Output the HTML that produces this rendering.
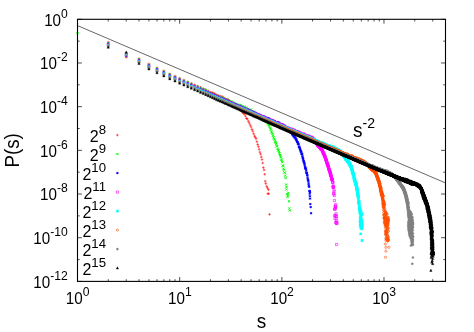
<!DOCTYPE html>
<html><head><meta charset="utf-8"><title>P(s)</title><style>html,body{margin:0;padding:0;background:#fff}svg{display:block}</style></head><body>
<svg width="474" height="332" viewBox="0 0 474 332" font-family="'Liberation Sans', sans-serif" fill="#000">
<rect width="474" height="332" fill="#fff"/>
<g stroke-linecap="butt">
<path fill="none" stroke="#ff0000" stroke-width="0.6" d="M106.95 42.26h2.6M108.25 40.96v2.6M124.94 57.34h2.6M126.24 56.04v2.6M137.71 58.56h2.6M139.01 57.26v2.6M147.61 63.96h2.6M148.91 62.66v2.6M155.70 67.76h2.6M157.0 66.46v2.6M162.54 70.86h2.6M163.84 69.56v2.6M168.46 73.86h2.6M169.76 72.56v2.6M173.69 76.06h2.6M174.99 74.76v2.6M178.36 78.16h2.6M179.66 76.86v2.6M182.59 80.03h2.6M183.89 78.73v2.6M186.45 81.74h2.6M187.75 80.44v2.6M190.00 83.32h2.6M191.3 82.02v2.6M193.29 84.83h2.6M194.59 83.53v2.6M196.35 86.07h2.6M197.65 84.77v2.6M199.22 87.2h2.6M200.52 85.90v2.6M201.91 88.48h2.6M203.21 87.18v2.6M204.44 89.44h2.6M205.74 88.14v2.6M206.84 90.8h2.6M208.14 89.50v2.6M209.12 92.24h2.6M210.42 90.94v2.6M211.28 92.56h2.6M212.58 91.26v2.6M213.35 93.41h2.6M214.65 92.11v2.6M215.32 94.74h2.6M216.62 93.44v2.6M217.21 95.54h2.6M218.51 94.24v2.6M219.02 96.22h2.6M220.32 94.92v2.6M220.76 96.44h2.6M222.06 95.14v2.6M222.43 97.67h2.6M223.73 96.37v2.6M224.05 98.83h2.6M225.35 97.53v2.6M225.60 99.09h2.6M226.9 97.79v2.6M227.11 99.68h2.6M228.41 98.38v2.6M228.56 100.97h2.6M229.86 99.67v2.6M229.97 102.21h2.6M231.27 100.91v2.6M231.34 103.04h2.6M232.64 101.74v2.6M232.66 104.13h2.6M233.96 102.83v2.6M233.95 105.55h2.6M235.25 104.25v2.6M235.20 106.47h2.6M236.5 105.17v2.6M236.41 107.41h2.6M237.71 106.11v2.6M237.60 108.47h2.6M238.9 107.17v2.6M238.75 110.05h2.6M240.05 108.75v2.6M239.87 110.77h2.6M241.17 109.47v2.6M240.97 112.1h2.6M242.27 110.80v2.6M242.04 113.32h2.6M243.34 112.02v2.6M243.08 114.08h2.6M244.38 112.78v2.6M244.10 116.08h2.6M245.4 114.78v2.6M245.10 118.46h2.6M246.4 117.16v2.6M246.07 118.93h2.6M247.37 117.63v2.6M247.03 121.23h2.6M248.33 119.93v2.6M247.96 122.99h2.6M249.26 121.69v2.6M248.88 125.04h2.6M250.18 123.74v2.6M249.77 126.91h2.6M251.07 125.61v2.6M250.65 129.38h2.6M251.95 128.08v2.6M251.51 131.13h2.6M252.81 129.83v2.6M252.36 133.72h2.6M253.66 132.42v2.6M253.19 136.05h2.6M254.49 134.75v2.6M254.00 137.26h2.6M255.3 135.96v2.6M254.80 138.74h2.6M256.1 137.44v2.6M255.59 141.67h2.6M256.89 140.37v2.6M256.36 144.44h2.6M257.66 143.14v2.6M257.12 146.73h2.6M258.42 145.43v2.6M257.86 149.34h2.6M259.16 148.04v2.6M258.60 152.13h2.6M259.9 150.83v2.6M259.32 154.12h2.6M260.62 152.82v2.6M260.03 156.98h2.6M261.33 155.68v2.6M260.73 159.61h2.6M262.03 158.31v2.6M261.41 163.0h2.6M262.71 161.70v2.6M262.09 167.58h2.6M263.39 166.28v2.6M262.76 169.96h2.6M264.06 168.66v2.6M263.42 174.27h2.6M264.72 172.97v2.6M263.90 181.2h2.6M265.2 179.90v2.6M264.50 183.6h2.6M265.8 182.30v2.6M265.40 186.3h2.6M266.7 185.00v2.6M266.20 188h2.6M267.5 186.70v2.6M267.20 189.7h2.6M268.5 188.40v2.6M266.50 193.7h2.6M267.8 192.40v2.6M267.40 193.7h2.6M268.7 192.40v2.6M268.20 214.4h2.6M269.5 213.10v2.6M116.10 135.1h2.6M117.4 133.80v2.6"/>
<path fill="none" stroke="#00ff00" stroke-width="1.0" d="M76.45 32.15l2.1 2.1M76.45 34.25l2.1-2.1M107.20 41.93l2.1 2.1M107.20 44.03l2.1-2.1M125.19 55.57l2.1 2.1M125.19 57.67l2.1-2.1M137.96 58.23l2.1 2.1M137.96 60.33l2.1-2.1M147.86 63.63l2.1 2.1M147.86 65.73l2.1-2.1M155.95 67.43l2.1 2.1M155.95 69.53l2.1-2.1M162.79 70.53l2.1 2.1M162.79 72.63l2.1-2.1M168.71 73.53l2.1 2.1M168.71 75.63l2.1-2.1M173.94 75.73l2.1 2.1M173.94 77.83l2.1-2.1M178.61 77.83l2.1 2.1M178.61 79.93l2.1-2.1M182.84 79.70l2.1 2.1M182.84 81.80l2.1-2.1M186.70 81.41l2.1 2.1M186.70 83.51l2.1-2.1M190.25 82.87l2.1 2.1M190.25 84.97l2.1-2.1M193.54 84.48l2.1 2.1M193.54 86.58l2.1-2.1M196.60 85.64l2.1 2.1M196.60 87.74l2.1-2.1M199.47 86.86l2.1 2.1M199.47 88.96l2.1-2.1M202.16 88.23l2.1 2.1M202.16 90.33l2.1-2.1M204.69 89.28l2.1 2.1M204.69 91.38l2.1-2.1M207.09 90.47l2.1 2.1M207.09 92.57l2.1-2.1M209.37 91.75l2.1 2.1M209.37 93.85l2.1-2.1M211.53 92.30l2.1 2.1M211.53 94.40l2.1-2.1M213.60 93.24l2.1 2.1M213.60 95.34l2.1-2.1M215.57 94.23l2.1 2.1M215.57 96.33l2.1-2.1M217.46 95.12l2.1 2.1M217.46 97.22l2.1-2.1M219.27 95.81l2.1 2.1M219.27 97.91l2.1-2.1M221.01 96.57l2.1 2.1M221.01 98.67l2.1-2.1M222.68 97.50l2.1 2.1M222.68 99.60l2.1-2.1M224.30 98.18l2.1 2.1M224.30 100.28l2.1-2.1M225.85 98.51l2.1 2.1M225.85 100.61l2.1-2.1M227.36 99.40l2.1 2.1M227.36 101.50l2.1-2.1M228.81 100.08l2.1 2.1M228.81 102.18l2.1-2.1M230.22 100.39l2.1 2.1M230.22 102.49l2.1-2.1M231.59 101.37l2.1 2.1M231.59 103.47l2.1-2.1M232.91 101.60l2.1 2.1M232.91 103.70l2.1-2.1M234.20 102.76l2.1 2.1M234.20 104.86l2.1-2.1M235.45 103.06l2.1 2.1M235.45 105.16l2.1-2.1M236.66 103.56l2.1 2.1M236.66 105.66l2.1-2.1M237.85 103.81l2.1 2.1M237.85 105.91l2.1-2.1M239.00 104.50l2.1 2.1M239.00 106.60l2.1-2.1M240.12 104.19l2.1 2.1M240.12 106.29l2.1-2.1M241.22 105.02l2.1 2.1M241.22 107.12l2.1-2.1M242.29 106.17l2.1 2.1M242.29 108.27l2.1-2.1M243.33 105.42l2.1 2.1M243.33 107.52l2.1-2.1M244.35 107.33l2.1 2.1M244.35 109.43l2.1-2.1M245.35 106.43l2.1 2.1M245.35 108.53l2.1-2.1M246.32 108.19l2.1 2.1M246.32 110.29l2.1-2.1M247.28 107.71l2.1 2.1M247.28 109.81l2.1-2.1M248.21 109.06l2.1 2.1M248.21 111.16l2.1-2.1M249.13 109.09l2.1 2.1M249.13 111.19l2.1-2.1M250.02 108.43l2.1 2.1M250.02 110.53l2.1-2.1M250.90 110.39l2.1 2.1M250.90 112.49l2.1-2.1M251.76 110.30l2.1 2.1M251.76 112.40l2.1-2.1M252.61 110.62l2.1 2.1M252.61 112.72l2.1-2.1M253.44 111.25l2.1 2.1M253.44 113.35l2.1-2.1M254.25 111.75l2.1 2.1M254.25 113.85l2.1-2.1M255.05 112.14l2.1 2.1M255.05 114.24l2.1-2.1M255.84 113.00l2.1 2.1M255.84 115.10l2.1-2.1M256.61 113.73l2.1 2.1M256.61 115.83l2.1-2.1M257.37 114.17l2.1 2.1M257.37 116.27l2.1-2.1M258.11 114.87l2.1 2.1M258.11 116.97l2.1-2.1M258.85 115.29l2.1 2.1M258.85 117.39l2.1-2.1M259.57 115.69l2.1 2.1M259.57 117.79l2.1-2.1M260.28 116.34l2.1 2.1M260.28 118.44l2.1-2.1M260.98 117.42l2.1 2.1M260.98 119.52l2.1-2.1M261.66 117.28l2.1 2.1M261.66 119.38l2.1-2.1M262.34 118.13l2.1 2.1M262.34 120.23l2.1-2.1M263.01 119.18l2.1 2.1M263.01 121.28l2.1-2.1M263.67 119.40l2.1 2.1M263.67 121.50l2.1-2.1M264.31 119.97l2.1 2.1M264.31 122.07l2.1-2.1M264.95 120.38l2.1 2.1M264.95 122.48l2.1-2.1M265.58 120.73l2.1 2.1M265.58 122.83l2.1-2.1M266.20 121.45l2.1 2.1M266.20 123.55l2.1-2.1M266.81 122.60l2.1 2.1M266.81 124.70l2.1-2.1M267.42 123.25l2.1 2.1M267.42 125.35l2.1-2.1M268.01 124.18l2.1 2.1M268.01 126.28l2.1-2.1M268.60 125.51l2.1 2.1M268.60 127.61l2.1-2.1M269.18 127.24l2.1 2.1M269.18 129.34l2.1-2.1M269.75 128.44l2.1 2.1M269.75 130.54l2.1-2.1M270.32 130.42l2.1 2.1M270.32 132.52l2.1-2.1M270.88 131.50l2.1 2.1M270.88 133.60l2.1-2.1M271.43 132.96l2.1 2.1M271.43 135.06l2.1-2.1M271.97 134.67l2.1 2.1M271.97 136.77l2.1-2.1M272.51 136.50l2.1 2.1M272.51 138.60l2.1-2.1M273.04 137.39l2.1 2.1M273.04 139.49l2.1-2.1M273.57 138.78l2.1 2.1M273.57 140.88l2.1-2.1M274.09 141.32l2.1 2.1M274.09 143.42l2.1-2.1M274.60 140.84l2.1 2.1M274.60 142.94l2.1-2.1M275.11 142.78l2.1 2.1M275.11 144.88l2.1-2.1M275.61 145.19l2.1 2.1M275.61 147.29l2.1-2.1M276.10 145.29l2.1 2.1M276.10 147.39l2.1-2.1M276.59 147.92l2.1 2.1M276.59 150.02l2.1-2.1M277.08 149.24l2.1 2.1M277.08 151.34l2.1-2.1M277.56 149.46l2.1 2.1M277.56 151.56l2.1-2.1M278.03 151.22l2.1 2.1M278.03 153.32l2.1-2.1M278.50 152.42l2.1 2.1M278.50 154.52l2.1-2.1M278.97 154.04l2.1 2.1M278.97 156.14l2.1-2.1M279.43 155.17l2.1 2.1M279.43 157.27l2.1-2.1M279.88 156.54l2.1 2.1M279.88 158.64l2.1-2.1M280.33 158.61l2.1 2.1M280.33 160.71l2.1-2.1M280.78 159.52l2.1 2.1M280.78 161.62l2.1-2.1M281.22 161.12l2.1 2.1M281.22 163.22l2.1-2.1M281.66 164.50l2.1 2.1M281.66 166.60l2.1-2.1M282.09 164.64l2.1 2.1M282.09 166.74l2.1-2.1M282.52 167.60l2.1 2.1M282.52 169.70l2.1-2.1M282.94 168.64l2.1 2.1M282.94 170.74l2.1-2.1M283.36 171.39l2.1 2.1M283.36 173.49l2.1-2.1M283.78 171.65l2.1 2.1M283.78 173.75l2.1-2.1M284.19 174.59l2.1 2.1M284.19 176.69l2.1-2.1M284.60 177.14l2.1 2.1M284.60 179.24l2.1-2.1M285.01 183.51l2.1 2.1M285.01 185.61l2.1-2.1M285.41 186.00l2.1 2.1M285.41 188.10l2.1-2.1M285.25 188.45l2.1 2.1M285.25 190.55l2.1-2.1M287.25 191.85l2.1 2.1M287.25 193.95l2.1-2.1M285.85 193.15l2.1 2.1M285.85 195.25l2.1-2.1M286.55 195.85l2.1 2.1M286.55 197.95l2.1-2.1M286.85 194.15l2.1 2.1M286.85 196.25l2.1-2.1M287.95 200.25l2.1 2.1M287.95 202.35l2.1-2.1M288.35 207.45l2.1 2.1M288.35 209.55l2.1-2.1M288.85 209.45l2.1 2.1M288.85 211.55l2.1-2.1M116.35 153.05l2.1 2.1M116.35 155.15l2.1-2.1"/>
<path fill="none" stroke="#0000ff" stroke-width="0.75" d="M107.05 43.7h2.4M108.25 42.50v2.4M107.35 42.80l1.8 1.8M107.35 44.60l1.8-1.8M125.04 55.9h2.4M126.24 54.70v2.4M125.34 55.00l1.8 1.8M125.34 56.80l1.8-1.8M137.81 60.0h2.4M139.01 58.80v2.4M138.11 59.10l1.8 1.8M138.11 60.90l1.8-1.8M147.71 65.4h2.4M148.91 64.20v2.4M148.01 64.50l1.8 1.8M148.01 66.30l1.8-1.8M155.80 69.2h2.4M157.0 68.00v2.4M156.10 68.30l1.8 1.8M156.10 70.10l1.8-1.8M162.64 72.3h2.4M163.84 71.10v2.4M162.94 71.40l1.8 1.8M162.94 73.20l1.8-1.8M168.56 75.3h2.4M169.76 74.10v2.4M168.86 74.40l1.8 1.8M168.86 76.20l1.8-1.8M173.79 77.5h2.4M174.99 76.30v2.4M174.09 76.60l1.8 1.8M174.09 78.40l1.8-1.8M178.46 79.6h2.4M179.66 78.40v2.4M178.76 78.70l1.8 1.8M178.76 80.50l1.8-1.8M182.69 81.47h2.4M183.89 80.27v2.4M182.99 80.57l1.8 1.8M182.99 82.37l1.8-1.8M186.55 83.18h2.4M187.75 81.98v2.4M186.85 82.28l1.8 1.8M186.85 84.08l1.8-1.8M190.10 84.68h2.4M191.3 83.48v2.4M190.40 83.78l1.8 1.8M190.40 85.58l1.8-1.8M193.39 86.3h2.4M194.59 85.10v2.4M193.69 85.40l1.8 1.8M193.69 87.20l1.8-1.8M196.45 87.58h2.4M197.65 86.38v2.4M196.75 86.68l1.8 1.8M196.75 88.48l1.8-1.8M199.32 88.84h2.4M200.52 87.64v2.4M199.62 87.94l1.8 1.8M199.62 89.74l1.8-1.8M202.01 90.03h2.4M203.21 88.83v2.4M202.31 89.13l1.8 1.8M202.31 90.93l1.8-1.8M204.54 91.16h2.4M205.74 89.96v2.4M204.84 90.26l1.8 1.8M204.84 92.06l1.8-1.8M206.94 92.28h2.4M208.14 91.08v2.4M207.24 91.38l1.8 1.8M207.24 93.18l1.8-1.8M209.22 93.27h2.4M210.42 92.07v2.4M209.52 92.37l1.8 1.8M209.52 94.17l1.8-1.8M211.38 94.2h2.4M212.58 93.00v2.4M211.68 93.30l1.8 1.8M211.68 95.10l1.8-1.8M213.45 95.01h2.4M214.65 93.81v2.4M213.75 94.11l1.8 1.8M213.75 95.91l1.8-1.8M215.42 96.01h2.4M216.62 94.81v2.4M215.72 95.11l1.8 1.8M215.72 96.91l1.8-1.8M217.31 96.75h2.4M218.51 95.55v2.4M217.61 95.85l1.8 1.8M217.61 97.65l1.8-1.8M219.12 97.71h2.4M220.32 96.51v2.4M219.42 96.81l1.8 1.8M219.42 98.61l1.8-1.8M220.86 98.27h2.4M222.06 97.07v2.4M221.16 97.37l1.8 1.8M221.16 99.17l1.8-1.8M222.53 99.11h2.4M223.73 97.91v2.4M222.83 98.21l1.8 1.8M222.83 100.01l1.8-1.8M224.15 99.84h2.4M225.35 98.64v2.4M224.45 98.94l1.8 1.8M224.45 100.74l1.8-1.8M225.70 100.4h2.4M226.9 99.20v2.4M226.00 99.50l1.8 1.8M226.00 101.30l1.8-1.8M227.21 101.36h2.4M228.41 100.16v2.4M227.51 100.46l1.8 1.8M227.51 102.26l1.8-1.8M228.66 101.98h2.4M229.86 100.78v2.4M228.96 101.08l1.8 1.8M228.96 102.88l1.8-1.8M230.07 102.41h2.4M231.27 101.21v2.4M230.37 101.51l1.8 1.8M230.37 103.31l1.8-1.8M231.44 103.14h2.4M232.64 101.94v2.4M231.74 102.24l1.8 1.8M231.74 104.04l1.8-1.8M232.76 103.68h2.4M233.96 102.48v2.4M233.06 102.78l1.8 1.8M233.06 104.58l1.8-1.8M234.05 103.92h2.4M235.25 102.72v2.4M234.35 103.02l1.8 1.8M234.35 104.82l1.8-1.8M235.30 104.79h2.4M236.5 103.59v2.4M235.60 103.89l1.8 1.8M235.60 105.69l1.8-1.8M236.51 105.29h2.4M237.71 104.09v2.4M236.81 104.39l1.8 1.8M236.81 106.19l1.8-1.8M237.70 105.82h2.4M238.9 104.62v2.4M238.00 104.92l1.8 1.8M238.00 106.72l1.8-1.8M238.85 106.18h2.4M240.05 104.98v2.4M239.15 105.28l1.8 1.8M239.15 107.08l1.8-1.8M239.97 106.78h2.4M241.17 105.58v2.4M240.27 105.88l1.8 1.8M240.27 107.68l1.8-1.8M241.07 107.27h2.4M242.27 106.07v2.4M241.37 106.37l1.8 1.8M241.37 108.17l1.8-1.8M242.14 107.94h2.4M243.34 106.74v2.4M242.44 107.04l1.8 1.8M242.44 108.84l1.8-1.8M243.18 108.28h2.4M244.38 107.08v2.4M243.48 107.38l1.8 1.8M243.48 109.18l1.8-1.8M244.20 108.68h2.4M245.4 107.48v2.4M244.50 107.78l1.8 1.8M244.50 109.58l1.8-1.8M245.20 109.36h2.4M246.4 108.16v2.4M245.50 108.46l1.8 1.8M245.50 110.26l1.8-1.8M246.17 109.45h2.4M247.37 108.25v2.4M246.47 108.55l1.8 1.8M246.47 110.35l1.8-1.8M247.13 109.9h2.4M248.33 108.70v2.4M247.43 109.00l1.8 1.8M247.43 110.80l1.8-1.8M248.06 110.05h2.4M249.26 108.85v2.4M248.36 109.15l1.8 1.8M248.36 110.95l1.8-1.8M248.98 111.06h2.4M250.18 109.86v2.4M249.28 110.16l1.8 1.8M249.28 111.96l1.8-1.8M249.87 111.35h2.4M251.07 110.15v2.4M250.17 110.45l1.8 1.8M250.17 112.25l1.8-1.8M250.75 111.74h2.4M251.95 110.54v2.4M251.05 110.84l1.8 1.8M251.05 112.64l1.8-1.8M251.61 112.07h2.4M252.81 110.87v2.4M251.91 111.17l1.8 1.8M251.91 112.97l1.8-1.8M252.46 112.33h2.4M253.66 111.13v2.4M252.76 111.43l1.8 1.8M252.76 113.23l1.8-1.8M253.29 112.72h2.4M254.49 111.52v2.4M253.59 111.82l1.8 1.8M253.59 113.62l1.8-1.8M254.10 112.98h2.4M255.3 111.78v2.4M254.40 112.08l1.8 1.8M254.40 113.88l1.8-1.8M254.90 113.34h2.4M256.1 112.14v2.4M255.20 112.44l1.8 1.8M255.20 114.24l1.8-1.8M255.69 113.74h2.4M256.89 112.54v2.4M255.99 112.84l1.8 1.8M255.99 114.64l1.8-1.8M256.46 114.44h2.4M257.66 113.24v2.4M256.76 113.54l1.8 1.8M256.76 115.34l1.8-1.8M257.22 114.54h2.4M258.42 113.34v2.4M257.52 113.64l1.8 1.8M257.52 115.44l1.8-1.8M257.96 114.72h2.4M259.16 113.52v2.4M258.26 113.82l1.8 1.8M258.26 115.62l1.8-1.8M258.70 114.9h2.4M259.9 113.70v2.4M259.00 114.00l1.8 1.8M259.00 115.80l1.8-1.8M259.42 115.2h2.4M260.62 114.00v2.4M259.72 114.30l1.8 1.8M259.72 116.10l1.8-1.8M260.13 116.14h2.4M261.33 114.94v2.4M260.43 115.24l1.8 1.8M260.43 117.04l1.8-1.8M260.83 116.14h2.4M262.03 114.94v2.4M261.13 115.24l1.8 1.8M261.13 117.04l1.8-1.8M261.51 116.31h2.4M262.71 115.11v2.4M261.81 115.41l1.8 1.8M261.81 117.21l1.8-1.8M262.19 116.48h2.4M263.39 115.28v2.4M262.49 115.58l1.8 1.8M262.49 117.38l1.8-1.8M262.86 116.53h2.4M264.06 115.33v2.4M263.16 115.63l1.8 1.8M263.16 117.43l1.8-1.8M263.52 117.15h2.4M264.72 115.95v2.4M263.82 116.25l1.8 1.8M263.82 118.05l1.8-1.8M264.16 117.75h2.4M265.36 116.55v2.4M264.46 116.85l1.8 1.8M264.46 118.65l1.8-1.8M264.80 117.61h2.4M266.0 116.41v2.4M265.10 116.71l1.8 1.8M265.10 118.51l1.8-1.8M265.43 117.94h2.4M266.63 116.74v2.4M265.73 117.04l1.8 1.8M265.73 118.84l1.8-1.8M266.05 118.21h2.4M267.25 117.01v2.4M266.35 117.31l1.8 1.8M266.35 119.11l1.8-1.8M266.66 118.6h2.4M267.86 117.40v2.4M266.96 117.70l1.8 1.8M266.96 119.50l1.8-1.8M267.27 118.22h2.4M268.47 117.02v2.4M267.57 117.32l1.8 1.8M267.57 119.12l1.8-1.8M267.86 119.0h2.4M269.06 117.80v2.4M268.16 118.10l1.8 1.8M268.16 119.90l1.8-1.8M268.45 119.0h2.4M269.65 117.80v2.4M268.75 118.10l1.8 1.8M268.75 119.90l1.8-1.8M269.03 119.96h2.4M270.23 118.76v2.4M269.33 119.06l1.8 1.8M269.33 120.86l1.8-1.8M269.60 119.53h2.4M270.8 118.33v2.4M269.90 118.63l1.8 1.8M269.90 120.43l1.8-1.8M270.17 120.35h2.4M271.37 119.15v2.4M270.47 119.45l1.8 1.8M270.47 121.25l1.8-1.8M270.73 121.02h2.4M271.93 119.82v2.4M271.03 120.12l1.8 1.8M271.03 121.92l1.8-1.8M271.28 120.45h2.4M272.48 119.25v2.4M271.58 119.55l1.8 1.8M271.58 121.35l1.8-1.8M271.82 120.55h2.4M273.02 119.35v2.4M272.12 119.65l1.8 1.8M272.12 121.45l1.8-1.8M272.36 121.16h2.4M273.56 119.96v2.4M272.66 120.26l1.8 1.8M272.66 122.06l1.8-1.8M272.89 121.3h2.4M274.09 120.10v2.4M273.19 120.40l1.8 1.8M273.19 122.20l1.8-1.8M273.42 121.04h2.4M274.62 119.84v2.4M273.72 120.14l1.8 1.8M273.72 121.94l1.8-1.8M273.94 121.99h2.4M275.14 120.79v2.4M274.24 121.09l1.8 1.8M274.24 122.89l1.8-1.8M274.45 123.01h2.4M275.65 121.81v2.4M274.75 122.11l1.8 1.8M274.75 123.91l1.8-1.8M274.96 122.07h2.4M276.16 120.87v2.4M275.26 121.17l1.8 1.8M275.26 122.97l1.8-1.8M275.46 122.32h2.4M276.66 121.12v2.4M275.76 121.42l1.8 1.8M275.76 123.22l1.8-1.8M275.95 122.08h2.4M277.15 120.88v2.4M276.25 121.18l1.8 1.8M276.25 122.98l1.8-1.8M276.44 123.04h2.4M277.64 121.84v2.4M276.74 122.14l1.8 1.8M276.74 123.94l1.8-1.8M276.93 122.37h2.4M278.13 121.17v2.4M277.23 121.47l1.8 1.8M277.23 123.27l1.8-1.8M277.41 122.65h2.4M278.61 121.45v2.4M277.71 121.75l1.8 1.8M277.71 123.55l1.8-1.8M277.88 124.24h2.4M279.08 123.04v2.4M278.18 123.34l1.8 1.8M278.18 125.14l1.8-1.8M278.35 123.16h2.4M279.55 121.96v2.4M278.65 122.26l1.8 1.8M278.65 124.06l1.8-1.8M278.82 124.56h2.4M280.02 123.36v2.4M279.12 123.66l1.8 1.8M279.12 125.46l1.8-1.8M279.28 125.05h2.4M280.48 123.85v2.4M279.58 124.15l1.8 1.8M279.58 125.95l1.8-1.8M279.73 124.46h2.4M280.93 123.26v2.4M280.03 123.56l1.8 1.8M280.03 125.36l1.8-1.8M280.18 125.21h2.4M281.38 124.01v2.4M280.48 124.31l1.8 1.8M280.48 126.11l1.8-1.8M280.63 124.44h2.4M281.83 123.24v2.4M280.93 123.54l1.8 1.8M280.93 125.34l1.8-1.8M281.07 124.58h2.4M282.27 123.38v2.4M281.37 123.68l1.8 1.8M281.37 125.48l1.8-1.8M281.51 125.6h2.4M282.71 124.40v2.4M281.81 124.70l1.8 1.8M281.81 126.50l1.8-1.8M281.94 124.93h2.4M283.14 123.73v2.4M282.24 124.03l1.8 1.8M282.24 125.83l1.8-1.8M282.37 125.39h2.4M283.57 124.19v2.4M282.67 124.49l1.8 1.8M282.67 126.29l1.8-1.8M282.79 125.79h2.4M283.99 124.59v2.4M283.09 124.89l1.8 1.8M283.09 126.69l1.8-1.8M283.21 126.21h2.4M284.41 125.01v2.4M283.51 125.31l1.8 1.8M283.51 127.11l1.8-1.8M283.63 126.37h2.4M284.83 125.17v2.4M283.93 125.47l1.8 1.8M283.93 127.27l1.8-1.8M284.04 126.64h2.4M285.24 125.44v2.4M284.34 125.74l1.8 1.8M284.34 127.54l1.8-1.8M284.45 127.69h2.4M285.65 126.49v2.4M284.75 126.79l1.8 1.8M284.75 128.59l1.8-1.8M284.86 127.2h2.4M286.06 126.00v2.4M285.16 126.30l1.8 1.8M285.16 128.10l1.8-1.8M285.26 127.6h2.4M286.46 126.40v2.4M285.56 126.70l1.8 1.8M285.56 128.50l1.8-1.8M285.66 127.51h2.4M286.86 126.31v2.4M285.96 126.61l1.8 1.8M285.96 128.41l1.8-1.8M286.05 128.61h2.4M287.25 127.41v2.4M286.35 127.71l1.8 1.8M286.35 129.51l1.8-1.8M286.44 127.98h2.4M287.64 126.78v2.4M286.74 127.08l1.8 1.8M286.74 128.88l1.8-1.8M286.83 128.85h2.4M288.03 127.65v2.4M287.13 127.95l1.8 1.8M287.13 129.75l1.8-1.8M287.21 130.06h2.4M288.41 128.86v2.4M287.51 129.16l1.8 1.8M287.51 130.96l1.8-1.8M287.59 129.3h2.4M288.79 128.10v2.4M287.89 128.40l1.8 1.8M287.89 130.20l1.8-1.8M287.97 130.11h2.4M289.17 128.91v2.4M288.27 129.21l1.8 1.8M288.27 131.01l1.8-1.8M288.35 130.27h2.4M289.55 129.07v2.4M288.65 129.37l1.8 1.8M288.65 131.17l1.8-1.8M288.72 130.7h2.4M289.92 129.50v2.4M289.02 129.80l1.8 1.8M289.02 131.60l1.8-1.8M289.09 131.95h2.4M290.29 130.75v2.4M289.39 131.05l1.8 1.8M289.39 132.85l1.8-1.8M289.45 131.81h2.4M290.65 130.61v2.4M289.75 130.91l1.8 1.8M289.75 132.71l1.8-1.8M289.81 132.12h2.4M291.01 130.92v2.4M290.11 131.22l1.8 1.8M290.11 133.02l1.8-1.8M290.17 132.49h2.4M291.37 131.29v2.4M290.47 131.59l1.8 1.8M290.47 133.39l1.8-1.8M290.53 132.74h2.4M291.73 131.54v2.4M290.83 131.84l1.8 1.8M290.83 133.64l1.8-1.8M290.88 133.79h2.4M292.08 132.59v2.4M291.18 132.89l1.8 1.8M291.18 134.69l1.8-1.8M291.23 134.45h2.4M292.43 133.25v2.4M291.53 133.55l1.8 1.8M291.53 135.35l1.8-1.8M291.58 134.5h2.4M292.78 133.30v2.4M291.88 133.60l1.8 1.8M291.88 135.40l1.8-1.8M291.93 135.29h2.4M293.13 134.09v2.4M292.23 134.39l1.8 1.8M292.23 136.19l1.8-1.8M292.27 135.97h2.4M293.47 134.77v2.4M292.57 135.07l1.8 1.8M292.57 136.87l1.8-1.8M292.61 135.58h2.4M293.81 134.38v2.4M292.91 134.68l1.8 1.8M292.91 136.48l1.8-1.8M292.95 136.65h2.4M294.15 135.45v2.4M293.25 135.75l1.8 1.8M293.25 137.55l1.8-1.8M293.28 136.34h2.4M294.48 135.14v2.4M293.58 135.44l1.8 1.8M293.58 137.24l1.8-1.8M293.61 137.51h2.4M294.81 136.31v2.4M293.91 136.61l1.8 1.8M293.91 138.41l1.8-1.8M293.94 137.6h2.4M295.14 136.40v2.4M294.24 136.70l1.8 1.8M294.24 138.50l1.8-1.8M294.27 138.23h2.4M295.47 137.03v2.4M294.57 137.33l1.8 1.8M294.57 139.13l1.8-1.8M294.60 139.1h2.4M295.8 137.90v2.4M294.90 138.20l1.8 1.8M294.90 140.00l1.8-1.8M294.92 139.68h2.4M296.12 138.48v2.4M295.22 138.78l1.8 1.8M295.22 140.58l1.8-1.8M295.24 139.52h2.4M296.44 138.32v2.4M295.54 138.62l1.8 1.8M295.54 140.42l1.8-1.8M295.56 141.17h2.4M296.76 139.97v2.4M295.86 140.27l1.8 1.8M295.86 142.07l1.8-1.8M295.87 141.48h2.4M297.07 140.28v2.4M296.17 140.58l1.8 1.8M296.17 142.38l1.8-1.8M296.19 141.87h2.4M297.39 140.67v2.4M296.49 140.97l1.8 1.8M296.49 142.77l1.8-1.8M296.50 142.3h2.4M297.7 141.10v2.4M296.80 141.40l1.8 1.8M296.80 143.20l1.8-1.8M296.81 143.62h2.4M298.01 142.42v2.4M297.11 142.72l1.8 1.8M297.11 144.52l1.8-1.8M297.11 143.88h2.4M298.31 142.68v2.4M297.41 142.98l1.8 1.8M297.41 144.78l1.8-1.8M297.42 144.47h2.4M298.62 143.27v2.4M297.72 143.57l1.8 1.8M297.72 145.37l1.8-1.8M297.72 146.76h2.4M298.92 145.56v2.4M298.02 145.86l1.8 1.8M298.02 147.66l1.8-1.8M298.02 146.77h2.4M299.22 145.57v2.4M298.32 145.87l1.8 1.8M298.32 147.67l1.8-1.8M298.32 147.52h2.4M299.52 146.32v2.4M298.62 146.62l1.8 1.8M298.62 148.42l1.8-1.8M298.62 148.61h2.4M299.82 147.41v2.4M298.92 147.71l1.8 1.8M298.92 149.51l1.8-1.8M298.91 149.1h2.4M300.11 147.90v2.4M299.21 148.20l1.8 1.8M299.21 150.00l1.8-1.8M299.21 150.18h2.4M300.41 148.98v2.4M299.51 149.28l1.8 1.8M299.51 151.08l1.8-1.8M299.50 150.95h2.4M300.7 149.75v2.4M299.80 150.05l1.8 1.8M299.80 151.85l1.8-1.8M299.79 151.78h2.4M300.99 150.58v2.4M300.09 150.88l1.8 1.8M300.09 152.68l1.8-1.8M300.07 152.02h2.4M301.27 150.82v2.4M300.37 151.12l1.8 1.8M300.37 152.92l1.8-1.8M300.36 153.83h2.4M301.56 152.63v2.4M300.66 152.93l1.8 1.8M300.66 154.73l1.8-1.8M300.64 153.78h2.4M301.84 152.58v2.4M300.94 152.88l1.8 1.8M300.94 154.68l1.8-1.8M300.92 154.48h2.4M302.12 153.28v2.4M301.22 153.58l1.8 1.8M301.22 155.38l1.8-1.8M301.20 156.35h2.4M302.4 155.15v2.4M301.50 155.45l1.8 1.8M301.50 157.25l1.8-1.8M301.48 157.63h2.4M302.68 156.43v2.4M301.78 156.73l1.8 1.8M301.78 158.53l1.8-1.8M301.76 158.51h2.4M302.96 157.31v2.4M302.06 157.61l1.8 1.8M302.06 159.41l1.8-1.8M302.03 159.31h2.4M303.23 158.11v2.4M302.33 158.41l1.8 1.8M302.33 160.21l1.8-1.8M302.31 161.11h2.4M303.51 159.91v2.4M302.61 160.21l1.8 1.8M302.61 162.01l1.8-1.8M302.58 161.32h2.4M303.78 160.12v2.4M302.88 160.42l1.8 1.8M302.88 162.22l1.8-1.8M302.85 162.15h2.4M304.05 160.95v2.4M303.15 161.25l1.8 1.8M303.15 163.05l1.8-1.8M303.11 163.47h2.4M304.31 162.27v2.4M303.41 162.57l1.8 1.8M303.41 164.37l1.8-1.8M303.38 164.26h2.4M304.58 163.06v2.4M303.68 163.36l1.8 1.8M303.68 165.16l1.8-1.8M303.65 166.1h2.4M304.85 164.90v2.4M303.95 165.20l1.8 1.8M303.95 167.00l1.8-1.8M303.91 167.87h2.4M305.11 166.67v2.4M304.21 166.97l1.8 1.8M304.21 168.77l1.8-1.8M304.17 167.56h2.4M305.37 166.36v2.4M304.47 166.66l1.8 1.8M304.47 168.46l1.8-1.8M304.43 168.69h2.4M305.63 167.49v2.4M304.73 167.79l1.8 1.8M304.73 169.59l1.8-1.8M304.69 168.73h2.4M305.89 167.53v2.4M304.99 167.83l1.8 1.8M304.99 169.63l1.8-1.8M304.95 170.65h2.4M306.15 169.45v2.4M305.25 169.75l1.8 1.8M305.25 171.55l1.8-1.8M305.20 172.62h2.4M306.4 171.42v2.4M305.50 171.72l1.8 1.8M305.50 173.52l1.8-1.8M305.46 173.01h2.4M306.66 171.81v2.4M305.76 172.11l1.8 1.8M305.76 173.91l1.8-1.8M305.71 173.18h2.4M306.91 171.98v2.4M306.01 172.28l1.8 1.8M306.01 174.08l1.8-1.8M305.96 175.13h2.4M307.16 173.93v2.4M306.26 174.23l1.8 1.8M306.26 176.03l1.8-1.8M306.21 175.58h2.4M307.41 174.38v2.4M306.51 174.68l1.8 1.8M306.51 176.48l1.8-1.8M306.46 177.95h2.4M307.66 176.75v2.4M306.76 177.05l1.8 1.8M306.76 178.85l1.8-1.8M306.71 180.12h2.4M307.91 178.92v2.4M307.01 179.22l1.8 1.8M307.01 181.02l1.8-1.8M306.95 179.83h2.4M308.15 178.63v2.4M307.25 178.93l1.8 1.8M307.25 180.73l1.8-1.8M307.20 181.69h2.4M308.4 180.49v2.4M307.50 180.79l1.8 1.8M307.50 182.59l1.8-1.8M307.44 183.84h2.4M308.64 182.64v2.4M307.74 182.94l1.8 1.8M307.74 184.74l1.8-1.8M307.68 185.67h2.4M308.88 184.47v2.4M307.98 184.77l1.8 1.8M307.98 186.57l1.8-1.8M307.92 186.85h2.4M309.12 185.65v2.4M308.22 185.95l1.8 1.8M308.22 187.75l1.8-1.8M308.16 190.98h2.4M309.36 189.78v2.4M308.46 190.08l1.8 1.8M308.46 191.88l1.8-1.8M308.40 193.7h2.4M309.6 192.50v2.4M308.70 192.80l1.8 1.8M308.70 194.60l1.8-1.8M308.64 190.99h2.4M309.84 189.79v2.4M308.94 190.09l1.8 1.8M308.94 191.89l1.8-1.8M308.87 192.25h2.4M310.07 191.05v2.4M309.17 191.35l1.8 1.8M309.17 193.15l1.8-1.8M308.80 198.6h2.4M310 197.40v2.4M309.10 197.70l1.8 1.8M309.10 199.50l1.8-1.8M309.10 204.1h2.4M310.3 202.90v2.4M309.40 203.20l1.8 1.8M309.40 205.00l1.8-1.8M309.50 207.1h2.4M310.7 205.90v2.4M309.80 206.20l1.8 1.8M309.80 208.00l1.8-1.8M309.90 213.2h2.4M311.1 212.00v2.4M310.20 212.30l1.8 1.8M310.20 214.10l1.8-1.8M308.70 196.2h2.4M309.9 195.00v2.4M309.00 195.30l1.8 1.8M309.00 197.10l1.8-1.8M116.20 173.1h2.4M117.4 171.90v2.4M116.50 172.20l1.8 1.8M116.50 174.00l1.8-1.8"/>
<path fill="none" stroke="#ff00ff" stroke-width="0.6" d="M107.15 43.32h2.2v2.2h-2.2zM125.14 54.08h2.2v2.2h-2.2zM137.91 59.62h2.2v2.2h-2.2zM147.81 65.02h2.2v2.2h-2.2zM155.90 68.82h2.2v2.2h-2.2zM162.74 71.92h2.2v2.2h-2.2zM168.66 74.92h2.2v2.2h-2.2zM173.89 77.12h2.2v2.2h-2.2zM178.56 79.22h2.2v2.2h-2.2zM182.79 81.09h2.2v2.2h-2.2zM186.65 82.80h2.2v2.2h-2.2zM190.20 84.37h2.2v2.2h-2.2zM193.49 85.75h2.2v2.2h-2.2zM196.55 87.24h2.2v2.2h-2.2zM199.42 88.45h2.2v2.2h-2.2zM202.11 89.67h2.2v2.2h-2.2zM204.64 90.76h2.2v2.2h-2.2zM207.04 91.78h2.2v2.2h-2.2zM209.32 92.77h2.2v2.2h-2.2zM211.48 93.78h2.2v2.2h-2.2zM213.55 94.67h2.2v2.2h-2.2zM215.52 95.61h2.2v2.2h-2.2zM217.41 96.43h2.2v2.2h-2.2zM219.22 97.12h2.2v2.2h-2.2zM220.96 98.01h2.2v2.2h-2.2zM222.63 98.64h2.2v2.2h-2.2zM224.25 99.41h2.2v2.2h-2.2zM225.80 100.12h2.2v2.2h-2.2zM227.31 100.65h2.2v2.2h-2.2zM228.76 101.47h2.2v2.2h-2.2zM230.17 102.09h2.2v2.2h-2.2zM231.54 102.67h2.2v2.2h-2.2zM232.86 103.23h2.2v2.2h-2.2zM234.15 103.80h2.2v2.2h-2.2zM235.40 104.30h2.2v2.2h-2.2zM236.61 104.89h2.2v2.2h-2.2zM237.80 105.39h2.2v2.2h-2.2zM238.95 105.95h2.2v2.2h-2.2zM240.07 106.34h2.2v2.2h-2.2zM241.17 106.94h2.2v2.2h-2.2zM242.24 107.40h2.2v2.2h-2.2zM243.28 107.84h2.2v2.2h-2.2zM244.30 108.26h2.2v2.2h-2.2zM245.30 108.78h2.2v2.2h-2.2zM246.27 109.02h2.2v2.2h-2.2zM247.23 109.62h2.2v2.2h-2.2zM248.16 110.02h2.2v2.2h-2.2zM249.08 110.42h2.2v2.2h-2.2zM249.97 110.83h2.2v2.2h-2.2zM250.85 111.12h2.2v2.2h-2.2zM251.71 111.53h2.2v2.2h-2.2zM252.56 111.99h2.2v2.2h-2.2zM253.39 112.33h2.2v2.2h-2.2zM254.20 112.67h2.2v2.2h-2.2zM255.00 112.86h2.2v2.2h-2.2zM255.79 113.40h2.2v2.2h-2.2zM256.56 113.81h2.2v2.2h-2.2zM257.32 114.12h2.2v2.2h-2.2zM258.06 114.38h2.2v2.2h-2.2zM258.80 114.51h2.2v2.2h-2.2zM259.52 115.09h2.2v2.2h-2.2zM260.23 115.29h2.2v2.2h-2.2zM260.93 115.34h2.2v2.2h-2.2zM261.61 115.96h2.2v2.2h-2.2zM262.29 116.04h2.2v2.2h-2.2zM262.96 116.36h2.2v2.2h-2.2zM263.62 116.72h2.2v2.2h-2.2zM264.26 117.23h2.2v2.2h-2.2zM264.90 117.32h2.2v2.2h-2.2zM265.53 117.67h2.2v2.2h-2.2zM266.15 118.13h2.2v2.2h-2.2zM266.76 118.38h2.2v2.2h-2.2zM267.37 118.43h2.2v2.2h-2.2zM267.96 118.68h2.2v2.2h-2.2zM268.55 118.80h2.2v2.2h-2.2zM269.13 119.13h2.2v2.2h-2.2zM269.70 119.53h2.2v2.2h-2.2zM270.27 119.78h2.2v2.2h-2.2zM270.83 119.98h2.2v2.2h-2.2zM271.38 120.36h2.2v2.2h-2.2zM271.92 120.33h2.2v2.2h-2.2zM272.46 120.68h2.2v2.2h-2.2zM272.99 121.04h2.2v2.2h-2.2zM273.52 121.24h2.2v2.2h-2.2zM274.04 121.55h2.2v2.2h-2.2zM274.55 121.67h2.2v2.2h-2.2zM275.06 121.78h2.2v2.2h-2.2zM275.56 122.11h2.2v2.2h-2.2zM276.05 122.09h2.2v2.2h-2.2zM276.54 122.19h2.2v2.2h-2.2zM277.03 122.80h2.2v2.2h-2.2zM277.51 122.90h2.2v2.2h-2.2zM277.98 123.17h2.2v2.2h-2.2zM278.45 123.00h2.2v2.2h-2.2zM278.92 123.46h2.2v2.2h-2.2zM279.38 123.60h2.2v2.2h-2.2zM279.83 123.74h2.2v2.2h-2.2zM280.28 123.65h2.2v2.2h-2.2zM280.73 124.24h2.2v2.2h-2.2zM281.17 124.69h2.2v2.2h-2.2zM281.61 124.77h2.2v2.2h-2.2zM282.04 124.74h2.2v2.2h-2.2zM282.47 125.05h2.2v2.2h-2.2zM282.89 125.41h2.2v2.2h-2.2zM283.31 124.77h2.2v2.2h-2.2zM283.73 125.57h2.2v2.2h-2.2zM284.14 125.91h2.2v2.2h-2.2zM284.55 126.12h2.2v2.2h-2.2zM284.96 126.55h2.2v2.2h-2.2zM285.36 126.58h2.2v2.2h-2.2zM285.76 126.55h2.2v2.2h-2.2zM286.15 126.72h2.2v2.2h-2.2zM286.54 127.02h2.2v2.2h-2.2zM286.93 126.83h2.2v2.2h-2.2zM287.31 127.13h2.2v2.2h-2.2zM287.69 127.55h2.2v2.2h-2.2zM288.07 128.02h2.2v2.2h-2.2zM288.45 127.58h2.2v2.2h-2.2zM288.82 127.77h2.2v2.2h-2.2zM289.19 128.00h2.2v2.2h-2.2zM289.55 128.50h2.2v2.2h-2.2zM289.91 128.25h2.2v2.2h-2.2zM290.27 128.87h2.2v2.2h-2.2zM290.63 128.26h2.2v2.2h-2.2zM290.98 128.66h2.2v2.2h-2.2zM291.33 128.80h2.2v2.2h-2.2zM291.68 129.27h2.2v2.2h-2.2zM292.03 129.51h2.2v2.2h-2.2zM292.37 128.80h2.2v2.2h-2.2zM292.71 129.14h2.2v2.2h-2.2zM293.05 129.72h2.2v2.2h-2.2zM293.38 129.51h2.2v2.2h-2.2zM293.71 129.35h2.2v2.2h-2.2zM294.04 130.41h2.2v2.2h-2.2zM294.37 130.35h2.2v2.2h-2.2zM294.70 130.50h2.2v2.2h-2.2zM295.02 130.27h2.2v2.2h-2.2zM295.34 130.98h2.2v2.2h-2.2zM295.66 130.63h2.2v2.2h-2.2zM295.97 131.29h2.2v2.2h-2.2zM296.29 130.63h2.2v2.2h-2.2zM296.60 130.79h2.2v2.2h-2.2zM296.91 131.35h2.2v2.2h-2.2zM297.21 131.11h2.2v2.2h-2.2zM297.52 131.81h2.2v2.2h-2.2zM297.82 131.77h2.2v2.2h-2.2zM298.12 131.39h2.2v2.2h-2.2zM298.42 131.95h2.2v2.2h-2.2zM298.72 131.89h2.2v2.2h-2.2zM299.01 132.57h2.2v2.2h-2.2zM299.31 132.01h2.2v2.2h-2.2zM299.60 132.22h2.2v2.2h-2.2zM299.89 133.10h2.2v2.2h-2.2zM300.17 133.71h2.2v2.2h-2.2zM300.46 133.73h2.2v2.2h-2.2zM300.74 132.94h2.2v2.2h-2.2zM301.02 133.14h2.2v2.2h-2.2zM301.30 133.90h2.2v2.2h-2.2zM301.58 133.21h2.2v2.2h-2.2zM301.86 132.91h2.2v2.2h-2.2zM302.13 133.57h2.2v2.2h-2.2zM302.41 133.86h2.2v2.2h-2.2zM302.68 133.32h2.2v2.2h-2.2zM302.95 133.01h2.2v2.2h-2.2zM303.21 133.22h2.2v2.2h-2.2zM303.48 134.44h2.2v2.2h-2.2zM303.75 133.80h2.2v2.2h-2.2zM304.01 134.24h2.2v2.2h-2.2zM304.27 134.55h2.2v2.2h-2.2zM304.53 134.88h2.2v2.2h-2.2zM304.79 134.47h2.2v2.2h-2.2zM305.05 135.04h2.2v2.2h-2.2zM305.30 134.37h2.2v2.2h-2.2zM305.56 134.77h2.2v2.2h-2.2zM305.81 134.50h2.2v2.2h-2.2zM306.06 135.86h2.2v2.2h-2.2zM306.31 135.29h2.2v2.2h-2.2zM306.56 134.97h2.2v2.2h-2.2zM306.81 135.31h2.2v2.2h-2.2zM307.05 135.49h2.2v2.2h-2.2zM307.30 136.16h2.2v2.2h-2.2zM307.54 134.84h2.2v2.2h-2.2zM307.78 135.29h2.2v2.2h-2.2zM308.02 135.80h2.2v2.2h-2.2zM308.26 136.37h2.2v2.2h-2.2zM308.50 136.29h2.2v2.2h-2.2zM308.74 136.07h2.2v2.2h-2.2zM308.97 136.59h2.2v2.2h-2.2zM309.21 136.52h2.2v2.2h-2.2zM309.44 137.06h2.2v2.2h-2.2zM309.67 136.73h2.2v2.2h-2.2zM309.90 135.80h2.2v2.2h-2.2zM310.13 136.72h2.2v2.2h-2.2zM310.36 136.97h2.2v2.2h-2.2zM310.59 136.31h2.2v2.2h-2.2zM310.81 136.98h2.2v2.2h-2.2zM311.04 136.98h2.2v2.2h-2.2zM311.26 136.64h2.2v2.2h-2.2zM311.48 137.67h2.2v2.2h-2.2zM311.70 138.41h2.2v2.2h-2.2zM311.92 137.38h2.2v2.2h-2.2zM312.14 137.79h2.2v2.2h-2.2zM312.36 138.41h2.2v2.2h-2.2zM312.58 138.71h2.2v2.2h-2.2zM312.79 138.73h2.2v2.2h-2.2zM313.01 138.72h2.2v2.2h-2.2zM313.22 138.69h2.2v2.2h-2.2zM313.43 138.44h2.2v2.2h-2.2zM313.65 139.89h2.2v2.2h-2.2zM313.86 140.02h2.2v2.2h-2.2zM314.07 139.53h2.2v2.2h-2.2zM314.28 140.04h2.2v2.2h-2.2zM314.48 140.20h2.2v2.2h-2.2zM314.69 140.76h2.2v2.2h-2.2zM314.90 140.94h2.2v2.2h-2.2zM315.10 142.08h2.2v2.2h-2.2zM315.31 141.49h2.2v2.2h-2.2zM315.51 142.27h2.2v2.2h-2.2zM315.71 142.61h2.2v2.2h-2.2zM315.91 142.95h2.2v2.2h-2.2zM316.11 143.35h2.2v2.2h-2.2zM316.31 143.50h2.2v2.2h-2.2zM316.51 144.41h2.2v2.2h-2.2zM316.71 143.47h2.2v2.2h-2.2zM316.90 144.66h2.2v2.2h-2.2zM317.10 145.15h2.2v2.2h-2.2zM317.30 144.74h2.2v2.2h-2.2zM317.49 144.67h2.2v2.2h-2.2zM317.68 144.93h2.2v2.2h-2.2zM317.88 145.46h2.2v2.2h-2.2zM318.07 145.48h2.2v2.2h-2.2zM318.26 146.01h2.2v2.2h-2.2zM318.45 146.12h2.2v2.2h-2.2zM318.64 145.89h2.2v2.2h-2.2zM318.83 146.15h2.2v2.2h-2.2zM319.01 146.56h2.2v2.2h-2.2zM319.20 146.71h2.2v2.2h-2.2zM319.39 147.22h2.2v2.2h-2.2zM319.57 147.28h2.2v2.2h-2.2zM319.76 147.46h2.2v2.2h-2.2zM319.94 148.22h2.2v2.2h-2.2zM320.12 148.12h2.2v2.2h-2.2zM320.30 147.46h2.2v2.2h-2.2zM320.49 148.16h2.2v2.2h-2.2zM320.67 148.35h2.2v2.2h-2.2zM320.85 148.84h2.2v2.2h-2.2zM321.03 148.39h2.2v2.2h-2.2zM321.20 149.67h2.2v2.2h-2.2zM321.38 149.73h2.2v2.2h-2.2zM321.56 149.99h2.2v2.2h-2.2zM321.74 150.65h2.2v2.2h-2.2zM321.91 151.72h2.2v2.2h-2.2zM322.09 151.30h2.2v2.2h-2.2zM322.26 152.27h2.2v2.2h-2.2zM322.43 152.54h2.2v2.2h-2.2zM322.61 151.97h2.2v2.2h-2.2zM322.78 153.44h2.2v2.2h-2.2zM322.95 153.08h2.2v2.2h-2.2zM323.12 154.49h2.2v2.2h-2.2zM323.29 153.73h2.2v2.2h-2.2zM323.46 155.29h2.2v2.2h-2.2zM323.63 154.95h2.2v2.2h-2.2zM323.80 155.25h2.2v2.2h-2.2zM323.97 155.11h2.2v2.2h-2.2zM324.14 156.83h2.2v2.2h-2.2zM324.30 156.75h2.2v2.2h-2.2zM324.47 157.75h2.2v2.2h-2.2zM324.63 158.27h2.2v2.2h-2.2zM324.80 158.36h2.2v2.2h-2.2zM324.96 159.59h2.2v2.2h-2.2zM325.12 159.25h2.2v2.2h-2.2zM325.29 158.60h2.2v2.2h-2.2zM325.45 159.69h2.2v2.2h-2.2zM325.61 161.62h2.2v2.2h-2.2zM325.77 161.15h2.2v2.2h-2.2zM325.93 161.94h2.2v2.2h-2.2zM326.09 161.97h2.2v2.2h-2.2zM326.25 163.22h2.2v2.2h-2.2zM326.41 163.23h2.2v2.2h-2.2zM326.57 163.58h2.2v2.2h-2.2zM326.73 164.95h2.2v2.2h-2.2zM326.88 164.95h2.2v2.2h-2.2zM327.04 164.37h2.2v2.2h-2.2zM327.20 164.97h2.2v2.2h-2.2zM327.35 166.25h2.2v2.2h-2.2zM327.51 167.47h2.2v2.2h-2.2zM327.66 166.66h2.2v2.2h-2.2zM327.81 168.70h2.2v2.2h-2.2zM327.97 168.36h2.2v2.2h-2.2zM328.12 168.67h2.2v2.2h-2.2zM328.27 169.10h2.2v2.2h-2.2zM328.42 168.96h2.2v2.2h-2.2zM328.58 170.39h2.2v2.2h-2.2zM328.73 171.27h2.2v2.2h-2.2zM328.88 170.69h2.2v2.2h-2.2zM329.03 172.39h2.2v2.2h-2.2zM329.18 170.90h2.2v2.2h-2.2zM329.32 173.84h2.2v2.2h-2.2zM329.47 172.02h2.2v2.2h-2.2zM329.62 173.85h2.2v2.2h-2.2zM329.77 174.79h2.2v2.2h-2.2zM329.91 173.75h2.2v2.2h-2.2zM330.06 175.26h2.2v2.2h-2.2zM330.21 176.34h2.2v2.2h-2.2zM330.35 175.98h2.2v2.2h-2.2zM330.50 177.56h2.2v2.2h-2.2zM330.64 177.76h2.2v2.2h-2.2zM330.78 178.27h2.2v2.2h-2.2zM330.93 178.83h2.2v2.2h-2.2zM331.07 178.77h2.2v2.2h-2.2zM331.21 178.40h2.2v2.2h-2.2zM331.35 178.73h2.2v2.2h-2.2zM331.50 180.93h2.2v2.2h-2.2zM331.64 181.17h2.2v2.2h-2.2zM331.78 181.62h2.2v2.2h-2.2zM331.92 186.37h2.2v2.2h-2.2zM332.06 185.35h2.2v2.2h-2.2zM332.20 184.83h2.2v2.2h-2.2zM332.34 186.11h2.2v2.2h-2.2zM332.47 186.08h2.2v2.2h-2.2zM332.61 192.32h2.2v2.2h-2.2zM332.75 193.00h2.2v2.2h-2.2zM332.89 190.69h2.2v2.2h-2.2zM333.02 188.99h2.2v2.2h-2.2zM333.16 194.49h2.2v2.2h-2.2zM333.30 199.38h2.2v2.2h-2.2zM333.43 207.86h2.2v2.2h-2.2zM333.57 208.14h2.2v2.2h-2.2zM333.70 214.45h2.2v2.2h-2.2zM333.84 217.44h2.2v2.2h-2.2zM333.97 214.22h2.2v2.2h-2.2zM334.10 205.18h2.2v2.2h-2.2zM334.24 207.70h2.2v2.2h-2.2zM334.37 204.96h2.2v2.2h-2.2zM334.50 221.21h2.2v2.2h-2.2zM334.63 203.54h2.2v2.2h-2.2zM334.76 206.22h2.2v2.2h-2.2zM334.89 215.17h2.2v2.2h-2.2zM335.03 212.65h2.2v2.2h-2.2zM335.16 217.58h2.2v2.2h-2.2zM335.29 215.09h2.2v2.2h-2.2zM335.42 222.40h2.2v2.2h-2.2zM335.54 220.12h2.2v2.2h-2.2zM335.67 222.41h2.2v2.2h-2.2zM335.80 221.55h2.2v2.2h-2.2zM335.50 243.40h2.2v2.2h-2.2zM116.30 191.00h2.2v2.2h-2.2z"/>
<path fill="#00ffff" stroke="#00ffff" stroke-width="0.3" d="M107.10 43.99h2.3v2.3h-2.3zM125.09 53.31h2.3v2.3h-2.3zM137.86 60.29h2.3v2.3h-2.3zM147.76 65.69h2.3v2.3h-2.3zM155.85 69.49h2.3v2.3h-2.3zM162.69 72.59h2.3v2.3h-2.3zM168.61 75.59h2.3v2.3h-2.3zM173.84 77.79h2.3v2.3h-2.3zM178.51 79.89h2.3v2.3h-2.3zM182.74 81.76h2.3v2.3h-2.3zM186.60 83.47h2.3v2.3h-2.3zM190.15 85.02h2.3v2.3h-2.3zM193.44 86.36h2.3v2.3h-2.3zM196.50 87.84h2.3v2.3h-2.3zM199.37 88.95h2.3v2.3h-2.3zM202.06 90.35h2.3v2.3h-2.3zM204.59 91.39h2.3v2.3h-2.3zM206.99 92.45h2.3v2.3h-2.3zM209.27 93.50h2.3v2.3h-2.3zM211.43 94.50h2.3v2.3h-2.3zM213.50 95.27h2.3v2.3h-2.3zM215.47 96.12h2.3v2.3h-2.3zM217.36 97.01h2.3v2.3h-2.3zM219.17 97.74h2.3v2.3h-2.3zM220.91 98.59h2.3v2.3h-2.3zM222.58 99.54h2.3v2.3h-2.3zM224.20 100.04h2.3v2.3h-2.3zM225.75 100.87h2.3v2.3h-2.3zM227.26 101.38h2.3v2.3h-2.3zM228.71 102.15h2.3v2.3h-2.3zM230.12 102.72h2.3v2.3h-2.3zM231.49 103.35h2.3v2.3h-2.3zM232.81 103.98h2.3v2.3h-2.3zM234.10 104.64h2.3v2.3h-2.3zM235.35 105.06h2.3v2.3h-2.3zM236.56 105.59h2.3v2.3h-2.3zM237.75 106.03h2.3v2.3h-2.3zM238.90 106.66h2.3v2.3h-2.3zM240.02 107.09h2.3v2.3h-2.3zM241.12 107.65h2.3v2.3h-2.3zM242.19 108.05h2.3v2.3h-2.3zM243.23 108.66h2.3v2.3h-2.3zM244.25 108.81h2.3v2.3h-2.3zM245.25 109.38h2.3v2.3h-2.3zM246.22 109.90h2.3v2.3h-2.3zM247.18 110.23h2.3v2.3h-2.3zM248.11 110.60h2.3v2.3h-2.3zM249.03 111.05h2.3v2.3h-2.3zM249.92 111.35h2.3v2.3h-2.3zM250.80 111.86h2.3v2.3h-2.3zM251.66 112.42h2.3v2.3h-2.3zM252.51 112.69h2.3v2.3h-2.3zM253.34 112.88h2.3v2.3h-2.3zM254.15 113.25h2.3v2.3h-2.3zM254.95 113.64h2.3v2.3h-2.3zM255.74 114.10h2.3v2.3h-2.3zM256.51 114.29h2.3v2.3h-2.3zM257.27 114.64h2.3v2.3h-2.3zM258.01 115.09h2.3v2.3h-2.3zM258.75 115.41h2.3v2.3h-2.3zM259.47 115.63h2.3v2.3h-2.3zM260.18 115.88h2.3v2.3h-2.3zM260.88 116.16h2.3v2.3h-2.3zM261.56 116.53h2.3v2.3h-2.3zM262.24 116.70h2.3v2.3h-2.3zM262.91 117.24h2.3v2.3h-2.3zM263.57 117.41h2.3v2.3h-2.3zM264.21 117.79h2.3v2.3h-2.3zM264.85 118.18h2.3v2.3h-2.3zM265.48 118.40h2.3v2.3h-2.3zM266.10 118.49h2.3v2.3h-2.3zM266.71 118.92h2.3v2.3h-2.3zM267.32 119.21h2.3v2.3h-2.3zM267.91 119.32h2.3v2.3h-2.3zM268.50 119.56h2.3v2.3h-2.3zM269.08 119.88h2.3v2.3h-2.3zM269.65 120.01h2.3v2.3h-2.3zM270.22 120.52h2.3v2.3h-2.3zM270.78 120.44h2.3v2.3h-2.3zM271.33 120.79h2.3v2.3h-2.3zM271.87 121.10h2.3v2.3h-2.3zM272.41 121.34h2.3v2.3h-2.3zM272.94 121.60h2.3v2.3h-2.3zM273.47 121.84h2.3v2.3h-2.3zM273.99 122.03h2.3v2.3h-2.3zM274.50 122.37h2.3v2.3h-2.3zM275.01 122.31h2.3v2.3h-2.3zM275.51 122.72h2.3v2.3h-2.3zM276.00 122.87h2.3v2.3h-2.3zM276.49 123.16h2.3v2.3h-2.3zM276.98 123.39h2.3v2.3h-2.3zM277.46 123.50h2.3v2.3h-2.3zM277.93 123.73h2.3v2.3h-2.3zM278.40 124.06h2.3v2.3h-2.3zM278.87 124.23h2.3v2.3h-2.3zM279.33 124.33h2.3v2.3h-2.3zM279.78 124.78h2.3v2.3h-2.3zM280.23 125.00h2.3v2.3h-2.3zM280.68 124.84h2.3v2.3h-2.3zM281.12 125.19h2.3v2.3h-2.3zM281.56 125.59h2.3v2.3h-2.3zM281.99 125.61h2.3v2.3h-2.3zM282.42 125.75h2.3v2.3h-2.3zM282.84 125.89h2.3v2.3h-2.3zM283.26 126.03h2.3v2.3h-2.3zM283.68 126.25h2.3v2.3h-2.3zM284.09 126.39h2.3v2.3h-2.3zM284.50 126.70h2.3v2.3h-2.3zM284.91 126.75h2.3v2.3h-2.3zM285.31 126.92h2.3v2.3h-2.3zM285.71 127.01h2.3v2.3h-2.3zM286.10 127.30h2.3v2.3h-2.3zM286.49 127.38h2.3v2.3h-2.3zM286.88 127.62h2.3v2.3h-2.3zM287.26 127.92h2.3v2.3h-2.3zM287.64 128.01h2.3v2.3h-2.3zM288.02 128.19h2.3v2.3h-2.3zM288.40 128.33h2.3v2.3h-2.3zM288.77 128.46h2.3v2.3h-2.3zM289.14 128.60h2.3v2.3h-2.3zM289.50 128.73h2.3v2.3h-2.3zM289.86 129.01h2.3v2.3h-2.3zM290.22 128.95h2.3v2.3h-2.3zM290.58 129.39h2.3v2.3h-2.3zM290.93 129.39h2.3v2.3h-2.3zM291.28 129.45h2.3v2.3h-2.3zM291.63 129.63h2.3v2.3h-2.3zM291.98 129.75h2.3v2.3h-2.3zM292.32 130.00h2.3v2.3h-2.3zM292.66 130.04h2.3v2.3h-2.3zM293.00 130.42h2.3v2.3h-2.3zM293.33 130.32h2.3v2.3h-2.3zM293.66 130.27h2.3v2.3h-2.3zM293.99 130.61h2.3v2.3h-2.3zM294.32 130.58h2.3v2.3h-2.3zM294.65 130.98h2.3v2.3h-2.3zM294.97 131.26h2.3v2.3h-2.3zM295.29 131.35h2.3v2.3h-2.3zM295.61 131.21h2.3v2.3h-2.3zM295.92 131.43h2.3v2.3h-2.3zM296.24 131.91h2.3v2.3h-2.3zM296.55 131.84h2.3v2.3h-2.3zM296.86 131.93h2.3v2.3h-2.3zM297.16 132.22h2.3v2.3h-2.3zM297.47 132.55h2.3v2.3h-2.3zM297.77 132.52h2.3v2.3h-2.3zM298.07 132.48h2.3v2.3h-2.3zM298.37 132.64h2.3v2.3h-2.3zM298.67 132.80h2.3v2.3h-2.3zM298.96 132.75h2.3v2.3h-2.3zM299.26 132.80h2.3v2.3h-2.3zM299.55 133.10h2.3v2.3h-2.3zM299.84 133.07h2.3v2.3h-2.3zM300.12 133.33h2.3v2.3h-2.3zM300.41 133.48h2.3v2.3h-2.3zM300.69 133.96h2.3v2.3h-2.3zM300.97 133.56h2.3v2.3h-2.3zM301.25 133.80h2.3v2.3h-2.3zM301.53 133.92h2.3v2.3h-2.3zM301.81 134.14h2.3v2.3h-2.3zM302.08 134.36h2.3v2.3h-2.3zM302.36 134.21h2.3v2.3h-2.3zM302.63 134.27h2.3v2.3h-2.3zM302.90 134.24h2.3v2.3h-2.3zM303.16 134.48h2.3v2.3h-2.3zM303.43 134.86h2.3v2.3h-2.3zM303.70 134.88h2.3v2.3h-2.3zM303.96 134.80h2.3v2.3h-2.3zM304.22 135.03h2.3v2.3h-2.3zM304.48 135.22h2.3v2.3h-2.3zM304.74 135.42h2.3v2.3h-2.3zM305.00 135.32h2.3v2.3h-2.3zM305.25 135.50h2.3v2.3h-2.3zM305.51 135.30h2.3v2.3h-2.3zM305.76 135.54h2.3v2.3h-2.3zM306.01 136.19h2.3v2.3h-2.3zM306.26 135.54h2.3v2.3h-2.3zM306.51 136.02h2.3v2.3h-2.3zM306.76 136.23h2.3v2.3h-2.3zM307.00 136.22h2.3v2.3h-2.3zM307.25 136.23h2.3v2.3h-2.3zM307.49 136.49h2.3v2.3h-2.3zM307.73 136.61h2.3v2.3h-2.3zM307.97 136.70h2.3v2.3h-2.3zM308.21 136.41h2.3v2.3h-2.3zM308.45 136.89h2.3v2.3h-2.3zM308.69 136.83h2.3v2.3h-2.3zM308.92 137.00h2.3v2.3h-2.3zM309.16 137.27h2.3v2.3h-2.3zM309.39 137.47h2.3v2.3h-2.3zM309.62 137.63h2.3v2.3h-2.3zM309.85 137.41h2.3v2.3h-2.3zM310.08 137.83h2.3v2.3h-2.3zM310.31 137.99h2.3v2.3h-2.3zM310.54 138.08h2.3v2.3h-2.3zM310.76 138.24h2.3v2.3h-2.3zM310.99 137.97h2.3v2.3h-2.3zM311.21 138.06h2.3v2.3h-2.3zM311.43 138.40h2.3v2.3h-2.3zM311.65 137.96h2.3v2.3h-2.3zM311.87 138.44h2.3v2.3h-2.3zM312.09 138.35h2.3v2.3h-2.3zM312.31 138.48h2.3v2.3h-2.3zM312.53 138.23h2.3v2.3h-2.3zM312.74 138.53h2.3v2.3h-2.3zM312.96 138.85h2.3v2.3h-2.3zM313.17 139.18h2.3v2.3h-2.3zM313.38 139.30h2.3v2.3h-2.3zM313.60 139.11h2.3v2.3h-2.3zM313.81 139.17h2.3v2.3h-2.3zM314.02 139.09h2.3v2.3h-2.3zM314.23 139.51h2.3v2.3h-2.3zM314.43 139.42h2.3v2.3h-2.3zM314.64 139.75h2.3v2.3h-2.3zM314.85 140.16h2.3v2.3h-2.3zM315.05 139.75h2.3v2.3h-2.3zM315.26 139.42h2.3v2.3h-2.3zM315.46 139.68h2.3v2.3h-2.3zM315.66 139.59h2.3v2.3h-2.3zM315.86 139.75h2.3v2.3h-2.3zM316.06 140.58h2.3v2.3h-2.3zM316.26 140.34h2.3v2.3h-2.3zM316.46 139.91h2.3v2.3h-2.3zM316.66 140.65h2.3v2.3h-2.3zM316.85 140.92h2.3v2.3h-2.3zM317.05 140.51h2.3v2.3h-2.3zM317.25 140.49h2.3v2.3h-2.3zM317.44 140.68h2.3v2.3h-2.3zM317.63 140.96h2.3v2.3h-2.3zM317.83 141.15h2.3v2.3h-2.3zM318.02 141.41h2.3v2.3h-2.3zM318.21 141.51h2.3v2.3h-2.3zM318.40 141.58h2.3v2.3h-2.3zM318.59 141.72h2.3v2.3h-2.3zM318.78 141.58h2.3v2.3h-2.3zM318.96 140.93h2.3v2.3h-2.3zM319.15 141.48h2.3v2.3h-2.3zM319.34 141.71h2.3v2.3h-2.3zM319.52 141.55h2.3v2.3h-2.3zM319.71 142.07h2.3v2.3h-2.3zM319.89 141.71h2.3v2.3h-2.3zM320.07 141.59h2.3v2.3h-2.3zM320.25 142.50h2.3v2.3h-2.3zM320.44 142.31h2.3v2.3h-2.3zM320.62 142.23h2.3v2.3h-2.3zM320.80 142.56h2.3v2.3h-2.3zM320.98 142.69h2.3v2.3h-2.3zM321.15 142.51h2.3v2.3h-2.3zM321.33 141.56h2.3v2.3h-2.3zM321.51 142.28h2.3v2.3h-2.3zM321.69 142.44h2.3v2.3h-2.3zM321.86 142.32h2.3v2.3h-2.3zM322.04 142.84h2.3v2.3h-2.3zM322.21 143.29h2.3v2.3h-2.3zM322.38 142.72h2.3v2.3h-2.3zM322.56 142.55h2.3v2.3h-2.3zM322.73 143.85h2.3v2.3h-2.3zM322.90 142.96h2.3v2.3h-2.3zM323.07 142.72h2.3v2.3h-2.3zM323.24 143.37h2.3v2.3h-2.3zM323.41 143.52h2.3v2.3h-2.3zM323.58 143.14h2.3v2.3h-2.3zM323.75 143.82h2.3v2.3h-2.3zM323.92 143.37h2.3v2.3h-2.3zM324.09 143.26h2.3v2.3h-2.3zM324.25 143.79h2.3v2.3h-2.3zM324.42 144.10h2.3v2.3h-2.3zM324.58 143.59h2.3v2.3h-2.3zM324.75 144.07h2.3v2.3h-2.3zM324.91 143.96h2.3v2.3h-2.3zM325.07 145.27h2.3v2.3h-2.3zM325.24 143.83h2.3v2.3h-2.3zM325.40 144.81h2.3v2.3h-2.3zM325.56 144.25h2.3v2.3h-2.3zM325.72 144.29h2.3v2.3h-2.3zM325.88 144.73h2.3v2.3h-2.3zM326.04 144.88h2.3v2.3h-2.3zM326.20 145.12h2.3v2.3h-2.3zM326.36 144.77h2.3v2.3h-2.3zM326.52 144.42h2.3v2.3h-2.3zM326.68 144.51h2.3v2.3h-2.3zM326.83 145.06h2.3v2.3h-2.3zM326.99 145.16h2.3v2.3h-2.3zM327.15 145.61h2.3v2.3h-2.3zM327.30 145.22h2.3v2.3h-2.3zM327.46 145.59h2.3v2.3h-2.3zM327.61 145.87h2.3v2.3h-2.3zM327.76 145.30h2.3v2.3h-2.3zM327.92 144.58h2.3v2.3h-2.3zM328.07 144.79h2.3v2.3h-2.3zM328.22 144.72h2.3v2.3h-2.3zM328.37 146.26h2.3v2.3h-2.3zM328.53 145.13h2.3v2.3h-2.3zM328.68 146.22h2.3v2.3h-2.3zM328.83 145.97h2.3v2.3h-2.3zM328.98 146.60h2.3v2.3h-2.3zM329.13 146.31h2.3v2.3h-2.3zM329.27 145.82h2.3v2.3h-2.3zM329.42 145.83h2.3v2.3h-2.3zM329.57 146.04h2.3v2.3h-2.3zM329.72 146.15h2.3v2.3h-2.3zM329.86 145.85h2.3v2.3h-2.3zM330.01 146.17h2.3v2.3h-2.3zM330.16 147.09h2.3v2.3h-2.3zM330.30 145.42h2.3v2.3h-2.3zM330.45 146.51h2.3v2.3h-2.3zM330.59 145.95h2.3v2.3h-2.3zM330.73 146.60h2.3v2.3h-2.3zM330.88 147.01h2.3v2.3h-2.3zM331.02 146.59h2.3v2.3h-2.3zM331.16 147.11h2.3v2.3h-2.3zM331.30 145.87h2.3v2.3h-2.3zM331.45 147.42h2.3v2.3h-2.3zM331.59 146.53h2.3v2.3h-2.3zM331.73 147.27h2.3v2.3h-2.3zM331.87 147.09h2.3v2.3h-2.3zM332.01 145.59h2.3v2.3h-2.3zM332.15 146.68h2.3v2.3h-2.3zM332.29 147.29h2.3v2.3h-2.3zM332.42 148.12h2.3v2.3h-2.3zM332.56 147.45h2.3v2.3h-2.3zM332.70 147.49h2.3v2.3h-2.3zM332.84 146.58h2.3v2.3h-2.3zM332.97 148.30h2.3v2.3h-2.3zM333.11 148.59h2.3v2.3h-2.3zM333.25 147.60h2.3v2.3h-2.3zM333.38 147.51h2.3v2.3h-2.3zM333.52 146.73h2.3v2.3h-2.3zM333.65 148.29h2.3v2.3h-2.3zM333.79 149.45h2.3v2.3h-2.3zM333.92 148.31h2.3v2.3h-2.3zM334.05 148.70h2.3v2.3h-2.3zM334.19 148.32h2.3v2.3h-2.3zM334.32 147.43h2.3v2.3h-2.3zM334.45 148.93h2.3v2.3h-2.3zM334.58 147.39h2.3v2.3h-2.3zM334.71 148.08h2.3v2.3h-2.3zM334.84 148.44h2.3v2.3h-2.3zM334.98 148.88h2.3v2.3h-2.3zM335.11 148.46h2.3v2.3h-2.3zM335.24 147.96h2.3v2.3h-2.3zM335.37 148.11h2.3v2.3h-2.3zM335.49 148.05h2.3v2.3h-2.3zM335.62 147.86h2.3v2.3h-2.3zM335.75 148.05h2.3v2.3h-2.3zM335.88 148.76h2.3v2.3h-2.3zM336.01 148.10h2.3v2.3h-2.3zM336.13 149.10h2.3v2.3h-2.3zM336.26 148.63h2.3v2.3h-2.3zM336.39 148.75h2.3v2.3h-2.3zM336.51 148.49h2.3v2.3h-2.3zM336.64 149.10h2.3v2.3h-2.3zM336.77 148.67h2.3v2.3h-2.3zM336.89 149.27h2.3v2.3h-2.3zM337.02 149.31h2.3v2.3h-2.3zM337.14 148.61h2.3v2.3h-2.3zM337.26 149.53h2.3v2.3h-2.3zM337.39 148.75h2.3v2.3h-2.3zM337.51 149.77h2.3v2.3h-2.3zM337.63 148.87h2.3v2.3h-2.3zM337.76 149.30h2.3v2.3h-2.3zM337.88 150.24h2.3v2.3h-2.3zM338.00 149.90h2.3v2.3h-2.3zM338.12 150.06h2.3v2.3h-2.3zM338.24 148.99h2.3v2.3h-2.3zM338.37 150.27h2.3v2.3h-2.3zM338.49 149.93h2.3v2.3h-2.3zM338.61 150.85h2.3v2.3h-2.3zM338.73 150.24h2.3v2.3h-2.3zM338.85 150.23h2.3v2.3h-2.3zM338.97 150.06h2.3v2.3h-2.3zM339.09 150.34h2.3v2.3h-2.3zM339.20 150.66h2.3v2.3h-2.3zM339.32 151.23h2.3v2.3h-2.3zM339.44 151.31h2.3v2.3h-2.3zM339.56 150.80h2.3v2.3h-2.3zM339.68 150.80h2.3v2.3h-2.3zM339.79 150.62h2.3v2.3h-2.3zM339.91 151.72h2.3v2.3h-2.3zM340.03 151.58h2.3v2.3h-2.3zM340.14 151.05h2.3v2.3h-2.3zM340.26 151.95h2.3v2.3h-2.3zM340.38 151.82h2.3v2.3h-2.3zM340.49 152.25h2.3v2.3h-2.3zM340.61 152.08h2.3v2.3h-2.3zM340.72 152.02h2.3v2.3h-2.3zM340.83 152.21h2.3v2.3h-2.3zM340.95 151.59h2.3v2.3h-2.3zM341.06 152.06h2.3v2.3h-2.3zM341.18 152.04h2.3v2.3h-2.3zM341.29 152.80h2.3v2.3h-2.3zM341.40 152.62h2.3v2.3h-2.3zM341.52 153.30h2.3v2.3h-2.3zM341.63 153.77h2.3v2.3h-2.3zM341.74 153.64h2.3v2.3h-2.3zM341.85 153.89h2.3v2.3h-2.3zM341.96 152.53h2.3v2.3h-2.3zM342.08 154.64h2.3v2.3h-2.3zM342.19 154.24h2.3v2.3h-2.3zM342.30 154.07h2.3v2.3h-2.3zM342.41 154.03h2.3v2.3h-2.3zM342.52 154.49h2.3v2.3h-2.3zM342.63 154.40h2.3v2.3h-2.3zM342.74 154.52h2.3v2.3h-2.3zM342.85 154.35h2.3v2.3h-2.3zM342.96 155.33h2.3v2.3h-2.3zM343.06 155.33h2.3v2.3h-2.3zM343.17 155.20h2.3v2.3h-2.3zM343.28 155.50h2.3v2.3h-2.3zM343.39 155.88h2.3v2.3h-2.3zM343.50 155.93h2.3v2.3h-2.3zM343.61 156.06h2.3v2.3h-2.3zM343.71 156.63h2.3v2.3h-2.3zM343.82 156.55h2.3v2.3h-2.3zM343.93 156.16h2.3v2.3h-2.3zM344.03 156.53h2.3v2.3h-2.3zM344.14 156.58h2.3v2.3h-2.3zM344.25 157.29h2.3v2.3h-2.3zM344.35 156.96h2.3v2.3h-2.3zM344.46 157.90h2.3v2.3h-2.3zM344.56 157.82h2.3v2.3h-2.3zM344.67 158.00h2.3v2.3h-2.3zM344.77 157.90h2.3v2.3h-2.3zM344.88 157.20h2.3v2.3h-2.3zM344.98 158.33h2.3v2.3h-2.3zM345.08 158.25h2.3v2.3h-2.3zM345.19 157.85h2.3v2.3h-2.3zM345.29 157.73h2.3v2.3h-2.3zM345.40 158.35h2.3v2.3h-2.3zM345.50 158.56h2.3v2.3h-2.3zM345.60 158.18h2.3v2.3h-2.3zM345.70 159.38h2.3v2.3h-2.3zM345.81 158.70h2.3v2.3h-2.3zM345.91 159.43h2.3v2.3h-2.3zM346.01 158.64h2.3v2.3h-2.3zM346.11 160.49h2.3v2.3h-2.3zM346.21 159.77h2.3v2.3h-2.3zM346.31 159.48h2.3v2.3h-2.3zM346.42 159.23h2.3v2.3h-2.3zM346.52 160.47h2.3v2.3h-2.3zM346.62 159.58h2.3v2.3h-2.3zM346.72 159.83h2.3v2.3h-2.3zM346.82 160.11h2.3v2.3h-2.3zM346.92 160.13h2.3v2.3h-2.3zM347.02 160.51h2.3v2.3h-2.3zM347.12 160.51h2.3v2.3h-2.3zM347.21 160.76h2.3v2.3h-2.3zM347.31 160.20h2.3v2.3h-2.3zM347.41 161.41h2.3v2.3h-2.3zM347.51 161.39h2.3v2.3h-2.3zM347.61 161.22h2.3v2.3h-2.3zM347.71 161.96h2.3v2.3h-2.3zM347.80 161.40h2.3v2.3h-2.3zM347.90 161.87h2.3v2.3h-2.3zM348.00 162.35h2.3v2.3h-2.3zM348.10 162.62h2.3v2.3h-2.3zM348.19 161.71h2.3v2.3h-2.3zM348.29 162.56h2.3v2.3h-2.3zM348.39 162.20h2.3v2.3h-2.3zM348.48 162.00h2.3v2.3h-2.3zM348.58 163.16h2.3v2.3h-2.3zM348.68 163.42h2.3v2.3h-2.3zM348.77 163.42h2.3v2.3h-2.3zM348.87 164.39h2.3v2.3h-2.3zM348.96 163.74h2.3v2.3h-2.3zM349.06 164.14h2.3v2.3h-2.3zM349.15 164.21h2.3v2.3h-2.3zM349.25 163.25h2.3v2.3h-2.3zM349.34 164.20h2.3v2.3h-2.3zM349.44 164.22h2.3v2.3h-2.3zM349.53 165.17h2.3v2.3h-2.3zM349.62 164.87h2.3v2.3h-2.3zM349.72 164.34h2.3v2.3h-2.3zM349.81 165.78h2.3v2.3h-2.3zM349.90 165.25h2.3v2.3h-2.3zM350.00 165.79h2.3v2.3h-2.3zM350.09 166.54h2.3v2.3h-2.3zM350.18 165.54h2.3v2.3h-2.3zM350.28 166.96h2.3v2.3h-2.3zM350.37 166.31h2.3v2.3h-2.3zM350.46 167.79h2.3v2.3h-2.3zM350.55 167.80h2.3v2.3h-2.3zM350.64 167.92h2.3v2.3h-2.3zM350.74 168.67h2.3v2.3h-2.3zM350.83 169.00h2.3v2.3h-2.3zM350.92 167.99h2.3v2.3h-2.3zM351.01 168.98h2.3v2.3h-2.3zM351.10 170.22h2.3v2.3h-2.3zM351.19 170.47h2.3v2.3h-2.3zM351.28 169.61h2.3v2.3h-2.3zM351.37 171.11h2.3v2.3h-2.3zM351.46 171.57h2.3v2.3h-2.3zM351.55 170.49h2.3v2.3h-2.3zM351.64 172.04h2.3v2.3h-2.3zM351.73 172.30h2.3v2.3h-2.3zM351.82 171.81h2.3v2.3h-2.3zM351.91 173.08h2.3v2.3h-2.3zM352.00 172.32h2.3v2.3h-2.3zM352.09 172.26h2.3v2.3h-2.3zM352.18 172.42h2.3v2.3h-2.3zM352.26 173.26h2.3v2.3h-2.3zM352.35 174.08h2.3v2.3h-2.3zM352.44 174.08h2.3v2.3h-2.3zM352.53 174.07h2.3v2.3h-2.3zM352.62 174.74h2.3v2.3h-2.3zM352.70 174.95h2.3v2.3h-2.3zM352.79 177.00h2.3v2.3h-2.3zM352.88 175.27h2.3v2.3h-2.3zM352.97 177.26h2.3v2.3h-2.3zM353.05 178.27h2.3v2.3h-2.3zM353.14 177.08h2.3v2.3h-2.3zM353.23 177.80h2.3v2.3h-2.3zM353.31 177.45h2.3v2.3h-2.3zM353.40 177.47h2.3v2.3h-2.3zM353.48 179.16h2.3v2.3h-2.3zM353.57 178.61h2.3v2.3h-2.3zM353.66 178.81h2.3v2.3h-2.3zM353.74 179.71h2.3v2.3h-2.3zM353.83 180.75h2.3v2.3h-2.3zM353.91 180.84h2.3v2.3h-2.3zM354.00 180.84h2.3v2.3h-2.3zM354.08 181.02h2.3v2.3h-2.3zM354.17 180.30h2.3v2.3h-2.3zM354.25 182.11h2.3v2.3h-2.3zM354.34 181.76h2.3v2.3h-2.3zM354.42 182.26h2.3v2.3h-2.3zM354.50 181.52h2.3v2.3h-2.3zM354.59 181.85h2.3v2.3h-2.3zM354.67 183.05h2.3v2.3h-2.3zM354.76 183.97h2.3v2.3h-2.3zM354.84 182.96h2.3v2.3h-2.3zM354.92 183.54h2.3v2.3h-2.3zM355.01 184.84h2.3v2.3h-2.3zM355.09 183.50h2.3v2.3h-2.3zM355.17 182.44h2.3v2.3h-2.3zM355.25 183.49h2.3v2.3h-2.3zM355.34 185.15h2.3v2.3h-2.3zM355.42 186.60h2.3v2.3h-2.3zM355.50 185.15h2.3v2.3h-2.3zM355.58 188.67h2.3v2.3h-2.3zM355.67 186.09h2.3v2.3h-2.3zM355.75 188.53h2.3v2.3h-2.3zM355.83 186.77h2.3v2.3h-2.3zM355.91 188.17h2.3v2.3h-2.3zM355.99 189.23h2.3v2.3h-2.3zM356.07 191.08h2.3v2.3h-2.3zM356.15 188.16h2.3v2.3h-2.3zM356.24 188.75h2.3v2.3h-2.3zM356.32 188.93h2.3v2.3h-2.3zM356.40 192.86h2.3v2.3h-2.3zM356.48 190.66h2.3v2.3h-2.3zM356.56 190.10h2.3v2.3h-2.3zM356.64 193.94h2.3v2.3h-2.3zM356.72 193.03h2.3v2.3h-2.3zM356.80 194.62h2.3v2.3h-2.3zM356.88 192.77h2.3v2.3h-2.3zM356.96 192.89h2.3v2.3h-2.3zM357.04 197.29h2.3v2.3h-2.3zM357.12 194.85h2.3v2.3h-2.3zM357.19 196.18h2.3v2.3h-2.3zM357.27 195.84h2.3v2.3h-2.3zM357.35 196.01h2.3v2.3h-2.3zM357.43 201.82h2.3v2.3h-2.3zM357.51 200.43h2.3v2.3h-2.3zM357.59 201.04h2.3v2.3h-2.3zM357.67 202.39h2.3v2.3h-2.3zM357.74 202.05h2.3v2.3h-2.3zM357.82 199.58h2.3v2.3h-2.3zM357.90 200.05h2.3v2.3h-2.3zM357.98 202.02h2.3v2.3h-2.3zM358.06 205.70h2.3v2.3h-2.3zM358.13 207.87h2.3v2.3h-2.3zM358.21 204.17h2.3v2.3h-2.3zM358.29 207.85h2.3v2.3h-2.3zM358.37 206.07h2.3v2.3h-2.3zM358.44 207.96h2.3v2.3h-2.3zM358.52 207.63h2.3v2.3h-2.3zM358.60 208.78h2.3v2.3h-2.3zM358.67 210.04h2.3v2.3h-2.3zM358.75 211.13h2.3v2.3h-2.3zM358.82 212.27h2.3v2.3h-2.3zM358.90 220.11h2.3v2.3h-2.3zM358.98 207.61h2.3v2.3h-2.3zM359.05 216.60h2.3v2.3h-2.3zM359.13 223.98h2.3v2.3h-2.3zM359.20 222.22h2.3v2.3h-2.3zM359.28 218.66h2.3v2.3h-2.3zM359.36 224.24h2.3v2.3h-2.3zM359.43 226.43h2.3v2.3h-2.3zM359.51 223.44h2.3v2.3h-2.3zM359.58 215.21h2.3v2.3h-2.3zM359.66 214.70h2.3v2.3h-2.3zM359.73 212.97h2.3v2.3h-2.3zM359.81 210.03h2.3v2.3h-2.3zM359.88 217.03h2.3v2.3h-2.3zM359.95 214.20h2.3v2.3h-2.3zM360.03 223.77h2.3v2.3h-2.3zM360.10 220.45h2.3v2.3h-2.3zM360.18 219.57h2.3v2.3h-2.3zM360.25 213.74h2.3v2.3h-2.3zM360.32 221.92h2.3v2.3h-2.3zM360.40 227.56h2.3v2.3h-2.3zM360.47 224.67h2.3v2.3h-2.3zM360.54 227.41h2.3v2.3h-2.3zM360.62 218.65h2.3v2.3h-2.3zM360.69 226.62h2.3v2.3h-2.3zM360.76 220.72h2.3v2.3h-2.3zM360.84 219.75h2.3v2.3h-2.3zM360.91 226.77h2.3v2.3h-2.3zM360.98 223.11h2.3v2.3h-2.3zM361.06 212.50h2.3v2.3h-2.3zM361.13 224.77h2.3v2.3h-2.3zM359.55 232.75h2.3v2.3h-2.3zM360.85 239.35h2.3v2.3h-2.3zM116.25 209.95h2.3v2.3h-2.3z"/>
<path fill="none" stroke="#ff4d00" stroke-width="0.6" d="M107.15 45.86a1.1 1.1 0 1 0 2.2 0a1.1 1.1 0 1 0-2.2 0zM125.14 53.74a1.1 1.1 0 1 0 2.2 0a1.1 1.1 0 1 0-2.2 0zM137.91 62.16a1.1 1.1 0 1 0 2.2 0a1.1 1.1 0 1 0-2.2 0zM147.81 67.56a1.1 1.1 0 1 0 2.2 0a1.1 1.1 0 1 0-2.2 0zM155.90 71.36a1.1 1.1 0 1 0 2.2 0a1.1 1.1 0 1 0-2.2 0zM162.74 74.46a1.1 1.1 0 1 0 2.2 0a1.1 1.1 0 1 0-2.2 0zM168.66 77.46a1.1 1.1 0 1 0 2.2 0a1.1 1.1 0 1 0-2.2 0zM173.89 79.66a1.1 1.1 0 1 0 2.2 0a1.1 1.1 0 1 0-2.2 0zM178.56 81.76a1.1 1.1 0 1 0 2.2 0a1.1 1.1 0 1 0-2.2 0zM182.79 83.63a1.1 1.1 0 1 0 2.2 0a1.1 1.1 0 1 0-2.2 0zM186.65 85.34a1.1 1.1 0 1 0 2.2 0a1.1 1.1 0 1 0-2.2 0zM190.20 86.9a1.1 1.1 0 1 0 2.2 0a1.1 1.1 0 1 0-2.2 0zM193.49 88.19a1.1 1.1 0 1 0 2.2 0a1.1 1.1 0 1 0-2.2 0zM196.55 89.78a1.1 1.1 0 1 0 2.2 0a1.1 1.1 0 1 0-2.2 0zM199.42 91.04a1.1 1.1 0 1 0 2.2 0a1.1 1.1 0 1 0-2.2 0zM202.11 92.16a1.1 1.1 0 1 0 2.2 0a1.1 1.1 0 1 0-2.2 0zM204.64 93.21a1.1 1.1 0 1 0 2.2 0a1.1 1.1 0 1 0-2.2 0zM207.04 94.49a1.1 1.1 0 1 0 2.2 0a1.1 1.1 0 1 0-2.2 0zM209.32 95.41a1.1 1.1 0 1 0 2.2 0a1.1 1.1 0 1 0-2.2 0zM211.48 96.43a1.1 1.1 0 1 0 2.2 0a1.1 1.1 0 1 0-2.2 0zM213.55 97.37a1.1 1.1 0 1 0 2.2 0a1.1 1.1 0 1 0-2.2 0zM215.52 98.09a1.1 1.1 0 1 0 2.2 0a1.1 1.1 0 1 0-2.2 0zM217.41 99.03a1.1 1.1 0 1 0 2.2 0a1.1 1.1 0 1 0-2.2 0zM219.22 99.75a1.1 1.1 0 1 0 2.2 0a1.1 1.1 0 1 0-2.2 0zM220.96 100.54a1.1 1.1 0 1 0 2.2 0a1.1 1.1 0 1 0-2.2 0zM222.63 101.28a1.1 1.1 0 1 0 2.2 0a1.1 1.1 0 1 0-2.2 0zM224.25 102.0a1.1 1.1 0 1 0 2.2 0a1.1 1.1 0 1 0-2.2 0zM225.80 102.78a1.1 1.1 0 1 0 2.2 0a1.1 1.1 0 1 0-2.2 0zM227.31 103.36a1.1 1.1 0 1 0 2.2 0a1.1 1.1 0 1 0-2.2 0zM228.76 103.99a1.1 1.1 0 1 0 2.2 0a1.1 1.1 0 1 0-2.2 0zM230.17 104.6a1.1 1.1 0 1 0 2.2 0a1.1 1.1 0 1 0-2.2 0zM231.54 105.25a1.1 1.1 0 1 0 2.2 0a1.1 1.1 0 1 0-2.2 0zM232.86 105.73a1.1 1.1 0 1 0 2.2 0a1.1 1.1 0 1 0-2.2 0zM234.15 106.33a1.1 1.1 0 1 0 2.2 0a1.1 1.1 0 1 0-2.2 0zM235.40 106.91a1.1 1.1 0 1 0 2.2 0a1.1 1.1 0 1 0-2.2 0zM236.61 107.41a1.1 1.1 0 1 0 2.2 0a1.1 1.1 0 1 0-2.2 0zM237.80 107.97a1.1 1.1 0 1 0 2.2 0a1.1 1.1 0 1 0-2.2 0zM238.95 108.43a1.1 1.1 0 1 0 2.2 0a1.1 1.1 0 1 0-2.2 0zM240.07 109.14a1.1 1.1 0 1 0 2.2 0a1.1 1.1 0 1 0-2.2 0zM241.17 109.56a1.1 1.1 0 1 0 2.2 0a1.1 1.1 0 1 0-2.2 0zM242.24 109.96a1.1 1.1 0 1 0 2.2 0a1.1 1.1 0 1 0-2.2 0zM243.28 110.38a1.1 1.1 0 1 0 2.2 0a1.1 1.1 0 1 0-2.2 0zM244.30 111.01a1.1 1.1 0 1 0 2.2 0a1.1 1.1 0 1 0-2.2 0zM245.30 111.3a1.1 1.1 0 1 0 2.2 0a1.1 1.1 0 1 0-2.2 0zM246.27 111.7a1.1 1.1 0 1 0 2.2 0a1.1 1.1 0 1 0-2.2 0zM247.23 112.15a1.1 1.1 0 1 0 2.2 0a1.1 1.1 0 1 0-2.2 0zM248.16 112.56a1.1 1.1 0 1 0 2.2 0a1.1 1.1 0 1 0-2.2 0zM249.08 113.05a1.1 1.1 0 1 0 2.2 0a1.1 1.1 0 1 0-2.2 0zM249.97 113.33a1.1 1.1 0 1 0 2.2 0a1.1 1.1 0 1 0-2.2 0zM250.85 113.89a1.1 1.1 0 1 0 2.2 0a1.1 1.1 0 1 0-2.2 0zM251.71 114.03a1.1 1.1 0 1 0 2.2 0a1.1 1.1 0 1 0-2.2 0zM252.56 114.53a1.1 1.1 0 1 0 2.2 0a1.1 1.1 0 1 0-2.2 0zM253.39 114.75a1.1 1.1 0 1 0 2.2 0a1.1 1.1 0 1 0-2.2 0zM254.20 115.34a1.1 1.1 0 1 0 2.2 0a1.1 1.1 0 1 0-2.2 0zM255.00 115.52a1.1 1.1 0 1 0 2.2 0a1.1 1.1 0 1 0-2.2 0zM255.79 115.89a1.1 1.1 0 1 0 2.2 0a1.1 1.1 0 1 0-2.2 0zM256.56 116.3a1.1 1.1 0 1 0 2.2 0a1.1 1.1 0 1 0-2.2 0zM257.32 116.66a1.1 1.1 0 1 0 2.2 0a1.1 1.1 0 1 0-2.2 0zM258.06 116.8a1.1 1.1 0 1 0 2.2 0a1.1 1.1 0 1 0-2.2 0zM258.80 117.19a1.1 1.1 0 1 0 2.2 0a1.1 1.1 0 1 0-2.2 0zM259.52 117.42a1.1 1.1 0 1 0 2.2 0a1.1 1.1 0 1 0-2.2 0zM260.23 117.86a1.1 1.1 0 1 0 2.2 0a1.1 1.1 0 1 0-2.2 0zM260.93 118.14a1.1 1.1 0 1 0 2.2 0a1.1 1.1 0 1 0-2.2 0zM261.61 118.43a1.1 1.1 0 1 0 2.2 0a1.1 1.1 0 1 0-2.2 0zM262.29 118.7a1.1 1.1 0 1 0 2.2 0a1.1 1.1 0 1 0-2.2 0zM262.96 119.01a1.1 1.1 0 1 0 2.2 0a1.1 1.1 0 1 0-2.2 0zM263.62 119.28a1.1 1.1 0 1 0 2.2 0a1.1 1.1 0 1 0-2.2 0zM264.26 119.66a1.1 1.1 0 1 0 2.2 0a1.1 1.1 0 1 0-2.2 0zM264.90 120.02a1.1 1.1 0 1 0 2.2 0a1.1 1.1 0 1 0-2.2 0zM265.53 120.02a1.1 1.1 0 1 0 2.2 0a1.1 1.1 0 1 0-2.2 0zM266.15 120.44a1.1 1.1 0 1 0 2.2 0a1.1 1.1 0 1 0-2.2 0zM266.76 120.69a1.1 1.1 0 1 0 2.2 0a1.1 1.1 0 1 0-2.2 0zM267.37 121.03a1.1 1.1 0 1 0 2.2 0a1.1 1.1 0 1 0-2.2 0zM267.96 121.17a1.1 1.1 0 1 0 2.2 0a1.1 1.1 0 1 0-2.2 0zM268.55 121.49a1.1 1.1 0 1 0 2.2 0a1.1 1.1 0 1 0-2.2 0zM269.13 121.68a1.1 1.1 0 1 0 2.2 0a1.1 1.1 0 1 0-2.2 0zM269.70 122.07a1.1 1.1 0 1 0 2.2 0a1.1 1.1 0 1 0-2.2 0zM270.27 122.27a1.1 1.1 0 1 0 2.2 0a1.1 1.1 0 1 0-2.2 0zM270.83 122.49a1.1 1.1 0 1 0 2.2 0a1.1 1.1 0 1 0-2.2 0zM271.38 122.78a1.1 1.1 0 1 0 2.2 0a1.1 1.1 0 1 0-2.2 0zM271.92 122.97a1.1 1.1 0 1 0 2.2 0a1.1 1.1 0 1 0-2.2 0zM272.46 123.1a1.1 1.1 0 1 0 2.2 0a1.1 1.1 0 1 0-2.2 0zM272.99 123.51a1.1 1.1 0 1 0 2.2 0a1.1 1.1 0 1 0-2.2 0zM273.52 123.71a1.1 1.1 0 1 0 2.2 0a1.1 1.1 0 1 0-2.2 0zM274.04 123.91a1.1 1.1 0 1 0 2.2 0a1.1 1.1 0 1 0-2.2 0zM274.55 124.22a1.1 1.1 0 1 0 2.2 0a1.1 1.1 0 1 0-2.2 0zM275.06 124.47a1.1 1.1 0 1 0 2.2 0a1.1 1.1 0 1 0-2.2 0zM275.56 124.5a1.1 1.1 0 1 0 2.2 0a1.1 1.1 0 1 0-2.2 0zM276.05 124.74a1.1 1.1 0 1 0 2.2 0a1.1 1.1 0 1 0-2.2 0zM276.54 125.15a1.1 1.1 0 1 0 2.2 0a1.1 1.1 0 1 0-2.2 0zM277.03 125.35a1.1 1.1 0 1 0 2.2 0a1.1 1.1 0 1 0-2.2 0zM277.51 125.39a1.1 1.1 0 1 0 2.2 0a1.1 1.1 0 1 0-2.2 0zM277.98 125.56a1.1 1.1 0 1 0 2.2 0a1.1 1.1 0 1 0-2.2 0zM278.45 125.81a1.1 1.1 0 1 0 2.2 0a1.1 1.1 0 1 0-2.2 0zM278.92 126.03a1.1 1.1 0 1 0 2.2 0a1.1 1.1 0 1 0-2.2 0zM279.38 126.14a1.1 1.1 0 1 0 2.2 0a1.1 1.1 0 1 0-2.2 0zM279.83 126.46a1.1 1.1 0 1 0 2.2 0a1.1 1.1 0 1 0-2.2 0zM280.28 126.55a1.1 1.1 0 1 0 2.2 0a1.1 1.1 0 1 0-2.2 0zM280.73 126.75a1.1 1.1 0 1 0 2.2 0a1.1 1.1 0 1 0-2.2 0zM281.17 127.11a1.1 1.1 0 1 0 2.2 0a1.1 1.1 0 1 0-2.2 0zM281.61 127.17a1.1 1.1 0 1 0 2.2 0a1.1 1.1 0 1 0-2.2 0zM282.04 127.4a1.1 1.1 0 1 0 2.2 0a1.1 1.1 0 1 0-2.2 0zM282.47 127.64a1.1 1.1 0 1 0 2.2 0a1.1 1.1 0 1 0-2.2 0zM282.89 127.84a1.1 1.1 0 1 0 2.2 0a1.1 1.1 0 1 0-2.2 0zM283.31 127.93a1.1 1.1 0 1 0 2.2 0a1.1 1.1 0 1 0-2.2 0zM283.73 128.14a1.1 1.1 0 1 0 2.2 0a1.1 1.1 0 1 0-2.2 0zM284.14 128.25a1.1 1.1 0 1 0 2.2 0a1.1 1.1 0 1 0-2.2 0zM284.55 128.63a1.1 1.1 0 1 0 2.2 0a1.1 1.1 0 1 0-2.2 0zM284.96 128.72a1.1 1.1 0 1 0 2.2 0a1.1 1.1 0 1 0-2.2 0zM285.36 128.75a1.1 1.1 0 1 0 2.2 0a1.1 1.1 0 1 0-2.2 0zM285.76 129.01a1.1 1.1 0 1 0 2.2 0a1.1 1.1 0 1 0-2.2 0zM286.15 129.24a1.1 1.1 0 1 0 2.2 0a1.1 1.1 0 1 0-2.2 0zM286.54 129.38a1.1 1.1 0 1 0 2.2 0a1.1 1.1 0 1 0-2.2 0zM286.93 129.66a1.1 1.1 0 1 0 2.2 0a1.1 1.1 0 1 0-2.2 0zM287.31 129.79a1.1 1.1 0 1 0 2.2 0a1.1 1.1 0 1 0-2.2 0zM287.69 129.8a1.1 1.1 0 1 0 2.2 0a1.1 1.1 0 1 0-2.2 0zM288.07 130.0a1.1 1.1 0 1 0 2.2 0a1.1 1.1 0 1 0-2.2 0zM288.45 130.06a1.1 1.1 0 1 0 2.2 0a1.1 1.1 0 1 0-2.2 0zM288.82 130.34a1.1 1.1 0 1 0 2.2 0a1.1 1.1 0 1 0-2.2 0zM289.19 130.49a1.1 1.1 0 1 0 2.2 0a1.1 1.1 0 1 0-2.2 0zM289.55 130.86a1.1 1.1 0 1 0 2.2 0a1.1 1.1 0 1 0-2.2 0zM289.91 130.8a1.1 1.1 0 1 0 2.2 0a1.1 1.1 0 1 0-2.2 0zM290.27 130.78a1.1 1.1 0 1 0 2.2 0a1.1 1.1 0 1 0-2.2 0zM290.63 131.05a1.1 1.1 0 1 0 2.2 0a1.1 1.1 0 1 0-2.2 0zM290.98 131.26a1.1 1.1 0 1 0 2.2 0a1.1 1.1 0 1 0-2.2 0zM291.33 131.3a1.1 1.1 0 1 0 2.2 0a1.1 1.1 0 1 0-2.2 0zM291.68 131.48a1.1 1.1 0 1 0 2.2 0a1.1 1.1 0 1 0-2.2 0zM292.03 131.67a1.1 1.1 0 1 0 2.2 0a1.1 1.1 0 1 0-2.2 0zM292.37 131.88a1.1 1.1 0 1 0 2.2 0a1.1 1.1 0 1 0-2.2 0zM292.71 131.98a1.1 1.1 0 1 0 2.2 0a1.1 1.1 0 1 0-2.2 0zM293.05 132.07a1.1 1.1 0 1 0 2.2 0a1.1 1.1 0 1 0-2.2 0zM293.38 132.35a1.1 1.1 0 1 0 2.2 0a1.1 1.1 0 1 0-2.2 0zM293.71 132.39a1.1 1.1 0 1 0 2.2 0a1.1 1.1 0 1 0-2.2 0zM294.04 132.53a1.1 1.1 0 1 0 2.2 0a1.1 1.1 0 1 0-2.2 0zM294.37 132.6a1.1 1.1 0 1 0 2.2 0a1.1 1.1 0 1 0-2.2 0zM294.70 132.79a1.1 1.1 0 1 0 2.2 0a1.1 1.1 0 1 0-2.2 0zM295.02 133.04a1.1 1.1 0 1 0 2.2 0a1.1 1.1 0 1 0-2.2 0zM295.34 132.99a1.1 1.1 0 1 0 2.2 0a1.1 1.1 0 1 0-2.2 0zM295.66 133.26a1.1 1.1 0 1 0 2.2 0a1.1 1.1 0 1 0-2.2 0zM295.97 133.46a1.1 1.1 0 1 0 2.2 0a1.1 1.1 0 1 0-2.2 0zM296.29 133.5a1.1 1.1 0 1 0 2.2 0a1.1 1.1 0 1 0-2.2 0zM296.60 133.69a1.1 1.1 0 1 0 2.2 0a1.1 1.1 0 1 0-2.2 0zM296.91 133.71a1.1 1.1 0 1 0 2.2 0a1.1 1.1 0 1 0-2.2 0zM297.21 134.04a1.1 1.1 0 1 0 2.2 0a1.1 1.1 0 1 0-2.2 0zM297.52 134.16a1.1 1.1 0 1 0 2.2 0a1.1 1.1 0 1 0-2.2 0zM297.82 134.22a1.1 1.1 0 1 0 2.2 0a1.1 1.1 0 1 0-2.2 0zM298.12 134.18a1.1 1.1 0 1 0 2.2 0a1.1 1.1 0 1 0-2.2 0zM298.42 134.37a1.1 1.1 0 1 0 2.2 0a1.1 1.1 0 1 0-2.2 0zM298.72 134.66a1.1 1.1 0 1 0 2.2 0a1.1 1.1 0 1 0-2.2 0zM299.01 134.85a1.1 1.1 0 1 0 2.2 0a1.1 1.1 0 1 0-2.2 0zM299.31 134.86a1.1 1.1 0 1 0 2.2 0a1.1 1.1 0 1 0-2.2 0zM299.60 135.07a1.1 1.1 0 1 0 2.2 0a1.1 1.1 0 1 0-2.2 0zM299.89 135.03a1.1 1.1 0 1 0 2.2 0a1.1 1.1 0 1 0-2.2 0zM300.17 135.19a1.1 1.1 0 1 0 2.2 0a1.1 1.1 0 1 0-2.2 0zM300.46 135.33a1.1 1.1 0 1 0 2.2 0a1.1 1.1 0 1 0-2.2 0zM300.74 135.49a1.1 1.1 0 1 0 2.2 0a1.1 1.1 0 1 0-2.2 0zM301.02 135.44a1.1 1.1 0 1 0 2.2 0a1.1 1.1 0 1 0-2.2 0zM301.30 135.78a1.1 1.1 0 1 0 2.2 0a1.1 1.1 0 1 0-2.2 0zM301.58 135.93a1.1 1.1 0 1 0 2.2 0a1.1 1.1 0 1 0-2.2 0zM301.86 135.83a1.1 1.1 0 1 0 2.2 0a1.1 1.1 0 1 0-2.2 0zM302.13 135.93a1.1 1.1 0 1 0 2.2 0a1.1 1.1 0 1 0-2.2 0zM302.41 136.2a1.1 1.1 0 1 0 2.2 0a1.1 1.1 0 1 0-2.2 0zM302.68 136.23a1.1 1.1 0 1 0 2.2 0a1.1 1.1 0 1 0-2.2 0zM302.95 136.19a1.1 1.1 0 1 0 2.2 0a1.1 1.1 0 1 0-2.2 0zM303.21 136.59a1.1 1.1 0 1 0 2.2 0a1.1 1.1 0 1 0-2.2 0zM303.48 136.64a1.1 1.1 0 1 0 2.2 0a1.1 1.1 0 1 0-2.2 0zM303.75 136.7a1.1 1.1 0 1 0 2.2 0a1.1 1.1 0 1 0-2.2 0zM304.01 137.05a1.1 1.1 0 1 0 2.2 0a1.1 1.1 0 1 0-2.2 0zM304.27 136.98a1.1 1.1 0 1 0 2.2 0a1.1 1.1 0 1 0-2.2 0zM304.53 137.01a1.1 1.1 0 1 0 2.2 0a1.1 1.1 0 1 0-2.2 0zM304.79 137.2a1.1 1.1 0 1 0 2.2 0a1.1 1.1 0 1 0-2.2 0zM305.05 137.21a1.1 1.1 0 1 0 2.2 0a1.1 1.1 0 1 0-2.2 0zM305.30 137.34a1.1 1.1 0 1 0 2.2 0a1.1 1.1 0 1 0-2.2 0zM305.56 137.56a1.1 1.1 0 1 0 2.2 0a1.1 1.1 0 1 0-2.2 0zM305.81 137.58a1.1 1.1 0 1 0 2.2 0a1.1 1.1 0 1 0-2.2 0zM306.06 137.7a1.1 1.1 0 1 0 2.2 0a1.1 1.1 0 1 0-2.2 0zM306.31 138.0a1.1 1.1 0 1 0 2.2 0a1.1 1.1 0 1 0-2.2 0zM306.56 138.03a1.1 1.1 0 1 0 2.2 0a1.1 1.1 0 1 0-2.2 0zM306.81 138.14a1.1 1.1 0 1 0 2.2 0a1.1 1.1 0 1 0-2.2 0zM307.05 138.22a1.1 1.1 0 1 0 2.2 0a1.1 1.1 0 1 0-2.2 0zM307.30 138.32a1.1 1.1 0 1 0 2.2 0a1.1 1.1 0 1 0-2.2 0zM307.54 138.51a1.1 1.1 0 1 0 2.2 0a1.1 1.1 0 1 0-2.2 0zM307.78 138.48a1.1 1.1 0 1 0 2.2 0a1.1 1.1 0 1 0-2.2 0zM308.02 138.76a1.1 1.1 0 1 0 2.2 0a1.1 1.1 0 1 0-2.2 0zM308.26 138.59a1.1 1.1 0 1 0 2.2 0a1.1 1.1 0 1 0-2.2 0zM308.50 138.76a1.1 1.1 0 1 0 2.2 0a1.1 1.1 0 1 0-2.2 0zM308.74 138.76a1.1 1.1 0 1 0 2.2 0a1.1 1.1 0 1 0-2.2 0zM308.97 138.96a1.1 1.1 0 1 0 2.2 0a1.1 1.1 0 1 0-2.2 0zM309.21 139.14a1.1 1.1 0 1 0 2.2 0a1.1 1.1 0 1 0-2.2 0zM309.44 139.33a1.1 1.1 0 1 0 2.2 0a1.1 1.1 0 1 0-2.2 0zM309.67 139.23a1.1 1.1 0 1 0 2.2 0a1.1 1.1 0 1 0-2.2 0zM309.90 139.39a1.1 1.1 0 1 0 2.2 0a1.1 1.1 0 1 0-2.2 0zM310.13 139.45a1.1 1.1 0 1 0 2.2 0a1.1 1.1 0 1 0-2.2 0zM310.36 139.51a1.1 1.1 0 1 0 2.2 0a1.1 1.1 0 1 0-2.2 0zM310.59 139.56a1.1 1.1 0 1 0 2.2 0a1.1 1.1 0 1 0-2.2 0zM310.81 139.79a1.1 1.1 0 1 0 2.2 0a1.1 1.1 0 1 0-2.2 0zM311.04 139.7a1.1 1.1 0 1 0 2.2 0a1.1 1.1 0 1 0-2.2 0zM311.26 139.99a1.1 1.1 0 1 0 2.2 0a1.1 1.1 0 1 0-2.2 0zM311.48 140.07a1.1 1.1 0 1 0 2.2 0a1.1 1.1 0 1 0-2.2 0zM311.70 140.1a1.1 1.1 0 1 0 2.2 0a1.1 1.1 0 1 0-2.2 0zM311.92 140.16a1.1 1.1 0 1 0 2.2 0a1.1 1.1 0 1 0-2.2 0zM312.14 140.21a1.1 1.1 0 1 0 2.2 0a1.1 1.1 0 1 0-2.2 0zM312.36 140.64a1.1 1.1 0 1 0 2.2 0a1.1 1.1 0 1 0-2.2 0zM312.58 140.4a1.1 1.1 0 1 0 2.2 0a1.1 1.1 0 1 0-2.2 0zM312.79 140.8a1.1 1.1 0 1 0 2.2 0a1.1 1.1 0 1 0-2.2 0zM313.01 140.79a1.1 1.1 0 1 0 2.2 0a1.1 1.1 0 1 0-2.2 0zM313.22 140.78a1.1 1.1 0 1 0 2.2 0a1.1 1.1 0 1 0-2.2 0zM313.43 140.79a1.1 1.1 0 1 0 2.2 0a1.1 1.1 0 1 0-2.2 0zM313.65 141.11a1.1 1.1 0 1 0 2.2 0a1.1 1.1 0 1 0-2.2 0zM313.86 141.28a1.1 1.1 0 1 0 2.2 0a1.1 1.1 0 1 0-2.2 0zM314.07 141.08a1.1 1.1 0 1 0 2.2 0a1.1 1.1 0 1 0-2.2 0zM314.28 141.24a1.1 1.1 0 1 0 2.2 0a1.1 1.1 0 1 0-2.2 0zM314.48 141.48a1.1 1.1 0 1 0 2.2 0a1.1 1.1 0 1 0-2.2 0zM314.69 141.49a1.1 1.1 0 1 0 2.2 0a1.1 1.1 0 1 0-2.2 0zM314.90 141.76a1.1 1.1 0 1 0 2.2 0a1.1 1.1 0 1 0-2.2 0zM315.10 141.56a1.1 1.1 0 1 0 2.2 0a1.1 1.1 0 1 0-2.2 0zM315.31 141.78a1.1 1.1 0 1 0 2.2 0a1.1 1.1 0 1 0-2.2 0zM315.51 141.66a1.1 1.1 0 1 0 2.2 0a1.1 1.1 0 1 0-2.2 0zM315.71 142.13a1.1 1.1 0 1 0 2.2 0a1.1 1.1 0 1 0-2.2 0zM315.91 141.89a1.1 1.1 0 1 0 2.2 0a1.1 1.1 0 1 0-2.2 0zM316.11 141.81a1.1 1.1 0 1 0 2.2 0a1.1 1.1 0 1 0-2.2 0zM316.31 142.13a1.1 1.1 0 1 0 2.2 0a1.1 1.1 0 1 0-2.2 0zM316.51 142.22a1.1 1.1 0 1 0 2.2 0a1.1 1.1 0 1 0-2.2 0zM316.71 142.54a1.1 1.1 0 1 0 2.2 0a1.1 1.1 0 1 0-2.2 0zM316.90 142.36a1.1 1.1 0 1 0 2.2 0a1.1 1.1 0 1 0-2.2 0zM317.10 142.48a1.1 1.1 0 1 0 2.2 0a1.1 1.1 0 1 0-2.2 0zM317.30 142.64a1.1 1.1 0 1 0 2.2 0a1.1 1.1 0 1 0-2.2 0zM317.49 142.84a1.1 1.1 0 1 0 2.2 0a1.1 1.1 0 1 0-2.2 0zM317.68 142.73a1.1 1.1 0 1 0 2.2 0a1.1 1.1 0 1 0-2.2 0zM317.88 142.95a1.1 1.1 0 1 0 2.2 0a1.1 1.1 0 1 0-2.2 0zM318.07 142.96a1.1 1.1 0 1 0 2.2 0a1.1 1.1 0 1 0-2.2 0zM318.26 142.95a1.1 1.1 0 1 0 2.2 0a1.1 1.1 0 1 0-2.2 0zM318.45 143.08a1.1 1.1 0 1 0 2.2 0a1.1 1.1 0 1 0-2.2 0zM318.64 143.15a1.1 1.1 0 1 0 2.2 0a1.1 1.1 0 1 0-2.2 0zM318.83 143.11a1.1 1.1 0 1 0 2.2 0a1.1 1.1 0 1 0-2.2 0zM319.01 143.46a1.1 1.1 0 1 0 2.2 0a1.1 1.1 0 1 0-2.2 0zM319.20 143.21a1.1 1.1 0 1 0 2.2 0a1.1 1.1 0 1 0-2.2 0zM319.39 143.62a1.1 1.1 0 1 0 2.2 0a1.1 1.1 0 1 0-2.2 0zM319.57 143.67a1.1 1.1 0 1 0 2.2 0a1.1 1.1 0 1 0-2.2 0zM319.76 143.62a1.1 1.1 0 1 0 2.2 0a1.1 1.1 0 1 0-2.2 0zM319.94 143.61a1.1 1.1 0 1 0 2.2 0a1.1 1.1 0 1 0-2.2 0zM320.12 143.76a1.1 1.1 0 1 0 2.2 0a1.1 1.1 0 1 0-2.2 0zM320.30 143.93a1.1 1.1 0 1 0 2.2 0a1.1 1.1 0 1 0-2.2 0zM320.49 144.04a1.1 1.1 0 1 0 2.2 0a1.1 1.1 0 1 0-2.2 0zM320.67 144.06a1.1 1.1 0 1 0 2.2 0a1.1 1.1 0 1 0-2.2 0zM320.85 144.23a1.1 1.1 0 1 0 2.2 0a1.1 1.1 0 1 0-2.2 0zM321.03 144.1a1.1 1.1 0 1 0 2.2 0a1.1 1.1 0 1 0-2.2 0zM321.20 144.28a1.1 1.1 0 1 0 2.2 0a1.1 1.1 0 1 0-2.2 0zM321.38 144.12a1.1 1.1 0 1 0 2.2 0a1.1 1.1 0 1 0-2.2 0zM321.56 144.51a1.1 1.1 0 1 0 2.2 0a1.1 1.1 0 1 0-2.2 0zM321.74 144.5a1.1 1.1 0 1 0 2.2 0a1.1 1.1 0 1 0-2.2 0zM321.91 144.5a1.1 1.1 0 1 0 2.2 0a1.1 1.1 0 1 0-2.2 0zM322.09 144.79a1.1 1.1 0 1 0 2.2 0a1.1 1.1 0 1 0-2.2 0zM322.26 144.8a1.1 1.1 0 1 0 2.2 0a1.1 1.1 0 1 0-2.2 0zM322.43 144.39a1.1 1.1 0 1 0 2.2 0a1.1 1.1 0 1 0-2.2 0zM322.61 144.86a1.1 1.1 0 1 0 2.2 0a1.1 1.1 0 1 0-2.2 0zM322.78 144.72a1.1 1.1 0 1 0 2.2 0a1.1 1.1 0 1 0-2.2 0zM322.95 145.15a1.1 1.1 0 1 0 2.2 0a1.1 1.1 0 1 0-2.2 0zM323.12 145.43a1.1 1.1 0 1 0 2.2 0a1.1 1.1 0 1 0-2.2 0zM323.29 145.07a1.1 1.1 0 1 0 2.2 0a1.1 1.1 0 1 0-2.2 0zM323.46 145.23a1.1 1.1 0 1 0 2.2 0a1.1 1.1 0 1 0-2.2 0zM323.63 145.26a1.1 1.1 0 1 0 2.2 0a1.1 1.1 0 1 0-2.2 0zM323.80 145.42a1.1 1.1 0 1 0 2.2 0a1.1 1.1 0 1 0-2.2 0zM323.97 145.53a1.1 1.1 0 1 0 2.2 0a1.1 1.1 0 1 0-2.2 0zM324.14 145.7a1.1 1.1 0 1 0 2.2 0a1.1 1.1 0 1 0-2.2 0zM324.30 145.44a1.1 1.1 0 1 0 2.2 0a1.1 1.1 0 1 0-2.2 0zM324.47 145.89a1.1 1.1 0 1 0 2.2 0a1.1 1.1 0 1 0-2.2 0zM324.63 145.59a1.1 1.1 0 1 0 2.2 0a1.1 1.1 0 1 0-2.2 0zM324.80 145.84a1.1 1.1 0 1 0 2.2 0a1.1 1.1 0 1 0-2.2 0zM324.96 146.04a1.1 1.1 0 1 0 2.2 0a1.1 1.1 0 1 0-2.2 0zM325.12 146.05a1.1 1.1 0 1 0 2.2 0a1.1 1.1 0 1 0-2.2 0zM325.29 145.86a1.1 1.1 0 1 0 2.2 0a1.1 1.1 0 1 0-2.2 0zM325.45 145.97a1.1 1.1 0 1 0 2.2 0a1.1 1.1 0 1 0-2.2 0zM325.61 146.07a1.1 1.1 0 1 0 2.2 0a1.1 1.1 0 1 0-2.2 0zM325.77 146.21a1.1 1.1 0 1 0 2.2 0a1.1 1.1 0 1 0-2.2 0zM325.93 146.46a1.1 1.1 0 1 0 2.2 0a1.1 1.1 0 1 0-2.2 0zM326.09 146.15a1.1 1.1 0 1 0 2.2 0a1.1 1.1 0 1 0-2.2 0zM326.25 146.5a1.1 1.1 0 1 0 2.2 0a1.1 1.1 0 1 0-2.2 0zM326.41 146.59a1.1 1.1 0 1 0 2.2 0a1.1 1.1 0 1 0-2.2 0zM326.57 146.65a1.1 1.1 0 1 0 2.2 0a1.1 1.1 0 1 0-2.2 0zM326.73 146.7a1.1 1.1 0 1 0 2.2 0a1.1 1.1 0 1 0-2.2 0zM326.88 146.94a1.1 1.1 0 1 0 2.2 0a1.1 1.1 0 1 0-2.2 0zM327.04 146.84a1.1 1.1 0 1 0 2.2 0a1.1 1.1 0 1 0-2.2 0zM327.20 146.97a1.1 1.1 0 1 0 2.2 0a1.1 1.1 0 1 0-2.2 0zM327.35 146.99a1.1 1.1 0 1 0 2.2 0a1.1 1.1 0 1 0-2.2 0zM327.51 147.26a1.1 1.1 0 1 0 2.2 0a1.1 1.1 0 1 0-2.2 0zM327.66 146.71a1.1 1.1 0 1 0 2.2 0a1.1 1.1 0 1 0-2.2 0zM327.81 147.31a1.1 1.1 0 1 0 2.2 0a1.1 1.1 0 1 0-2.2 0zM327.97 147.12a1.1 1.1 0 1 0 2.2 0a1.1 1.1 0 1 0-2.2 0zM328.12 147.18a1.1 1.1 0 1 0 2.2 0a1.1 1.1 0 1 0-2.2 0zM328.27 147.12a1.1 1.1 0 1 0 2.2 0a1.1 1.1 0 1 0-2.2 0zM328.42 147.03a1.1 1.1 0 1 0 2.2 0a1.1 1.1 0 1 0-2.2 0zM328.58 147.35a1.1 1.1 0 1 0 2.2 0a1.1 1.1 0 1 0-2.2 0zM328.73 147.37a1.1 1.1 0 1 0 2.2 0a1.1 1.1 0 1 0-2.2 0zM328.88 147.64a1.1 1.1 0 1 0 2.2 0a1.1 1.1 0 1 0-2.2 0zM329.03 147.36a1.1 1.1 0 1 0 2.2 0a1.1 1.1 0 1 0-2.2 0zM329.18 147.93a1.1 1.1 0 1 0 2.2 0a1.1 1.1 0 1 0-2.2 0zM329.32 147.79a1.1 1.1 0 1 0 2.2 0a1.1 1.1 0 1 0-2.2 0zM329.47 147.76a1.1 1.1 0 1 0 2.2 0a1.1 1.1 0 1 0-2.2 0zM329.62 147.74a1.1 1.1 0 1 0 2.2 0a1.1 1.1 0 1 0-2.2 0zM329.77 147.79a1.1 1.1 0 1 0 2.2 0a1.1 1.1 0 1 0-2.2 0zM329.91 147.79a1.1 1.1 0 1 0 2.2 0a1.1 1.1 0 1 0-2.2 0zM330.06 147.96a1.1 1.1 0 1 0 2.2 0a1.1 1.1 0 1 0-2.2 0zM330.21 148.12a1.1 1.1 0 1 0 2.2 0a1.1 1.1 0 1 0-2.2 0zM330.35 148.15a1.1 1.1 0 1 0 2.2 0a1.1 1.1 0 1 0-2.2 0zM330.50 147.98a1.1 1.1 0 1 0 2.2 0a1.1 1.1 0 1 0-2.2 0zM330.64 148.26a1.1 1.1 0 1 0 2.2 0a1.1 1.1 0 1 0-2.2 0zM330.78 148.2a1.1 1.1 0 1 0 2.2 0a1.1 1.1 0 1 0-2.2 0zM330.93 148.46a1.1 1.1 0 1 0 2.2 0a1.1 1.1 0 1 0-2.2 0zM331.07 148.85a1.1 1.1 0 1 0 2.2 0a1.1 1.1 0 1 0-2.2 0zM331.21 148.67a1.1 1.1 0 1 0 2.2 0a1.1 1.1 0 1 0-2.2 0zM331.35 148.56a1.1 1.1 0 1 0 2.2 0a1.1 1.1 0 1 0-2.2 0zM331.50 148.36a1.1 1.1 0 1 0 2.2 0a1.1 1.1 0 1 0-2.2 0zM331.64 148.46a1.1 1.1 0 1 0 2.2 0a1.1 1.1 0 1 0-2.2 0zM331.78 148.47a1.1 1.1 0 1 0 2.2 0a1.1 1.1 0 1 0-2.2 0zM331.92 149.0a1.1 1.1 0 1 0 2.2 0a1.1 1.1 0 1 0-2.2 0zM332.06 148.77a1.1 1.1 0 1 0 2.2 0a1.1 1.1 0 1 0-2.2 0zM332.20 148.99a1.1 1.1 0 1 0 2.2 0a1.1 1.1 0 1 0-2.2 0zM332.34 148.91a1.1 1.1 0 1 0 2.2 0a1.1 1.1 0 1 0-2.2 0zM332.47 149.12a1.1 1.1 0 1 0 2.2 0a1.1 1.1 0 1 0-2.2 0zM332.61 149.44a1.1 1.1 0 1 0 2.2 0a1.1 1.1 0 1 0-2.2 0zM332.75 149.08a1.1 1.1 0 1 0 2.2 0a1.1 1.1 0 1 0-2.2 0zM332.89 149.2a1.1 1.1 0 1 0 2.2 0a1.1 1.1 0 1 0-2.2 0zM333.02 149.17a1.1 1.1 0 1 0 2.2 0a1.1 1.1 0 1 0-2.2 0zM333.16 149.57a1.1 1.1 0 1 0 2.2 0a1.1 1.1 0 1 0-2.2 0zM333.30 149.24a1.1 1.1 0 1 0 2.2 0a1.1 1.1 0 1 0-2.2 0zM333.43 149.27a1.1 1.1 0 1 0 2.2 0a1.1 1.1 0 1 0-2.2 0zM333.57 149.28a1.1 1.1 0 1 0 2.2 0a1.1 1.1 0 1 0-2.2 0zM333.70 149.33a1.1 1.1 0 1 0 2.2 0a1.1 1.1 0 1 0-2.2 0zM333.84 149.78a1.1 1.1 0 1 0 2.2 0a1.1 1.1 0 1 0-2.2 0zM333.97 150.29a1.1 1.1 0 1 0 2.2 0a1.1 1.1 0 1 0-2.2 0zM334.10 149.58a1.1 1.1 0 1 0 2.2 0a1.1 1.1 0 1 0-2.2 0zM334.24 150.06a1.1 1.1 0 1 0 2.2 0a1.1 1.1 0 1 0-2.2 0zM334.37 149.97a1.1 1.1 0 1 0 2.2 0a1.1 1.1 0 1 0-2.2 0zM334.50 149.73a1.1 1.1 0 1 0 2.2 0a1.1 1.1 0 1 0-2.2 0zM334.63 149.96a1.1 1.1 0 1 0 2.2 0a1.1 1.1 0 1 0-2.2 0zM334.76 150.03a1.1 1.1 0 1 0 2.2 0a1.1 1.1 0 1 0-2.2 0zM334.89 149.99a1.1 1.1 0 1 0 2.2 0a1.1 1.1 0 1 0-2.2 0zM335.03 150.62a1.1 1.1 0 1 0 2.2 0a1.1 1.1 0 1 0-2.2 0zM335.16 149.83a1.1 1.1 0 1 0 2.2 0a1.1 1.1 0 1 0-2.2 0zM335.29 150.39a1.1 1.1 0 1 0 2.2 0a1.1 1.1 0 1 0-2.2 0zM335.42 150.44a1.1 1.1 0 1 0 2.2 0a1.1 1.1 0 1 0-2.2 0zM335.54 150.29a1.1 1.1 0 1 0 2.2 0a1.1 1.1 0 1 0-2.2 0zM335.67 150.51a1.1 1.1 0 1 0 2.2 0a1.1 1.1 0 1 0-2.2 0zM335.80 150.73a1.1 1.1 0 1 0 2.2 0a1.1 1.1 0 1 0-2.2 0zM335.93 150.62a1.1 1.1 0 1 0 2.2 0a1.1 1.1 0 1 0-2.2 0zM336.06 150.73a1.1 1.1 0 1 0 2.2 0a1.1 1.1 0 1 0-2.2 0zM336.18 150.85a1.1 1.1 0 1 0 2.2 0a1.1 1.1 0 1 0-2.2 0zM336.31 150.27a1.1 1.1 0 1 0 2.2 0a1.1 1.1 0 1 0-2.2 0zM336.44 151.15a1.1 1.1 0 1 0 2.2 0a1.1 1.1 0 1 0-2.2 0zM336.56 151.39a1.1 1.1 0 1 0 2.2 0a1.1 1.1 0 1 0-2.2 0zM336.69 151.14a1.1 1.1 0 1 0 2.2 0a1.1 1.1 0 1 0-2.2 0zM336.82 151.21a1.1 1.1 0 1 0 2.2 0a1.1 1.1 0 1 0-2.2 0zM336.94 150.68a1.1 1.1 0 1 0 2.2 0a1.1 1.1 0 1 0-2.2 0zM337.07 151.04a1.1 1.1 0 1 0 2.2 0a1.1 1.1 0 1 0-2.2 0zM337.19 150.93a1.1 1.1 0 1 0 2.2 0a1.1 1.1 0 1 0-2.2 0zM337.31 151.04a1.1 1.1 0 1 0 2.2 0a1.1 1.1 0 1 0-2.2 0zM337.44 151.47a1.1 1.1 0 1 0 2.2 0a1.1 1.1 0 1 0-2.2 0zM337.56 151.09a1.1 1.1 0 1 0 2.2 0a1.1 1.1 0 1 0-2.2 0zM337.68 151.31a1.1 1.1 0 1 0 2.2 0a1.1 1.1 0 1 0-2.2 0zM337.81 150.92a1.1 1.1 0 1 0 2.2 0a1.1 1.1 0 1 0-2.2 0zM337.93 151.4a1.1 1.1 0 1 0 2.2 0a1.1 1.1 0 1 0-2.2 0zM338.05 151.52a1.1 1.1 0 1 0 2.2 0a1.1 1.1 0 1 0-2.2 0zM338.17 151.37a1.1 1.1 0 1 0 2.2 0a1.1 1.1 0 1 0-2.2 0zM338.29 151.42a1.1 1.1 0 1 0 2.2 0a1.1 1.1 0 1 0-2.2 0zM338.42 152.13a1.1 1.1 0 1 0 2.2 0a1.1 1.1 0 1 0-2.2 0zM338.54 151.39a1.1 1.1 0 1 0 2.2 0a1.1 1.1 0 1 0-2.2 0zM338.66 151.49a1.1 1.1 0 1 0 2.2 0a1.1 1.1 0 1 0-2.2 0zM338.78 151.6a1.1 1.1 0 1 0 2.2 0a1.1 1.1 0 1 0-2.2 0zM338.90 152.17a1.1 1.1 0 1 0 2.2 0a1.1 1.1 0 1 0-2.2 0zM339.02 152.46a1.1 1.1 0 1 0 2.2 0a1.1 1.1 0 1 0-2.2 0zM339.14 152.05a1.1 1.1 0 1 0 2.2 0a1.1 1.1 0 1 0-2.2 0zM339.25 151.82a1.1 1.1 0 1 0 2.2 0a1.1 1.1 0 1 0-2.2 0zM339.37 151.95a1.1 1.1 0 1 0 2.2 0a1.1 1.1 0 1 0-2.2 0zM339.49 152.4a1.1 1.1 0 1 0 2.2 0a1.1 1.1 0 1 0-2.2 0zM339.61 151.92a1.1 1.1 0 1 0 2.2 0a1.1 1.1 0 1 0-2.2 0zM339.73 152.6a1.1 1.1 0 1 0 2.2 0a1.1 1.1 0 1 0-2.2 0zM339.84 152.65a1.1 1.1 0 1 0 2.2 0a1.1 1.1 0 1 0-2.2 0zM339.96 152.33a1.1 1.1 0 1 0 2.2 0a1.1 1.1 0 1 0-2.2 0zM340.08 152.54a1.1 1.1 0 1 0 2.2 0a1.1 1.1 0 1 0-2.2 0zM340.19 152.62a1.1 1.1 0 1 0 2.2 0a1.1 1.1 0 1 0-2.2 0zM340.31 152.89a1.1 1.1 0 1 0 2.2 0a1.1 1.1 0 1 0-2.2 0zM340.43 152.22a1.1 1.1 0 1 0 2.2 0a1.1 1.1 0 1 0-2.2 0zM340.54 152.89a1.1 1.1 0 1 0 2.2 0a1.1 1.1 0 1 0-2.2 0zM340.66 152.51a1.1 1.1 0 1 0 2.2 0a1.1 1.1 0 1 0-2.2 0zM340.77 152.45a1.1 1.1 0 1 0 2.2 0a1.1 1.1 0 1 0-2.2 0zM340.88 152.74a1.1 1.1 0 1 0 2.2 0a1.1 1.1 0 1 0-2.2 0zM341.00 152.7a1.1 1.1 0 1 0 2.2 0a1.1 1.1 0 1 0-2.2 0zM341.11 152.53a1.1 1.1 0 1 0 2.2 0a1.1 1.1 0 1 0-2.2 0zM341.23 152.4a1.1 1.1 0 1 0 2.2 0a1.1 1.1 0 1 0-2.2 0zM341.34 152.64a1.1 1.1 0 1 0 2.2 0a1.1 1.1 0 1 0-2.2 0zM341.45 153.37a1.1 1.1 0 1 0 2.2 0a1.1 1.1 0 1 0-2.2 0zM341.57 153.57a1.1 1.1 0 1 0 2.2 0a1.1 1.1 0 1 0-2.2 0zM341.68 153.24a1.1 1.1 0 1 0 2.2 0a1.1 1.1 0 1 0-2.2 0zM341.79 153.44a1.1 1.1 0 1 0 2.2 0a1.1 1.1 0 1 0-2.2 0zM341.90 153.0a1.1 1.1 0 1 0 2.2 0a1.1 1.1 0 1 0-2.2 0zM342.01 153.17a1.1 1.1 0 1 0 2.2 0a1.1 1.1 0 1 0-2.2 0zM342.13 153.33a1.1 1.1 0 1 0 2.2 0a1.1 1.1 0 1 0-2.2 0zM342.24 152.97a1.1 1.1 0 1 0 2.2 0a1.1 1.1 0 1 0-2.2 0zM342.35 153.04a1.1 1.1 0 1 0 2.2 0a1.1 1.1 0 1 0-2.2 0zM342.46 153.41a1.1 1.1 0 1 0 2.2 0a1.1 1.1 0 1 0-2.2 0zM342.57 153.34a1.1 1.1 0 1 0 2.2 0a1.1 1.1 0 1 0-2.2 0zM342.68 153.16a1.1 1.1 0 1 0 2.2 0a1.1 1.1 0 1 0-2.2 0zM342.79 153.64a1.1 1.1 0 1 0 2.2 0a1.1 1.1 0 1 0-2.2 0zM342.90 153.49a1.1 1.1 0 1 0 2.2 0a1.1 1.1 0 1 0-2.2 0zM343.01 153.93a1.1 1.1 0 1 0 2.2 0a1.1 1.1 0 1 0-2.2 0zM343.11 153.66a1.1 1.1 0 1 0 2.2 0a1.1 1.1 0 1 0-2.2 0zM343.22 153.62a1.1 1.1 0 1 0 2.2 0a1.1 1.1 0 1 0-2.2 0zM343.33 153.8a1.1 1.1 0 1 0 2.2 0a1.1 1.1 0 1 0-2.2 0zM343.44 153.75a1.1 1.1 0 1 0 2.2 0a1.1 1.1 0 1 0-2.2 0zM343.55 153.64a1.1 1.1 0 1 0 2.2 0a1.1 1.1 0 1 0-2.2 0zM343.66 153.77a1.1 1.1 0 1 0 2.2 0a1.1 1.1 0 1 0-2.2 0zM343.76 154.18a1.1 1.1 0 1 0 2.2 0a1.1 1.1 0 1 0-2.2 0zM343.87 154.2a1.1 1.1 0 1 0 2.2 0a1.1 1.1 0 1 0-2.2 0zM343.98 154.45a1.1 1.1 0 1 0 2.2 0a1.1 1.1 0 1 0-2.2 0zM344.08 153.54a1.1 1.1 0 1 0 2.2 0a1.1 1.1 0 1 0-2.2 0zM344.19 154.0a1.1 1.1 0 1 0 2.2 0a1.1 1.1 0 1 0-2.2 0zM344.30 154.04a1.1 1.1 0 1 0 2.2 0a1.1 1.1 0 1 0-2.2 0zM344.40 154.27a1.1 1.1 0 1 0 2.2 0a1.1 1.1 0 1 0-2.2 0zM344.51 154.12a1.1 1.1 0 1 0 2.2 0a1.1 1.1 0 1 0-2.2 0zM344.61 154.14a1.1 1.1 0 1 0 2.2 0a1.1 1.1 0 1 0-2.2 0zM344.72 154.61a1.1 1.1 0 1 0 2.2 0a1.1 1.1 0 1 0-2.2 0zM344.82 154.46a1.1 1.1 0 1 0 2.2 0a1.1 1.1 0 1 0-2.2 0zM344.93 154.06a1.1 1.1 0 1 0 2.2 0a1.1 1.1 0 1 0-2.2 0zM345.03 154.93a1.1 1.1 0 1 0 2.2 0a1.1 1.1 0 1 0-2.2 0zM345.13 154.87a1.1 1.1 0 1 0 2.2 0a1.1 1.1 0 1 0-2.2 0zM345.24 154.38a1.1 1.1 0 1 0 2.2 0a1.1 1.1 0 1 0-2.2 0zM345.34 154.9a1.1 1.1 0 1 0 2.2 0a1.1 1.1 0 1 0-2.2 0zM345.45 154.42a1.1 1.1 0 1 0 2.2 0a1.1 1.1 0 1 0-2.2 0zM345.55 155.09a1.1 1.1 0 1 0 2.2 0a1.1 1.1 0 1 0-2.2 0zM345.65 154.68a1.1 1.1 0 1 0 2.2 0a1.1 1.1 0 1 0-2.2 0zM345.75 154.52a1.1 1.1 0 1 0 2.2 0a1.1 1.1 0 1 0-2.2 0zM345.86 154.71a1.1 1.1 0 1 0 2.2 0a1.1 1.1 0 1 0-2.2 0zM345.96 154.62a1.1 1.1 0 1 0 2.2 0a1.1 1.1 0 1 0-2.2 0zM346.06 155.0a1.1 1.1 0 1 0 2.2 0a1.1 1.1 0 1 0-2.2 0zM346.16 155.03a1.1 1.1 0 1 0 2.2 0a1.1 1.1 0 1 0-2.2 0zM346.26 155.03a1.1 1.1 0 1 0 2.2 0a1.1 1.1 0 1 0-2.2 0zM346.36 154.86a1.1 1.1 0 1 0 2.2 0a1.1 1.1 0 1 0-2.2 0zM346.47 153.81a1.1 1.1 0 1 0 2.2 0a1.1 1.1 0 1 0-2.2 0zM346.57 155.18a1.1 1.1 0 1 0 2.2 0a1.1 1.1 0 1 0-2.2 0zM346.67 154.51a1.1 1.1 0 1 0 2.2 0a1.1 1.1 0 1 0-2.2 0zM346.77 155.32a1.1 1.1 0 1 0 2.2 0a1.1 1.1 0 1 0-2.2 0zM346.87 155.68a1.1 1.1 0 1 0 2.2 0a1.1 1.1 0 1 0-2.2 0zM346.97 155.42a1.1 1.1 0 1 0 2.2 0a1.1 1.1 0 1 0-2.2 0zM347.07 155.22a1.1 1.1 0 1 0 2.2 0a1.1 1.1 0 1 0-2.2 0zM347.17 155.34a1.1 1.1 0 1 0 2.2 0a1.1 1.1 0 1 0-2.2 0zM347.26 155.4a1.1 1.1 0 1 0 2.2 0a1.1 1.1 0 1 0-2.2 0zM347.36 155.29a1.1 1.1 0 1 0 2.2 0a1.1 1.1 0 1 0-2.2 0zM347.46 155.31a1.1 1.1 0 1 0 2.2 0a1.1 1.1 0 1 0-2.2 0zM347.56 155.23a1.1 1.1 0 1 0 2.2 0a1.1 1.1 0 1 0-2.2 0zM347.66 156.05a1.1 1.1 0 1 0 2.2 0a1.1 1.1 0 1 0-2.2 0zM347.76 155.65a1.1 1.1 0 1 0 2.2 0a1.1 1.1 0 1 0-2.2 0zM347.85 156.06a1.1 1.1 0 1 0 2.2 0a1.1 1.1 0 1 0-2.2 0zM347.95 155.65a1.1 1.1 0 1 0 2.2 0a1.1 1.1 0 1 0-2.2 0zM348.05 155.81a1.1 1.1 0 1 0 2.2 0a1.1 1.1 0 1 0-2.2 0zM348.15 155.76a1.1 1.1 0 1 0 2.2 0a1.1 1.1 0 1 0-2.2 0zM348.24 156.04a1.1 1.1 0 1 0 2.2 0a1.1 1.1 0 1 0-2.2 0zM348.34 156.22a1.1 1.1 0 1 0 2.2 0a1.1 1.1 0 1 0-2.2 0zM348.44 156.04a1.1 1.1 0 1 0 2.2 0a1.1 1.1 0 1 0-2.2 0zM348.53 155.73a1.1 1.1 0 1 0 2.2 0a1.1 1.1 0 1 0-2.2 0zM348.63 155.73a1.1 1.1 0 1 0 2.2 0a1.1 1.1 0 1 0-2.2 0zM348.73 156.71a1.1 1.1 0 1 0 2.2 0a1.1 1.1 0 1 0-2.2 0zM348.82 156.0a1.1 1.1 0 1 0 2.2 0a1.1 1.1 0 1 0-2.2 0zM348.92 156.04a1.1 1.1 0 1 0 2.2 0a1.1 1.1 0 1 0-2.2 0zM349.01 156.77a1.1 1.1 0 1 0 2.2 0a1.1 1.1 0 1 0-2.2 0zM349.11 156.66a1.1 1.1 0 1 0 2.2 0a1.1 1.1 0 1 0-2.2 0zM349.20 156.49a1.1 1.1 0 1 0 2.2 0a1.1 1.1 0 1 0-2.2 0zM349.30 156.16a1.1 1.1 0 1 0 2.2 0a1.1 1.1 0 1 0-2.2 0zM349.39 157.29a1.1 1.1 0 1 0 2.2 0a1.1 1.1 0 1 0-2.2 0zM349.49 156.55a1.1 1.1 0 1 0 2.2 0a1.1 1.1 0 1 0-2.2 0zM349.58 156.66a1.1 1.1 0 1 0 2.2 0a1.1 1.1 0 1 0-2.2 0zM349.67 156.41a1.1 1.1 0 1 0 2.2 0a1.1 1.1 0 1 0-2.2 0zM349.77 155.95a1.1 1.1 0 1 0 2.2 0a1.1 1.1 0 1 0-2.2 0zM349.86 156.02a1.1 1.1 0 1 0 2.2 0a1.1 1.1 0 1 0-2.2 0zM349.95 156.76a1.1 1.1 0 1 0 2.2 0a1.1 1.1 0 1 0-2.2 0zM350.05 156.8a1.1 1.1 0 1 0 2.2 0a1.1 1.1 0 1 0-2.2 0zM350.14 156.58a1.1 1.1 0 1 0 2.2 0a1.1 1.1 0 1 0-2.2 0zM350.23 156.23a1.1 1.1 0 1 0 2.2 0a1.1 1.1 0 1 0-2.2 0zM350.33 156.16a1.1 1.1 0 1 0 2.2 0a1.1 1.1 0 1 0-2.2 0zM350.42 156.66a1.1 1.1 0 1 0 2.2 0a1.1 1.1 0 1 0-2.2 0zM350.51 156.23a1.1 1.1 0 1 0 2.2 0a1.1 1.1 0 1 0-2.2 0zM350.60 157.25a1.1 1.1 0 1 0 2.2 0a1.1 1.1 0 1 0-2.2 0zM350.69 157.4a1.1 1.1 0 1 0 2.2 0a1.1 1.1 0 1 0-2.2 0zM350.79 158.15a1.1 1.1 0 1 0 2.2 0a1.1 1.1 0 1 0-2.2 0zM350.88 157.36a1.1 1.1 0 1 0 2.2 0a1.1 1.1 0 1 0-2.2 0zM350.97 156.78a1.1 1.1 0 1 0 2.2 0a1.1 1.1 0 1 0-2.2 0zM351.06 156.7a1.1 1.1 0 1 0 2.2 0a1.1 1.1 0 1 0-2.2 0zM351.15 155.63a1.1 1.1 0 1 0 2.2 0a1.1 1.1 0 1 0-2.2 0zM351.24 156.89a1.1 1.1 0 1 0 2.2 0a1.1 1.1 0 1 0-2.2 0zM351.33 157.11a1.1 1.1 0 1 0 2.2 0a1.1 1.1 0 1 0-2.2 0zM351.42 157.64a1.1 1.1 0 1 0 2.2 0a1.1 1.1 0 1 0-2.2 0zM351.51 157.53a1.1 1.1 0 1 0 2.2 0a1.1 1.1 0 1 0-2.2 0zM351.60 157.56a1.1 1.1 0 1 0 2.2 0a1.1 1.1 0 1 0-2.2 0zM351.69 157.44a1.1 1.1 0 1 0 2.2 0a1.1 1.1 0 1 0-2.2 0zM351.78 157.67a1.1 1.1 0 1 0 2.2 0a1.1 1.1 0 1 0-2.2 0zM351.87 158.06a1.1 1.1 0 1 0 2.2 0a1.1 1.1 0 1 0-2.2 0zM351.96 156.99a1.1 1.1 0 1 0 2.2 0a1.1 1.1 0 1 0-2.2 0zM352.05 157.29a1.1 1.1 0 1 0 2.2 0a1.1 1.1 0 1 0-2.2 0zM352.14 156.91a1.1 1.1 0 1 0 2.2 0a1.1 1.1 0 1 0-2.2 0zM352.23 158.29a1.1 1.1 0 1 0 2.2 0a1.1 1.1 0 1 0-2.2 0zM352.31 158.19a1.1 1.1 0 1 0 2.2 0a1.1 1.1 0 1 0-2.2 0zM352.40 157.99a1.1 1.1 0 1 0 2.2 0a1.1 1.1 0 1 0-2.2 0zM352.49 157.14a1.1 1.1 0 1 0 2.2 0a1.1 1.1 0 1 0-2.2 0zM352.58 157.8a1.1 1.1 0 1 0 2.2 0a1.1 1.1 0 1 0-2.2 0zM352.67 157.65a1.1 1.1 0 1 0 2.2 0a1.1 1.1 0 1 0-2.2 0zM352.75 157.83a1.1 1.1 0 1 0 2.2 0a1.1 1.1 0 1 0-2.2 0zM352.84 157.75a1.1 1.1 0 1 0 2.2 0a1.1 1.1 0 1 0-2.2 0zM352.93 158.11a1.1 1.1 0 1 0 2.2 0a1.1 1.1 0 1 0-2.2 0zM353.02 157.73a1.1 1.1 0 1 0 2.2 0a1.1 1.1 0 1 0-2.2 0zM353.10 158.34a1.1 1.1 0 1 0 2.2 0a1.1 1.1 0 1 0-2.2 0zM353.19 158.1a1.1 1.1 0 1 0 2.2 0a1.1 1.1 0 1 0-2.2 0zM353.28 157.88a1.1 1.1 0 1 0 2.2 0a1.1 1.1 0 1 0-2.2 0zM353.36 158.01a1.1 1.1 0 1 0 2.2 0a1.1 1.1 0 1 0-2.2 0zM353.45 157.89a1.1 1.1 0 1 0 2.2 0a1.1 1.1 0 1 0-2.2 0zM353.53 158.52a1.1 1.1 0 1 0 2.2 0a1.1 1.1 0 1 0-2.2 0zM353.62 158.04a1.1 1.1 0 1 0 2.2 0a1.1 1.1 0 1 0-2.2 0zM353.71 158.35a1.1 1.1 0 1 0 2.2 0a1.1 1.1 0 1 0-2.2 0zM353.79 158.06a1.1 1.1 0 1 0 2.2 0a1.1 1.1 0 1 0-2.2 0zM353.88 157.57a1.1 1.1 0 1 0 2.2 0a1.1 1.1 0 1 0-2.2 0zM353.96 158.75a1.1 1.1 0 1 0 2.2 0a1.1 1.1 0 1 0-2.2 0zM354.05 157.84a1.1 1.1 0 1 0 2.2 0a1.1 1.1 0 1 0-2.2 0zM354.13 158.72a1.1 1.1 0 1 0 2.2 0a1.1 1.1 0 1 0-2.2 0zM354.22 158.63a1.1 1.1 0 1 0 2.2 0a1.1 1.1 0 1 0-2.2 0zM354.30 157.66a1.1 1.1 0 1 0 2.2 0a1.1 1.1 0 1 0-2.2 0zM354.39 158.04a1.1 1.1 0 1 0 2.2 0a1.1 1.1 0 1 0-2.2 0zM354.47 158.28a1.1 1.1 0 1 0 2.2 0a1.1 1.1 0 1 0-2.2 0zM354.55 158.17a1.1 1.1 0 1 0 2.2 0a1.1 1.1 0 1 0-2.2 0zM354.64 158.02a1.1 1.1 0 1 0 2.2 0a1.1 1.1 0 1 0-2.2 0zM354.72 159.01a1.1 1.1 0 1 0 2.2 0a1.1 1.1 0 1 0-2.2 0zM354.81 158.56a1.1 1.1 0 1 0 2.2 0a1.1 1.1 0 1 0-2.2 0zM354.89 158.9a1.1 1.1 0 1 0 2.2 0a1.1 1.1 0 1 0-2.2 0zM354.97 158.53a1.1 1.1 0 1 0 2.2 0a1.1 1.1 0 1 0-2.2 0zM355.06 158.94a1.1 1.1 0 1 0 2.2 0a1.1 1.1 0 1 0-2.2 0zM355.14 158.44a1.1 1.1 0 1 0 2.2 0a1.1 1.1 0 1 0-2.2 0zM355.22 158.84a1.1 1.1 0 1 0 2.2 0a1.1 1.1 0 1 0-2.2 0zM355.30 159.18a1.1 1.1 0 1 0 2.2 0a1.1 1.1 0 1 0-2.2 0zM355.39 158.95a1.1 1.1 0 1 0 2.2 0a1.1 1.1 0 1 0-2.2 0zM355.47 158.73a1.1 1.1 0 1 0 2.2 0a1.1 1.1 0 1 0-2.2 0zM355.55 158.44a1.1 1.1 0 1 0 2.2 0a1.1 1.1 0 1 0-2.2 0zM355.63 159.12a1.1 1.1 0 1 0 2.2 0a1.1 1.1 0 1 0-2.2 0zM355.72 159.24a1.1 1.1 0 1 0 2.2 0a1.1 1.1 0 1 0-2.2 0zM355.80 158.97a1.1 1.1 0 1 0 2.2 0a1.1 1.1 0 1 0-2.2 0zM355.88 158.74a1.1 1.1 0 1 0 2.2 0a1.1 1.1 0 1 0-2.2 0zM355.96 159.45a1.1 1.1 0 1 0 2.2 0a1.1 1.1 0 1 0-2.2 0zM356.04 160.5a1.1 1.1 0 1 0 2.2 0a1.1 1.1 0 1 0-2.2 0zM356.12 159.08a1.1 1.1 0 1 0 2.2 0a1.1 1.1 0 1 0-2.2 0zM356.20 159.45a1.1 1.1 0 1 0 2.2 0a1.1 1.1 0 1 0-2.2 0zM356.29 159.51a1.1 1.1 0 1 0 2.2 0a1.1 1.1 0 1 0-2.2 0zM356.37 157.99a1.1 1.1 0 1 0 2.2 0a1.1 1.1 0 1 0-2.2 0zM356.45 159.45a1.1 1.1 0 1 0 2.2 0a1.1 1.1 0 1 0-2.2 0zM356.53 159.04a1.1 1.1 0 1 0 2.2 0a1.1 1.1 0 1 0-2.2 0zM356.61 160.19a1.1 1.1 0 1 0 2.2 0a1.1 1.1 0 1 0-2.2 0zM356.69 159.35a1.1 1.1 0 1 0 2.2 0a1.1 1.1 0 1 0-2.2 0zM356.77 159.1a1.1 1.1 0 1 0 2.2 0a1.1 1.1 0 1 0-2.2 0zM356.85 159.43a1.1 1.1 0 1 0 2.2 0a1.1 1.1 0 1 0-2.2 0zM356.93 159.68a1.1 1.1 0 1 0 2.2 0a1.1 1.1 0 1 0-2.2 0zM357.01 159.32a1.1 1.1 0 1 0 2.2 0a1.1 1.1 0 1 0-2.2 0zM357.09 159.63a1.1 1.1 0 1 0 2.2 0a1.1 1.1 0 1 0-2.2 0zM357.17 158.95a1.1 1.1 0 1 0 2.2 0a1.1 1.1 0 1 0-2.2 0zM357.24 159.6a1.1 1.1 0 1 0 2.2 0a1.1 1.1 0 1 0-2.2 0zM357.32 160.18a1.1 1.1 0 1 0 2.2 0a1.1 1.1 0 1 0-2.2 0zM357.40 160.87a1.1 1.1 0 1 0 2.2 0a1.1 1.1 0 1 0-2.2 0zM357.48 160.21a1.1 1.1 0 1 0 2.2 0a1.1 1.1 0 1 0-2.2 0zM357.56 160.01a1.1 1.1 0 1 0 2.2 0a1.1 1.1 0 1 0-2.2 0zM357.64 160.55a1.1 1.1 0 1 0 2.2 0a1.1 1.1 0 1 0-2.2 0zM357.72 160.49a1.1 1.1 0 1 0 2.2 0a1.1 1.1 0 1 0-2.2 0zM357.79 160.89a1.1 1.1 0 1 0 2.2 0a1.1 1.1 0 1 0-2.2 0zM357.87 160.6a1.1 1.1 0 1 0 2.2 0a1.1 1.1 0 1 0-2.2 0zM357.95 159.96a1.1 1.1 0 1 0 2.2 0a1.1 1.1 0 1 0-2.2 0zM358.03 160.2a1.1 1.1 0 1 0 2.2 0a1.1 1.1 0 1 0-2.2 0zM358.11 160.19a1.1 1.1 0 1 0 2.2 0a1.1 1.1 0 1 0-2.2 0zM358.18 160.3a1.1 1.1 0 1 0 2.2 0a1.1 1.1 0 1 0-2.2 0zM358.26 160.27a1.1 1.1 0 1 0 2.2 0a1.1 1.1 0 1 0-2.2 0zM358.34 159.74a1.1 1.1 0 1 0 2.2 0a1.1 1.1 0 1 0-2.2 0zM358.42 159.02a1.1 1.1 0 1 0 2.2 0a1.1 1.1 0 1 0-2.2 0zM358.49 159.87a1.1 1.1 0 1 0 2.2 0a1.1 1.1 0 1 0-2.2 0zM358.57 159.12a1.1 1.1 0 1 0 2.2 0a1.1 1.1 0 1 0-2.2 0zM358.65 160.36a1.1 1.1 0 1 0 2.2 0a1.1 1.1 0 1 0-2.2 0zM358.72 160.36a1.1 1.1 0 1 0 2.2 0a1.1 1.1 0 1 0-2.2 0zM358.80 159.42a1.1 1.1 0 1 0 2.2 0a1.1 1.1 0 1 0-2.2 0zM358.87 160.82a1.1 1.1 0 1 0 2.2 0a1.1 1.1 0 1 0-2.2 0zM358.95 160.96a1.1 1.1 0 1 0 2.2 0a1.1 1.1 0 1 0-2.2 0zM359.03 160.54a1.1 1.1 0 1 0 2.2 0a1.1 1.1 0 1 0-2.2 0zM359.10 161.5a1.1 1.1 0 1 0 2.2 0a1.1 1.1 0 1 0-2.2 0zM359.18 161.65a1.1 1.1 0 1 0 2.2 0a1.1 1.1 0 1 0-2.2 0zM359.25 159.87a1.1 1.1 0 1 0 2.2 0a1.1 1.1 0 1 0-2.2 0zM359.33 161.23a1.1 1.1 0 1 0 2.2 0a1.1 1.1 0 1 0-2.2 0zM359.41 160.91a1.1 1.1 0 1 0 2.2 0a1.1 1.1 0 1 0-2.2 0zM359.48 160.93a1.1 1.1 0 1 0 2.2 0a1.1 1.1 0 1 0-2.2 0zM359.56 161.27a1.1 1.1 0 1 0 2.2 0a1.1 1.1 0 1 0-2.2 0zM359.63 160.31a1.1 1.1 0 1 0 2.2 0a1.1 1.1 0 1 0-2.2 0zM359.71 160.42a1.1 1.1 0 1 0 2.2 0a1.1 1.1 0 1 0-2.2 0zM359.78 160.31a1.1 1.1 0 1 0 2.2 0a1.1 1.1 0 1 0-2.2 0zM359.86 160.38a1.1 1.1 0 1 0 2.2 0a1.1 1.1 0 1 0-2.2 0zM359.93 160.81a1.1 1.1 0 1 0 2.2 0a1.1 1.1 0 1 0-2.2 0zM360.00 160.02a1.1 1.1 0 1 0 2.2 0a1.1 1.1 0 1 0-2.2 0zM360.08 160.3a1.1 1.1 0 1 0 2.2 0a1.1 1.1 0 1 0-2.2 0zM360.15 161.32a1.1 1.1 0 1 0 2.2 0a1.1 1.1 0 1 0-2.2 0zM360.23 160.96a1.1 1.1 0 1 0 2.2 0a1.1 1.1 0 1 0-2.2 0zM360.30 161.27a1.1 1.1 0 1 0 2.2 0a1.1 1.1 0 1 0-2.2 0zM360.37 159.9a1.1 1.1 0 1 0 2.2 0a1.1 1.1 0 1 0-2.2 0zM360.45 160.61a1.1 1.1 0 1 0 2.2 0a1.1 1.1 0 1 0-2.2 0zM360.52 160.78a1.1 1.1 0 1 0 2.2 0a1.1 1.1 0 1 0-2.2 0zM360.59 161.18a1.1 1.1 0 1 0 2.2 0a1.1 1.1 0 1 0-2.2 0zM360.67 160.82a1.1 1.1 0 1 0 2.2 0a1.1 1.1 0 1 0-2.2 0zM360.74 161.8a1.1 1.1 0 1 0 2.2 0a1.1 1.1 0 1 0-2.2 0zM360.81 161.22a1.1 1.1 0 1 0 2.2 0a1.1 1.1 0 1 0-2.2 0zM360.89 161.29a1.1 1.1 0 1 0 2.2 0a1.1 1.1 0 1 0-2.2 0zM360.96 161.32a1.1 1.1 0 1 0 2.2 0a1.1 1.1 0 1 0-2.2 0zM361.03 161.79a1.1 1.1 0 1 0 2.2 0a1.1 1.1 0 1 0-2.2 0zM361.11 161.73a1.1 1.1 0 1 0 2.2 0a1.1 1.1 0 1 0-2.2 0zM361.18 161.39a1.1 1.1 0 1 0 2.2 0a1.1 1.1 0 1 0-2.2 0zM361.25 161.49a1.1 1.1 0 1 0 2.2 0a1.1 1.1 0 1 0-2.2 0zM361.32 161.72a1.1 1.1 0 1 0 2.2 0a1.1 1.1 0 1 0-2.2 0zM361.39 161.65a1.1 1.1 0 1 0 2.2 0a1.1 1.1 0 1 0-2.2 0zM361.47 161.84a1.1 1.1 0 1 0 2.2 0a1.1 1.1 0 1 0-2.2 0zM361.54 160.73a1.1 1.1 0 1 0 2.2 0a1.1 1.1 0 1 0-2.2 0zM361.61 161.52a1.1 1.1 0 1 0 2.2 0a1.1 1.1 0 1 0-2.2 0zM361.68 161.38a1.1 1.1 0 1 0 2.2 0a1.1 1.1 0 1 0-2.2 0zM361.75 162.27a1.1 1.1 0 1 0 2.2 0a1.1 1.1 0 1 0-2.2 0zM361.82 161.56a1.1 1.1 0 1 0 2.2 0a1.1 1.1 0 1 0-2.2 0zM361.90 161.75a1.1 1.1 0 1 0 2.2 0a1.1 1.1 0 1 0-2.2 0zM361.97 162.2a1.1 1.1 0 1 0 2.2 0a1.1 1.1 0 1 0-2.2 0zM362.04 160.84a1.1 1.1 0 1 0 2.2 0a1.1 1.1 0 1 0-2.2 0zM362.11 161.49a1.1 1.1 0 1 0 2.2 0a1.1 1.1 0 1 0-2.2 0zM362.18 160.82a1.1 1.1 0 1 0 2.2 0a1.1 1.1 0 1 0-2.2 0zM362.25 162.28a1.1 1.1 0 1 0 2.2 0a1.1 1.1 0 1 0-2.2 0zM362.32 162.17a1.1 1.1 0 1 0 2.2 0a1.1 1.1 0 1 0-2.2 0zM362.39 162.48a1.1 1.1 0 1 0 2.2 0a1.1 1.1 0 1 0-2.2 0zM362.46 161.64a1.1 1.1 0 1 0 2.2 0a1.1 1.1 0 1 0-2.2 0zM362.53 161.95a1.1 1.1 0 1 0 2.2 0a1.1 1.1 0 1 0-2.2 0zM362.60 162.13a1.1 1.1 0 1 0 2.2 0a1.1 1.1 0 1 0-2.2 0zM362.67 161.2a1.1 1.1 0 1 0 2.2 0a1.1 1.1 0 1 0-2.2 0zM362.74 161.82a1.1 1.1 0 1 0 2.2 0a1.1 1.1 0 1 0-2.2 0zM362.81 162.04a1.1 1.1 0 1 0 2.2 0a1.1 1.1 0 1 0-2.2 0zM362.88 161.47a1.1 1.1 0 1 0 2.2 0a1.1 1.1 0 1 0-2.2 0zM362.95 161.75a1.1 1.1 0 1 0 2.2 0a1.1 1.1 0 1 0-2.2 0zM363.02 162.38a1.1 1.1 0 1 0 2.2 0a1.1 1.1 0 1 0-2.2 0zM363.09 162.2a1.1 1.1 0 1 0 2.2 0a1.1 1.1 0 1 0-2.2 0zM363.16 161.62a1.1 1.1 0 1 0 2.2 0a1.1 1.1 0 1 0-2.2 0zM363.23 161.84a1.1 1.1 0 1 0 2.2 0a1.1 1.1 0 1 0-2.2 0zM363.30 162.32a1.1 1.1 0 1 0 2.2 0a1.1 1.1 0 1 0-2.2 0zM363.37 161.77a1.1 1.1 0 1 0 2.2 0a1.1 1.1 0 1 0-2.2 0zM363.44 162.04a1.1 1.1 0 1 0 2.2 0a1.1 1.1 0 1 0-2.2 0zM363.50 162.14a1.1 1.1 0 1 0 2.2 0a1.1 1.1 0 1 0-2.2 0zM363.57 162.77a1.1 1.1 0 1 0 2.2 0a1.1 1.1 0 1 0-2.2 0zM363.64 162.28a1.1 1.1 0 1 0 2.2 0a1.1 1.1 0 1 0-2.2 0zM363.71 162.2a1.1 1.1 0 1 0 2.2 0a1.1 1.1 0 1 0-2.2 0zM363.78 162.48a1.1 1.1 0 1 0 2.2 0a1.1 1.1 0 1 0-2.2 0zM363.85 162.47a1.1 1.1 0 1 0 2.2 0a1.1 1.1 0 1 0-2.2 0zM363.91 162.58a1.1 1.1 0 1 0 2.2 0a1.1 1.1 0 1 0-2.2 0zM363.98 163.05a1.1 1.1 0 1 0 2.2 0a1.1 1.1 0 1 0-2.2 0zM364.05 163.21a1.1 1.1 0 1 0 2.2 0a1.1 1.1 0 1 0-2.2 0zM364.12 162.93a1.1 1.1 0 1 0 2.2 0a1.1 1.1 0 1 0-2.2 0zM364.19 162.71a1.1 1.1 0 1 0 2.2 0a1.1 1.1 0 1 0-2.2 0zM364.25 162.9a1.1 1.1 0 1 0 2.2 0a1.1 1.1 0 1 0-2.2 0zM364.32 163.28a1.1 1.1 0 1 0 2.2 0a1.1 1.1 0 1 0-2.2 0zM364.39 162.81a1.1 1.1 0 1 0 2.2 0a1.1 1.1 0 1 0-2.2 0zM364.46 163.2a1.1 1.1 0 1 0 2.2 0a1.1 1.1 0 1 0-2.2 0zM364.52 163.2a1.1 1.1 0 1 0 2.2 0a1.1 1.1 0 1 0-2.2 0zM364.59 163.61a1.1 1.1 0 1 0 2.2 0a1.1 1.1 0 1 0-2.2 0zM364.66 163.25a1.1 1.1 0 1 0 2.2 0a1.1 1.1 0 1 0-2.2 0zM364.72 162.94a1.1 1.1 0 1 0 2.2 0a1.1 1.1 0 1 0-2.2 0zM364.79 163.29a1.1 1.1 0 1 0 2.2 0a1.1 1.1 0 1 0-2.2 0zM364.86 163.34a1.1 1.1 0 1 0 2.2 0a1.1 1.1 0 1 0-2.2 0zM364.92 162.91a1.1 1.1 0 1 0 2.2 0a1.1 1.1 0 1 0-2.2 0zM364.99 163.03a1.1 1.1 0 1 0 2.2 0a1.1 1.1 0 1 0-2.2 0zM365.06 162.97a1.1 1.1 0 1 0 2.2 0a1.1 1.1 0 1 0-2.2 0zM365.12 162.84a1.1 1.1 0 1 0 2.2 0a1.1 1.1 0 1 0-2.2 0zM365.19 163.69a1.1 1.1 0 1 0 2.2 0a1.1 1.1 0 1 0-2.2 0zM365.25 163.04a1.1 1.1 0 1 0 2.2 0a1.1 1.1 0 1 0-2.2 0zM365.32 163.48a1.1 1.1 0 1 0 2.2 0a1.1 1.1 0 1 0-2.2 0zM365.39 163.34a1.1 1.1 0 1 0 2.2 0a1.1 1.1 0 1 0-2.2 0zM365.45 164.06a1.1 1.1 0 1 0 2.2 0a1.1 1.1 0 1 0-2.2 0zM365.52 163.89a1.1 1.1 0 1 0 2.2 0a1.1 1.1 0 1 0-2.2 0zM365.58 163.89a1.1 1.1 0 1 0 2.2 0a1.1 1.1 0 1 0-2.2 0zM365.65 163.97a1.1 1.1 0 1 0 2.2 0a1.1 1.1 0 1 0-2.2 0zM365.71 163.91a1.1 1.1 0 1 0 2.2 0a1.1 1.1 0 1 0-2.2 0zM365.78 163.68a1.1 1.1 0 1 0 2.2 0a1.1 1.1 0 1 0-2.2 0zM365.84 164.11a1.1 1.1 0 1 0 2.2 0a1.1 1.1 0 1 0-2.2 0zM365.91 164.08a1.1 1.1 0 1 0 2.2 0a1.1 1.1 0 1 0-2.2 0zM365.98 164.11a1.1 1.1 0 1 0 2.2 0a1.1 1.1 0 1 0-2.2 0zM366.04 164.4a1.1 1.1 0 1 0 2.2 0a1.1 1.1 0 1 0-2.2 0zM366.10 163.73a1.1 1.1 0 1 0 2.2 0a1.1 1.1 0 1 0-2.2 0zM366.17 164.22a1.1 1.1 0 1 0 2.2 0a1.1 1.1 0 1 0-2.2 0zM366.23 164.91a1.1 1.1 0 1 0 2.2 0a1.1 1.1 0 1 0-2.2 0zM366.30 163.93a1.1 1.1 0 1 0 2.2 0a1.1 1.1 0 1 0-2.2 0zM366.36 164.06a1.1 1.1 0 1 0 2.2 0a1.1 1.1 0 1 0-2.2 0zM366.43 165.24a1.1 1.1 0 1 0 2.2 0a1.1 1.1 0 1 0-2.2 0zM366.49 164.84a1.1 1.1 0 1 0 2.2 0a1.1 1.1 0 1 0-2.2 0zM366.56 165.31a1.1 1.1 0 1 0 2.2 0a1.1 1.1 0 1 0-2.2 0zM366.62 165.15a1.1 1.1 0 1 0 2.2 0a1.1 1.1 0 1 0-2.2 0zM366.68 164.33a1.1 1.1 0 1 0 2.2 0a1.1 1.1 0 1 0-2.2 0zM366.75 165.18a1.1 1.1 0 1 0 2.2 0a1.1 1.1 0 1 0-2.2 0zM366.81 164.8a1.1 1.1 0 1 0 2.2 0a1.1 1.1 0 1 0-2.2 0zM366.88 164.58a1.1 1.1 0 1 0 2.2 0a1.1 1.1 0 1 0-2.2 0zM366.94 165.39a1.1 1.1 0 1 0 2.2 0a1.1 1.1 0 1 0-2.2 0zM367.00 165.18a1.1 1.1 0 1 0 2.2 0a1.1 1.1 0 1 0-2.2 0zM367.07 165.48a1.1 1.1 0 1 0 2.2 0a1.1 1.1 0 1 0-2.2 0zM367.13 164.79a1.1 1.1 0 1 0 2.2 0a1.1 1.1 0 1 0-2.2 0zM367.19 166.18a1.1 1.1 0 1 0 2.2 0a1.1 1.1 0 1 0-2.2 0zM367.26 165.43a1.1 1.1 0 1 0 2.2 0a1.1 1.1 0 1 0-2.2 0zM367.32 165.84a1.1 1.1 0 1 0 2.2 0a1.1 1.1 0 1 0-2.2 0zM367.38 165.18a1.1 1.1 0 1 0 2.2 0a1.1 1.1 0 1 0-2.2 0zM367.44 165.22a1.1 1.1 0 1 0 2.2 0a1.1 1.1 0 1 0-2.2 0zM367.51 165.68a1.1 1.1 0 1 0 2.2 0a1.1 1.1 0 1 0-2.2 0zM367.57 166.23a1.1 1.1 0 1 0 2.2 0a1.1 1.1 0 1 0-2.2 0zM367.63 165.61a1.1 1.1 0 1 0 2.2 0a1.1 1.1 0 1 0-2.2 0zM367.70 166.49a1.1 1.1 0 1 0 2.2 0a1.1 1.1 0 1 0-2.2 0zM367.76 166.05a1.1 1.1 0 1 0 2.2 0a1.1 1.1 0 1 0-2.2 0zM367.82 165.9a1.1 1.1 0 1 0 2.2 0a1.1 1.1 0 1 0-2.2 0zM367.88 165.87a1.1 1.1 0 1 0 2.2 0a1.1 1.1 0 1 0-2.2 0zM367.94 165.81a1.1 1.1 0 1 0 2.2 0a1.1 1.1 0 1 0-2.2 0zM368.01 166.25a1.1 1.1 0 1 0 2.2 0a1.1 1.1 0 1 0-2.2 0zM368.07 166.3a1.1 1.1 0 1 0 2.2 0a1.1 1.1 0 1 0-2.2 0zM368.13 167.25a1.1 1.1 0 1 0 2.2 0a1.1 1.1 0 1 0-2.2 0zM368.19 167.06a1.1 1.1 0 1 0 2.2 0a1.1 1.1 0 1 0-2.2 0zM368.25 167.43a1.1 1.1 0 1 0 2.2 0a1.1 1.1 0 1 0-2.2 0zM368.32 166.93a1.1 1.1 0 1 0 2.2 0a1.1 1.1 0 1 0-2.2 0zM368.38 167.33a1.1 1.1 0 1 0 2.2 0a1.1 1.1 0 1 0-2.2 0zM368.44 166.65a1.1 1.1 0 1 0 2.2 0a1.1 1.1 0 1 0-2.2 0zM368.50 167.27a1.1 1.1 0 1 0 2.2 0a1.1 1.1 0 1 0-2.2 0zM368.56 167.48a1.1 1.1 0 1 0 2.2 0a1.1 1.1 0 1 0-2.2 0zM368.62 167.41a1.1 1.1 0 1 0 2.2 0a1.1 1.1 0 1 0-2.2 0zM368.68 167.14a1.1 1.1 0 1 0 2.2 0a1.1 1.1 0 1 0-2.2 0zM368.75 167.23a1.1 1.1 0 1 0 2.2 0a1.1 1.1 0 1 0-2.2 0zM368.81 167.37a1.1 1.1 0 1 0 2.2 0a1.1 1.1 0 1 0-2.2 0zM368.87 167.27a1.1 1.1 0 1 0 2.2 0a1.1 1.1 0 1 0-2.2 0zM368.93 167.15a1.1 1.1 0 1 0 2.2 0a1.1 1.1 0 1 0-2.2 0zM368.99 168.06a1.1 1.1 0 1 0 2.2 0a1.1 1.1 0 1 0-2.2 0zM369.05 167.61a1.1 1.1 0 1 0 2.2 0a1.1 1.1 0 1 0-2.2 0zM369.11 167.72a1.1 1.1 0 1 0 2.2 0a1.1 1.1 0 1 0-2.2 0zM369.17 168.29a1.1 1.1 0 1 0 2.2 0a1.1 1.1 0 1 0-2.2 0zM369.23 167.38a1.1 1.1 0 1 0 2.2 0a1.1 1.1 0 1 0-2.2 0zM369.29 168.36a1.1 1.1 0 1 0 2.2 0a1.1 1.1 0 1 0-2.2 0zM369.35 167.69a1.1 1.1 0 1 0 2.2 0a1.1 1.1 0 1 0-2.2 0zM369.41 167.88a1.1 1.1 0 1 0 2.2 0a1.1 1.1 0 1 0-2.2 0zM369.47 168.08a1.1 1.1 0 1 0 2.2 0a1.1 1.1 0 1 0-2.2 0zM369.53 168.29a1.1 1.1 0 1 0 2.2 0a1.1 1.1 0 1 0-2.2 0zM369.59 168.35a1.1 1.1 0 1 0 2.2 0a1.1 1.1 0 1 0-2.2 0zM369.65 169.19a1.1 1.1 0 1 0 2.2 0a1.1 1.1 0 1 0-2.2 0zM369.71 168.73a1.1 1.1 0 1 0 2.2 0a1.1 1.1 0 1 0-2.2 0zM369.77 167.98a1.1 1.1 0 1 0 2.2 0a1.1 1.1 0 1 0-2.2 0zM369.83 168.72a1.1 1.1 0 1 0 2.2 0a1.1 1.1 0 1 0-2.2 0zM369.89 168.9a1.1 1.1 0 1 0 2.2 0a1.1 1.1 0 1 0-2.2 0zM369.95 168.86a1.1 1.1 0 1 0 2.2 0a1.1 1.1 0 1 0-2.2 0zM370.01 168.44a1.1 1.1 0 1 0 2.2 0a1.1 1.1 0 1 0-2.2 0zM370.07 168.6a1.1 1.1 0 1 0 2.2 0a1.1 1.1 0 1 0-2.2 0zM370.13 168.72a1.1 1.1 0 1 0 2.2 0a1.1 1.1 0 1 0-2.2 0zM370.19 168.63a1.1 1.1 0 1 0 2.2 0a1.1 1.1 0 1 0-2.2 0zM370.25 168.98a1.1 1.1 0 1 0 2.2 0a1.1 1.1 0 1 0-2.2 0zM370.30 168.85a1.1 1.1 0 1 0 2.2 0a1.1 1.1 0 1 0-2.2 0zM370.36 169.19a1.1 1.1 0 1 0 2.2 0a1.1 1.1 0 1 0-2.2 0zM370.42 169.2a1.1 1.1 0 1 0 2.2 0a1.1 1.1 0 1 0-2.2 0zM370.48 168.89a1.1 1.1 0 1 0 2.2 0a1.1 1.1 0 1 0-2.2 0zM370.54 169.65a1.1 1.1 0 1 0 2.2 0a1.1 1.1 0 1 0-2.2 0zM370.60 169.09a1.1 1.1 0 1 0 2.2 0a1.1 1.1 0 1 0-2.2 0zM370.66 169.58a1.1 1.1 0 1 0 2.2 0a1.1 1.1 0 1 0-2.2 0zM370.71 169.23a1.1 1.1 0 1 0 2.2 0a1.1 1.1 0 1 0-2.2 0zM370.77 169.47a1.1 1.1 0 1 0 2.2 0a1.1 1.1 0 1 0-2.2 0zM370.83 170.04a1.1 1.1 0 1 0 2.2 0a1.1 1.1 0 1 0-2.2 0zM370.89 169.2a1.1 1.1 0 1 0 2.2 0a1.1 1.1 0 1 0-2.2 0zM370.95 169.86a1.1 1.1 0 1 0 2.2 0a1.1 1.1 0 1 0-2.2 0zM371.01 169.39a1.1 1.1 0 1 0 2.2 0a1.1 1.1 0 1 0-2.2 0zM371.06 169.99a1.1 1.1 0 1 0 2.2 0a1.1 1.1 0 1 0-2.2 0zM371.12 169.16a1.1 1.1 0 1 0 2.2 0a1.1 1.1 0 1 0-2.2 0zM371.18 169.74a1.1 1.1 0 1 0 2.2 0a1.1 1.1 0 1 0-2.2 0zM371.24 169.57a1.1 1.1 0 1 0 2.2 0a1.1 1.1 0 1 0-2.2 0zM371.29 169.58a1.1 1.1 0 1 0 2.2 0a1.1 1.1 0 1 0-2.2 0zM371.35 170.04a1.1 1.1 0 1 0 2.2 0a1.1 1.1 0 1 0-2.2 0zM371.41 170.17a1.1 1.1 0 1 0 2.2 0a1.1 1.1 0 1 0-2.2 0zM371.47 169.87a1.1 1.1 0 1 0 2.2 0a1.1 1.1 0 1 0-2.2 0zM371.52 169.85a1.1 1.1 0 1 0 2.2 0a1.1 1.1 0 1 0-2.2 0zM371.58 170.18a1.1 1.1 0 1 0 2.2 0a1.1 1.1 0 1 0-2.2 0zM371.64 169.7a1.1 1.1 0 1 0 2.2 0a1.1 1.1 0 1 0-2.2 0zM371.70 169.52a1.1 1.1 0 1 0 2.2 0a1.1 1.1 0 1 0-2.2 0zM371.75 170.09a1.1 1.1 0 1 0 2.2 0a1.1 1.1 0 1 0-2.2 0zM371.81 170.15a1.1 1.1 0 1 0 2.2 0a1.1 1.1 0 1 0-2.2 0zM371.87 170.13a1.1 1.1 0 1 0 2.2 0a1.1 1.1 0 1 0-2.2 0zM371.92 170.19a1.1 1.1 0 1 0 2.2 0a1.1 1.1 0 1 0-2.2 0zM371.98 171.1a1.1 1.1 0 1 0 2.2 0a1.1 1.1 0 1 0-2.2 0zM372.04 169.95a1.1 1.1 0 1 0 2.2 0a1.1 1.1 0 1 0-2.2 0zM372.09 170.33a1.1 1.1 0 1 0 2.2 0a1.1 1.1 0 1 0-2.2 0zM372.15 170.29a1.1 1.1 0 1 0 2.2 0a1.1 1.1 0 1 0-2.2 0zM372.21 170.68a1.1 1.1 0 1 0 2.2 0a1.1 1.1 0 1 0-2.2 0zM372.26 170.16a1.1 1.1 0 1 0 2.2 0a1.1 1.1 0 1 0-2.2 0zM372.32 169.99a1.1 1.1 0 1 0 2.2 0a1.1 1.1 0 1 0-2.2 0zM372.38 170.52a1.1 1.1 0 1 0 2.2 0a1.1 1.1 0 1 0-2.2 0zM372.43 170.53a1.1 1.1 0 1 0 2.2 0a1.1 1.1 0 1 0-2.2 0zM372.49 170.61a1.1 1.1 0 1 0 2.2 0a1.1 1.1 0 1 0-2.2 0zM372.54 169.97a1.1 1.1 0 1 0 2.2 0a1.1 1.1 0 1 0-2.2 0zM372.60 171.09a1.1 1.1 0 1 0 2.2 0a1.1 1.1 0 1 0-2.2 0zM372.66 170.83a1.1 1.1 0 1 0 2.2 0a1.1 1.1 0 1 0-2.2 0zM372.71 170.56a1.1 1.1 0 1 0 2.2 0a1.1 1.1 0 1 0-2.2 0zM372.77 170.74a1.1 1.1 0 1 0 2.2 0a1.1 1.1 0 1 0-2.2 0zM372.82 171.15a1.1 1.1 0 1 0 2.2 0a1.1 1.1 0 1 0-2.2 0zM372.88 170.74a1.1 1.1 0 1 0 2.2 0a1.1 1.1 0 1 0-2.2 0zM372.94 170.97a1.1 1.1 0 1 0 2.2 0a1.1 1.1 0 1 0-2.2 0zM372.99 171.67a1.1 1.1 0 1 0 2.2 0a1.1 1.1 0 1 0-2.2 0zM373.05 171.02a1.1 1.1 0 1 0 2.2 0a1.1 1.1 0 1 0-2.2 0zM373.10 171.76a1.1 1.1 0 1 0 2.2 0a1.1 1.1 0 1 0-2.2 0zM373.16 171.61a1.1 1.1 0 1 0 2.2 0a1.1 1.1 0 1 0-2.2 0zM373.21 171.11a1.1 1.1 0 1 0 2.2 0a1.1 1.1 0 1 0-2.2 0zM373.27 171.82a1.1 1.1 0 1 0 2.2 0a1.1 1.1 0 1 0-2.2 0zM373.32 171.58a1.1 1.1 0 1 0 2.2 0a1.1 1.1 0 1 0-2.2 0zM373.38 170.91a1.1 1.1 0 1 0 2.2 0a1.1 1.1 0 1 0-2.2 0zM373.43 171.74a1.1 1.1 0 1 0 2.2 0a1.1 1.1 0 1 0-2.2 0zM373.49 172.02a1.1 1.1 0 1 0 2.2 0a1.1 1.1 0 1 0-2.2 0zM373.54 171.7a1.1 1.1 0 1 0 2.2 0a1.1 1.1 0 1 0-2.2 0zM373.60 172.02a1.1 1.1 0 1 0 2.2 0a1.1 1.1 0 1 0-2.2 0zM373.65 171.54a1.1 1.1 0 1 0 2.2 0a1.1 1.1 0 1 0-2.2 0zM373.71 171.52a1.1 1.1 0 1 0 2.2 0a1.1 1.1 0 1 0-2.2 0zM373.76 172.02a1.1 1.1 0 1 0 2.2 0a1.1 1.1 0 1 0-2.2 0zM373.81 171.62a1.1 1.1 0 1 0 2.2 0a1.1 1.1 0 1 0-2.2 0zM373.87 171.14a1.1 1.1 0 1 0 2.2 0a1.1 1.1 0 1 0-2.2 0zM373.92 172.72a1.1 1.1 0 1 0 2.2 0a1.1 1.1 0 1 0-2.2 0zM373.98 172.04a1.1 1.1 0 1 0 2.2 0a1.1 1.1 0 1 0-2.2 0zM374.03 171.74a1.1 1.1 0 1 0 2.2 0a1.1 1.1 0 1 0-2.2 0zM374.09 171.69a1.1 1.1 0 1 0 2.2 0a1.1 1.1 0 1 0-2.2 0zM374.14 173.23a1.1 1.1 0 1 0 2.2 0a1.1 1.1 0 1 0-2.2 0zM374.19 172.14a1.1 1.1 0 1 0 2.2 0a1.1 1.1 0 1 0-2.2 0zM374.25 172.21a1.1 1.1 0 1 0 2.2 0a1.1 1.1 0 1 0-2.2 0zM374.30 172.36a1.1 1.1 0 1 0 2.2 0a1.1 1.1 0 1 0-2.2 0zM374.36 173.28a1.1 1.1 0 1 0 2.2 0a1.1 1.1 0 1 0-2.2 0zM374.41 172.94a1.1 1.1 0 1 0 2.2 0a1.1 1.1 0 1 0-2.2 0zM374.46 171.95a1.1 1.1 0 1 0 2.2 0a1.1 1.1 0 1 0-2.2 0zM374.52 172.72a1.1 1.1 0 1 0 2.2 0a1.1 1.1 0 1 0-2.2 0zM374.57 172.63a1.1 1.1 0 1 0 2.2 0a1.1 1.1 0 1 0-2.2 0zM374.62 172.6a1.1 1.1 0 1 0 2.2 0a1.1 1.1 0 1 0-2.2 0zM374.68 173.15a1.1 1.1 0 1 0 2.2 0a1.1 1.1 0 1 0-2.2 0zM374.73 172.8a1.1 1.1 0 1 0 2.2 0a1.1 1.1 0 1 0-2.2 0zM374.78 172.94a1.1 1.1 0 1 0 2.2 0a1.1 1.1 0 1 0-2.2 0zM374.84 173.19a1.1 1.1 0 1 0 2.2 0a1.1 1.1 0 1 0-2.2 0zM374.89 173.13a1.1 1.1 0 1 0 2.2 0a1.1 1.1 0 1 0-2.2 0zM374.94 174.22a1.1 1.1 0 1 0 2.2 0a1.1 1.1 0 1 0-2.2 0zM375.00 174.63a1.1 1.1 0 1 0 2.2 0a1.1 1.1 0 1 0-2.2 0zM375.05 173.73a1.1 1.1 0 1 0 2.2 0a1.1 1.1 0 1 0-2.2 0zM375.10 174.21a1.1 1.1 0 1 0 2.2 0a1.1 1.1 0 1 0-2.2 0zM375.16 174.55a1.1 1.1 0 1 0 2.2 0a1.1 1.1 0 1 0-2.2 0zM375.21 173.78a1.1 1.1 0 1 0 2.2 0a1.1 1.1 0 1 0-2.2 0zM375.26 174.98a1.1 1.1 0 1 0 2.2 0a1.1 1.1 0 1 0-2.2 0zM375.31 175.72a1.1 1.1 0 1 0 2.2 0a1.1 1.1 0 1 0-2.2 0zM375.37 175.35a1.1 1.1 0 1 0 2.2 0a1.1 1.1 0 1 0-2.2 0zM375.42 174.55a1.1 1.1 0 1 0 2.2 0a1.1 1.1 0 1 0-2.2 0zM375.47 174.83a1.1 1.1 0 1 0 2.2 0a1.1 1.1 0 1 0-2.2 0zM375.52 174.33a1.1 1.1 0 1 0 2.2 0a1.1 1.1 0 1 0-2.2 0zM375.58 174.96a1.1 1.1 0 1 0 2.2 0a1.1 1.1 0 1 0-2.2 0zM375.63 174.75a1.1 1.1 0 1 0 2.2 0a1.1 1.1 0 1 0-2.2 0zM375.68 175.39a1.1 1.1 0 1 0 2.2 0a1.1 1.1 0 1 0-2.2 0zM375.73 175.42a1.1 1.1 0 1 0 2.2 0a1.1 1.1 0 1 0-2.2 0zM375.78 177.32a1.1 1.1 0 1 0 2.2 0a1.1 1.1 0 1 0-2.2 0zM375.84 177.09a1.1 1.1 0 1 0 2.2 0a1.1 1.1 0 1 0-2.2 0zM375.89 176.01a1.1 1.1 0 1 0 2.2 0a1.1 1.1 0 1 0-2.2 0zM375.94 176.7a1.1 1.1 0 1 0 2.2 0a1.1 1.1 0 1 0-2.2 0zM375.99 176.8a1.1 1.1 0 1 0 2.2 0a1.1 1.1 0 1 0-2.2 0zM376.04 176.66a1.1 1.1 0 1 0 2.2 0a1.1 1.1 0 1 0-2.2 0zM376.10 176.32a1.1 1.1 0 1 0 2.2 0a1.1 1.1 0 1 0-2.2 0zM376.15 177.56a1.1 1.1 0 1 0 2.2 0a1.1 1.1 0 1 0-2.2 0zM376.20 177.19a1.1 1.1 0 1 0 2.2 0a1.1 1.1 0 1 0-2.2 0zM376.25 177.01a1.1 1.1 0 1 0 2.2 0a1.1 1.1 0 1 0-2.2 0zM376.30 176.37a1.1 1.1 0 1 0 2.2 0a1.1 1.1 0 1 0-2.2 0zM376.35 178.12a1.1 1.1 0 1 0 2.2 0a1.1 1.1 0 1 0-2.2 0zM376.41 177.47a1.1 1.1 0 1 0 2.2 0a1.1 1.1 0 1 0-2.2 0zM376.46 178.19a1.1 1.1 0 1 0 2.2 0a1.1 1.1 0 1 0-2.2 0zM376.51 178.89a1.1 1.1 0 1 0 2.2 0a1.1 1.1 0 1 0-2.2 0zM376.56 177.88a1.1 1.1 0 1 0 2.2 0a1.1 1.1 0 1 0-2.2 0zM376.61 178.2a1.1 1.1 0 1 0 2.2 0a1.1 1.1 0 1 0-2.2 0zM376.66 177.58a1.1 1.1 0 1 0 2.2 0a1.1 1.1 0 1 0-2.2 0zM376.71 180.24a1.1 1.1 0 1 0 2.2 0a1.1 1.1 0 1 0-2.2 0zM376.76 177.82a1.1 1.1 0 1 0 2.2 0a1.1 1.1 0 1 0-2.2 0zM376.81 178.99a1.1 1.1 0 1 0 2.2 0a1.1 1.1 0 1 0-2.2 0zM376.87 178.84a1.1 1.1 0 1 0 2.2 0a1.1 1.1 0 1 0-2.2 0zM376.92 178.25a1.1 1.1 0 1 0 2.2 0a1.1 1.1 0 1 0-2.2 0zM376.97 179.6a1.1 1.1 0 1 0 2.2 0a1.1 1.1 0 1 0-2.2 0zM377.02 179.11a1.1 1.1 0 1 0 2.2 0a1.1 1.1 0 1 0-2.2 0zM377.07 180.32a1.1 1.1 0 1 0 2.2 0a1.1 1.1 0 1 0-2.2 0zM377.12 179.87a1.1 1.1 0 1 0 2.2 0a1.1 1.1 0 1 0-2.2 0zM377.17 179.17a1.1 1.1 0 1 0 2.2 0a1.1 1.1 0 1 0-2.2 0zM377.22 181.16a1.1 1.1 0 1 0 2.2 0a1.1 1.1 0 1 0-2.2 0zM377.27 180.22a1.1 1.1 0 1 0 2.2 0a1.1 1.1 0 1 0-2.2 0zM377.32 181.17a1.1 1.1 0 1 0 2.2 0a1.1 1.1 0 1 0-2.2 0zM377.37 180.98a1.1 1.1 0 1 0 2.2 0a1.1 1.1 0 1 0-2.2 0zM377.42 180.8a1.1 1.1 0 1 0 2.2 0a1.1 1.1 0 1 0-2.2 0zM377.47 180.39a1.1 1.1 0 1 0 2.2 0a1.1 1.1 0 1 0-2.2 0zM377.52 181.93a1.1 1.1 0 1 0 2.2 0a1.1 1.1 0 1 0-2.2 0zM377.57 180.83a1.1 1.1 0 1 0 2.2 0a1.1 1.1 0 1 0-2.2 0zM377.62 181.67a1.1 1.1 0 1 0 2.2 0a1.1 1.1 0 1 0-2.2 0zM377.67 181.22a1.1 1.1 0 1 0 2.2 0a1.1 1.1 0 1 0-2.2 0zM377.72 180.88a1.1 1.1 0 1 0 2.2 0a1.1 1.1 0 1 0-2.2 0zM377.77 180.52a1.1 1.1 0 1 0 2.2 0a1.1 1.1 0 1 0-2.2 0zM377.82 181.08a1.1 1.1 0 1 0 2.2 0a1.1 1.1 0 1 0-2.2 0zM377.87 181.56a1.1 1.1 0 1 0 2.2 0a1.1 1.1 0 1 0-2.2 0zM377.92 182.87a1.1 1.1 0 1 0 2.2 0a1.1 1.1 0 1 0-2.2 0zM377.97 183.54a1.1 1.1 0 1 0 2.2 0a1.1 1.1 0 1 0-2.2 0zM378.02 183.03a1.1 1.1 0 1 0 2.2 0a1.1 1.1 0 1 0-2.2 0zM378.07 181.73a1.1 1.1 0 1 0 2.2 0a1.1 1.1 0 1 0-2.2 0zM378.12 182.28a1.1 1.1 0 1 0 2.2 0a1.1 1.1 0 1 0-2.2 0zM378.17 184.97a1.1 1.1 0 1 0 2.2 0a1.1 1.1 0 1 0-2.2 0zM378.22 182.4a1.1 1.1 0 1 0 2.2 0a1.1 1.1 0 1 0-2.2 0zM378.27 183.35a1.1 1.1 0 1 0 2.2 0a1.1 1.1 0 1 0-2.2 0zM378.32 184.13a1.1 1.1 0 1 0 2.2 0a1.1 1.1 0 1 0-2.2 0zM378.36 184.09a1.1 1.1 0 1 0 2.2 0a1.1 1.1 0 1 0-2.2 0zM378.41 185.07a1.1 1.1 0 1 0 2.2 0a1.1 1.1 0 1 0-2.2 0zM378.46 185.82a1.1 1.1 0 1 0 2.2 0a1.1 1.1 0 1 0-2.2 0zM378.51 183.88a1.1 1.1 0 1 0 2.2 0a1.1 1.1 0 1 0-2.2 0zM378.56 184.86a1.1 1.1 0 1 0 2.2 0a1.1 1.1 0 1 0-2.2 0zM378.61 185.49a1.1 1.1 0 1 0 2.2 0a1.1 1.1 0 1 0-2.2 0zM378.66 185.31a1.1 1.1 0 1 0 2.2 0a1.1 1.1 0 1 0-2.2 0zM378.71 183.61a1.1 1.1 0 1 0 2.2 0a1.1 1.1 0 1 0-2.2 0zM378.76 183.59a1.1 1.1 0 1 0 2.2 0a1.1 1.1 0 1 0-2.2 0zM378.80 186.54a1.1 1.1 0 1 0 2.2 0a1.1 1.1 0 1 0-2.2 0zM378.85 184.54a1.1 1.1 0 1 0 2.2 0a1.1 1.1 0 1 0-2.2 0zM378.90 185.8a1.1 1.1 0 1 0 2.2 0a1.1 1.1 0 1 0-2.2 0zM378.95 187.36a1.1 1.1 0 1 0 2.2 0a1.1 1.1 0 1 0-2.2 0zM379.00 186.31a1.1 1.1 0 1 0 2.2 0a1.1 1.1 0 1 0-2.2 0zM379.05 185.89a1.1 1.1 0 1 0 2.2 0a1.1 1.1 0 1 0-2.2 0zM379.10 189.05a1.1 1.1 0 1 0 2.2 0a1.1 1.1 0 1 0-2.2 0zM379.14 187.64a1.1 1.1 0 1 0 2.2 0a1.1 1.1 0 1 0-2.2 0zM379.19 187.58a1.1 1.1 0 1 0 2.2 0a1.1 1.1 0 1 0-2.2 0zM379.24 190.05a1.1 1.1 0 1 0 2.2 0a1.1 1.1 0 1 0-2.2 0zM379.29 186.94a1.1 1.1 0 1 0 2.2 0a1.1 1.1 0 1 0-2.2 0zM379.34 187.49a1.1 1.1 0 1 0 2.2 0a1.1 1.1 0 1 0-2.2 0zM379.38 189.98a1.1 1.1 0 1 0 2.2 0a1.1 1.1 0 1 0-2.2 0zM379.43 191.4a1.1 1.1 0 1 0 2.2 0a1.1 1.1 0 1 0-2.2 0zM379.48 190.99a1.1 1.1 0 1 0 2.2 0a1.1 1.1 0 1 0-2.2 0zM379.53 187.74a1.1 1.1 0 1 0 2.2 0a1.1 1.1 0 1 0-2.2 0zM379.58 190.47a1.1 1.1 0 1 0 2.2 0a1.1 1.1 0 1 0-2.2 0zM379.62 188.34a1.1 1.1 0 1 0 2.2 0a1.1 1.1 0 1 0-2.2 0zM379.67 187.81a1.1 1.1 0 1 0 2.2 0a1.1 1.1 0 1 0-2.2 0zM379.72 189.96a1.1 1.1 0 1 0 2.2 0a1.1 1.1 0 1 0-2.2 0zM379.77 187.73a1.1 1.1 0 1 0 2.2 0a1.1 1.1 0 1 0-2.2 0zM379.81 188.56a1.1 1.1 0 1 0 2.2 0a1.1 1.1 0 1 0-2.2 0zM379.86 188.56a1.1 1.1 0 1 0 2.2 0a1.1 1.1 0 1 0-2.2 0zM379.91 190.02a1.1 1.1 0 1 0 2.2 0a1.1 1.1 0 1 0-2.2 0zM379.96 191.95a1.1 1.1 0 1 0 2.2 0a1.1 1.1 0 1 0-2.2 0zM380.00 192.41a1.1 1.1 0 1 0 2.2 0a1.1 1.1 0 1 0-2.2 0zM380.05 190.62a1.1 1.1 0 1 0 2.2 0a1.1 1.1 0 1 0-2.2 0zM380.10 191.02a1.1 1.1 0 1 0 2.2 0a1.1 1.1 0 1 0-2.2 0zM380.15 193.93a1.1 1.1 0 1 0 2.2 0a1.1 1.1 0 1 0-2.2 0zM380.19 193.47a1.1 1.1 0 1 0 2.2 0a1.1 1.1 0 1 0-2.2 0zM380.24 192.8a1.1 1.1 0 1 0 2.2 0a1.1 1.1 0 1 0-2.2 0zM380.29 190.72a1.1 1.1 0 1 0 2.2 0a1.1 1.1 0 1 0-2.2 0zM380.33 194.41a1.1 1.1 0 1 0 2.2 0a1.1 1.1 0 1 0-2.2 0zM380.38 194.76a1.1 1.1 0 1 0 2.2 0a1.1 1.1 0 1 0-2.2 0zM380.43 194.28a1.1 1.1 0 1 0 2.2 0a1.1 1.1 0 1 0-2.2 0zM380.48 194.02a1.1 1.1 0 1 0 2.2 0a1.1 1.1 0 1 0-2.2 0zM380.52 194.04a1.1 1.1 0 1 0 2.2 0a1.1 1.1 0 1 0-2.2 0zM380.57 195.51a1.1 1.1 0 1 0 2.2 0a1.1 1.1 0 1 0-2.2 0zM380.62 191.77a1.1 1.1 0 1 0 2.2 0a1.1 1.1 0 1 0-2.2 0zM380.66 194.88a1.1 1.1 0 1 0 2.2 0a1.1 1.1 0 1 0-2.2 0zM380.71 194.33a1.1 1.1 0 1 0 2.2 0a1.1 1.1 0 1 0-2.2 0zM380.76 194.66a1.1 1.1 0 1 0 2.2 0a1.1 1.1 0 1 0-2.2 0zM380.80 195.83a1.1 1.1 0 1 0 2.2 0a1.1 1.1 0 1 0-2.2 0zM380.85 194.51a1.1 1.1 0 1 0 2.2 0a1.1 1.1 0 1 0-2.2 0zM380.89 192.08a1.1 1.1 0 1 0 2.2 0a1.1 1.1 0 1 0-2.2 0zM380.94 194.24a1.1 1.1 0 1 0 2.2 0a1.1 1.1 0 1 0-2.2 0zM380.99 193.41a1.1 1.1 0 1 0 2.2 0a1.1 1.1 0 1 0-2.2 0zM381.03 197.84a1.1 1.1 0 1 0 2.2 0a1.1 1.1 0 1 0-2.2 0zM381.08 196.28a1.1 1.1 0 1 0 2.2 0a1.1 1.1 0 1 0-2.2 0zM381.13 196.94a1.1 1.1 0 1 0 2.2 0a1.1 1.1 0 1 0-2.2 0zM381.17 193.37a1.1 1.1 0 1 0 2.2 0a1.1 1.1 0 1 0-2.2 0zM381.22 194.16a1.1 1.1 0 1 0 2.2 0a1.1 1.1 0 1 0-2.2 0zM381.26 196.05a1.1 1.1 0 1 0 2.2 0a1.1 1.1 0 1 0-2.2 0zM381.31 198.19a1.1 1.1 0 1 0 2.2 0a1.1 1.1 0 1 0-2.2 0zM381.36 200.08a1.1 1.1 0 1 0 2.2 0a1.1 1.1 0 1 0-2.2 0zM381.40 199.89a1.1 1.1 0 1 0 2.2 0a1.1 1.1 0 1 0-2.2 0zM381.45 194.16a1.1 1.1 0 1 0 2.2 0a1.1 1.1 0 1 0-2.2 0zM381.49 198.94a1.1 1.1 0 1 0 2.2 0a1.1 1.1 0 1 0-2.2 0zM381.54 197.16a1.1 1.1 0 1 0 2.2 0a1.1 1.1 0 1 0-2.2 0zM381.59 196.36a1.1 1.1 0 1 0 2.2 0a1.1 1.1 0 1 0-2.2 0zM381.63 196.23a1.1 1.1 0 1 0 2.2 0a1.1 1.1 0 1 0-2.2 0zM381.68 195.33a1.1 1.1 0 1 0 2.2 0a1.1 1.1 0 1 0-2.2 0zM381.72 202.68a1.1 1.1 0 1 0 2.2 0a1.1 1.1 0 1 0-2.2 0zM381.77 202.91a1.1 1.1 0 1 0 2.2 0a1.1 1.1 0 1 0-2.2 0zM381.81 199.17a1.1 1.1 0 1 0 2.2 0a1.1 1.1 0 1 0-2.2 0zM381.86 204.03a1.1 1.1 0 1 0 2.2 0a1.1 1.1 0 1 0-2.2 0zM381.90 205.33a1.1 1.1 0 1 0 2.2 0a1.1 1.1 0 1 0-2.2 0zM381.95 195.58a1.1 1.1 0 1 0 2.2 0a1.1 1.1 0 1 0-2.2 0zM381.99 198.9a1.1 1.1 0 1 0 2.2 0a1.1 1.1 0 1 0-2.2 0zM382.04 201.59a1.1 1.1 0 1 0 2.2 0a1.1 1.1 0 1 0-2.2 0zM382.09 207.28a1.1 1.1 0 1 0 2.2 0a1.1 1.1 0 1 0-2.2 0zM382.13 200.31a1.1 1.1 0 1 0 2.2 0a1.1 1.1 0 1 0-2.2 0zM382.18 204.29a1.1 1.1 0 1 0 2.2 0a1.1 1.1 0 1 0-2.2 0zM382.22 201.02a1.1 1.1 0 1 0 2.2 0a1.1 1.1 0 1 0-2.2 0zM382.27 196.11a1.1 1.1 0 1 0 2.2 0a1.1 1.1 0 1 0-2.2 0zM382.31 206.66a1.1 1.1 0 1 0 2.2 0a1.1 1.1 0 1 0-2.2 0zM382.36 204.15a1.1 1.1 0 1 0 2.2 0a1.1 1.1 0 1 0-2.2 0zM382.40 210.1a1.1 1.1 0 1 0 2.2 0a1.1 1.1 0 1 0-2.2 0zM382.45 201.07a1.1 1.1 0 1 0 2.2 0a1.1 1.1 0 1 0-2.2 0zM382.49 206.48a1.1 1.1 0 1 0 2.2 0a1.1 1.1 0 1 0-2.2 0zM382.53 205.14a1.1 1.1 0 1 0 2.2 0a1.1 1.1 0 1 0-2.2 0zM382.58 201.75a1.1 1.1 0 1 0 2.2 0a1.1 1.1 0 1 0-2.2 0zM382.62 212.58a1.1 1.1 0 1 0 2.2 0a1.1 1.1 0 1 0-2.2 0zM382.67 214.72a1.1 1.1 0 1 0 2.2 0a1.1 1.1 0 1 0-2.2 0zM382.71 206.63a1.1 1.1 0 1 0 2.2 0a1.1 1.1 0 1 0-2.2 0zM382.76 217.81a1.1 1.1 0 1 0 2.2 0a1.1 1.1 0 1 0-2.2 0zM382.80 202.31a1.1 1.1 0 1 0 2.2 0a1.1 1.1 0 1 0-2.2 0zM382.85 207.99a1.1 1.1 0 1 0 2.2 0a1.1 1.1 0 1 0-2.2 0zM382.89 209.06a1.1 1.1 0 1 0 2.2 0a1.1 1.1 0 1 0-2.2 0zM382.94 205.35a1.1 1.1 0 1 0 2.2 0a1.1 1.1 0 1 0-2.2 0zM382.98 206.98a1.1 1.1 0 1 0 2.2 0a1.1 1.1 0 1 0-2.2 0zM383.02 218.19a1.1 1.1 0 1 0 2.2 0a1.1 1.1 0 1 0-2.2 0zM383.07 215.46a1.1 1.1 0 1 0 2.2 0a1.1 1.1 0 1 0-2.2 0zM383.11 215.79a1.1 1.1 0 1 0 2.2 0a1.1 1.1 0 1 0-2.2 0zM383.16 202.46a1.1 1.1 0 1 0 2.2 0a1.1 1.1 0 1 0-2.2 0zM383.20 221.5a1.1 1.1 0 1 0 2.2 0a1.1 1.1 0 1 0-2.2 0zM383.24 214.15a1.1 1.1 0 1 0 2.2 0a1.1 1.1 0 1 0-2.2 0zM383.29 204.53a1.1 1.1 0 1 0 2.2 0a1.1 1.1 0 1 0-2.2 0zM383.33 218.17a1.1 1.1 0 1 0 2.2 0a1.1 1.1 0 1 0-2.2 0zM383.38 203.54a1.1 1.1 0 1 0 2.2 0a1.1 1.1 0 1 0-2.2 0zM383.42 215.54a1.1 1.1 0 1 0 2.2 0a1.1 1.1 0 1 0-2.2 0zM383.46 222.83a1.1 1.1 0 1 0 2.2 0a1.1 1.1 0 1 0-2.2 0zM383.51 222.27a1.1 1.1 0 1 0 2.2 0a1.1 1.1 0 1 0-2.2 0zM383.55 219.17a1.1 1.1 0 1 0 2.2 0a1.1 1.1 0 1 0-2.2 0zM383.60 204.63a1.1 1.1 0 1 0 2.2 0a1.1 1.1 0 1 0-2.2 0zM383.64 208.68a1.1 1.1 0 1 0 2.2 0a1.1 1.1 0 1 0-2.2 0zM383.68 210.94a1.1 1.1 0 1 0 2.2 0a1.1 1.1 0 1 0-2.2 0zM383.73 213.1a1.1 1.1 0 1 0 2.2 0a1.1 1.1 0 1 0-2.2 0zM383.77 219.35a1.1 1.1 0 1 0 2.2 0a1.1 1.1 0 1 0-2.2 0zM383.81 223.37a1.1 1.1 0 1 0 2.2 0a1.1 1.1 0 1 0-2.2 0zM383.86 220.56a1.1 1.1 0 1 0 2.2 0a1.1 1.1 0 1 0-2.2 0zM383.90 211.01a1.1 1.1 0 1 0 2.2 0a1.1 1.1 0 1 0-2.2 0zM383.94 224.5a1.1 1.1 0 1 0 2.2 0a1.1 1.1 0 1 0-2.2 0zM383.99 219.24a1.1 1.1 0 1 0 2.2 0a1.1 1.1 0 1 0-2.2 0zM384.03 222.97a1.1 1.1 0 1 0 2.2 0a1.1 1.1 0 1 0-2.2 0zM384.07 216.99a1.1 1.1 0 1 0 2.2 0a1.1 1.1 0 1 0-2.2 0zM384.12 217.65a1.1 1.1 0 1 0 2.2 0a1.1 1.1 0 1 0-2.2 0zM384.16 225.77a1.1 1.1 0 1 0 2.2 0a1.1 1.1 0 1 0-2.2 0zM384.20 227.78a1.1 1.1 0 1 0 2.2 0a1.1 1.1 0 1 0-2.2 0zM384.25 230.9a1.1 1.1 0 1 0 2.2 0a1.1 1.1 0 1 0-2.2 0zM384.29 219.15a1.1 1.1 0 1 0 2.2 0a1.1 1.1 0 1 0-2.2 0zM384.33 211.96a1.1 1.1 0 1 0 2.2 0a1.1 1.1 0 1 0-2.2 0zM384.37 221.73a1.1 1.1 0 1 0 2.2 0a1.1 1.1 0 1 0-2.2 0zM384.42 232.2a1.1 1.1 0 1 0 2.2 0a1.1 1.1 0 1 0-2.2 0zM384.46 224.17a1.1 1.1 0 1 0 2.2 0a1.1 1.1 0 1 0-2.2 0zM384.50 214.16a1.1 1.1 0 1 0 2.2 0a1.1 1.1 0 1 0-2.2 0zM384.55 225.2a1.1 1.1 0 1 0 2.2 0a1.1 1.1 0 1 0-2.2 0zM384.59 233.94a1.1 1.1 0 1 0 2.2 0a1.1 1.1 0 1 0-2.2 0zM384.63 234.34a1.1 1.1 0 1 0 2.2 0a1.1 1.1 0 1 0-2.2 0zM384.67 225.93a1.1 1.1 0 1 0 2.2 0a1.1 1.1 0 1 0-2.2 0zM384.72 216.14a1.1 1.1 0 1 0 2.2 0a1.1 1.1 0 1 0-2.2 0zM384.76 238.73a1.1 1.1 0 1 0 2.2 0a1.1 1.1 0 1 0-2.2 0zM384.80 212.19a1.1 1.1 0 1 0 2.2 0a1.1 1.1 0 1 0-2.2 0zM384.84 230.91a1.1 1.1 0 1 0 2.2 0a1.1 1.1 0 1 0-2.2 0zM384.89 218.71a1.1 1.1 0 1 0 2.2 0a1.1 1.1 0 1 0-2.2 0zM384.93 235.34a1.1 1.1 0 1 0 2.2 0a1.1 1.1 0 1 0-2.2 0zM384.97 213.87a1.1 1.1 0 1 0 2.2 0a1.1 1.1 0 1 0-2.2 0zM385.01 230.99a1.1 1.1 0 1 0 2.2 0a1.1 1.1 0 1 0-2.2 0zM385.06 233.49a1.1 1.1 0 1 0 2.2 0a1.1 1.1 0 1 0-2.2 0zM385.10 212.79a1.1 1.1 0 1 0 2.2 0a1.1 1.1 0 1 0-2.2 0zM385.14 237.15a1.1 1.1 0 1 0 2.2 0a1.1 1.1 0 1 0-2.2 0zM385.18 234.46a1.1 1.1 0 1 0 2.2 0a1.1 1.1 0 1 0-2.2 0zM385.22 219.75a1.1 1.1 0 1 0 2.2 0a1.1 1.1 0 1 0-2.2 0zM385.27 224.96a1.1 1.1 0 1 0 2.2 0a1.1 1.1 0 1 0-2.2 0zM385.31 232.6a1.1 1.1 0 1 0 2.2 0a1.1 1.1 0 1 0-2.2 0zM385.35 231.95a1.1 1.1 0 1 0 2.2 0a1.1 1.1 0 1 0-2.2 0zM385.39 227.2a1.1 1.1 0 1 0 2.2 0a1.1 1.1 0 1 0-2.2 0zM385.43 223.99a1.1 1.1 0 1 0 2.2 0a1.1 1.1 0 1 0-2.2 0zM385.48 238.98a1.1 1.1 0 1 0 2.2 0a1.1 1.1 0 1 0-2.2 0zM385.52 232.93a1.1 1.1 0 1 0 2.2 0a1.1 1.1 0 1 0-2.2 0zM385.56 214.11a1.1 1.1 0 1 0 2.2 0a1.1 1.1 0 1 0-2.2 0zM385.60 239.55a1.1 1.1 0 1 0 2.2 0a1.1 1.1 0 1 0-2.2 0zM385.64 230.54a1.1 1.1 0 1 0 2.2 0a1.1 1.1 0 1 0-2.2 0zM385.69 223.69a1.1 1.1 0 1 0 2.2 0a1.1 1.1 0 1 0-2.2 0zM385.73 222.9a1.1 1.1 0 1 0 2.2 0a1.1 1.1 0 1 0-2.2 0zM385.77 238.61a1.1 1.1 0 1 0 2.2 0a1.1 1.1 0 1 0-2.2 0zM385.81 232.31a1.1 1.1 0 1 0 2.2 0a1.1 1.1 0 1 0-2.2 0zM385.85 217.72a1.1 1.1 0 1 0 2.2 0a1.1 1.1 0 1 0-2.2 0zM385.89 226.53a1.1 1.1 0 1 0 2.2 0a1.1 1.1 0 1 0-2.2 0zM385.93 234.52a1.1 1.1 0 1 0 2.2 0a1.1 1.1 0 1 0-2.2 0zM385.98 214.18a1.1 1.1 0 1 0 2.2 0a1.1 1.1 0 1 0-2.2 0zM386.02 228.23a1.1 1.1 0 1 0 2.2 0a1.1 1.1 0 1 0-2.2 0zM386.06 222.46a1.1 1.1 0 1 0 2.2 0a1.1 1.1 0 1 0-2.2 0zM386.10 228.22a1.1 1.1 0 1 0 2.2 0a1.1 1.1 0 1 0-2.2 0zM386.14 220.45a1.1 1.1 0 1 0 2.2 0a1.1 1.1 0 1 0-2.2 0zM386.18 219.49a1.1 1.1 0 1 0 2.2 0a1.1 1.1 0 1 0-2.2 0zM386.22 229.35a1.1 1.1 0 1 0 2.2 0a1.1 1.1 0 1 0-2.2 0zM386.26 221.92a1.1 1.1 0 1 0 2.2 0a1.1 1.1 0 1 0-2.2 0zM386.31 218.14a1.1 1.1 0 1 0 2.2 0a1.1 1.1 0 1 0-2.2 0zM386.35 234.77a1.1 1.1 0 1 0 2.2 0a1.1 1.1 0 1 0-2.2 0zM386.39 228.5a1.1 1.1 0 1 0 2.2 0a1.1 1.1 0 1 0-2.2 0zM386.43 216.93a1.1 1.1 0 1 0 2.2 0a1.1 1.1 0 1 0-2.2 0zM386.47 221.1a1.1 1.1 0 1 0 2.2 0a1.1 1.1 0 1 0-2.2 0zM386.51 241.12a1.1 1.1 0 1 0 2.2 0a1.1 1.1 0 1 0-2.2 0zM386.55 223.01a1.1 1.1 0 1 0 2.2 0a1.1 1.1 0 1 0-2.2 0zM386.59 224.87a1.1 1.1 0 1 0 2.2 0a1.1 1.1 0 1 0-2.2 0zM386.63 236.59a1.1 1.1 0 1 0 2.2 0a1.1 1.1 0 1 0-2.2 0zM386.67 225.54a1.1 1.1 0 1 0 2.2 0a1.1 1.1 0 1 0-2.2 0zM386.71 239.96a1.1 1.1 0 1 0 2.2 0a1.1 1.1 0 1 0-2.2 0zM386.76 225.91a1.1 1.1 0 1 0 2.2 0a1.1 1.1 0 1 0-2.2 0zM386.80 236.43a1.1 1.1 0 1 0 2.2 0a1.1 1.1 0 1 0-2.2 0zM386.84 240.73a1.1 1.1 0 1 0 2.2 0a1.1 1.1 0 1 0-2.2 0zM386.88 231.19a1.1 1.1 0 1 0 2.2 0a1.1 1.1 0 1 0-2.2 0zM386.92 220.27a1.1 1.1 0 1 0 2.2 0a1.1 1.1 0 1 0-2.2 0zM386.96 239.47a1.1 1.1 0 1 0 2.2 0a1.1 1.1 0 1 0-2.2 0zM387.00 238.55a1.1 1.1 0 1 0 2.2 0a1.1 1.1 0 1 0-2.2 0zM387.04 223.99a1.1 1.1 0 1 0 2.2 0a1.1 1.1 0 1 0-2.2 0zM387.08 240.36a1.1 1.1 0 1 0 2.2 0a1.1 1.1 0 1 0-2.2 0zM387.12 237.28a1.1 1.1 0 1 0 2.2 0a1.1 1.1 0 1 0-2.2 0zM387.16 239.78a1.1 1.1 0 1 0 2.2 0a1.1 1.1 0 1 0-2.2 0zM387.20 222.48a1.1 1.1 0 1 0 2.2 0a1.1 1.1 0 1 0-2.2 0zM387.24 220.24a1.1 1.1 0 1 0 2.2 0a1.1 1.1 0 1 0-2.2 0zM387.28 217.67a1.1 1.1 0 1 0 2.2 0a1.1 1.1 0 1 0-2.2 0zM387.32 231.34a1.1 1.1 0 1 0 2.2 0a1.1 1.1 0 1 0-2.2 0zM387.36 218.83a1.1 1.1 0 1 0 2.2 0a1.1 1.1 0 1 0-2.2 0zM387.40 221.16a1.1 1.1 0 1 0 2.2 0a1.1 1.1 0 1 0-2.2 0zM387.44 219.73a1.1 1.1 0 1 0 2.2 0a1.1 1.1 0 1 0-2.2 0zM387.48 228.43a1.1 1.1 0 1 0 2.2 0a1.1 1.1 0 1 0-2.2 0zM384.80 240.4a1.1 1.1 0 1 0 2.2 0a1.1 1.1 0 1 0-2.2 0zM384.20 244a1.1 1.1 0 1 0 2.2 0a1.1 1.1 0 1 0-2.2 0zM387.80 247.3a1.1 1.1 0 1 0 2.2 0a1.1 1.1 0 1 0-2.2 0zM384.80 247.3a1.1 1.1 0 1 0 2.2 0a1.1 1.1 0 1 0-2.2 0zM384.80 251.2a1.1 1.1 0 1 0 2.2 0a1.1 1.1 0 1 0-2.2 0zM384.40 257.3a1.1 1.1 0 1 0 2.2 0a1.1 1.1 0 1 0-2.2 0zM116.30 230.1a1.1 1.1 0 1 0 2.2 0a1.1 1.1 0 1 0-2.2 0z"/>
<path fill="#808080" stroke="#808080" stroke-width="0.3" d="M107.15 46.58a1.1 1.1 0 1 0 2.2 0a1.1 1.1 0 1 0-2.2 0zM125.14 53.02a1.1 1.1 0 1 0 2.2 0a1.1 1.1 0 1 0-2.2 0zM137.91 62.88a1.1 1.1 0 1 0 2.2 0a1.1 1.1 0 1 0-2.2 0zM147.81 68.28a1.1 1.1 0 1 0 2.2 0a1.1 1.1 0 1 0-2.2 0zM155.90 72.08a1.1 1.1 0 1 0 2.2 0a1.1 1.1 0 1 0-2.2 0zM162.74 75.18a1.1 1.1 0 1 0 2.2 0a1.1 1.1 0 1 0-2.2 0zM168.66 78.18a1.1 1.1 0 1 0 2.2 0a1.1 1.1 0 1 0-2.2 0zM173.89 80.38a1.1 1.1 0 1 0 2.2 0a1.1 1.1 0 1 0-2.2 0zM178.56 82.48a1.1 1.1 0 1 0 2.2 0a1.1 1.1 0 1 0-2.2 0zM182.79 84.35a1.1 1.1 0 1 0 2.2 0a1.1 1.1 0 1 0-2.2 0zM186.65 86.06a1.1 1.1 0 1 0 2.2 0a1.1 1.1 0 1 0-2.2 0zM190.20 87.72a1.1 1.1 0 1 0 2.2 0a1.1 1.1 0 1 0-2.2 0zM193.49 89.13a1.1 1.1 0 1 0 2.2 0a1.1 1.1 0 1 0-2.2 0zM196.55 90.59a1.1 1.1 0 1 0 2.2 0a1.1 1.1 0 1 0-2.2 0zM199.42 91.83a1.1 1.1 0 1 0 2.2 0a1.1 1.1 0 1 0-2.2 0zM202.11 92.91a1.1 1.1 0 1 0 2.2 0a1.1 1.1 0 1 0-2.2 0zM204.64 94.0a1.1 1.1 0 1 0 2.2 0a1.1 1.1 0 1 0-2.2 0zM207.04 95.17a1.1 1.1 0 1 0 2.2 0a1.1 1.1 0 1 0-2.2 0zM209.32 96.15a1.1 1.1 0 1 0 2.2 0a1.1 1.1 0 1 0-2.2 0zM211.48 97.06a1.1 1.1 0 1 0 2.2 0a1.1 1.1 0 1 0-2.2 0zM213.55 97.86a1.1 1.1 0 1 0 2.2 0a1.1 1.1 0 1 0-2.2 0zM215.52 98.71a1.1 1.1 0 1 0 2.2 0a1.1 1.1 0 1 0-2.2 0zM217.41 99.72a1.1 1.1 0 1 0 2.2 0a1.1 1.1 0 1 0-2.2 0zM219.22 100.55a1.1 1.1 0 1 0 2.2 0a1.1 1.1 0 1 0-2.2 0zM220.96 101.33a1.1 1.1 0 1 0 2.2 0a1.1 1.1 0 1 0-2.2 0zM222.63 101.9a1.1 1.1 0 1 0 2.2 0a1.1 1.1 0 1 0-2.2 0zM224.25 102.8a1.1 1.1 0 1 0 2.2 0a1.1 1.1 0 1 0-2.2 0zM225.80 103.37a1.1 1.1 0 1 0 2.2 0a1.1 1.1 0 1 0-2.2 0zM227.31 104.11a1.1 1.1 0 1 0 2.2 0a1.1 1.1 0 1 0-2.2 0zM228.76 104.75a1.1 1.1 0 1 0 2.2 0a1.1 1.1 0 1 0-2.2 0zM230.17 105.28a1.1 1.1 0 1 0 2.2 0a1.1 1.1 0 1 0-2.2 0zM231.54 105.89a1.1 1.1 0 1 0 2.2 0a1.1 1.1 0 1 0-2.2 0zM232.86 106.36a1.1 1.1 0 1 0 2.2 0a1.1 1.1 0 1 0-2.2 0zM234.15 107.02a1.1 1.1 0 1 0 2.2 0a1.1 1.1 0 1 0-2.2 0zM235.40 107.49a1.1 1.1 0 1 0 2.2 0a1.1 1.1 0 1 0-2.2 0zM236.61 108.21a1.1 1.1 0 1 0 2.2 0a1.1 1.1 0 1 0-2.2 0zM237.80 108.7a1.1 1.1 0 1 0 2.2 0a1.1 1.1 0 1 0-2.2 0zM238.95 109.27a1.1 1.1 0 1 0 2.2 0a1.1 1.1 0 1 0-2.2 0zM240.07 109.72a1.1 1.1 0 1 0 2.2 0a1.1 1.1 0 1 0-2.2 0zM241.17 110.13a1.1 1.1 0 1 0 2.2 0a1.1 1.1 0 1 0-2.2 0zM242.24 110.68a1.1 1.1 0 1 0 2.2 0a1.1 1.1 0 1 0-2.2 0zM243.28 111.08a1.1 1.1 0 1 0 2.2 0a1.1 1.1 0 1 0-2.2 0zM244.30 111.61a1.1 1.1 0 1 0 2.2 0a1.1 1.1 0 1 0-2.2 0zM245.30 112.02a1.1 1.1 0 1 0 2.2 0a1.1 1.1 0 1 0-2.2 0zM246.27 112.35a1.1 1.1 0 1 0 2.2 0a1.1 1.1 0 1 0-2.2 0zM247.23 112.84a1.1 1.1 0 1 0 2.2 0a1.1 1.1 0 1 0-2.2 0zM248.16 113.26a1.1 1.1 0 1 0 2.2 0a1.1 1.1 0 1 0-2.2 0zM249.08 113.63a1.1 1.1 0 1 0 2.2 0a1.1 1.1 0 1 0-2.2 0zM249.97 114.12a1.1 1.1 0 1 0 2.2 0a1.1 1.1 0 1 0-2.2 0zM250.85 114.58a1.1 1.1 0 1 0 2.2 0a1.1 1.1 0 1 0-2.2 0zM251.71 114.79a1.1 1.1 0 1 0 2.2 0a1.1 1.1 0 1 0-2.2 0zM252.56 115.16a1.1 1.1 0 1 0 2.2 0a1.1 1.1 0 1 0-2.2 0zM253.39 115.37a1.1 1.1 0 1 0 2.2 0a1.1 1.1 0 1 0-2.2 0zM254.20 115.9a1.1 1.1 0 1 0 2.2 0a1.1 1.1 0 1 0-2.2 0zM255.00 116.23a1.1 1.1 0 1 0 2.2 0a1.1 1.1 0 1 0-2.2 0zM255.79 116.44a1.1 1.1 0 1 0 2.2 0a1.1 1.1 0 1 0-2.2 0zM256.56 116.97a1.1 1.1 0 1 0 2.2 0a1.1 1.1 0 1 0-2.2 0zM257.32 117.33a1.1 1.1 0 1 0 2.2 0a1.1 1.1 0 1 0-2.2 0zM258.06 117.55a1.1 1.1 0 1 0 2.2 0a1.1 1.1 0 1 0-2.2 0zM258.80 117.9a1.1 1.1 0 1 0 2.2 0a1.1 1.1 0 1 0-2.2 0zM259.52 118.17a1.1 1.1 0 1 0 2.2 0a1.1 1.1 0 1 0-2.2 0zM260.23 118.63a1.1 1.1 0 1 0 2.2 0a1.1 1.1 0 1 0-2.2 0zM260.93 118.75a1.1 1.1 0 1 0 2.2 0a1.1 1.1 0 1 0-2.2 0zM261.61 119.15a1.1 1.1 0 1 0 2.2 0a1.1 1.1 0 1 0-2.2 0zM262.29 119.63a1.1 1.1 0 1 0 2.2 0a1.1 1.1 0 1 0-2.2 0zM262.96 119.77a1.1 1.1 0 1 0 2.2 0a1.1 1.1 0 1 0-2.2 0zM263.62 120.09a1.1 1.1 0 1 0 2.2 0a1.1 1.1 0 1 0-2.2 0zM264.26 120.33a1.1 1.1 0 1 0 2.2 0a1.1 1.1 0 1 0-2.2 0zM264.90 120.53a1.1 1.1 0 1 0 2.2 0a1.1 1.1 0 1 0-2.2 0zM265.53 120.9a1.1 1.1 0 1 0 2.2 0a1.1 1.1 0 1 0-2.2 0zM266.15 121.2a1.1 1.1 0 1 0 2.2 0a1.1 1.1 0 1 0-2.2 0zM266.76 121.36a1.1 1.1 0 1 0 2.2 0a1.1 1.1 0 1 0-2.2 0zM267.37 121.73a1.1 1.1 0 1 0 2.2 0a1.1 1.1 0 1 0-2.2 0zM267.96 122.07a1.1 1.1 0 1 0 2.2 0a1.1 1.1 0 1 0-2.2 0zM268.55 122.31a1.1 1.1 0 1 0 2.2 0a1.1 1.1 0 1 0-2.2 0zM269.13 122.36a1.1 1.1 0 1 0 2.2 0a1.1 1.1 0 1 0-2.2 0zM269.70 122.66a1.1 1.1 0 1 0 2.2 0a1.1 1.1 0 1 0-2.2 0zM270.27 122.85a1.1 1.1 0 1 0 2.2 0a1.1 1.1 0 1 0-2.2 0zM270.83 123.31a1.1 1.1 0 1 0 2.2 0a1.1 1.1 0 1 0-2.2 0zM271.38 123.52a1.1 1.1 0 1 0 2.2 0a1.1 1.1 0 1 0-2.2 0zM271.92 123.77a1.1 1.1 0 1 0 2.2 0a1.1 1.1 0 1 0-2.2 0zM272.46 123.88a1.1 1.1 0 1 0 2.2 0a1.1 1.1 0 1 0-2.2 0zM272.99 124.09a1.1 1.1 0 1 0 2.2 0a1.1 1.1 0 1 0-2.2 0zM273.52 124.42a1.1 1.1 0 1 0 2.2 0a1.1 1.1 0 1 0-2.2 0zM274.04 124.65a1.1 1.1 0 1 0 2.2 0a1.1 1.1 0 1 0-2.2 0zM274.55 124.8a1.1 1.1 0 1 0 2.2 0a1.1 1.1 0 1 0-2.2 0zM275.06 125.1a1.1 1.1 0 1 0 2.2 0a1.1 1.1 0 1 0-2.2 0zM275.56 125.36a1.1 1.1 0 1 0 2.2 0a1.1 1.1 0 1 0-2.2 0zM276.05 125.55a1.1 1.1 0 1 0 2.2 0a1.1 1.1 0 1 0-2.2 0zM276.54 125.66a1.1 1.1 0 1 0 2.2 0a1.1 1.1 0 1 0-2.2 0zM277.03 125.79a1.1 1.1 0 1 0 2.2 0a1.1 1.1 0 1 0-2.2 0zM277.51 126.15a1.1 1.1 0 1 0 2.2 0a1.1 1.1 0 1 0-2.2 0zM277.98 126.39a1.1 1.1 0 1 0 2.2 0a1.1 1.1 0 1 0-2.2 0zM278.45 126.56a1.1 1.1 0 1 0 2.2 0a1.1 1.1 0 1 0-2.2 0zM278.92 126.75a1.1 1.1 0 1 0 2.2 0a1.1 1.1 0 1 0-2.2 0zM279.38 126.93a1.1 1.1 0 1 0 2.2 0a1.1 1.1 0 1 0-2.2 0zM279.83 127.24a1.1 1.1 0 1 0 2.2 0a1.1 1.1 0 1 0-2.2 0zM280.28 127.37a1.1 1.1 0 1 0 2.2 0a1.1 1.1 0 1 0-2.2 0zM280.73 127.58a1.1 1.1 0 1 0 2.2 0a1.1 1.1 0 1 0-2.2 0zM281.17 127.68a1.1 1.1 0 1 0 2.2 0a1.1 1.1 0 1 0-2.2 0zM281.61 127.89a1.1 1.1 0 1 0 2.2 0a1.1 1.1 0 1 0-2.2 0zM282.04 128.14a1.1 1.1 0 1 0 2.2 0a1.1 1.1 0 1 0-2.2 0zM282.47 128.23a1.1 1.1 0 1 0 2.2 0a1.1 1.1 0 1 0-2.2 0zM282.89 128.4a1.1 1.1 0 1 0 2.2 0a1.1 1.1 0 1 0-2.2 0zM283.31 128.65a1.1 1.1 0 1 0 2.2 0a1.1 1.1 0 1 0-2.2 0zM283.73 128.95a1.1 1.1 0 1 0 2.2 0a1.1 1.1 0 1 0-2.2 0zM284.14 129.05a1.1 1.1 0 1 0 2.2 0a1.1 1.1 0 1 0-2.2 0zM284.55 129.33a1.1 1.1 0 1 0 2.2 0a1.1 1.1 0 1 0-2.2 0zM284.96 129.37a1.1 1.1 0 1 0 2.2 0a1.1 1.1 0 1 0-2.2 0zM285.36 129.53a1.1 1.1 0 1 0 2.2 0a1.1 1.1 0 1 0-2.2 0zM285.76 129.62a1.1 1.1 0 1 0 2.2 0a1.1 1.1 0 1 0-2.2 0zM286.15 129.85a1.1 1.1 0 1 0 2.2 0a1.1 1.1 0 1 0-2.2 0zM286.54 130.18a1.1 1.1 0 1 0 2.2 0a1.1 1.1 0 1 0-2.2 0zM286.93 130.26a1.1 1.1 0 1 0 2.2 0a1.1 1.1 0 1 0-2.2 0zM287.31 130.46a1.1 1.1 0 1 0 2.2 0a1.1 1.1 0 1 0-2.2 0zM287.69 130.62a1.1 1.1 0 1 0 2.2 0a1.1 1.1 0 1 0-2.2 0zM288.07 130.72a1.1 1.1 0 1 0 2.2 0a1.1 1.1 0 1 0-2.2 0zM288.45 130.87a1.1 1.1 0 1 0 2.2 0a1.1 1.1 0 1 0-2.2 0zM288.82 131.05a1.1 1.1 0 1 0 2.2 0a1.1 1.1 0 1 0-2.2 0zM289.19 131.26a1.1 1.1 0 1 0 2.2 0a1.1 1.1 0 1 0-2.2 0zM289.55 131.4a1.1 1.1 0 1 0 2.2 0a1.1 1.1 0 1 0-2.2 0zM289.91 131.55a1.1 1.1 0 1 0 2.2 0a1.1 1.1 0 1 0-2.2 0zM290.27 131.68a1.1 1.1 0 1 0 2.2 0a1.1 1.1 0 1 0-2.2 0zM290.63 131.76a1.1 1.1 0 1 0 2.2 0a1.1 1.1 0 1 0-2.2 0zM290.98 131.95a1.1 1.1 0 1 0 2.2 0a1.1 1.1 0 1 0-2.2 0zM291.33 132.05a1.1 1.1 0 1 0 2.2 0a1.1 1.1 0 1 0-2.2 0zM291.68 132.36a1.1 1.1 0 1 0 2.2 0a1.1 1.1 0 1 0-2.2 0zM292.03 132.26a1.1 1.1 0 1 0 2.2 0a1.1 1.1 0 1 0-2.2 0zM292.37 132.55a1.1 1.1 0 1 0 2.2 0a1.1 1.1 0 1 0-2.2 0zM292.71 132.91a1.1 1.1 0 1 0 2.2 0a1.1 1.1 0 1 0-2.2 0zM293.05 132.84a1.1 1.1 0 1 0 2.2 0a1.1 1.1 0 1 0-2.2 0zM293.38 132.92a1.1 1.1 0 1 0 2.2 0a1.1 1.1 0 1 0-2.2 0zM293.71 133.15a1.1 1.1 0 1 0 2.2 0a1.1 1.1 0 1 0-2.2 0zM294.04 133.39a1.1 1.1 0 1 0 2.2 0a1.1 1.1 0 1 0-2.2 0zM294.37 133.42a1.1 1.1 0 1 0 2.2 0a1.1 1.1 0 1 0-2.2 0zM294.70 133.62a1.1 1.1 0 1 0 2.2 0a1.1 1.1 0 1 0-2.2 0zM295.02 133.72a1.1 1.1 0 1 0 2.2 0a1.1 1.1 0 1 0-2.2 0zM295.34 133.82a1.1 1.1 0 1 0 2.2 0a1.1 1.1 0 1 0-2.2 0zM295.66 134.24a1.1 1.1 0 1 0 2.2 0a1.1 1.1 0 1 0-2.2 0zM295.97 134.13a1.1 1.1 0 1 0 2.2 0a1.1 1.1 0 1 0-2.2 0zM296.29 134.21a1.1 1.1 0 1 0 2.2 0a1.1 1.1 0 1 0-2.2 0zM296.60 134.35a1.1 1.1 0 1 0 2.2 0a1.1 1.1 0 1 0-2.2 0zM296.91 134.55a1.1 1.1 0 1 0 2.2 0a1.1 1.1 0 1 0-2.2 0zM297.21 134.69a1.1 1.1 0 1 0 2.2 0a1.1 1.1 0 1 0-2.2 0zM297.52 134.85a1.1 1.1 0 1 0 2.2 0a1.1 1.1 0 1 0-2.2 0zM297.82 134.93a1.1 1.1 0 1 0 2.2 0a1.1 1.1 0 1 0-2.2 0zM298.12 134.93a1.1 1.1 0 1 0 2.2 0a1.1 1.1 0 1 0-2.2 0zM298.42 135.22a1.1 1.1 0 1 0 2.2 0a1.1 1.1 0 1 0-2.2 0zM298.72 135.28a1.1 1.1 0 1 0 2.2 0a1.1 1.1 0 1 0-2.2 0zM299.01 135.41a1.1 1.1 0 1 0 2.2 0a1.1 1.1 0 1 0-2.2 0zM299.31 135.44a1.1 1.1 0 1 0 2.2 0a1.1 1.1 0 1 0-2.2 0zM299.60 135.63a1.1 1.1 0 1 0 2.2 0a1.1 1.1 0 1 0-2.2 0zM299.89 135.75a1.1 1.1 0 1 0 2.2 0a1.1 1.1 0 1 0-2.2 0zM300.17 135.92a1.1 1.1 0 1 0 2.2 0a1.1 1.1 0 1 0-2.2 0zM300.46 135.93a1.1 1.1 0 1 0 2.2 0a1.1 1.1 0 1 0-2.2 0zM300.74 136.18a1.1 1.1 0 1 0 2.2 0a1.1 1.1 0 1 0-2.2 0zM301.02 136.3a1.1 1.1 0 1 0 2.2 0a1.1 1.1 0 1 0-2.2 0zM301.30 136.32a1.1 1.1 0 1 0 2.2 0a1.1 1.1 0 1 0-2.2 0zM301.58 136.48a1.1 1.1 0 1 0 2.2 0a1.1 1.1 0 1 0-2.2 0zM301.86 136.58a1.1 1.1 0 1 0 2.2 0a1.1 1.1 0 1 0-2.2 0zM302.13 136.84a1.1 1.1 0 1 0 2.2 0a1.1 1.1 0 1 0-2.2 0zM302.41 136.69a1.1 1.1 0 1 0 2.2 0a1.1 1.1 0 1 0-2.2 0zM302.68 136.98a1.1 1.1 0 1 0 2.2 0a1.1 1.1 0 1 0-2.2 0zM302.95 136.99a1.1 1.1 0 1 0 2.2 0a1.1 1.1 0 1 0-2.2 0zM303.21 137.2a1.1 1.1 0 1 0 2.2 0a1.1 1.1 0 1 0-2.2 0zM303.48 137.42a1.1 1.1 0 1 0 2.2 0a1.1 1.1 0 1 0-2.2 0zM303.75 137.41a1.1 1.1 0 1 0 2.2 0a1.1 1.1 0 1 0-2.2 0zM304.01 137.59a1.1 1.1 0 1 0 2.2 0a1.1 1.1 0 1 0-2.2 0zM304.27 137.62a1.1 1.1 0 1 0 2.2 0a1.1 1.1 0 1 0-2.2 0zM304.53 137.96a1.1 1.1 0 1 0 2.2 0a1.1 1.1 0 1 0-2.2 0zM304.79 137.99a1.1 1.1 0 1 0 2.2 0a1.1 1.1 0 1 0-2.2 0zM305.05 138.11a1.1 1.1 0 1 0 2.2 0a1.1 1.1 0 1 0-2.2 0zM305.30 138.03a1.1 1.1 0 1 0 2.2 0a1.1 1.1 0 1 0-2.2 0zM305.56 138.15a1.1 1.1 0 1 0 2.2 0a1.1 1.1 0 1 0-2.2 0zM305.81 138.44a1.1 1.1 0 1 0 2.2 0a1.1 1.1 0 1 0-2.2 0zM306.06 138.44a1.1 1.1 0 1 0 2.2 0a1.1 1.1 0 1 0-2.2 0zM306.31 138.55a1.1 1.1 0 1 0 2.2 0a1.1 1.1 0 1 0-2.2 0zM306.56 138.7a1.1 1.1 0 1 0 2.2 0a1.1 1.1 0 1 0-2.2 0zM306.81 138.68a1.1 1.1 0 1 0 2.2 0a1.1 1.1 0 1 0-2.2 0zM307.05 138.95a1.1 1.1 0 1 0 2.2 0a1.1 1.1 0 1 0-2.2 0zM307.30 138.99a1.1 1.1 0 1 0 2.2 0a1.1 1.1 0 1 0-2.2 0zM307.54 139.13a1.1 1.1 0 1 0 2.2 0a1.1 1.1 0 1 0-2.2 0zM307.78 139.15a1.1 1.1 0 1 0 2.2 0a1.1 1.1 0 1 0-2.2 0zM308.02 139.34a1.1 1.1 0 1 0 2.2 0a1.1 1.1 0 1 0-2.2 0zM308.26 139.35a1.1 1.1 0 1 0 2.2 0a1.1 1.1 0 1 0-2.2 0zM308.50 139.58a1.1 1.1 0 1 0 2.2 0a1.1 1.1 0 1 0-2.2 0zM308.74 139.7a1.1 1.1 0 1 0 2.2 0a1.1 1.1 0 1 0-2.2 0zM308.97 139.78a1.1 1.1 0 1 0 2.2 0a1.1 1.1 0 1 0-2.2 0zM309.21 139.85a1.1 1.1 0 1 0 2.2 0a1.1 1.1 0 1 0-2.2 0zM309.44 139.96a1.1 1.1 0 1 0 2.2 0a1.1 1.1 0 1 0-2.2 0zM309.67 139.79a1.1 1.1 0 1 0 2.2 0a1.1 1.1 0 1 0-2.2 0zM309.90 140.18a1.1 1.1 0 1 0 2.2 0a1.1 1.1 0 1 0-2.2 0zM310.13 140.19a1.1 1.1 0 1 0 2.2 0a1.1 1.1 0 1 0-2.2 0zM310.36 140.31a1.1 1.1 0 1 0 2.2 0a1.1 1.1 0 1 0-2.2 0zM310.59 140.38a1.1 1.1 0 1 0 2.2 0a1.1 1.1 0 1 0-2.2 0zM310.81 140.39a1.1 1.1 0 1 0 2.2 0a1.1 1.1 0 1 0-2.2 0zM311.04 140.56a1.1 1.1 0 1 0 2.2 0a1.1 1.1 0 1 0-2.2 0zM311.26 140.75a1.1 1.1 0 1 0 2.2 0a1.1 1.1 0 1 0-2.2 0zM311.48 140.9a1.1 1.1 0 1 0 2.2 0a1.1 1.1 0 1 0-2.2 0zM311.70 140.84a1.1 1.1 0 1 0 2.2 0a1.1 1.1 0 1 0-2.2 0zM311.92 140.91a1.1 1.1 0 1 0 2.2 0a1.1 1.1 0 1 0-2.2 0zM312.14 141.19a1.1 1.1 0 1 0 2.2 0a1.1 1.1 0 1 0-2.2 0zM312.36 141.1a1.1 1.1 0 1 0 2.2 0a1.1 1.1 0 1 0-2.2 0zM312.58 141.43a1.1 1.1 0 1 0 2.2 0a1.1 1.1 0 1 0-2.2 0zM312.79 141.36a1.1 1.1 0 1 0 2.2 0a1.1 1.1 0 1 0-2.2 0zM313.01 141.38a1.1 1.1 0 1 0 2.2 0a1.1 1.1 0 1 0-2.2 0zM313.22 141.62a1.1 1.1 0 1 0 2.2 0a1.1 1.1 0 1 0-2.2 0zM313.43 141.77a1.1 1.1 0 1 0 2.2 0a1.1 1.1 0 1 0-2.2 0zM313.65 141.61a1.1 1.1 0 1 0 2.2 0a1.1 1.1 0 1 0-2.2 0zM313.86 141.94a1.1 1.1 0 1 0 2.2 0a1.1 1.1 0 1 0-2.2 0zM314.07 141.88a1.1 1.1 0 1 0 2.2 0a1.1 1.1 0 1 0-2.2 0zM314.28 142.11a1.1 1.1 0 1 0 2.2 0a1.1 1.1 0 1 0-2.2 0zM314.48 142.05a1.1 1.1 0 1 0 2.2 0a1.1 1.1 0 1 0-2.2 0zM314.69 142.04a1.1 1.1 0 1 0 2.2 0a1.1 1.1 0 1 0-2.2 0zM314.90 142.3a1.1 1.1 0 1 0 2.2 0a1.1 1.1 0 1 0-2.2 0zM315.10 142.42a1.1 1.1 0 1 0 2.2 0a1.1 1.1 0 1 0-2.2 0zM315.31 142.6a1.1 1.1 0 1 0 2.2 0a1.1 1.1 0 1 0-2.2 0zM315.51 142.66a1.1 1.1 0 1 0 2.2 0a1.1 1.1 0 1 0-2.2 0zM315.71 142.66a1.1 1.1 0 1 0 2.2 0a1.1 1.1 0 1 0-2.2 0zM315.91 142.68a1.1 1.1 0 1 0 2.2 0a1.1 1.1 0 1 0-2.2 0zM316.11 142.74a1.1 1.1 0 1 0 2.2 0a1.1 1.1 0 1 0-2.2 0zM316.31 142.84a1.1 1.1 0 1 0 2.2 0a1.1 1.1 0 1 0-2.2 0zM316.51 142.88a1.1 1.1 0 1 0 2.2 0a1.1 1.1 0 1 0-2.2 0zM316.71 143.02a1.1 1.1 0 1 0 2.2 0a1.1 1.1 0 1 0-2.2 0zM316.90 142.91a1.1 1.1 0 1 0 2.2 0a1.1 1.1 0 1 0-2.2 0zM317.10 143.22a1.1 1.1 0 1 0 2.2 0a1.1 1.1 0 1 0-2.2 0zM317.30 143.29a1.1 1.1 0 1 0 2.2 0a1.1 1.1 0 1 0-2.2 0zM317.49 143.58a1.1 1.1 0 1 0 2.2 0a1.1 1.1 0 1 0-2.2 0zM317.68 143.52a1.1 1.1 0 1 0 2.2 0a1.1 1.1 0 1 0-2.2 0zM317.88 143.5a1.1 1.1 0 1 0 2.2 0a1.1 1.1 0 1 0-2.2 0zM318.07 143.67a1.1 1.1 0 1 0 2.2 0a1.1 1.1 0 1 0-2.2 0zM318.26 143.6a1.1 1.1 0 1 0 2.2 0a1.1 1.1 0 1 0-2.2 0zM318.45 143.74a1.1 1.1 0 1 0 2.2 0a1.1 1.1 0 1 0-2.2 0zM318.64 143.71a1.1 1.1 0 1 0 2.2 0a1.1 1.1 0 1 0-2.2 0zM318.83 144.07a1.1 1.1 0 1 0 2.2 0a1.1 1.1 0 1 0-2.2 0zM319.01 144.08a1.1 1.1 0 1 0 2.2 0a1.1 1.1 0 1 0-2.2 0zM319.20 144.01a1.1 1.1 0 1 0 2.2 0a1.1 1.1 0 1 0-2.2 0zM319.39 144.18a1.1 1.1 0 1 0 2.2 0a1.1 1.1 0 1 0-2.2 0zM319.57 144.35a1.1 1.1 0 1 0 2.2 0a1.1 1.1 0 1 0-2.2 0zM319.76 144.39a1.1 1.1 0 1 0 2.2 0a1.1 1.1 0 1 0-2.2 0zM319.94 144.46a1.1 1.1 0 1 0 2.2 0a1.1 1.1 0 1 0-2.2 0zM320.12 144.43a1.1 1.1 0 1 0 2.2 0a1.1 1.1 0 1 0-2.2 0zM320.30 144.53a1.1 1.1 0 1 0 2.2 0a1.1 1.1 0 1 0-2.2 0zM320.49 144.67a1.1 1.1 0 1 0 2.2 0a1.1 1.1 0 1 0-2.2 0zM320.67 144.82a1.1 1.1 0 1 0 2.2 0a1.1 1.1 0 1 0-2.2 0zM320.85 144.75a1.1 1.1 0 1 0 2.2 0a1.1 1.1 0 1 0-2.2 0zM321.03 144.8a1.1 1.1 0 1 0 2.2 0a1.1 1.1 0 1 0-2.2 0zM321.20 145.07a1.1 1.1 0 1 0 2.2 0a1.1 1.1 0 1 0-2.2 0zM321.38 144.97a1.1 1.1 0 1 0 2.2 0a1.1 1.1 0 1 0-2.2 0zM321.56 145.21a1.1 1.1 0 1 0 2.2 0a1.1 1.1 0 1 0-2.2 0zM321.74 145.22a1.1 1.1 0 1 0 2.2 0a1.1 1.1 0 1 0-2.2 0zM321.91 145.35a1.1 1.1 0 1 0 2.2 0a1.1 1.1 0 1 0-2.2 0zM322.09 145.5a1.1 1.1 0 1 0 2.2 0a1.1 1.1 0 1 0-2.2 0zM322.26 145.48a1.1 1.1 0 1 0 2.2 0a1.1 1.1 0 1 0-2.2 0zM322.43 145.56a1.1 1.1 0 1 0 2.2 0a1.1 1.1 0 1 0-2.2 0zM322.61 145.5a1.1 1.1 0 1 0 2.2 0a1.1 1.1 0 1 0-2.2 0zM322.78 145.59a1.1 1.1 0 1 0 2.2 0a1.1 1.1 0 1 0-2.2 0zM322.95 145.78a1.1 1.1 0 1 0 2.2 0a1.1 1.1 0 1 0-2.2 0zM323.12 145.92a1.1 1.1 0 1 0 2.2 0a1.1 1.1 0 1 0-2.2 0zM323.29 145.99a1.1 1.1 0 1 0 2.2 0a1.1 1.1 0 1 0-2.2 0zM323.46 146.14a1.1 1.1 0 1 0 2.2 0a1.1 1.1 0 1 0-2.2 0zM323.63 146.04a1.1 1.1 0 1 0 2.2 0a1.1 1.1 0 1 0-2.2 0zM323.80 146.1a1.1 1.1 0 1 0 2.2 0a1.1 1.1 0 1 0-2.2 0zM323.97 146.24a1.1 1.1 0 1 0 2.2 0a1.1 1.1 0 1 0-2.2 0zM324.14 146.23a1.1 1.1 0 1 0 2.2 0a1.1 1.1 0 1 0-2.2 0zM324.30 146.3a1.1 1.1 0 1 0 2.2 0a1.1 1.1 0 1 0-2.2 0zM324.47 146.29a1.1 1.1 0 1 0 2.2 0a1.1 1.1 0 1 0-2.2 0zM324.63 146.53a1.1 1.1 0 1 0 2.2 0a1.1 1.1 0 1 0-2.2 0zM324.80 146.42a1.1 1.1 0 1 0 2.2 0a1.1 1.1 0 1 0-2.2 0zM324.96 146.63a1.1 1.1 0 1 0 2.2 0a1.1 1.1 0 1 0-2.2 0zM325.12 146.54a1.1 1.1 0 1 0 2.2 0a1.1 1.1 0 1 0-2.2 0zM325.29 146.82a1.1 1.1 0 1 0 2.2 0a1.1 1.1 0 1 0-2.2 0zM325.45 146.71a1.1 1.1 0 1 0 2.2 0a1.1 1.1 0 1 0-2.2 0zM325.61 146.94a1.1 1.1 0 1 0 2.2 0a1.1 1.1 0 1 0-2.2 0zM325.77 146.8a1.1 1.1 0 1 0 2.2 0a1.1 1.1 0 1 0-2.2 0zM325.93 146.97a1.1 1.1 0 1 0 2.2 0a1.1 1.1 0 1 0-2.2 0zM326.09 147.17a1.1 1.1 0 1 0 2.2 0a1.1 1.1 0 1 0-2.2 0zM326.25 147.07a1.1 1.1 0 1 0 2.2 0a1.1 1.1 0 1 0-2.2 0zM326.41 147.22a1.1 1.1 0 1 0 2.2 0a1.1 1.1 0 1 0-2.2 0zM326.57 147.24a1.1 1.1 0 1 0 2.2 0a1.1 1.1 0 1 0-2.2 0zM326.73 147.15a1.1 1.1 0 1 0 2.2 0a1.1 1.1 0 1 0-2.2 0zM326.88 147.44a1.1 1.1 0 1 0 2.2 0a1.1 1.1 0 1 0-2.2 0zM327.04 147.52a1.1 1.1 0 1 0 2.2 0a1.1 1.1 0 1 0-2.2 0zM327.20 147.45a1.1 1.1 0 1 0 2.2 0a1.1 1.1 0 1 0-2.2 0zM327.35 147.66a1.1 1.1 0 1 0 2.2 0a1.1 1.1 0 1 0-2.2 0zM327.51 147.61a1.1 1.1 0 1 0 2.2 0a1.1 1.1 0 1 0-2.2 0zM327.66 147.66a1.1 1.1 0 1 0 2.2 0a1.1 1.1 0 1 0-2.2 0zM327.81 147.81a1.1 1.1 0 1 0 2.2 0a1.1 1.1 0 1 0-2.2 0zM327.97 147.82a1.1 1.1 0 1 0 2.2 0a1.1 1.1 0 1 0-2.2 0zM328.12 148.15a1.1 1.1 0 1 0 2.2 0a1.1 1.1 0 1 0-2.2 0zM328.27 147.87a1.1 1.1 0 1 0 2.2 0a1.1 1.1 0 1 0-2.2 0zM328.42 148.14a1.1 1.1 0 1 0 2.2 0a1.1 1.1 0 1 0-2.2 0zM328.58 148.23a1.1 1.1 0 1 0 2.2 0a1.1 1.1 0 1 0-2.2 0zM328.73 148.03a1.1 1.1 0 1 0 2.2 0a1.1 1.1 0 1 0-2.2 0zM328.88 148.12a1.1 1.1 0 1 0 2.2 0a1.1 1.1 0 1 0-2.2 0zM329.03 148.38a1.1 1.1 0 1 0 2.2 0a1.1 1.1 0 1 0-2.2 0zM329.18 148.36a1.1 1.1 0 1 0 2.2 0a1.1 1.1 0 1 0-2.2 0zM329.32 148.5a1.1 1.1 0 1 0 2.2 0a1.1 1.1 0 1 0-2.2 0zM329.47 148.63a1.1 1.1 0 1 0 2.2 0a1.1 1.1 0 1 0-2.2 0zM329.62 148.56a1.1 1.1 0 1 0 2.2 0a1.1 1.1 0 1 0-2.2 0zM329.77 148.56a1.1 1.1 0 1 0 2.2 0a1.1 1.1 0 1 0-2.2 0zM329.91 148.47a1.1 1.1 0 1 0 2.2 0a1.1 1.1 0 1 0-2.2 0zM330.06 148.8a1.1 1.1 0 1 0 2.2 0a1.1 1.1 0 1 0-2.2 0zM330.21 148.76a1.1 1.1 0 1 0 2.2 0a1.1 1.1 0 1 0-2.2 0zM330.35 148.93a1.1 1.1 0 1 0 2.2 0a1.1 1.1 0 1 0-2.2 0zM330.50 148.99a1.1 1.1 0 1 0 2.2 0a1.1 1.1 0 1 0-2.2 0zM330.64 148.9a1.1 1.1 0 1 0 2.2 0a1.1 1.1 0 1 0-2.2 0zM330.78 149.25a1.1 1.1 0 1 0 2.2 0a1.1 1.1 0 1 0-2.2 0zM330.93 149.25a1.1 1.1 0 1 0 2.2 0a1.1 1.1 0 1 0-2.2 0zM331.07 149.29a1.1 1.1 0 1 0 2.2 0a1.1 1.1 0 1 0-2.2 0zM331.21 149.17a1.1 1.1 0 1 0 2.2 0a1.1 1.1 0 1 0-2.2 0zM331.35 149.3a1.1 1.1 0 1 0 2.2 0a1.1 1.1 0 1 0-2.2 0zM331.50 149.35a1.1 1.1 0 1 0 2.2 0a1.1 1.1 0 1 0-2.2 0zM331.64 149.42a1.1 1.1 0 1 0 2.2 0a1.1 1.1 0 1 0-2.2 0zM331.78 149.41a1.1 1.1 0 1 0 2.2 0a1.1 1.1 0 1 0-2.2 0zM331.92 149.62a1.1 1.1 0 1 0 2.2 0a1.1 1.1 0 1 0-2.2 0zM332.06 149.66a1.1 1.1 0 1 0 2.2 0a1.1 1.1 0 1 0-2.2 0zM332.20 149.73a1.1 1.1 0 1 0 2.2 0a1.1 1.1 0 1 0-2.2 0zM332.34 149.71a1.1 1.1 0 1 0 2.2 0a1.1 1.1 0 1 0-2.2 0zM332.47 149.94a1.1 1.1 0 1 0 2.2 0a1.1 1.1 0 1 0-2.2 0zM332.61 149.89a1.1 1.1 0 1 0 2.2 0a1.1 1.1 0 1 0-2.2 0zM332.75 149.68a1.1 1.1 0 1 0 2.2 0a1.1 1.1 0 1 0-2.2 0zM332.89 149.93a1.1 1.1 0 1 0 2.2 0a1.1 1.1 0 1 0-2.2 0zM333.02 150.05a1.1 1.1 0 1 0 2.2 0a1.1 1.1 0 1 0-2.2 0zM333.16 150.2a1.1 1.1 0 1 0 2.2 0a1.1 1.1 0 1 0-2.2 0zM333.30 150.14a1.1 1.1 0 1 0 2.2 0a1.1 1.1 0 1 0-2.2 0zM333.43 150.2a1.1 1.1 0 1 0 2.2 0a1.1 1.1 0 1 0-2.2 0zM333.57 150.22a1.1 1.1 0 1 0 2.2 0a1.1 1.1 0 1 0-2.2 0zM333.70 150.41a1.1 1.1 0 1 0 2.2 0a1.1 1.1 0 1 0-2.2 0zM333.84 150.36a1.1 1.1 0 1 0 2.2 0a1.1 1.1 0 1 0-2.2 0zM333.97 150.4a1.1 1.1 0 1 0 2.2 0a1.1 1.1 0 1 0-2.2 0zM334.10 150.45a1.1 1.1 0 1 0 2.2 0a1.1 1.1 0 1 0-2.2 0zM334.24 150.63a1.1 1.1 0 1 0 2.2 0a1.1 1.1 0 1 0-2.2 0zM334.37 150.58a1.1 1.1 0 1 0 2.2 0a1.1 1.1 0 1 0-2.2 0zM334.50 150.53a1.1 1.1 0 1 0 2.2 0a1.1 1.1 0 1 0-2.2 0zM334.63 150.81a1.1 1.1 0 1 0 2.2 0a1.1 1.1 0 1 0-2.2 0zM334.76 150.73a1.1 1.1 0 1 0 2.2 0a1.1 1.1 0 1 0-2.2 0zM334.89 150.89a1.1 1.1 0 1 0 2.2 0a1.1 1.1 0 1 0-2.2 0zM335.03 150.95a1.1 1.1 0 1 0 2.2 0a1.1 1.1 0 1 0-2.2 0zM335.16 151.09a1.1 1.1 0 1 0 2.2 0a1.1 1.1 0 1 0-2.2 0zM335.29 151.13a1.1 1.1 0 1 0 2.2 0a1.1 1.1 0 1 0-2.2 0zM335.42 151.02a1.1 1.1 0 1 0 2.2 0a1.1 1.1 0 1 0-2.2 0zM335.54 151.12a1.1 1.1 0 1 0 2.2 0a1.1 1.1 0 1 0-2.2 0zM335.67 151.06a1.1 1.1 0 1 0 2.2 0a1.1 1.1 0 1 0-2.2 0zM335.80 151.41a1.1 1.1 0 1 0 2.2 0a1.1 1.1 0 1 0-2.2 0zM335.93 151.35a1.1 1.1 0 1 0 2.2 0a1.1 1.1 0 1 0-2.2 0zM336.06 151.5a1.1 1.1 0 1 0 2.2 0a1.1 1.1 0 1 0-2.2 0zM336.18 151.38a1.1 1.1 0 1 0 2.2 0a1.1 1.1 0 1 0-2.2 0zM336.31 151.26a1.1 1.1 0 1 0 2.2 0a1.1 1.1 0 1 0-2.2 0zM336.44 151.68a1.1 1.1 0 1 0 2.2 0a1.1 1.1 0 1 0-2.2 0zM336.56 151.59a1.1 1.1 0 1 0 2.2 0a1.1 1.1 0 1 0-2.2 0zM336.69 151.64a1.1 1.1 0 1 0 2.2 0a1.1 1.1 0 1 0-2.2 0zM336.82 151.69a1.1 1.1 0 1 0 2.2 0a1.1 1.1 0 1 0-2.2 0zM336.94 151.8a1.1 1.1 0 1 0 2.2 0a1.1 1.1 0 1 0-2.2 0zM337.07 151.85a1.1 1.1 0 1 0 2.2 0a1.1 1.1 0 1 0-2.2 0zM337.19 151.68a1.1 1.1 0 1 0 2.2 0a1.1 1.1 0 1 0-2.2 0zM337.31 152.01a1.1 1.1 0 1 0 2.2 0a1.1 1.1 0 1 0-2.2 0zM337.44 151.9a1.1 1.1 0 1 0 2.2 0a1.1 1.1 0 1 0-2.2 0zM337.56 151.96a1.1 1.1 0 1 0 2.2 0a1.1 1.1 0 1 0-2.2 0zM337.68 152.24a1.1 1.1 0 1 0 2.2 0a1.1 1.1 0 1 0-2.2 0zM337.81 152.21a1.1 1.1 0 1 0 2.2 0a1.1 1.1 0 1 0-2.2 0zM337.93 152.13a1.1 1.1 0 1 0 2.2 0a1.1 1.1 0 1 0-2.2 0zM338.05 152.02a1.1 1.1 0 1 0 2.2 0a1.1 1.1 0 1 0-2.2 0zM338.17 152.28a1.1 1.1 0 1 0 2.2 0a1.1 1.1 0 1 0-2.2 0zM338.29 152.38a1.1 1.1 0 1 0 2.2 0a1.1 1.1 0 1 0-2.2 0zM338.42 152.36a1.1 1.1 0 1 0 2.2 0a1.1 1.1 0 1 0-2.2 0zM338.54 152.29a1.1 1.1 0 1 0 2.2 0a1.1 1.1 0 1 0-2.2 0zM338.66 152.39a1.1 1.1 0 1 0 2.2 0a1.1 1.1 0 1 0-2.2 0zM338.78 152.39a1.1 1.1 0 1 0 2.2 0a1.1 1.1 0 1 0-2.2 0zM338.90 152.6a1.1 1.1 0 1 0 2.2 0a1.1 1.1 0 1 0-2.2 0zM339.02 152.72a1.1 1.1 0 1 0 2.2 0a1.1 1.1 0 1 0-2.2 0zM339.14 152.79a1.1 1.1 0 1 0 2.2 0a1.1 1.1 0 1 0-2.2 0zM339.25 152.65a1.1 1.1 0 1 0 2.2 0a1.1 1.1 0 1 0-2.2 0zM339.37 152.81a1.1 1.1 0 1 0 2.2 0a1.1 1.1 0 1 0-2.2 0zM339.49 152.89a1.1 1.1 0 1 0 2.2 0a1.1 1.1 0 1 0-2.2 0zM339.61 152.83a1.1 1.1 0 1 0 2.2 0a1.1 1.1 0 1 0-2.2 0zM339.73 152.92a1.1 1.1 0 1 0 2.2 0a1.1 1.1 0 1 0-2.2 0zM339.84 153.21a1.1 1.1 0 1 0 2.2 0a1.1 1.1 0 1 0-2.2 0zM339.96 153.06a1.1 1.1 0 1 0 2.2 0a1.1 1.1 0 1 0-2.2 0zM340.08 153.18a1.1 1.1 0 1 0 2.2 0a1.1 1.1 0 1 0-2.2 0zM340.19 153.09a1.1 1.1 0 1 0 2.2 0a1.1 1.1 0 1 0-2.2 0zM340.31 153.19a1.1 1.1 0 1 0 2.2 0a1.1 1.1 0 1 0-2.2 0zM340.43 153.04a1.1 1.1 0 1 0 2.2 0a1.1 1.1 0 1 0-2.2 0zM340.54 153.28a1.1 1.1 0 1 0 2.2 0a1.1 1.1 0 1 0-2.2 0zM340.66 153.46a1.1 1.1 0 1 0 2.2 0a1.1 1.1 0 1 0-2.2 0zM340.77 153.61a1.1 1.1 0 1 0 2.2 0a1.1 1.1 0 1 0-2.2 0zM340.88 153.56a1.1 1.1 0 1 0 2.2 0a1.1 1.1 0 1 0-2.2 0zM341.00 153.56a1.1 1.1 0 1 0 2.2 0a1.1 1.1 0 1 0-2.2 0zM341.11 153.53a1.1 1.1 0 1 0 2.2 0a1.1 1.1 0 1 0-2.2 0zM341.23 153.51a1.1 1.1 0 1 0 2.2 0a1.1 1.1 0 1 0-2.2 0zM341.34 153.61a1.1 1.1 0 1 0 2.2 0a1.1 1.1 0 1 0-2.2 0zM341.45 153.74a1.1 1.1 0 1 0 2.2 0a1.1 1.1 0 1 0-2.2 0zM341.57 153.63a1.1 1.1 0 1 0 2.2 0a1.1 1.1 0 1 0-2.2 0zM341.68 153.88a1.1 1.1 0 1 0 2.2 0a1.1 1.1 0 1 0-2.2 0zM341.79 153.71a1.1 1.1 0 1 0 2.2 0a1.1 1.1 0 1 0-2.2 0zM341.90 153.66a1.1 1.1 0 1 0 2.2 0a1.1 1.1 0 1 0-2.2 0zM342.01 153.8a1.1 1.1 0 1 0 2.2 0a1.1 1.1 0 1 0-2.2 0zM342.13 153.77a1.1 1.1 0 1 0 2.2 0a1.1 1.1 0 1 0-2.2 0zM342.24 153.85a1.1 1.1 0 1 0 2.2 0a1.1 1.1 0 1 0-2.2 0zM342.35 154.19a1.1 1.1 0 1 0 2.2 0a1.1 1.1 0 1 0-2.2 0zM342.46 154.08a1.1 1.1 0 1 0 2.2 0a1.1 1.1 0 1 0-2.2 0zM342.57 154.18a1.1 1.1 0 1 0 2.2 0a1.1 1.1 0 1 0-2.2 0zM342.68 154.33a1.1 1.1 0 1 0 2.2 0a1.1 1.1 0 1 0-2.2 0zM342.79 154.39a1.1 1.1 0 1 0 2.2 0a1.1 1.1 0 1 0-2.2 0zM342.90 154.23a1.1 1.1 0 1 0 2.2 0a1.1 1.1 0 1 0-2.2 0zM343.01 154.5a1.1 1.1 0 1 0 2.2 0a1.1 1.1 0 1 0-2.2 0zM343.11 154.43a1.1 1.1 0 1 0 2.2 0a1.1 1.1 0 1 0-2.2 0zM343.22 154.43a1.1 1.1 0 1 0 2.2 0a1.1 1.1 0 1 0-2.2 0zM343.33 154.53a1.1 1.1 0 1 0 2.2 0a1.1 1.1 0 1 0-2.2 0zM343.44 154.36a1.1 1.1 0 1 0 2.2 0a1.1 1.1 0 1 0-2.2 0zM343.55 154.48a1.1 1.1 0 1 0 2.2 0a1.1 1.1 0 1 0-2.2 0zM343.66 154.61a1.1 1.1 0 1 0 2.2 0a1.1 1.1 0 1 0-2.2 0zM343.76 154.74a1.1 1.1 0 1 0 2.2 0a1.1 1.1 0 1 0-2.2 0zM343.87 154.66a1.1 1.1 0 1 0 2.2 0a1.1 1.1 0 1 0-2.2 0zM343.98 154.74a1.1 1.1 0 1 0 2.2 0a1.1 1.1 0 1 0-2.2 0zM344.08 154.92a1.1 1.1 0 1 0 2.2 0a1.1 1.1 0 1 0-2.2 0zM344.19 155.02a1.1 1.1 0 1 0 2.2 0a1.1 1.1 0 1 0-2.2 0zM344.30 154.99a1.1 1.1 0 1 0 2.2 0a1.1 1.1 0 1 0-2.2 0zM344.40 155.09a1.1 1.1 0 1 0 2.2 0a1.1 1.1 0 1 0-2.2 0zM344.51 154.93a1.1 1.1 0 1 0 2.2 0a1.1 1.1 0 1 0-2.2 0zM344.61 154.99a1.1 1.1 0 1 0 2.2 0a1.1 1.1 0 1 0-2.2 0zM344.72 155.11a1.1 1.1 0 1 0 2.2 0a1.1 1.1 0 1 0-2.2 0zM344.82 155.08a1.1 1.1 0 1 0 2.2 0a1.1 1.1 0 1 0-2.2 0zM344.93 155.1a1.1 1.1 0 1 0 2.2 0a1.1 1.1 0 1 0-2.2 0zM345.03 155.41a1.1 1.1 0 1 0 2.2 0a1.1 1.1 0 1 0-2.2 0zM345.13 155.23a1.1 1.1 0 1 0 2.2 0a1.1 1.1 0 1 0-2.2 0zM345.24 155.17a1.1 1.1 0 1 0 2.2 0a1.1 1.1 0 1 0-2.2 0zM345.34 155.4a1.1 1.1 0 1 0 2.2 0a1.1 1.1 0 1 0-2.2 0zM345.45 155.62a1.1 1.1 0 1 0 2.2 0a1.1 1.1 0 1 0-2.2 0zM345.55 155.44a1.1 1.1 0 1 0 2.2 0a1.1 1.1 0 1 0-2.2 0zM345.65 155.63a1.1 1.1 0 1 0 2.2 0a1.1 1.1 0 1 0-2.2 0zM345.75 155.46a1.1 1.1 0 1 0 2.2 0a1.1 1.1 0 1 0-2.2 0zM345.86 155.5a1.1 1.1 0 1 0 2.2 0a1.1 1.1 0 1 0-2.2 0zM345.96 155.52a1.1 1.1 0 1 0 2.2 0a1.1 1.1 0 1 0-2.2 0zM346.06 155.63a1.1 1.1 0 1 0 2.2 0a1.1 1.1 0 1 0-2.2 0zM346.16 155.93a1.1 1.1 0 1 0 2.2 0a1.1 1.1 0 1 0-2.2 0zM346.26 155.59a1.1 1.1 0 1 0 2.2 0a1.1 1.1 0 1 0-2.2 0zM346.36 155.99a1.1 1.1 0 1 0 2.2 0a1.1 1.1 0 1 0-2.2 0zM346.47 155.69a1.1 1.1 0 1 0 2.2 0a1.1 1.1 0 1 0-2.2 0zM346.57 155.83a1.1 1.1 0 1 0 2.2 0a1.1 1.1 0 1 0-2.2 0zM346.67 156.02a1.1 1.1 0 1 0 2.2 0a1.1 1.1 0 1 0-2.2 0zM346.77 156.03a1.1 1.1 0 1 0 2.2 0a1.1 1.1 0 1 0-2.2 0zM346.87 156.03a1.1 1.1 0 1 0 2.2 0a1.1 1.1 0 1 0-2.2 0zM346.97 155.82a1.1 1.1 0 1 0 2.2 0a1.1 1.1 0 1 0-2.2 0zM347.07 156.13a1.1 1.1 0 1 0 2.2 0a1.1 1.1 0 1 0-2.2 0zM347.17 155.99a1.1 1.1 0 1 0 2.2 0a1.1 1.1 0 1 0-2.2 0zM347.26 156.51a1.1 1.1 0 1 0 2.2 0a1.1 1.1 0 1 0-2.2 0zM347.36 156.18a1.1 1.1 0 1 0 2.2 0a1.1 1.1 0 1 0-2.2 0zM347.46 156.27a1.1 1.1 0 1 0 2.2 0a1.1 1.1 0 1 0-2.2 0zM347.56 156.14a1.1 1.1 0 1 0 2.2 0a1.1 1.1 0 1 0-2.2 0zM347.66 156.27a1.1 1.1 0 1 0 2.2 0a1.1 1.1 0 1 0-2.2 0zM347.76 156.2a1.1 1.1 0 1 0 2.2 0a1.1 1.1 0 1 0-2.2 0zM347.85 156.55a1.1 1.1 0 1 0 2.2 0a1.1 1.1 0 1 0-2.2 0zM347.95 156.42a1.1 1.1 0 1 0 2.2 0a1.1 1.1 0 1 0-2.2 0zM348.05 156.58a1.1 1.1 0 1 0 2.2 0a1.1 1.1 0 1 0-2.2 0zM348.15 156.45a1.1 1.1 0 1 0 2.2 0a1.1 1.1 0 1 0-2.2 0zM348.24 156.52a1.1 1.1 0 1 0 2.2 0a1.1 1.1 0 1 0-2.2 0zM348.34 156.8a1.1 1.1 0 1 0 2.2 0a1.1 1.1 0 1 0-2.2 0zM348.44 156.53a1.1 1.1 0 1 0 2.2 0a1.1 1.1 0 1 0-2.2 0zM348.53 156.46a1.1 1.1 0 1 0 2.2 0a1.1 1.1 0 1 0-2.2 0zM348.63 156.81a1.1 1.1 0 1 0 2.2 0a1.1 1.1 0 1 0-2.2 0zM348.73 156.63a1.1 1.1 0 1 0 2.2 0a1.1 1.1 0 1 0-2.2 0zM348.82 156.77a1.1 1.1 0 1 0 2.2 0a1.1 1.1 0 1 0-2.2 0zM348.92 157.0a1.1 1.1 0 1 0 2.2 0a1.1 1.1 0 1 0-2.2 0zM349.01 156.8a1.1 1.1 0 1 0 2.2 0a1.1 1.1 0 1 0-2.2 0zM349.11 157.08a1.1 1.1 0 1 0 2.2 0a1.1 1.1 0 1 0-2.2 0zM349.20 156.9a1.1 1.1 0 1 0 2.2 0a1.1 1.1 0 1 0-2.2 0zM349.30 157.25a1.1 1.1 0 1 0 2.2 0a1.1 1.1 0 1 0-2.2 0zM349.39 157.27a1.1 1.1 0 1 0 2.2 0a1.1 1.1 0 1 0-2.2 0zM349.49 157.05a1.1 1.1 0 1 0 2.2 0a1.1 1.1 0 1 0-2.2 0zM349.58 157.13a1.1 1.1 0 1 0 2.2 0a1.1 1.1 0 1 0-2.2 0zM349.67 157.08a1.1 1.1 0 1 0 2.2 0a1.1 1.1 0 1 0-2.2 0zM349.77 157.27a1.1 1.1 0 1 0 2.2 0a1.1 1.1 0 1 0-2.2 0zM349.86 157.45a1.1 1.1 0 1 0 2.2 0a1.1 1.1 0 1 0-2.2 0zM349.95 157.11a1.1 1.1 0 1 0 2.2 0a1.1 1.1 0 1 0-2.2 0zM350.05 157.49a1.1 1.1 0 1 0 2.2 0a1.1 1.1 0 1 0-2.2 0zM350.14 157.2a1.1 1.1 0 1 0 2.2 0a1.1 1.1 0 1 0-2.2 0zM350.23 157.31a1.1 1.1 0 1 0 2.2 0a1.1 1.1 0 1 0-2.2 0zM350.33 157.21a1.1 1.1 0 1 0 2.2 0a1.1 1.1 0 1 0-2.2 0zM350.42 157.83a1.1 1.1 0 1 0 2.2 0a1.1 1.1 0 1 0-2.2 0zM350.51 157.56a1.1 1.1 0 1 0 2.2 0a1.1 1.1 0 1 0-2.2 0zM350.60 157.63a1.1 1.1 0 1 0 2.2 0a1.1 1.1 0 1 0-2.2 0zM350.69 157.53a1.1 1.1 0 1 0 2.2 0a1.1 1.1 0 1 0-2.2 0zM350.79 157.83a1.1 1.1 0 1 0 2.2 0a1.1 1.1 0 1 0-2.2 0zM350.88 157.4a1.1 1.1 0 1 0 2.2 0a1.1 1.1 0 1 0-2.2 0zM350.97 157.76a1.1 1.1 0 1 0 2.2 0a1.1 1.1 0 1 0-2.2 0zM351.06 158.13a1.1 1.1 0 1 0 2.2 0a1.1 1.1 0 1 0-2.2 0zM351.15 157.77a1.1 1.1 0 1 0 2.2 0a1.1 1.1 0 1 0-2.2 0zM351.24 157.87a1.1 1.1 0 1 0 2.2 0a1.1 1.1 0 1 0-2.2 0zM351.33 158.01a1.1 1.1 0 1 0 2.2 0a1.1 1.1 0 1 0-2.2 0zM351.42 157.82a1.1 1.1 0 1 0 2.2 0a1.1 1.1 0 1 0-2.2 0zM351.51 157.99a1.1 1.1 0 1 0 2.2 0a1.1 1.1 0 1 0-2.2 0zM351.60 158.17a1.1 1.1 0 1 0 2.2 0a1.1 1.1 0 1 0-2.2 0zM351.69 158.09a1.1 1.1 0 1 0 2.2 0a1.1 1.1 0 1 0-2.2 0zM351.78 158.16a1.1 1.1 0 1 0 2.2 0a1.1 1.1 0 1 0-2.2 0zM351.87 158.08a1.1 1.1 0 1 0 2.2 0a1.1 1.1 0 1 0-2.2 0zM351.96 158.23a1.1 1.1 0 1 0 2.2 0a1.1 1.1 0 1 0-2.2 0zM352.05 158.22a1.1 1.1 0 1 0 2.2 0a1.1 1.1 0 1 0-2.2 0zM352.14 158.48a1.1 1.1 0 1 0 2.2 0a1.1 1.1 0 1 0-2.2 0zM352.23 158.41a1.1 1.1 0 1 0 2.2 0a1.1 1.1 0 1 0-2.2 0zM352.31 158.29a1.1 1.1 0 1 0 2.2 0a1.1 1.1 0 1 0-2.2 0zM352.40 157.98a1.1 1.1 0 1 0 2.2 0a1.1 1.1 0 1 0-2.2 0zM352.49 158.52a1.1 1.1 0 1 0 2.2 0a1.1 1.1 0 1 0-2.2 0zM352.58 158.56a1.1 1.1 0 1 0 2.2 0a1.1 1.1 0 1 0-2.2 0zM352.67 158.33a1.1 1.1 0 1 0 2.2 0a1.1 1.1 0 1 0-2.2 0zM352.75 158.19a1.1 1.1 0 1 0 2.2 0a1.1 1.1 0 1 0-2.2 0zM352.84 158.37a1.1 1.1 0 1 0 2.2 0a1.1 1.1 0 1 0-2.2 0zM352.93 158.74a1.1 1.1 0 1 0 2.2 0a1.1 1.1 0 1 0-2.2 0zM353.02 158.46a1.1 1.1 0 1 0 2.2 0a1.1 1.1 0 1 0-2.2 0zM353.10 158.59a1.1 1.1 0 1 0 2.2 0a1.1 1.1 0 1 0-2.2 0zM353.19 158.74a1.1 1.1 0 1 0 2.2 0a1.1 1.1 0 1 0-2.2 0zM353.28 158.94a1.1 1.1 0 1 0 2.2 0a1.1 1.1 0 1 0-2.2 0zM353.36 158.78a1.1 1.1 0 1 0 2.2 0a1.1 1.1 0 1 0-2.2 0zM353.45 158.8a1.1 1.1 0 1 0 2.2 0a1.1 1.1 0 1 0-2.2 0zM353.53 158.76a1.1 1.1 0 1 0 2.2 0a1.1 1.1 0 1 0-2.2 0zM353.62 159.16a1.1 1.1 0 1 0 2.2 0a1.1 1.1 0 1 0-2.2 0zM353.71 159.1a1.1 1.1 0 1 0 2.2 0a1.1 1.1 0 1 0-2.2 0zM353.79 158.95a1.1 1.1 0 1 0 2.2 0a1.1 1.1 0 1 0-2.2 0zM353.88 158.76a1.1 1.1 0 1 0 2.2 0a1.1 1.1 0 1 0-2.2 0zM353.96 158.9a1.1 1.1 0 1 0 2.2 0a1.1 1.1 0 1 0-2.2 0zM354.05 159.17a1.1 1.1 0 1 0 2.2 0a1.1 1.1 0 1 0-2.2 0zM354.13 158.99a1.1 1.1 0 1 0 2.2 0a1.1 1.1 0 1 0-2.2 0zM354.22 159.3a1.1 1.1 0 1 0 2.2 0a1.1 1.1 0 1 0-2.2 0zM354.30 159.24a1.1 1.1 0 1 0 2.2 0a1.1 1.1 0 1 0-2.2 0zM354.39 159.27a1.1 1.1 0 1 0 2.2 0a1.1 1.1 0 1 0-2.2 0zM354.47 159.37a1.1 1.1 0 1 0 2.2 0a1.1 1.1 0 1 0-2.2 0zM354.55 159.38a1.1 1.1 0 1 0 2.2 0a1.1 1.1 0 1 0-2.2 0zM354.64 159.18a1.1 1.1 0 1 0 2.2 0a1.1 1.1 0 1 0-2.2 0zM354.72 159.3a1.1 1.1 0 1 0 2.2 0a1.1 1.1 0 1 0-2.2 0zM354.81 159.8a1.1 1.1 0 1 0 2.2 0a1.1 1.1 0 1 0-2.2 0zM354.89 159.22a1.1 1.1 0 1 0 2.2 0a1.1 1.1 0 1 0-2.2 0zM354.97 159.39a1.1 1.1 0 1 0 2.2 0a1.1 1.1 0 1 0-2.2 0zM355.06 159.69a1.1 1.1 0 1 0 2.2 0a1.1 1.1 0 1 0-2.2 0zM355.14 159.51a1.1 1.1 0 1 0 2.2 0a1.1 1.1 0 1 0-2.2 0zM355.22 159.43a1.1 1.1 0 1 0 2.2 0a1.1 1.1 0 1 0-2.2 0zM355.30 159.38a1.1 1.1 0 1 0 2.2 0a1.1 1.1 0 1 0-2.2 0zM355.39 159.74a1.1 1.1 0 1 0 2.2 0a1.1 1.1 0 1 0-2.2 0zM355.47 159.86a1.1 1.1 0 1 0 2.2 0a1.1 1.1 0 1 0-2.2 0zM355.55 159.97a1.1 1.1 0 1 0 2.2 0a1.1 1.1 0 1 0-2.2 0zM355.63 159.76a1.1 1.1 0 1 0 2.2 0a1.1 1.1 0 1 0-2.2 0zM355.72 159.98a1.1 1.1 0 1 0 2.2 0a1.1 1.1 0 1 0-2.2 0zM355.80 159.63a1.1 1.1 0 1 0 2.2 0a1.1 1.1 0 1 0-2.2 0zM355.88 159.89a1.1 1.1 0 1 0 2.2 0a1.1 1.1 0 1 0-2.2 0zM355.96 159.77a1.1 1.1 0 1 0 2.2 0a1.1 1.1 0 1 0-2.2 0zM356.04 159.96a1.1 1.1 0 1 0 2.2 0a1.1 1.1 0 1 0-2.2 0zM356.12 160.1a1.1 1.1 0 1 0 2.2 0a1.1 1.1 0 1 0-2.2 0zM356.20 160.19a1.1 1.1 0 1 0 2.2 0a1.1 1.1 0 1 0-2.2 0zM356.29 159.85a1.1 1.1 0 1 0 2.2 0a1.1 1.1 0 1 0-2.2 0zM356.37 160.3a1.1 1.1 0 1 0 2.2 0a1.1 1.1 0 1 0-2.2 0zM356.45 160.01a1.1 1.1 0 1 0 2.2 0a1.1 1.1 0 1 0-2.2 0zM356.53 159.94a1.1 1.1 0 1 0 2.2 0a1.1 1.1 0 1 0-2.2 0zM356.61 160.14a1.1 1.1 0 1 0 2.2 0a1.1 1.1 0 1 0-2.2 0zM356.69 159.93a1.1 1.1 0 1 0 2.2 0a1.1 1.1 0 1 0-2.2 0zM356.77 160.24a1.1 1.1 0 1 0 2.2 0a1.1 1.1 0 1 0-2.2 0zM356.85 160.33a1.1 1.1 0 1 0 2.2 0a1.1 1.1 0 1 0-2.2 0zM356.93 160.27a1.1 1.1 0 1 0 2.2 0a1.1 1.1 0 1 0-2.2 0zM357.01 160.44a1.1 1.1 0 1 0 2.2 0a1.1 1.1 0 1 0-2.2 0zM357.09 160.31a1.1 1.1 0 1 0 2.2 0a1.1 1.1 0 1 0-2.2 0zM357.17 160.41a1.1 1.1 0 1 0 2.2 0a1.1 1.1 0 1 0-2.2 0zM357.24 160.17a1.1 1.1 0 1 0 2.2 0a1.1 1.1 0 1 0-2.2 0zM357.32 160.48a1.1 1.1 0 1 0 2.2 0a1.1 1.1 0 1 0-2.2 0zM357.40 160.35a1.1 1.1 0 1 0 2.2 0a1.1 1.1 0 1 0-2.2 0zM357.48 160.46a1.1 1.1 0 1 0 2.2 0a1.1 1.1 0 1 0-2.2 0zM357.56 160.56a1.1 1.1 0 1 0 2.2 0a1.1 1.1 0 1 0-2.2 0zM357.64 160.65a1.1 1.1 0 1 0 2.2 0a1.1 1.1 0 1 0-2.2 0zM357.72 160.32a1.1 1.1 0 1 0 2.2 0a1.1 1.1 0 1 0-2.2 0zM357.79 160.37a1.1 1.1 0 1 0 2.2 0a1.1 1.1 0 1 0-2.2 0zM357.87 160.65a1.1 1.1 0 1 0 2.2 0a1.1 1.1 0 1 0-2.2 0zM357.95 160.84a1.1 1.1 0 1 0 2.2 0a1.1 1.1 0 1 0-2.2 0zM358.03 160.85a1.1 1.1 0 1 0 2.2 0a1.1 1.1 0 1 0-2.2 0zM358.11 160.99a1.1 1.1 0 1 0 2.2 0a1.1 1.1 0 1 0-2.2 0zM358.18 161.1a1.1 1.1 0 1 0 2.2 0a1.1 1.1 0 1 0-2.2 0zM358.26 160.98a1.1 1.1 0 1 0 2.2 0a1.1 1.1 0 1 0-2.2 0zM358.34 160.91a1.1 1.1 0 1 0 2.2 0a1.1 1.1 0 1 0-2.2 0zM358.42 160.74a1.1 1.1 0 1 0 2.2 0a1.1 1.1 0 1 0-2.2 0zM358.49 160.79a1.1 1.1 0 1 0 2.2 0a1.1 1.1 0 1 0-2.2 0zM358.57 160.92a1.1 1.1 0 1 0 2.2 0a1.1 1.1 0 1 0-2.2 0zM358.65 161.1a1.1 1.1 0 1 0 2.2 0a1.1 1.1 0 1 0-2.2 0zM358.72 161.12a1.1 1.1 0 1 0 2.2 0a1.1 1.1 0 1 0-2.2 0zM358.80 161.11a1.1 1.1 0 1 0 2.2 0a1.1 1.1 0 1 0-2.2 0zM358.87 161.11a1.1 1.1 0 1 0 2.2 0a1.1 1.1 0 1 0-2.2 0zM358.95 161.3a1.1 1.1 0 1 0 2.2 0a1.1 1.1 0 1 0-2.2 0zM359.03 161.25a1.1 1.1 0 1 0 2.2 0a1.1 1.1 0 1 0-2.2 0zM359.10 161.3a1.1 1.1 0 1 0 2.2 0a1.1 1.1 0 1 0-2.2 0zM359.18 161.33a1.1 1.1 0 1 0 2.2 0a1.1 1.1 0 1 0-2.2 0zM359.25 161.19a1.1 1.1 0 1 0 2.2 0a1.1 1.1 0 1 0-2.2 0zM359.33 161.12a1.1 1.1 0 1 0 2.2 0a1.1 1.1 0 1 0-2.2 0zM359.41 161.47a1.1 1.1 0 1 0 2.2 0a1.1 1.1 0 1 0-2.2 0zM359.48 161.49a1.1 1.1 0 1 0 2.2 0a1.1 1.1 0 1 0-2.2 0zM359.56 161.39a1.1 1.1 0 1 0 2.2 0a1.1 1.1 0 1 0-2.2 0zM359.63 161.38a1.1 1.1 0 1 0 2.2 0a1.1 1.1 0 1 0-2.2 0zM359.71 161.98a1.1 1.1 0 1 0 2.2 0a1.1 1.1 0 1 0-2.2 0zM359.78 161.37a1.1 1.1 0 1 0 2.2 0a1.1 1.1 0 1 0-2.2 0zM359.86 161.51a1.1 1.1 0 1 0 2.2 0a1.1 1.1 0 1 0-2.2 0zM359.93 161.65a1.1 1.1 0 1 0 2.2 0a1.1 1.1 0 1 0-2.2 0zM360.00 161.38a1.1 1.1 0 1 0 2.2 0a1.1 1.1 0 1 0-2.2 0zM360.08 161.68a1.1 1.1 0 1 0 2.2 0a1.1 1.1 0 1 0-2.2 0zM360.15 162.07a1.1 1.1 0 1 0 2.2 0a1.1 1.1 0 1 0-2.2 0zM360.23 161.92a1.1 1.1 0 1 0 2.2 0a1.1 1.1 0 1 0-2.2 0zM360.30 161.89a1.1 1.1 0 1 0 2.2 0a1.1 1.1 0 1 0-2.2 0zM360.37 161.91a1.1 1.1 0 1 0 2.2 0a1.1 1.1 0 1 0-2.2 0zM360.45 161.84a1.1 1.1 0 1 0 2.2 0a1.1 1.1 0 1 0-2.2 0zM360.52 162.05a1.1 1.1 0 1 0 2.2 0a1.1 1.1 0 1 0-2.2 0zM360.59 161.84a1.1 1.1 0 1 0 2.2 0a1.1 1.1 0 1 0-2.2 0zM360.67 161.82a1.1 1.1 0 1 0 2.2 0a1.1 1.1 0 1 0-2.2 0zM360.74 161.96a1.1 1.1 0 1 0 2.2 0a1.1 1.1 0 1 0-2.2 0zM360.81 162.17a1.1 1.1 0 1 0 2.2 0a1.1 1.1 0 1 0-2.2 0zM360.89 162.08a1.1 1.1 0 1 0 2.2 0a1.1 1.1 0 1 0-2.2 0zM360.96 162.18a1.1 1.1 0 1 0 2.2 0a1.1 1.1 0 1 0-2.2 0zM361.03 161.62a1.1 1.1 0 1 0 2.2 0a1.1 1.1 0 1 0-2.2 0zM361.11 162.36a1.1 1.1 0 1 0 2.2 0a1.1 1.1 0 1 0-2.2 0zM361.18 162.65a1.1 1.1 0 1 0 2.2 0a1.1 1.1 0 1 0-2.2 0zM361.25 162.46a1.1 1.1 0 1 0 2.2 0a1.1 1.1 0 1 0-2.2 0zM361.32 162.12a1.1 1.1 0 1 0 2.2 0a1.1 1.1 0 1 0-2.2 0zM361.39 162.03a1.1 1.1 0 1 0 2.2 0a1.1 1.1 0 1 0-2.2 0zM361.47 162.31a1.1 1.1 0 1 0 2.2 0a1.1 1.1 0 1 0-2.2 0zM361.54 162.06a1.1 1.1 0 1 0 2.2 0a1.1 1.1 0 1 0-2.2 0zM361.61 162.48a1.1 1.1 0 1 0 2.2 0a1.1 1.1 0 1 0-2.2 0zM361.68 162.22a1.1 1.1 0 1 0 2.2 0a1.1 1.1 0 1 0-2.2 0zM361.75 162.59a1.1 1.1 0 1 0 2.2 0a1.1 1.1 0 1 0-2.2 0zM361.82 162.72a1.1 1.1 0 1 0 2.2 0a1.1 1.1 0 1 0-2.2 0zM361.90 161.97a1.1 1.1 0 1 0 2.2 0a1.1 1.1 0 1 0-2.2 0zM361.97 162.53a1.1 1.1 0 1 0 2.2 0a1.1 1.1 0 1 0-2.2 0zM362.04 162.33a1.1 1.1 0 1 0 2.2 0a1.1 1.1 0 1 0-2.2 0zM362.11 162.2a1.1 1.1 0 1 0 2.2 0a1.1 1.1 0 1 0-2.2 0zM362.18 162.41a1.1 1.1 0 1 0 2.2 0a1.1 1.1 0 1 0-2.2 0zM362.25 162.54a1.1 1.1 0 1 0 2.2 0a1.1 1.1 0 1 0-2.2 0zM362.32 162.86a1.1 1.1 0 1 0 2.2 0a1.1 1.1 0 1 0-2.2 0zM362.39 162.29a1.1 1.1 0 1 0 2.2 0a1.1 1.1 0 1 0-2.2 0zM362.46 162.92a1.1 1.1 0 1 0 2.2 0a1.1 1.1 0 1 0-2.2 0zM362.53 163.18a1.1 1.1 0 1 0 2.2 0a1.1 1.1 0 1 0-2.2 0zM362.60 162.88a1.1 1.1 0 1 0 2.2 0a1.1 1.1 0 1 0-2.2 0zM362.67 162.9a1.1 1.1 0 1 0 2.2 0a1.1 1.1 0 1 0-2.2 0zM362.74 162.79a1.1 1.1 0 1 0 2.2 0a1.1 1.1 0 1 0-2.2 0zM362.81 162.55a1.1 1.1 0 1 0 2.2 0a1.1 1.1 0 1 0-2.2 0zM362.88 162.99a1.1 1.1 0 1 0 2.2 0a1.1 1.1 0 1 0-2.2 0zM362.95 162.98a1.1 1.1 0 1 0 2.2 0a1.1 1.1 0 1 0-2.2 0zM363.02 163.09a1.1 1.1 0 1 0 2.2 0a1.1 1.1 0 1 0-2.2 0zM363.09 163.57a1.1 1.1 0 1 0 2.2 0a1.1 1.1 0 1 0-2.2 0zM363.16 163.15a1.1 1.1 0 1 0 2.2 0a1.1 1.1 0 1 0-2.2 0zM363.23 163.11a1.1 1.1 0 1 0 2.2 0a1.1 1.1 0 1 0-2.2 0zM363.30 163.42a1.1 1.1 0 1 0 2.2 0a1.1 1.1 0 1 0-2.2 0zM363.37 162.74a1.1 1.1 0 1 0 2.2 0a1.1 1.1 0 1 0-2.2 0zM363.44 162.82a1.1 1.1 0 1 0 2.2 0a1.1 1.1 0 1 0-2.2 0zM363.50 163.03a1.1 1.1 0 1 0 2.2 0a1.1 1.1 0 1 0-2.2 0zM363.57 162.99a1.1 1.1 0 1 0 2.2 0a1.1 1.1 0 1 0-2.2 0zM363.64 163.35a1.1 1.1 0 1 0 2.2 0a1.1 1.1 0 1 0-2.2 0zM363.71 163.13a1.1 1.1 0 1 0 2.2 0a1.1 1.1 0 1 0-2.2 0zM363.78 163.67a1.1 1.1 0 1 0 2.2 0a1.1 1.1 0 1 0-2.2 0zM363.85 163.65a1.1 1.1 0 1 0 2.2 0a1.1 1.1 0 1 0-2.2 0zM363.91 163.49a1.1 1.1 0 1 0 2.2 0a1.1 1.1 0 1 0-2.2 0zM363.98 163.23a1.1 1.1 0 1 0 2.2 0a1.1 1.1 0 1 0-2.2 0zM364.05 163.51a1.1 1.1 0 1 0 2.2 0a1.1 1.1 0 1 0-2.2 0zM364.12 163.59a1.1 1.1 0 1 0 2.2 0a1.1 1.1 0 1 0-2.2 0zM364.19 163.15a1.1 1.1 0 1 0 2.2 0a1.1 1.1 0 1 0-2.2 0zM364.25 163.53a1.1 1.1 0 1 0 2.2 0a1.1 1.1 0 1 0-2.2 0zM364.32 163.65a1.1 1.1 0 1 0 2.2 0a1.1 1.1 0 1 0-2.2 0zM364.39 163.56a1.1 1.1 0 1 0 2.2 0a1.1 1.1 0 1 0-2.2 0zM364.46 163.93a1.1 1.1 0 1 0 2.2 0a1.1 1.1 0 1 0-2.2 0zM364.52 163.87a1.1 1.1 0 1 0 2.2 0a1.1 1.1 0 1 0-2.2 0zM364.59 163.38a1.1 1.1 0 1 0 2.2 0a1.1 1.1 0 1 0-2.2 0zM364.66 163.65a1.1 1.1 0 1 0 2.2 0a1.1 1.1 0 1 0-2.2 0zM364.72 163.43a1.1 1.1 0 1 0 2.2 0a1.1 1.1 0 1 0-2.2 0zM364.79 163.83a1.1 1.1 0 1 0 2.2 0a1.1 1.1 0 1 0-2.2 0zM364.86 163.48a1.1 1.1 0 1 0 2.2 0a1.1 1.1 0 1 0-2.2 0zM364.92 163.97a1.1 1.1 0 1 0 2.2 0a1.1 1.1 0 1 0-2.2 0zM364.99 163.86a1.1 1.1 0 1 0 2.2 0a1.1 1.1 0 1 0-2.2 0zM365.06 164.04a1.1 1.1 0 1 0 2.2 0a1.1 1.1 0 1 0-2.2 0zM365.12 163.78a1.1 1.1 0 1 0 2.2 0a1.1 1.1 0 1 0-2.2 0zM365.19 163.46a1.1 1.1 0 1 0 2.2 0a1.1 1.1 0 1 0-2.2 0zM365.25 164.34a1.1 1.1 0 1 0 2.2 0a1.1 1.1 0 1 0-2.2 0zM365.32 163.86a1.1 1.1 0 1 0 2.2 0a1.1 1.1 0 1 0-2.2 0zM365.39 164.3a1.1 1.1 0 1 0 2.2 0a1.1 1.1 0 1 0-2.2 0zM365.45 164.07a1.1 1.1 0 1 0 2.2 0a1.1 1.1 0 1 0-2.2 0zM365.52 164.17a1.1 1.1 0 1 0 2.2 0a1.1 1.1 0 1 0-2.2 0zM365.58 164.5a1.1 1.1 0 1 0 2.2 0a1.1 1.1 0 1 0-2.2 0zM365.65 164.13a1.1 1.1 0 1 0 2.2 0a1.1 1.1 0 1 0-2.2 0zM365.71 164.45a1.1 1.1 0 1 0 2.2 0a1.1 1.1 0 1 0-2.2 0zM365.78 163.7a1.1 1.1 0 1 0 2.2 0a1.1 1.1 0 1 0-2.2 0zM365.84 164.36a1.1 1.1 0 1 0 2.2 0a1.1 1.1 0 1 0-2.2 0zM365.91 164.09a1.1 1.1 0 1 0 2.2 0a1.1 1.1 0 1 0-2.2 0zM365.98 164.15a1.1 1.1 0 1 0 2.2 0a1.1 1.1 0 1 0-2.2 0zM366.04 164.21a1.1 1.1 0 1 0 2.2 0a1.1 1.1 0 1 0-2.2 0zM366.10 164.33a1.1 1.1 0 1 0 2.2 0a1.1 1.1 0 1 0-2.2 0zM366.17 164.72a1.1 1.1 0 1 0 2.2 0a1.1 1.1 0 1 0-2.2 0zM366.23 163.79a1.1 1.1 0 1 0 2.2 0a1.1 1.1 0 1 0-2.2 0zM366.30 164.33a1.1 1.1 0 1 0 2.2 0a1.1 1.1 0 1 0-2.2 0zM366.36 164.15a1.1 1.1 0 1 0 2.2 0a1.1 1.1 0 1 0-2.2 0zM366.43 164.7a1.1 1.1 0 1 0 2.2 0a1.1 1.1 0 1 0-2.2 0zM366.49 164.29a1.1 1.1 0 1 0 2.2 0a1.1 1.1 0 1 0-2.2 0zM366.56 164.56a1.1 1.1 0 1 0 2.2 0a1.1 1.1 0 1 0-2.2 0zM366.62 164.35a1.1 1.1 0 1 0 2.2 0a1.1 1.1 0 1 0-2.2 0zM366.68 164.67a1.1 1.1 0 1 0 2.2 0a1.1 1.1 0 1 0-2.2 0zM366.75 164.8a1.1 1.1 0 1 0 2.2 0a1.1 1.1 0 1 0-2.2 0zM366.81 164.43a1.1 1.1 0 1 0 2.2 0a1.1 1.1 0 1 0-2.2 0zM366.88 164.58a1.1 1.1 0 1 0 2.2 0a1.1 1.1 0 1 0-2.2 0zM366.94 164.2a1.1 1.1 0 1 0 2.2 0a1.1 1.1 0 1 0-2.2 0zM367.00 164.71a1.1 1.1 0 1 0 2.2 0a1.1 1.1 0 1 0-2.2 0zM367.07 164.89a1.1 1.1 0 1 0 2.2 0a1.1 1.1 0 1 0-2.2 0zM367.13 164.52a1.1 1.1 0 1 0 2.2 0a1.1 1.1 0 1 0-2.2 0zM367.19 165.02a1.1 1.1 0 1 0 2.2 0a1.1 1.1 0 1 0-2.2 0zM367.26 164.14a1.1 1.1 0 1 0 2.2 0a1.1 1.1 0 1 0-2.2 0zM367.32 164.23a1.1 1.1 0 1 0 2.2 0a1.1 1.1 0 1 0-2.2 0zM367.38 164.39a1.1 1.1 0 1 0 2.2 0a1.1 1.1 0 1 0-2.2 0zM367.44 164.67a1.1 1.1 0 1 0 2.2 0a1.1 1.1 0 1 0-2.2 0zM367.51 164.85a1.1 1.1 0 1 0 2.2 0a1.1 1.1 0 1 0-2.2 0zM367.57 164.84a1.1 1.1 0 1 0 2.2 0a1.1 1.1 0 1 0-2.2 0zM367.63 164.87a1.1 1.1 0 1 0 2.2 0a1.1 1.1 0 1 0-2.2 0zM367.70 165.13a1.1 1.1 0 1 0 2.2 0a1.1 1.1 0 1 0-2.2 0zM367.76 164.81a1.1 1.1 0 1 0 2.2 0a1.1 1.1 0 1 0-2.2 0zM367.82 164.61a1.1 1.1 0 1 0 2.2 0a1.1 1.1 0 1 0-2.2 0zM367.88 164.64a1.1 1.1 0 1 0 2.2 0a1.1 1.1 0 1 0-2.2 0zM367.94 165.65a1.1 1.1 0 1 0 2.2 0a1.1 1.1 0 1 0-2.2 0zM368.01 164.36a1.1 1.1 0 1 0 2.2 0a1.1 1.1 0 1 0-2.2 0zM368.07 165.03a1.1 1.1 0 1 0 2.2 0a1.1 1.1 0 1 0-2.2 0zM368.13 165.54a1.1 1.1 0 1 0 2.2 0a1.1 1.1 0 1 0-2.2 0zM368.19 165.28a1.1 1.1 0 1 0 2.2 0a1.1 1.1 0 1 0-2.2 0zM368.25 164.91a1.1 1.1 0 1 0 2.2 0a1.1 1.1 0 1 0-2.2 0zM368.32 165.19a1.1 1.1 0 1 0 2.2 0a1.1 1.1 0 1 0-2.2 0zM368.38 165.47a1.1 1.1 0 1 0 2.2 0a1.1 1.1 0 1 0-2.2 0zM368.44 165.6a1.1 1.1 0 1 0 2.2 0a1.1 1.1 0 1 0-2.2 0zM368.50 165.0a1.1 1.1 0 1 0 2.2 0a1.1 1.1 0 1 0-2.2 0zM368.56 165.52a1.1 1.1 0 1 0 2.2 0a1.1 1.1 0 1 0-2.2 0zM368.62 165.39a1.1 1.1 0 1 0 2.2 0a1.1 1.1 0 1 0-2.2 0zM368.68 165.68a1.1 1.1 0 1 0 2.2 0a1.1 1.1 0 1 0-2.2 0zM368.75 165.79a1.1 1.1 0 1 0 2.2 0a1.1 1.1 0 1 0-2.2 0zM368.81 165.29a1.1 1.1 0 1 0 2.2 0a1.1 1.1 0 1 0-2.2 0zM368.87 164.98a1.1 1.1 0 1 0 2.2 0a1.1 1.1 0 1 0-2.2 0zM368.93 165.57a1.1 1.1 0 1 0 2.2 0a1.1 1.1 0 1 0-2.2 0zM368.99 166.02a1.1 1.1 0 1 0 2.2 0a1.1 1.1 0 1 0-2.2 0zM369.05 165.71a1.1 1.1 0 1 0 2.2 0a1.1 1.1 0 1 0-2.2 0zM369.11 165.6a1.1 1.1 0 1 0 2.2 0a1.1 1.1 0 1 0-2.2 0zM369.17 166.29a1.1 1.1 0 1 0 2.2 0a1.1 1.1 0 1 0-2.2 0zM369.23 165.26a1.1 1.1 0 1 0 2.2 0a1.1 1.1 0 1 0-2.2 0zM369.29 165.88a1.1 1.1 0 1 0 2.2 0a1.1 1.1 0 1 0-2.2 0zM369.35 165.45a1.1 1.1 0 1 0 2.2 0a1.1 1.1 0 1 0-2.2 0zM369.41 165.67a1.1 1.1 0 1 0 2.2 0a1.1 1.1 0 1 0-2.2 0zM369.47 165.71a1.1 1.1 0 1 0 2.2 0a1.1 1.1 0 1 0-2.2 0zM369.53 166.18a1.1 1.1 0 1 0 2.2 0a1.1 1.1 0 1 0-2.2 0zM369.59 165.44a1.1 1.1 0 1 0 2.2 0a1.1 1.1 0 1 0-2.2 0zM369.65 165.59a1.1 1.1 0 1 0 2.2 0a1.1 1.1 0 1 0-2.2 0zM369.71 165.28a1.1 1.1 0 1 0 2.2 0a1.1 1.1 0 1 0-2.2 0zM369.77 165.96a1.1 1.1 0 1 0 2.2 0a1.1 1.1 0 1 0-2.2 0zM369.83 165.69a1.1 1.1 0 1 0 2.2 0a1.1 1.1 0 1 0-2.2 0zM369.89 166.0a1.1 1.1 0 1 0 2.2 0a1.1 1.1 0 1 0-2.2 0zM369.95 165.54a1.1 1.1 0 1 0 2.2 0a1.1 1.1 0 1 0-2.2 0zM370.01 165.8a1.1 1.1 0 1 0 2.2 0a1.1 1.1 0 1 0-2.2 0zM370.07 166.27a1.1 1.1 0 1 0 2.2 0a1.1 1.1 0 1 0-2.2 0zM370.13 165.91a1.1 1.1 0 1 0 2.2 0a1.1 1.1 0 1 0-2.2 0zM370.19 166.19a1.1 1.1 0 1 0 2.2 0a1.1 1.1 0 1 0-2.2 0zM370.25 166.18a1.1 1.1 0 1 0 2.2 0a1.1 1.1 0 1 0-2.2 0zM370.30 165.92a1.1 1.1 0 1 0 2.2 0a1.1 1.1 0 1 0-2.2 0zM370.36 165.56a1.1 1.1 0 1 0 2.2 0a1.1 1.1 0 1 0-2.2 0zM370.42 166.41a1.1 1.1 0 1 0 2.2 0a1.1 1.1 0 1 0-2.2 0zM370.48 166.17a1.1 1.1 0 1 0 2.2 0a1.1 1.1 0 1 0-2.2 0zM370.54 166.46a1.1 1.1 0 1 0 2.2 0a1.1 1.1 0 1 0-2.2 0zM370.60 165.51a1.1 1.1 0 1 0 2.2 0a1.1 1.1 0 1 0-2.2 0zM370.66 165.65a1.1 1.1 0 1 0 2.2 0a1.1 1.1 0 1 0-2.2 0zM370.71 165.51a1.1 1.1 0 1 0 2.2 0a1.1 1.1 0 1 0-2.2 0zM370.77 165.95a1.1 1.1 0 1 0 2.2 0a1.1 1.1 0 1 0-2.2 0zM370.83 166.61a1.1 1.1 0 1 0 2.2 0a1.1 1.1 0 1 0-2.2 0zM370.89 166.48a1.1 1.1 0 1 0 2.2 0a1.1 1.1 0 1 0-2.2 0zM370.95 166.3a1.1 1.1 0 1 0 2.2 0a1.1 1.1 0 1 0-2.2 0zM371.01 166.38a1.1 1.1 0 1 0 2.2 0a1.1 1.1 0 1 0-2.2 0zM371.06 166.62a1.1 1.1 0 1 0 2.2 0a1.1 1.1 0 1 0-2.2 0zM371.12 166.29a1.1 1.1 0 1 0 2.2 0a1.1 1.1 0 1 0-2.2 0zM371.18 166.55a1.1 1.1 0 1 0 2.2 0a1.1 1.1 0 1 0-2.2 0zM371.24 166.49a1.1 1.1 0 1 0 2.2 0a1.1 1.1 0 1 0-2.2 0zM371.29 165.73a1.1 1.1 0 1 0 2.2 0a1.1 1.1 0 1 0-2.2 0zM371.35 166.36a1.1 1.1 0 1 0 2.2 0a1.1 1.1 0 1 0-2.2 0zM371.41 166.97a1.1 1.1 0 1 0 2.2 0a1.1 1.1 0 1 0-2.2 0zM371.47 166.4a1.1 1.1 0 1 0 2.2 0a1.1 1.1 0 1 0-2.2 0zM371.52 166.51a1.1 1.1 0 1 0 2.2 0a1.1 1.1 0 1 0-2.2 0zM371.58 166.38a1.1 1.1 0 1 0 2.2 0a1.1 1.1 0 1 0-2.2 0zM371.64 166.45a1.1 1.1 0 1 0 2.2 0a1.1 1.1 0 1 0-2.2 0zM371.70 167.02a1.1 1.1 0 1 0 2.2 0a1.1 1.1 0 1 0-2.2 0zM371.75 166.57a1.1 1.1 0 1 0 2.2 0a1.1 1.1 0 1 0-2.2 0zM371.81 166.33a1.1 1.1 0 1 0 2.2 0a1.1 1.1 0 1 0-2.2 0zM371.87 165.64a1.1 1.1 0 1 0 2.2 0a1.1 1.1 0 1 0-2.2 0zM371.92 166.54a1.1 1.1 0 1 0 2.2 0a1.1 1.1 0 1 0-2.2 0zM371.98 166.08a1.1 1.1 0 1 0 2.2 0a1.1 1.1 0 1 0-2.2 0zM372.04 166.15a1.1 1.1 0 1 0 2.2 0a1.1 1.1 0 1 0-2.2 0zM372.09 167.08a1.1 1.1 0 1 0 2.2 0a1.1 1.1 0 1 0-2.2 0zM372.15 167.08a1.1 1.1 0 1 0 2.2 0a1.1 1.1 0 1 0-2.2 0zM372.21 166.18a1.1 1.1 0 1 0 2.2 0a1.1 1.1 0 1 0-2.2 0zM372.26 167.18a1.1 1.1 0 1 0 2.2 0a1.1 1.1 0 1 0-2.2 0zM372.32 167.06a1.1 1.1 0 1 0 2.2 0a1.1 1.1 0 1 0-2.2 0zM372.38 166.65a1.1 1.1 0 1 0 2.2 0a1.1 1.1 0 1 0-2.2 0zM372.43 167.21a1.1 1.1 0 1 0 2.2 0a1.1 1.1 0 1 0-2.2 0zM372.49 166.4a1.1 1.1 0 1 0 2.2 0a1.1 1.1 0 1 0-2.2 0zM372.54 166.57a1.1 1.1 0 1 0 2.2 0a1.1 1.1 0 1 0-2.2 0zM372.60 166.51a1.1 1.1 0 1 0 2.2 0a1.1 1.1 0 1 0-2.2 0zM372.66 166.65a1.1 1.1 0 1 0 2.2 0a1.1 1.1 0 1 0-2.2 0zM372.71 167.38a1.1 1.1 0 1 0 2.2 0a1.1 1.1 0 1 0-2.2 0zM372.77 166.62a1.1 1.1 0 1 0 2.2 0a1.1 1.1 0 1 0-2.2 0zM372.82 166.71a1.1 1.1 0 1 0 2.2 0a1.1 1.1 0 1 0-2.2 0zM372.88 166.8a1.1 1.1 0 1 0 2.2 0a1.1 1.1 0 1 0-2.2 0zM372.94 167.24a1.1 1.1 0 1 0 2.2 0a1.1 1.1 0 1 0-2.2 0zM372.99 167.07a1.1 1.1 0 1 0 2.2 0a1.1 1.1 0 1 0-2.2 0zM373.05 167.53a1.1 1.1 0 1 0 2.2 0a1.1 1.1 0 1 0-2.2 0zM373.10 166.98a1.1 1.1 0 1 0 2.2 0a1.1 1.1 0 1 0-2.2 0zM373.16 166.79a1.1 1.1 0 1 0 2.2 0a1.1 1.1 0 1 0-2.2 0zM373.21 167.1a1.1 1.1 0 1 0 2.2 0a1.1 1.1 0 1 0-2.2 0zM373.27 167.32a1.1 1.1 0 1 0 2.2 0a1.1 1.1 0 1 0-2.2 0zM373.32 166.99a1.1 1.1 0 1 0 2.2 0a1.1 1.1 0 1 0-2.2 0zM373.38 167.46a1.1 1.1 0 1 0 2.2 0a1.1 1.1 0 1 0-2.2 0zM373.43 168.05a1.1 1.1 0 1 0 2.2 0a1.1 1.1 0 1 0-2.2 0zM373.49 167.19a1.1 1.1 0 1 0 2.2 0a1.1 1.1 0 1 0-2.2 0zM373.54 167.44a1.1 1.1 0 1 0 2.2 0a1.1 1.1 0 1 0-2.2 0zM373.60 167.95a1.1 1.1 0 1 0 2.2 0a1.1 1.1 0 1 0-2.2 0zM373.65 167.23a1.1 1.1 0 1 0 2.2 0a1.1 1.1 0 1 0-2.2 0zM373.71 167.18a1.1 1.1 0 1 0 2.2 0a1.1 1.1 0 1 0-2.2 0zM373.76 167.11a1.1 1.1 0 1 0 2.2 0a1.1 1.1 0 1 0-2.2 0zM373.81 167.69a1.1 1.1 0 1 0 2.2 0a1.1 1.1 0 1 0-2.2 0zM373.87 167.75a1.1 1.1 0 1 0 2.2 0a1.1 1.1 0 1 0-2.2 0zM373.92 167.53a1.1 1.1 0 1 0 2.2 0a1.1 1.1 0 1 0-2.2 0zM373.98 167.62a1.1 1.1 0 1 0 2.2 0a1.1 1.1 0 1 0-2.2 0zM374.03 168.11a1.1 1.1 0 1 0 2.2 0a1.1 1.1 0 1 0-2.2 0zM374.09 167.98a1.1 1.1 0 1 0 2.2 0a1.1 1.1 0 1 0-2.2 0zM374.14 167.14a1.1 1.1 0 1 0 2.2 0a1.1 1.1 0 1 0-2.2 0zM374.19 167.69a1.1 1.1 0 1 0 2.2 0a1.1 1.1 0 1 0-2.2 0zM374.25 167.75a1.1 1.1 0 1 0 2.2 0a1.1 1.1 0 1 0-2.2 0zM374.30 168.01a1.1 1.1 0 1 0 2.2 0a1.1 1.1 0 1 0-2.2 0zM374.36 167.67a1.1 1.1 0 1 0 2.2 0a1.1 1.1 0 1 0-2.2 0zM374.41 167.53a1.1 1.1 0 1 0 2.2 0a1.1 1.1 0 1 0-2.2 0zM374.46 167.62a1.1 1.1 0 1 0 2.2 0a1.1 1.1 0 1 0-2.2 0zM374.52 167.13a1.1 1.1 0 1 0 2.2 0a1.1 1.1 0 1 0-2.2 0zM374.57 167.83a1.1 1.1 0 1 0 2.2 0a1.1 1.1 0 1 0-2.2 0zM374.62 167.63a1.1 1.1 0 1 0 2.2 0a1.1 1.1 0 1 0-2.2 0zM374.68 168.06a1.1 1.1 0 1 0 2.2 0a1.1 1.1 0 1 0-2.2 0zM374.73 167.5a1.1 1.1 0 1 0 2.2 0a1.1 1.1 0 1 0-2.2 0zM374.78 167.75a1.1 1.1 0 1 0 2.2 0a1.1 1.1 0 1 0-2.2 0zM374.84 167.56a1.1 1.1 0 1 0 2.2 0a1.1 1.1 0 1 0-2.2 0zM374.89 167.55a1.1 1.1 0 1 0 2.2 0a1.1 1.1 0 1 0-2.2 0zM374.94 168.26a1.1 1.1 0 1 0 2.2 0a1.1 1.1 0 1 0-2.2 0zM375.00 167.82a1.1 1.1 0 1 0 2.2 0a1.1 1.1 0 1 0-2.2 0zM375.05 168.2a1.1 1.1 0 1 0 2.2 0a1.1 1.1 0 1 0-2.2 0zM375.10 167.61a1.1 1.1 0 1 0 2.2 0a1.1 1.1 0 1 0-2.2 0zM375.16 168.11a1.1 1.1 0 1 0 2.2 0a1.1 1.1 0 1 0-2.2 0zM375.21 167.42a1.1 1.1 0 1 0 2.2 0a1.1 1.1 0 1 0-2.2 0zM375.26 167.92a1.1 1.1 0 1 0 2.2 0a1.1 1.1 0 1 0-2.2 0zM375.31 167.93a1.1 1.1 0 1 0 2.2 0a1.1 1.1 0 1 0-2.2 0zM375.37 168.38a1.1 1.1 0 1 0 2.2 0a1.1 1.1 0 1 0-2.2 0zM375.42 168.24a1.1 1.1 0 1 0 2.2 0a1.1 1.1 0 1 0-2.2 0zM375.47 168.12a1.1 1.1 0 1 0 2.2 0a1.1 1.1 0 1 0-2.2 0zM375.52 168.55a1.1 1.1 0 1 0 2.2 0a1.1 1.1 0 1 0-2.2 0zM375.58 168.31a1.1 1.1 0 1 0 2.2 0a1.1 1.1 0 1 0-2.2 0zM375.63 168.47a1.1 1.1 0 1 0 2.2 0a1.1 1.1 0 1 0-2.2 0zM375.68 168.58a1.1 1.1 0 1 0 2.2 0a1.1 1.1 0 1 0-2.2 0zM375.73 168.27a1.1 1.1 0 1 0 2.2 0a1.1 1.1 0 1 0-2.2 0zM375.78 168.2a1.1 1.1 0 1 0 2.2 0a1.1 1.1 0 1 0-2.2 0zM375.84 168.47a1.1 1.1 0 1 0 2.2 0a1.1 1.1 0 1 0-2.2 0zM375.89 168.19a1.1 1.1 0 1 0 2.2 0a1.1 1.1 0 1 0-2.2 0zM375.94 168.54a1.1 1.1 0 1 0 2.2 0a1.1 1.1 0 1 0-2.2 0zM375.99 168.85a1.1 1.1 0 1 0 2.2 0a1.1 1.1 0 1 0-2.2 0zM376.04 168.77a1.1 1.1 0 1 0 2.2 0a1.1 1.1 0 1 0-2.2 0zM376.10 168.28a1.1 1.1 0 1 0 2.2 0a1.1 1.1 0 1 0-2.2 0zM376.15 167.93a1.1 1.1 0 1 0 2.2 0a1.1 1.1 0 1 0-2.2 0zM376.20 168.46a1.1 1.1 0 1 0 2.2 0a1.1 1.1 0 1 0-2.2 0zM376.25 168.45a1.1 1.1 0 1 0 2.2 0a1.1 1.1 0 1 0-2.2 0zM376.30 168.98a1.1 1.1 0 1 0 2.2 0a1.1 1.1 0 1 0-2.2 0zM376.35 168.38a1.1 1.1 0 1 0 2.2 0a1.1 1.1 0 1 0-2.2 0zM376.41 168.48a1.1 1.1 0 1 0 2.2 0a1.1 1.1 0 1 0-2.2 0zM376.46 168.89a1.1 1.1 0 1 0 2.2 0a1.1 1.1 0 1 0-2.2 0zM376.51 168.41a1.1 1.1 0 1 0 2.2 0a1.1 1.1 0 1 0-2.2 0zM376.56 168.56a1.1 1.1 0 1 0 2.2 0a1.1 1.1 0 1 0-2.2 0zM376.61 169.36a1.1 1.1 0 1 0 2.2 0a1.1 1.1 0 1 0-2.2 0zM376.66 169.29a1.1 1.1 0 1 0 2.2 0a1.1 1.1 0 1 0-2.2 0zM376.71 168.95a1.1 1.1 0 1 0 2.2 0a1.1 1.1 0 1 0-2.2 0zM376.76 168.82a1.1 1.1 0 1 0 2.2 0a1.1 1.1 0 1 0-2.2 0zM376.81 168.32a1.1 1.1 0 1 0 2.2 0a1.1 1.1 0 1 0-2.2 0zM376.87 168.98a1.1 1.1 0 1 0 2.2 0a1.1 1.1 0 1 0-2.2 0zM376.92 168.79a1.1 1.1 0 1 0 2.2 0a1.1 1.1 0 1 0-2.2 0zM376.97 168.88a1.1 1.1 0 1 0 2.2 0a1.1 1.1 0 1 0-2.2 0zM377.02 168.59a1.1 1.1 0 1 0 2.2 0a1.1 1.1 0 1 0-2.2 0zM377.07 168.82a1.1 1.1 0 1 0 2.2 0a1.1 1.1 0 1 0-2.2 0zM377.12 168.77a1.1 1.1 0 1 0 2.2 0a1.1 1.1 0 1 0-2.2 0zM377.17 169.0a1.1 1.1 0 1 0 2.2 0a1.1 1.1 0 1 0-2.2 0zM377.22 169.5a1.1 1.1 0 1 0 2.2 0a1.1 1.1 0 1 0-2.2 0zM377.27 169.06a1.1 1.1 0 1 0 2.2 0a1.1 1.1 0 1 0-2.2 0zM377.32 168.22a1.1 1.1 0 1 0 2.2 0a1.1 1.1 0 1 0-2.2 0zM377.37 168.53a1.1 1.1 0 1 0 2.2 0a1.1 1.1 0 1 0-2.2 0zM377.42 168.28a1.1 1.1 0 1 0 2.2 0a1.1 1.1 0 1 0-2.2 0zM377.47 168.64a1.1 1.1 0 1 0 2.2 0a1.1 1.1 0 1 0-2.2 0zM377.52 169.25a1.1 1.1 0 1 0 2.2 0a1.1 1.1 0 1 0-2.2 0zM377.57 169.2a1.1 1.1 0 1 0 2.2 0a1.1 1.1 0 1 0-2.2 0zM377.62 168.79a1.1 1.1 0 1 0 2.2 0a1.1 1.1 0 1 0-2.2 0zM377.67 169.18a1.1 1.1 0 1 0 2.2 0a1.1 1.1 0 1 0-2.2 0zM377.72 168.76a1.1 1.1 0 1 0 2.2 0a1.1 1.1 0 1 0-2.2 0zM377.77 168.49a1.1 1.1 0 1 0 2.2 0a1.1 1.1 0 1 0-2.2 0zM377.82 168.51a1.1 1.1 0 1 0 2.2 0a1.1 1.1 0 1 0-2.2 0zM377.87 168.77a1.1 1.1 0 1 0 2.2 0a1.1 1.1 0 1 0-2.2 0zM377.92 169.79a1.1 1.1 0 1 0 2.2 0a1.1 1.1 0 1 0-2.2 0zM377.97 168.59a1.1 1.1 0 1 0 2.2 0a1.1 1.1 0 1 0-2.2 0zM378.02 169.76a1.1 1.1 0 1 0 2.2 0a1.1 1.1 0 1 0-2.2 0zM378.07 169.81a1.1 1.1 0 1 0 2.2 0a1.1 1.1 0 1 0-2.2 0zM378.12 169.16a1.1 1.1 0 1 0 2.2 0a1.1 1.1 0 1 0-2.2 0zM378.17 169.24a1.1 1.1 0 1 0 2.2 0a1.1 1.1 0 1 0-2.2 0zM378.22 169.01a1.1 1.1 0 1 0 2.2 0a1.1 1.1 0 1 0-2.2 0zM378.27 169.29a1.1 1.1 0 1 0 2.2 0a1.1 1.1 0 1 0-2.2 0zM378.32 169.62a1.1 1.1 0 1 0 2.2 0a1.1 1.1 0 1 0-2.2 0zM378.36 169.35a1.1 1.1 0 1 0 2.2 0a1.1 1.1 0 1 0-2.2 0zM378.41 169.81a1.1 1.1 0 1 0 2.2 0a1.1 1.1 0 1 0-2.2 0zM378.46 169.92a1.1 1.1 0 1 0 2.2 0a1.1 1.1 0 1 0-2.2 0zM378.51 169.56a1.1 1.1 0 1 0 2.2 0a1.1 1.1 0 1 0-2.2 0zM378.56 169.57a1.1 1.1 0 1 0 2.2 0a1.1 1.1 0 1 0-2.2 0zM378.61 169.41a1.1 1.1 0 1 0 2.2 0a1.1 1.1 0 1 0-2.2 0zM378.66 169.62a1.1 1.1 0 1 0 2.2 0a1.1 1.1 0 1 0-2.2 0zM378.71 168.97a1.1 1.1 0 1 0 2.2 0a1.1 1.1 0 1 0-2.2 0zM378.76 169.68a1.1 1.1 0 1 0 2.2 0a1.1 1.1 0 1 0-2.2 0zM378.80 169.61a1.1 1.1 0 1 0 2.2 0a1.1 1.1 0 1 0-2.2 0zM378.85 169.14a1.1 1.1 0 1 0 2.2 0a1.1 1.1 0 1 0-2.2 0zM378.90 170.54a1.1 1.1 0 1 0 2.2 0a1.1 1.1 0 1 0-2.2 0zM378.95 169.13a1.1 1.1 0 1 0 2.2 0a1.1 1.1 0 1 0-2.2 0zM379.00 169.2a1.1 1.1 0 1 0 2.2 0a1.1 1.1 0 1 0-2.2 0zM379.05 169.74a1.1 1.1 0 1 0 2.2 0a1.1 1.1 0 1 0-2.2 0zM379.10 168.74a1.1 1.1 0 1 0 2.2 0a1.1 1.1 0 1 0-2.2 0zM379.14 169.29a1.1 1.1 0 1 0 2.2 0a1.1 1.1 0 1 0-2.2 0zM379.19 168.97a1.1 1.1 0 1 0 2.2 0a1.1 1.1 0 1 0-2.2 0zM379.24 169.24a1.1 1.1 0 1 0 2.2 0a1.1 1.1 0 1 0-2.2 0zM379.29 169.65a1.1 1.1 0 1 0 2.2 0a1.1 1.1 0 1 0-2.2 0zM379.34 169.88a1.1 1.1 0 1 0 2.2 0a1.1 1.1 0 1 0-2.2 0zM379.38 170.26a1.1 1.1 0 1 0 2.2 0a1.1 1.1 0 1 0-2.2 0zM379.43 170.15a1.1 1.1 0 1 0 2.2 0a1.1 1.1 0 1 0-2.2 0zM379.48 170.34a1.1 1.1 0 1 0 2.2 0a1.1 1.1 0 1 0-2.2 0zM379.53 170.08a1.1 1.1 0 1 0 2.2 0a1.1 1.1 0 1 0-2.2 0zM379.58 169.6a1.1 1.1 0 1 0 2.2 0a1.1 1.1 0 1 0-2.2 0zM379.62 170.37a1.1 1.1 0 1 0 2.2 0a1.1 1.1 0 1 0-2.2 0zM379.67 169.63a1.1 1.1 0 1 0 2.2 0a1.1 1.1 0 1 0-2.2 0zM379.72 169.59a1.1 1.1 0 1 0 2.2 0a1.1 1.1 0 1 0-2.2 0zM379.77 170.63a1.1 1.1 0 1 0 2.2 0a1.1 1.1 0 1 0-2.2 0zM379.81 170.29a1.1 1.1 0 1 0 2.2 0a1.1 1.1 0 1 0-2.2 0zM379.86 170.04a1.1 1.1 0 1 0 2.2 0a1.1 1.1 0 1 0-2.2 0zM379.91 170.32a1.1 1.1 0 1 0 2.2 0a1.1 1.1 0 1 0-2.2 0zM379.96 170.4a1.1 1.1 0 1 0 2.2 0a1.1 1.1 0 1 0-2.2 0zM380.00 169.34a1.1 1.1 0 1 0 2.2 0a1.1 1.1 0 1 0-2.2 0zM380.05 169.97a1.1 1.1 0 1 0 2.2 0a1.1 1.1 0 1 0-2.2 0zM380.10 169.47a1.1 1.1 0 1 0 2.2 0a1.1 1.1 0 1 0-2.2 0zM380.15 170.11a1.1 1.1 0 1 0 2.2 0a1.1 1.1 0 1 0-2.2 0zM380.19 169.75a1.1 1.1 0 1 0 2.2 0a1.1 1.1 0 1 0-2.2 0zM380.24 170.75a1.1 1.1 0 1 0 2.2 0a1.1 1.1 0 1 0-2.2 0zM380.29 170.36a1.1 1.1 0 1 0 2.2 0a1.1 1.1 0 1 0-2.2 0zM380.33 169.73a1.1 1.1 0 1 0 2.2 0a1.1 1.1 0 1 0-2.2 0zM380.38 170.14a1.1 1.1 0 1 0 2.2 0a1.1 1.1 0 1 0-2.2 0zM380.43 169.57a1.1 1.1 0 1 0 2.2 0a1.1 1.1 0 1 0-2.2 0zM380.48 170.2a1.1 1.1 0 1 0 2.2 0a1.1 1.1 0 1 0-2.2 0zM380.52 170.47a1.1 1.1 0 1 0 2.2 0a1.1 1.1 0 1 0-2.2 0zM380.57 170.35a1.1 1.1 0 1 0 2.2 0a1.1 1.1 0 1 0-2.2 0zM380.62 169.29a1.1 1.1 0 1 0 2.2 0a1.1 1.1 0 1 0-2.2 0zM380.66 170.09a1.1 1.1 0 1 0 2.2 0a1.1 1.1 0 1 0-2.2 0zM380.71 170.53a1.1 1.1 0 1 0 2.2 0a1.1 1.1 0 1 0-2.2 0zM380.76 170.45a1.1 1.1 0 1 0 2.2 0a1.1 1.1 0 1 0-2.2 0zM380.80 170.89a1.1 1.1 0 1 0 2.2 0a1.1 1.1 0 1 0-2.2 0zM380.85 169.69a1.1 1.1 0 1 0 2.2 0a1.1 1.1 0 1 0-2.2 0zM380.89 170.61a1.1 1.1 0 1 0 2.2 0a1.1 1.1 0 1 0-2.2 0zM380.94 170.04a1.1 1.1 0 1 0 2.2 0a1.1 1.1 0 1 0-2.2 0zM380.99 170.48a1.1 1.1 0 1 0 2.2 0a1.1 1.1 0 1 0-2.2 0zM381.03 170.61a1.1 1.1 0 1 0 2.2 0a1.1 1.1 0 1 0-2.2 0zM381.08 170.77a1.1 1.1 0 1 0 2.2 0a1.1 1.1 0 1 0-2.2 0zM381.13 170.15a1.1 1.1 0 1 0 2.2 0a1.1 1.1 0 1 0-2.2 0zM381.17 170.55a1.1 1.1 0 1 0 2.2 0a1.1 1.1 0 1 0-2.2 0zM381.22 169.89a1.1 1.1 0 1 0 2.2 0a1.1 1.1 0 1 0-2.2 0zM381.26 169.79a1.1 1.1 0 1 0 2.2 0a1.1 1.1 0 1 0-2.2 0zM381.31 170.8a1.1 1.1 0 1 0 2.2 0a1.1 1.1 0 1 0-2.2 0zM381.36 170.51a1.1 1.1 0 1 0 2.2 0a1.1 1.1 0 1 0-2.2 0zM381.40 169.73a1.1 1.1 0 1 0 2.2 0a1.1 1.1 0 1 0-2.2 0zM381.45 170.14a1.1 1.1 0 1 0 2.2 0a1.1 1.1 0 1 0-2.2 0zM381.49 170.6a1.1 1.1 0 1 0 2.2 0a1.1 1.1 0 1 0-2.2 0zM381.54 171.4a1.1 1.1 0 1 0 2.2 0a1.1 1.1 0 1 0-2.2 0zM381.59 171.16a1.1 1.1 0 1 0 2.2 0a1.1 1.1 0 1 0-2.2 0zM381.63 171.05a1.1 1.1 0 1 0 2.2 0a1.1 1.1 0 1 0-2.2 0zM381.68 169.75a1.1 1.1 0 1 0 2.2 0a1.1 1.1 0 1 0-2.2 0zM381.72 170.63a1.1 1.1 0 1 0 2.2 0a1.1 1.1 0 1 0-2.2 0zM381.77 170.94a1.1 1.1 0 1 0 2.2 0a1.1 1.1 0 1 0-2.2 0zM381.81 170.92a1.1 1.1 0 1 0 2.2 0a1.1 1.1 0 1 0-2.2 0zM381.86 170.95a1.1 1.1 0 1 0 2.2 0a1.1 1.1 0 1 0-2.2 0zM381.90 170.63a1.1 1.1 0 1 0 2.2 0a1.1 1.1 0 1 0-2.2 0zM381.95 171.68a1.1 1.1 0 1 0 2.2 0a1.1 1.1 0 1 0-2.2 0zM381.99 171.55a1.1 1.1 0 1 0 2.2 0a1.1 1.1 0 1 0-2.2 0zM382.04 170.76a1.1 1.1 0 1 0 2.2 0a1.1 1.1 0 1 0-2.2 0zM382.09 170.31a1.1 1.1 0 1 0 2.2 0a1.1 1.1 0 1 0-2.2 0zM382.13 171.91a1.1 1.1 0 1 0 2.2 0a1.1 1.1 0 1 0-2.2 0zM382.18 170.57a1.1 1.1 0 1 0 2.2 0a1.1 1.1 0 1 0-2.2 0zM382.22 171.5a1.1 1.1 0 1 0 2.2 0a1.1 1.1 0 1 0-2.2 0zM382.27 171.9a1.1 1.1 0 1 0 2.2 0a1.1 1.1 0 1 0-2.2 0zM382.31 170.42a1.1 1.1 0 1 0 2.2 0a1.1 1.1 0 1 0-2.2 0zM382.36 171.08a1.1 1.1 0 1 0 2.2 0a1.1 1.1 0 1 0-2.2 0zM382.40 170.77a1.1 1.1 0 1 0 2.2 0a1.1 1.1 0 1 0-2.2 0zM382.45 171.24a1.1 1.1 0 1 0 2.2 0a1.1 1.1 0 1 0-2.2 0zM382.49 171.15a1.1 1.1 0 1 0 2.2 0a1.1 1.1 0 1 0-2.2 0zM382.53 172.04a1.1 1.1 0 1 0 2.2 0a1.1 1.1 0 1 0-2.2 0zM382.58 171.33a1.1 1.1 0 1 0 2.2 0a1.1 1.1 0 1 0-2.2 0zM382.62 171.03a1.1 1.1 0 1 0 2.2 0a1.1 1.1 0 1 0-2.2 0zM382.67 171.66a1.1 1.1 0 1 0 2.2 0a1.1 1.1 0 1 0-2.2 0zM382.71 170.93a1.1 1.1 0 1 0 2.2 0a1.1 1.1 0 1 0-2.2 0zM382.76 170.9a1.1 1.1 0 1 0 2.2 0a1.1 1.1 0 1 0-2.2 0zM382.80 172.31a1.1 1.1 0 1 0 2.2 0a1.1 1.1 0 1 0-2.2 0zM382.85 170.69a1.1 1.1 0 1 0 2.2 0a1.1 1.1 0 1 0-2.2 0zM382.89 170.88a1.1 1.1 0 1 0 2.2 0a1.1 1.1 0 1 0-2.2 0zM382.94 171.19a1.1 1.1 0 1 0 2.2 0a1.1 1.1 0 1 0-2.2 0zM382.98 170.61a1.1 1.1 0 1 0 2.2 0a1.1 1.1 0 1 0-2.2 0zM383.02 170.06a1.1 1.1 0 1 0 2.2 0a1.1 1.1 0 1 0-2.2 0zM383.07 171.79a1.1 1.1 0 1 0 2.2 0a1.1 1.1 0 1 0-2.2 0zM383.11 170.81a1.1 1.1 0 1 0 2.2 0a1.1 1.1 0 1 0-2.2 0zM383.16 170.96a1.1 1.1 0 1 0 2.2 0a1.1 1.1 0 1 0-2.2 0zM383.20 171.07a1.1 1.1 0 1 0 2.2 0a1.1 1.1 0 1 0-2.2 0zM383.24 170.75a1.1 1.1 0 1 0 2.2 0a1.1 1.1 0 1 0-2.2 0zM383.29 170.72a1.1 1.1 0 1 0 2.2 0a1.1 1.1 0 1 0-2.2 0zM383.33 171.41a1.1 1.1 0 1 0 2.2 0a1.1 1.1 0 1 0-2.2 0zM383.38 172.65a1.1 1.1 0 1 0 2.2 0a1.1 1.1 0 1 0-2.2 0zM383.42 171.76a1.1 1.1 0 1 0 2.2 0a1.1 1.1 0 1 0-2.2 0zM383.46 171.78a1.1 1.1 0 1 0 2.2 0a1.1 1.1 0 1 0-2.2 0zM383.51 170.56a1.1 1.1 0 1 0 2.2 0a1.1 1.1 0 1 0-2.2 0zM383.55 171.39a1.1 1.1 0 1 0 2.2 0a1.1 1.1 0 1 0-2.2 0zM383.60 170.77a1.1 1.1 0 1 0 2.2 0a1.1 1.1 0 1 0-2.2 0zM383.64 171.87a1.1 1.1 0 1 0 2.2 0a1.1 1.1 0 1 0-2.2 0zM383.68 171.33a1.1 1.1 0 1 0 2.2 0a1.1 1.1 0 1 0-2.2 0zM383.73 171.5a1.1 1.1 0 1 0 2.2 0a1.1 1.1 0 1 0-2.2 0zM383.77 171.45a1.1 1.1 0 1 0 2.2 0a1.1 1.1 0 1 0-2.2 0zM383.81 171.19a1.1 1.1 0 1 0 2.2 0a1.1 1.1 0 1 0-2.2 0zM383.86 170.68a1.1 1.1 0 1 0 2.2 0a1.1 1.1 0 1 0-2.2 0zM383.90 171.87a1.1 1.1 0 1 0 2.2 0a1.1 1.1 0 1 0-2.2 0zM383.94 170.79a1.1 1.1 0 1 0 2.2 0a1.1 1.1 0 1 0-2.2 0zM383.99 170.92a1.1 1.1 0 1 0 2.2 0a1.1 1.1 0 1 0-2.2 0zM384.03 171.43a1.1 1.1 0 1 0 2.2 0a1.1 1.1 0 1 0-2.2 0zM384.07 171.22a1.1 1.1 0 1 0 2.2 0a1.1 1.1 0 1 0-2.2 0zM384.12 171.78a1.1 1.1 0 1 0 2.2 0a1.1 1.1 0 1 0-2.2 0zM384.16 172.22a1.1 1.1 0 1 0 2.2 0a1.1 1.1 0 1 0-2.2 0zM384.20 171.81a1.1 1.1 0 1 0 2.2 0a1.1 1.1 0 1 0-2.2 0zM384.25 171.8a1.1 1.1 0 1 0 2.2 0a1.1 1.1 0 1 0-2.2 0zM384.29 171.72a1.1 1.1 0 1 0 2.2 0a1.1 1.1 0 1 0-2.2 0zM384.33 172.21a1.1 1.1 0 1 0 2.2 0a1.1 1.1 0 1 0-2.2 0zM384.37 170.68a1.1 1.1 0 1 0 2.2 0a1.1 1.1 0 1 0-2.2 0zM384.42 171.96a1.1 1.1 0 1 0 2.2 0a1.1 1.1 0 1 0-2.2 0zM384.46 171.24a1.1 1.1 0 1 0 2.2 0a1.1 1.1 0 1 0-2.2 0zM384.50 171.08a1.1 1.1 0 1 0 2.2 0a1.1 1.1 0 1 0-2.2 0zM384.55 171.81a1.1 1.1 0 1 0 2.2 0a1.1 1.1 0 1 0-2.2 0zM384.59 171.6a1.1 1.1 0 1 0 2.2 0a1.1 1.1 0 1 0-2.2 0zM384.63 172.17a1.1 1.1 0 1 0 2.2 0a1.1 1.1 0 1 0-2.2 0zM384.67 172.49a1.1 1.1 0 1 0 2.2 0a1.1 1.1 0 1 0-2.2 0zM384.72 170.53a1.1 1.1 0 1 0 2.2 0a1.1 1.1 0 1 0-2.2 0zM384.76 171.85a1.1 1.1 0 1 0 2.2 0a1.1 1.1 0 1 0-2.2 0zM384.80 173.04a1.1 1.1 0 1 0 2.2 0a1.1 1.1 0 1 0-2.2 0zM384.84 172.43a1.1 1.1 0 1 0 2.2 0a1.1 1.1 0 1 0-2.2 0zM384.89 172.78a1.1 1.1 0 1 0 2.2 0a1.1 1.1 0 1 0-2.2 0zM384.93 172.02a1.1 1.1 0 1 0 2.2 0a1.1 1.1 0 1 0-2.2 0zM384.97 171.14a1.1 1.1 0 1 0 2.2 0a1.1 1.1 0 1 0-2.2 0zM385.01 171.33a1.1 1.1 0 1 0 2.2 0a1.1 1.1 0 1 0-2.2 0zM385.06 172.43a1.1 1.1 0 1 0 2.2 0a1.1 1.1 0 1 0-2.2 0zM385.10 172.59a1.1 1.1 0 1 0 2.2 0a1.1 1.1 0 1 0-2.2 0zM385.14 171.61a1.1 1.1 0 1 0 2.2 0a1.1 1.1 0 1 0-2.2 0zM385.18 171.9a1.1 1.1 0 1 0 2.2 0a1.1 1.1 0 1 0-2.2 0zM385.22 172.23a1.1 1.1 0 1 0 2.2 0a1.1 1.1 0 1 0-2.2 0zM385.27 171.06a1.1 1.1 0 1 0 2.2 0a1.1 1.1 0 1 0-2.2 0zM385.31 171.9a1.1 1.1 0 1 0 2.2 0a1.1 1.1 0 1 0-2.2 0zM385.35 173.09a1.1 1.1 0 1 0 2.2 0a1.1 1.1 0 1 0-2.2 0zM385.39 173.44a1.1 1.1 0 1 0 2.2 0a1.1 1.1 0 1 0-2.2 0zM385.43 172.09a1.1 1.1 0 1 0 2.2 0a1.1 1.1 0 1 0-2.2 0zM385.48 173.27a1.1 1.1 0 1 0 2.2 0a1.1 1.1 0 1 0-2.2 0zM385.52 171.88a1.1 1.1 0 1 0 2.2 0a1.1 1.1 0 1 0-2.2 0zM385.56 171.72a1.1 1.1 0 1 0 2.2 0a1.1 1.1 0 1 0-2.2 0zM385.60 170.88a1.1 1.1 0 1 0 2.2 0a1.1 1.1 0 1 0-2.2 0zM385.64 172.82a1.1 1.1 0 1 0 2.2 0a1.1 1.1 0 1 0-2.2 0zM385.69 172.03a1.1 1.1 0 1 0 2.2 0a1.1 1.1 0 1 0-2.2 0zM385.73 173.68a1.1 1.1 0 1 0 2.2 0a1.1 1.1 0 1 0-2.2 0zM385.77 172.49a1.1 1.1 0 1 0 2.2 0a1.1 1.1 0 1 0-2.2 0zM385.81 172.42a1.1 1.1 0 1 0 2.2 0a1.1 1.1 0 1 0-2.2 0zM385.85 171.23a1.1 1.1 0 1 0 2.2 0a1.1 1.1 0 1 0-2.2 0zM385.89 173.25a1.1 1.1 0 1 0 2.2 0a1.1 1.1 0 1 0-2.2 0zM385.93 172.14a1.1 1.1 0 1 0 2.2 0a1.1 1.1 0 1 0-2.2 0zM385.98 172.28a1.1 1.1 0 1 0 2.2 0a1.1 1.1 0 1 0-2.2 0zM386.02 171.05a1.1 1.1 0 1 0 2.2 0a1.1 1.1 0 1 0-2.2 0zM386.06 172.97a1.1 1.1 0 1 0 2.2 0a1.1 1.1 0 1 0-2.2 0zM386.10 173.03a1.1 1.1 0 1 0 2.2 0a1.1 1.1 0 1 0-2.2 0zM386.14 172.07a1.1 1.1 0 1 0 2.2 0a1.1 1.1 0 1 0-2.2 0zM386.18 172.51a1.1 1.1 0 1 0 2.2 0a1.1 1.1 0 1 0-2.2 0zM386.22 172.72a1.1 1.1 0 1 0 2.2 0a1.1 1.1 0 1 0-2.2 0zM386.26 173.08a1.1 1.1 0 1 0 2.2 0a1.1 1.1 0 1 0-2.2 0zM386.31 172.57a1.1 1.1 0 1 0 2.2 0a1.1 1.1 0 1 0-2.2 0zM386.35 173.59a1.1 1.1 0 1 0 2.2 0a1.1 1.1 0 1 0-2.2 0zM386.39 172.39a1.1 1.1 0 1 0 2.2 0a1.1 1.1 0 1 0-2.2 0zM386.43 172.18a1.1 1.1 0 1 0 2.2 0a1.1 1.1 0 1 0-2.2 0zM386.47 172.28a1.1 1.1 0 1 0 2.2 0a1.1 1.1 0 1 0-2.2 0zM386.51 171.01a1.1 1.1 0 1 0 2.2 0a1.1 1.1 0 1 0-2.2 0zM386.55 172.1a1.1 1.1 0 1 0 2.2 0a1.1 1.1 0 1 0-2.2 0zM386.59 173.25a1.1 1.1 0 1 0 2.2 0a1.1 1.1 0 1 0-2.2 0zM386.63 172.8a1.1 1.1 0 1 0 2.2 0a1.1 1.1 0 1 0-2.2 0zM386.67 172.14a1.1 1.1 0 1 0 2.2 0a1.1 1.1 0 1 0-2.2 0zM386.71 172.89a1.1 1.1 0 1 0 2.2 0a1.1 1.1 0 1 0-2.2 0zM386.76 171.42a1.1 1.1 0 1 0 2.2 0a1.1 1.1 0 1 0-2.2 0zM386.80 172.53a1.1 1.1 0 1 0 2.2 0a1.1 1.1 0 1 0-2.2 0zM386.84 173.05a1.1 1.1 0 1 0 2.2 0a1.1 1.1 0 1 0-2.2 0zM386.88 173.18a1.1 1.1 0 1 0 2.2 0a1.1 1.1 0 1 0-2.2 0zM386.92 172.26a1.1 1.1 0 1 0 2.2 0a1.1 1.1 0 1 0-2.2 0zM386.96 173.35a1.1 1.1 0 1 0 2.2 0a1.1 1.1 0 1 0-2.2 0zM387.00 173.97a1.1 1.1 0 1 0 2.2 0a1.1 1.1 0 1 0-2.2 0zM387.04 172.53a1.1 1.1 0 1 0 2.2 0a1.1 1.1 0 1 0-2.2 0zM387.08 173.29a1.1 1.1 0 1 0 2.2 0a1.1 1.1 0 1 0-2.2 0zM387.12 172.12a1.1 1.1 0 1 0 2.2 0a1.1 1.1 0 1 0-2.2 0zM387.16 172.8a1.1 1.1 0 1 0 2.2 0a1.1 1.1 0 1 0-2.2 0zM387.20 172.58a1.1 1.1 0 1 0 2.2 0a1.1 1.1 0 1 0-2.2 0zM387.24 173.08a1.1 1.1 0 1 0 2.2 0a1.1 1.1 0 1 0-2.2 0zM387.28 172.75a1.1 1.1 0 1 0 2.2 0a1.1 1.1 0 1 0-2.2 0zM387.32 173.29a1.1 1.1 0 1 0 2.2 0a1.1 1.1 0 1 0-2.2 0zM387.36 173.05a1.1 1.1 0 1 0 2.2 0a1.1 1.1 0 1 0-2.2 0zM387.40 173.65a1.1 1.1 0 1 0 2.2 0a1.1 1.1 0 1 0-2.2 0zM387.44 173.0a1.1 1.1 0 1 0 2.2 0a1.1 1.1 0 1 0-2.2 0zM387.48 172.64a1.1 1.1 0 1 0 2.2 0a1.1 1.1 0 1 0-2.2 0zM387.52 172.82a1.1 1.1 0 1 0 2.2 0a1.1 1.1 0 1 0-2.2 0zM387.56 172.64a1.1 1.1 0 1 0 2.2 0a1.1 1.1 0 1 0-2.2 0zM387.60 172.52a1.1 1.1 0 1 0 2.2 0a1.1 1.1 0 1 0-2.2 0zM387.64 172.96a1.1 1.1 0 1 0 2.2 0a1.1 1.1 0 1 0-2.2 0zM387.68 173.06a1.1 1.1 0 1 0 2.2 0a1.1 1.1 0 1 0-2.2 0zM387.72 172.79a1.1 1.1 0 1 0 2.2 0a1.1 1.1 0 1 0-2.2 0zM387.76 172.99a1.1 1.1 0 1 0 2.2 0a1.1 1.1 0 1 0-2.2 0zM387.80 172.56a1.1 1.1 0 1 0 2.2 0a1.1 1.1 0 1 0-2.2 0zM387.84 172.72a1.1 1.1 0 1 0 2.2 0a1.1 1.1 0 1 0-2.2 0zM387.88 172.78a1.1 1.1 0 1 0 2.2 0a1.1 1.1 0 1 0-2.2 0zM387.92 172.16a1.1 1.1 0 1 0 2.2 0a1.1 1.1 0 1 0-2.2 0zM387.96 172.39a1.1 1.1 0 1 0 2.2 0a1.1 1.1 0 1 0-2.2 0zM388.00 172.76a1.1 1.1 0 1 0 2.2 0a1.1 1.1 0 1 0-2.2 0zM388.04 172.66a1.1 1.1 0 1 0 2.2 0a1.1 1.1 0 1 0-2.2 0zM388.08 172.81a1.1 1.1 0 1 0 2.2 0a1.1 1.1 0 1 0-2.2 0zM388.12 172.29a1.1 1.1 0 1 0 2.2 0a1.1 1.1 0 1 0-2.2 0zM388.16 173.15a1.1 1.1 0 1 0 2.2 0a1.1 1.1 0 1 0-2.2 0zM388.20 173.44a1.1 1.1 0 1 0 2.2 0a1.1 1.1 0 1 0-2.2 0zM388.24 172.97a1.1 1.1 0 1 0 2.2 0a1.1 1.1 0 1 0-2.2 0zM388.27 173.21a1.1 1.1 0 1 0 2.2 0a1.1 1.1 0 1 0-2.2 0zM388.31 173.1a1.1 1.1 0 1 0 2.2 0a1.1 1.1 0 1 0-2.2 0zM388.35 173.29a1.1 1.1 0 1 0 2.2 0a1.1 1.1 0 1 0-2.2 0zM388.39 173.19a1.1 1.1 0 1 0 2.2 0a1.1 1.1 0 1 0-2.2 0zM388.43 172.57a1.1 1.1 0 1 0 2.2 0a1.1 1.1 0 1 0-2.2 0zM388.47 173.77a1.1 1.1 0 1 0 2.2 0a1.1 1.1 0 1 0-2.2 0zM388.51 172.58a1.1 1.1 0 1 0 2.2 0a1.1 1.1 0 1 0-2.2 0zM388.55 173.34a1.1 1.1 0 1 0 2.2 0a1.1 1.1 0 1 0-2.2 0zM388.59 173.4a1.1 1.1 0 1 0 2.2 0a1.1 1.1 0 1 0-2.2 0zM388.63 172.71a1.1 1.1 0 1 0 2.2 0a1.1 1.1 0 1 0-2.2 0zM388.67 172.99a1.1 1.1 0 1 0 2.2 0a1.1 1.1 0 1 0-2.2 0zM388.70 173.06a1.1 1.1 0 1 0 2.2 0a1.1 1.1 0 1 0-2.2 0zM388.74 173.33a1.1 1.1 0 1 0 2.2 0a1.1 1.1 0 1 0-2.2 0zM388.78 173.47a1.1 1.1 0 1 0 2.2 0a1.1 1.1 0 1 0-2.2 0zM388.82 172.78a1.1 1.1 0 1 0 2.2 0a1.1 1.1 0 1 0-2.2 0zM388.86 173.3a1.1 1.1 0 1 0 2.2 0a1.1 1.1 0 1 0-2.2 0zM388.90 173.68a1.1 1.1 0 1 0 2.2 0a1.1 1.1 0 1 0-2.2 0zM388.94 173.68a1.1 1.1 0 1 0 2.2 0a1.1 1.1 0 1 0-2.2 0zM388.98 173.69a1.1 1.1 0 1 0 2.2 0a1.1 1.1 0 1 0-2.2 0zM389.02 173.72a1.1 1.1 0 1 0 2.2 0a1.1 1.1 0 1 0-2.2 0zM389.05 173.34a1.1 1.1 0 1 0 2.2 0a1.1 1.1 0 1 0-2.2 0zM389.09 173.0a1.1 1.1 0 1 0 2.2 0a1.1 1.1 0 1 0-2.2 0zM389.13 173.84a1.1 1.1 0 1 0 2.2 0a1.1 1.1 0 1 0-2.2 0zM389.17 173.44a1.1 1.1 0 1 0 2.2 0a1.1 1.1 0 1 0-2.2 0zM389.21 173.7a1.1 1.1 0 1 0 2.2 0a1.1 1.1 0 1 0-2.2 0zM389.25 173.04a1.1 1.1 0 1 0 2.2 0a1.1 1.1 0 1 0-2.2 0zM389.28 173.02a1.1 1.1 0 1 0 2.2 0a1.1 1.1 0 1 0-2.2 0zM389.32 173.68a1.1 1.1 0 1 0 2.2 0a1.1 1.1 0 1 0-2.2 0zM389.36 174.16a1.1 1.1 0 1 0 2.2 0a1.1 1.1 0 1 0-2.2 0zM389.40 173.39a1.1 1.1 0 1 0 2.2 0a1.1 1.1 0 1 0-2.2 0zM389.44 173.17a1.1 1.1 0 1 0 2.2 0a1.1 1.1 0 1 0-2.2 0zM389.48 173.86a1.1 1.1 0 1 0 2.2 0a1.1 1.1 0 1 0-2.2 0zM389.51 173.82a1.1 1.1 0 1 0 2.2 0a1.1 1.1 0 1 0-2.2 0zM389.55 173.38a1.1 1.1 0 1 0 2.2 0a1.1 1.1 0 1 0-2.2 0zM389.59 173.19a1.1 1.1 0 1 0 2.2 0a1.1 1.1 0 1 0-2.2 0zM389.63 174.16a1.1 1.1 0 1 0 2.2 0a1.1 1.1 0 1 0-2.2 0zM389.67 173.49a1.1 1.1 0 1 0 2.2 0a1.1 1.1 0 1 0-2.2 0zM389.71 174.25a1.1 1.1 0 1 0 2.2 0a1.1 1.1 0 1 0-2.2 0zM389.74 173.28a1.1 1.1 0 1 0 2.2 0a1.1 1.1 0 1 0-2.2 0zM389.78 173.82a1.1 1.1 0 1 0 2.2 0a1.1 1.1 0 1 0-2.2 0zM389.82 173.61a1.1 1.1 0 1 0 2.2 0a1.1 1.1 0 1 0-2.2 0zM389.86 173.7a1.1 1.1 0 1 0 2.2 0a1.1 1.1 0 1 0-2.2 0zM389.90 174.11a1.1 1.1 0 1 0 2.2 0a1.1 1.1 0 1 0-2.2 0zM389.93 173.84a1.1 1.1 0 1 0 2.2 0a1.1 1.1 0 1 0-2.2 0zM389.97 174.09a1.1 1.1 0 1 0 2.2 0a1.1 1.1 0 1 0-2.2 0zM390.01 173.96a1.1 1.1 0 1 0 2.2 0a1.1 1.1 0 1 0-2.2 0zM390.05 173.65a1.1 1.1 0 1 0 2.2 0a1.1 1.1 0 1 0-2.2 0zM390.08 173.48a1.1 1.1 0 1 0 2.2 0a1.1 1.1 0 1 0-2.2 0zM390.12 173.65a1.1 1.1 0 1 0 2.2 0a1.1 1.1 0 1 0-2.2 0zM390.16 174.4a1.1 1.1 0 1 0 2.2 0a1.1 1.1 0 1 0-2.2 0zM390.20 173.73a1.1 1.1 0 1 0 2.2 0a1.1 1.1 0 1 0-2.2 0zM390.24 173.42a1.1 1.1 0 1 0 2.2 0a1.1 1.1 0 1 0-2.2 0zM390.27 174.36a1.1 1.1 0 1 0 2.2 0a1.1 1.1 0 1 0-2.2 0zM390.31 174.42a1.1 1.1 0 1 0 2.2 0a1.1 1.1 0 1 0-2.2 0zM390.35 173.75a1.1 1.1 0 1 0 2.2 0a1.1 1.1 0 1 0-2.2 0zM390.39 174.33a1.1 1.1 0 1 0 2.2 0a1.1 1.1 0 1 0-2.2 0zM390.42 173.82a1.1 1.1 0 1 0 2.2 0a1.1 1.1 0 1 0-2.2 0zM390.46 173.68a1.1 1.1 0 1 0 2.2 0a1.1 1.1 0 1 0-2.2 0zM390.50 174.34a1.1 1.1 0 1 0 2.2 0a1.1 1.1 0 1 0-2.2 0zM390.53 173.75a1.1 1.1 0 1 0 2.2 0a1.1 1.1 0 1 0-2.2 0zM390.57 174.55a1.1 1.1 0 1 0 2.2 0a1.1 1.1 0 1 0-2.2 0zM390.61 174.16a1.1 1.1 0 1 0 2.2 0a1.1 1.1 0 1 0-2.2 0zM390.65 173.8a1.1 1.1 0 1 0 2.2 0a1.1 1.1 0 1 0-2.2 0zM390.68 174.59a1.1 1.1 0 1 0 2.2 0a1.1 1.1 0 1 0-2.2 0zM390.72 174.09a1.1 1.1 0 1 0 2.2 0a1.1 1.1 0 1 0-2.2 0zM390.76 174.2a1.1 1.1 0 1 0 2.2 0a1.1 1.1 0 1 0-2.2 0zM390.80 174.54a1.1 1.1 0 1 0 2.2 0a1.1 1.1 0 1 0-2.2 0zM390.83 174.87a1.1 1.1 0 1 0 2.2 0a1.1 1.1 0 1 0-2.2 0zM390.87 174.31a1.1 1.1 0 1 0 2.2 0a1.1 1.1 0 1 0-2.2 0zM390.91 174.4a1.1 1.1 0 1 0 2.2 0a1.1 1.1 0 1 0-2.2 0zM390.94 174.23a1.1 1.1 0 1 0 2.2 0a1.1 1.1 0 1 0-2.2 0zM390.98 174.0a1.1 1.1 0 1 0 2.2 0a1.1 1.1 0 1 0-2.2 0zM391.02 174.78a1.1 1.1 0 1 0 2.2 0a1.1 1.1 0 1 0-2.2 0zM391.05 174.9a1.1 1.1 0 1 0 2.2 0a1.1 1.1 0 1 0-2.2 0zM391.09 175.1a1.1 1.1 0 1 0 2.2 0a1.1 1.1 0 1 0-2.2 0zM391.13 174.47a1.1 1.1 0 1 0 2.2 0a1.1 1.1 0 1 0-2.2 0zM391.17 175.27a1.1 1.1 0 1 0 2.2 0a1.1 1.1 0 1 0-2.2 0zM391.20 174.35a1.1 1.1 0 1 0 2.2 0a1.1 1.1 0 1 0-2.2 0zM391.24 174.41a1.1 1.1 0 1 0 2.2 0a1.1 1.1 0 1 0-2.2 0zM391.28 174.68a1.1 1.1 0 1 0 2.2 0a1.1 1.1 0 1 0-2.2 0zM391.31 174.09a1.1 1.1 0 1 0 2.2 0a1.1 1.1 0 1 0-2.2 0zM391.35 174.9a1.1 1.1 0 1 0 2.2 0a1.1 1.1 0 1 0-2.2 0zM391.39 174.69a1.1 1.1 0 1 0 2.2 0a1.1 1.1 0 1 0-2.2 0zM391.42 174.92a1.1 1.1 0 1 0 2.2 0a1.1 1.1 0 1 0-2.2 0zM391.46 174.41a1.1 1.1 0 1 0 2.2 0a1.1 1.1 0 1 0-2.2 0zM391.50 174.73a1.1 1.1 0 1 0 2.2 0a1.1 1.1 0 1 0-2.2 0zM391.53 175.0a1.1 1.1 0 1 0 2.2 0a1.1 1.1 0 1 0-2.2 0zM391.57 175.15a1.1 1.1 0 1 0 2.2 0a1.1 1.1 0 1 0-2.2 0zM391.60 174.92a1.1 1.1 0 1 0 2.2 0a1.1 1.1 0 1 0-2.2 0zM391.64 175.31a1.1 1.1 0 1 0 2.2 0a1.1 1.1 0 1 0-2.2 0zM391.68 175.87a1.1 1.1 0 1 0 2.2 0a1.1 1.1 0 1 0-2.2 0zM391.71 175.07a1.1 1.1 0 1 0 2.2 0a1.1 1.1 0 1 0-2.2 0zM391.75 174.7a1.1 1.1 0 1 0 2.2 0a1.1 1.1 0 1 0-2.2 0zM391.79 175.91a1.1 1.1 0 1 0 2.2 0a1.1 1.1 0 1 0-2.2 0zM391.82 174.8a1.1 1.1 0 1 0 2.2 0a1.1 1.1 0 1 0-2.2 0zM391.86 175.72a1.1 1.1 0 1 0 2.2 0a1.1 1.1 0 1 0-2.2 0zM391.90 175.24a1.1 1.1 0 1 0 2.2 0a1.1 1.1 0 1 0-2.2 0zM391.93 174.78a1.1 1.1 0 1 0 2.2 0a1.1 1.1 0 1 0-2.2 0zM391.97 175.41a1.1 1.1 0 1 0 2.2 0a1.1 1.1 0 1 0-2.2 0zM392.00 175.82a1.1 1.1 0 1 0 2.2 0a1.1 1.1 0 1 0-2.2 0zM392.04 174.55a1.1 1.1 0 1 0 2.2 0a1.1 1.1 0 1 0-2.2 0zM392.08 175.41a1.1 1.1 0 1 0 2.2 0a1.1 1.1 0 1 0-2.2 0zM392.11 175.51a1.1 1.1 0 1 0 2.2 0a1.1 1.1 0 1 0-2.2 0zM392.15 175.78a1.1 1.1 0 1 0 2.2 0a1.1 1.1 0 1 0-2.2 0zM392.18 175.75a1.1 1.1 0 1 0 2.2 0a1.1 1.1 0 1 0-2.2 0zM392.22 175.08a1.1 1.1 0 1 0 2.2 0a1.1 1.1 0 1 0-2.2 0zM392.26 174.74a1.1 1.1 0 1 0 2.2 0a1.1 1.1 0 1 0-2.2 0zM392.29 175.68a1.1 1.1 0 1 0 2.2 0a1.1 1.1 0 1 0-2.2 0zM392.33 175.69a1.1 1.1 0 1 0 2.2 0a1.1 1.1 0 1 0-2.2 0zM392.36 175.44a1.1 1.1 0 1 0 2.2 0a1.1 1.1 0 1 0-2.2 0zM392.40 175.62a1.1 1.1 0 1 0 2.2 0a1.1 1.1 0 1 0-2.2 0zM392.44 175.17a1.1 1.1 0 1 0 2.2 0a1.1 1.1 0 1 0-2.2 0zM392.47 175.78a1.1 1.1 0 1 0 2.2 0a1.1 1.1 0 1 0-2.2 0zM392.51 175.81a1.1 1.1 0 1 0 2.2 0a1.1 1.1 0 1 0-2.2 0zM392.54 175.92a1.1 1.1 0 1 0 2.2 0a1.1 1.1 0 1 0-2.2 0zM392.58 175.71a1.1 1.1 0 1 0 2.2 0a1.1 1.1 0 1 0-2.2 0zM392.61 175.54a1.1 1.1 0 1 0 2.2 0a1.1 1.1 0 1 0-2.2 0zM392.65 175.51a1.1 1.1 0 1 0 2.2 0a1.1 1.1 0 1 0-2.2 0zM392.69 176.57a1.1 1.1 0 1 0 2.2 0a1.1 1.1 0 1 0-2.2 0zM392.72 176.23a1.1 1.1 0 1 0 2.2 0a1.1 1.1 0 1 0-2.2 0zM392.76 176.05a1.1 1.1 0 1 0 2.2 0a1.1 1.1 0 1 0-2.2 0zM392.79 176.41a1.1 1.1 0 1 0 2.2 0a1.1 1.1 0 1 0-2.2 0zM392.83 175.84a1.1 1.1 0 1 0 2.2 0a1.1 1.1 0 1 0-2.2 0zM392.86 175.86a1.1 1.1 0 1 0 2.2 0a1.1 1.1 0 1 0-2.2 0zM392.90 175.49a1.1 1.1 0 1 0 2.2 0a1.1 1.1 0 1 0-2.2 0zM392.93 176.27a1.1 1.1 0 1 0 2.2 0a1.1 1.1 0 1 0-2.2 0zM392.97 176.3a1.1 1.1 0 1 0 2.2 0a1.1 1.1 0 1 0-2.2 0zM393.00 175.79a1.1 1.1 0 1 0 2.2 0a1.1 1.1 0 1 0-2.2 0zM393.04 176.87a1.1 1.1 0 1 0 2.2 0a1.1 1.1 0 1 0-2.2 0zM393.08 175.68a1.1 1.1 0 1 0 2.2 0a1.1 1.1 0 1 0-2.2 0zM393.11 176.14a1.1 1.1 0 1 0 2.2 0a1.1 1.1 0 1 0-2.2 0zM393.15 176.34a1.1 1.1 0 1 0 2.2 0a1.1 1.1 0 1 0-2.2 0zM393.18 176.5a1.1 1.1 0 1 0 2.2 0a1.1 1.1 0 1 0-2.2 0zM393.22 176.76a1.1 1.1 0 1 0 2.2 0a1.1 1.1 0 1 0-2.2 0zM393.25 176.03a1.1 1.1 0 1 0 2.2 0a1.1 1.1 0 1 0-2.2 0zM393.29 176.49a1.1 1.1 0 1 0 2.2 0a1.1 1.1 0 1 0-2.2 0zM393.32 177.2a1.1 1.1 0 1 0 2.2 0a1.1 1.1 0 1 0-2.2 0zM393.36 176.16a1.1 1.1 0 1 0 2.2 0a1.1 1.1 0 1 0-2.2 0zM393.39 176.88a1.1 1.1 0 1 0 2.2 0a1.1 1.1 0 1 0-2.2 0zM393.43 176.33a1.1 1.1 0 1 0 2.2 0a1.1 1.1 0 1 0-2.2 0zM393.46 176.81a1.1 1.1 0 1 0 2.2 0a1.1 1.1 0 1 0-2.2 0zM393.50 176.47a1.1 1.1 0 1 0 2.2 0a1.1 1.1 0 1 0-2.2 0zM393.53 176.94a1.1 1.1 0 1 0 2.2 0a1.1 1.1 0 1 0-2.2 0zM393.57 175.55a1.1 1.1 0 1 0 2.2 0a1.1 1.1 0 1 0-2.2 0zM393.60 176.4a1.1 1.1 0 1 0 2.2 0a1.1 1.1 0 1 0-2.2 0zM393.64 176.81a1.1 1.1 0 1 0 2.2 0a1.1 1.1 0 1 0-2.2 0zM393.67 176.97a1.1 1.1 0 1 0 2.2 0a1.1 1.1 0 1 0-2.2 0zM393.71 176.6a1.1 1.1 0 1 0 2.2 0a1.1 1.1 0 1 0-2.2 0zM393.74 176.64a1.1 1.1 0 1 0 2.2 0a1.1 1.1 0 1 0-2.2 0zM393.77 177.34a1.1 1.1 0 1 0 2.2 0a1.1 1.1 0 1 0-2.2 0zM393.81 176.36a1.1 1.1 0 1 0 2.2 0a1.1 1.1 0 1 0-2.2 0zM393.84 177.01a1.1 1.1 0 1 0 2.2 0a1.1 1.1 0 1 0-2.2 0zM393.88 177.51a1.1 1.1 0 1 0 2.2 0a1.1 1.1 0 1 0-2.2 0zM393.91 176.93a1.1 1.1 0 1 0 2.2 0a1.1 1.1 0 1 0-2.2 0zM393.95 177.34a1.1 1.1 0 1 0 2.2 0a1.1 1.1 0 1 0-2.2 0zM393.98 177.01a1.1 1.1 0 1 0 2.2 0a1.1 1.1 0 1 0-2.2 0zM394.02 177.02a1.1 1.1 0 1 0 2.2 0a1.1 1.1 0 1 0-2.2 0zM394.05 177.21a1.1 1.1 0 1 0 2.2 0a1.1 1.1 0 1 0-2.2 0zM394.09 176.92a1.1 1.1 0 1 0 2.2 0a1.1 1.1 0 1 0-2.2 0zM394.12 177.09a1.1 1.1 0 1 0 2.2 0a1.1 1.1 0 1 0-2.2 0zM394.16 177.38a1.1 1.1 0 1 0 2.2 0a1.1 1.1 0 1 0-2.2 0zM394.19 177.41a1.1 1.1 0 1 0 2.2 0a1.1 1.1 0 1 0-2.2 0zM394.22 177.1a1.1 1.1 0 1 0 2.2 0a1.1 1.1 0 1 0-2.2 0zM394.26 176.97a1.1 1.1 0 1 0 2.2 0a1.1 1.1 0 1 0-2.2 0zM394.29 176.79a1.1 1.1 0 1 0 2.2 0a1.1 1.1 0 1 0-2.2 0zM394.33 178.05a1.1 1.1 0 1 0 2.2 0a1.1 1.1 0 1 0-2.2 0zM394.36 177.4a1.1 1.1 0 1 0 2.2 0a1.1 1.1 0 1 0-2.2 0zM394.40 177.12a1.1 1.1 0 1 0 2.2 0a1.1 1.1 0 1 0-2.2 0zM394.43 176.74a1.1 1.1 0 1 0 2.2 0a1.1 1.1 0 1 0-2.2 0zM394.46 177.38a1.1 1.1 0 1 0 2.2 0a1.1 1.1 0 1 0-2.2 0zM394.50 178.29a1.1 1.1 0 1 0 2.2 0a1.1 1.1 0 1 0-2.2 0zM394.53 178.31a1.1 1.1 0 1 0 2.2 0a1.1 1.1 0 1 0-2.2 0zM394.57 177.21a1.1 1.1 0 1 0 2.2 0a1.1 1.1 0 1 0-2.2 0zM394.60 178.48a1.1 1.1 0 1 0 2.2 0a1.1 1.1 0 1 0-2.2 0zM394.63 177.5a1.1 1.1 0 1 0 2.2 0a1.1 1.1 0 1 0-2.2 0zM394.67 177.41a1.1 1.1 0 1 0 2.2 0a1.1 1.1 0 1 0-2.2 0zM394.70 178.04a1.1 1.1 0 1 0 2.2 0a1.1 1.1 0 1 0-2.2 0zM394.74 178.18a1.1 1.1 0 1 0 2.2 0a1.1 1.1 0 1 0-2.2 0zM394.77 178.4a1.1 1.1 0 1 0 2.2 0a1.1 1.1 0 1 0-2.2 0zM394.80 178.3a1.1 1.1 0 1 0 2.2 0a1.1 1.1 0 1 0-2.2 0zM394.84 178.31a1.1 1.1 0 1 0 2.2 0a1.1 1.1 0 1 0-2.2 0zM394.87 178.35a1.1 1.1 0 1 0 2.2 0a1.1 1.1 0 1 0-2.2 0zM394.91 178.49a1.1 1.1 0 1 0 2.2 0a1.1 1.1 0 1 0-2.2 0zM394.94 178.59a1.1 1.1 0 1 0 2.2 0a1.1 1.1 0 1 0-2.2 0zM394.97 178.2a1.1 1.1 0 1 0 2.2 0a1.1 1.1 0 1 0-2.2 0zM395.01 178.52a1.1 1.1 0 1 0 2.2 0a1.1 1.1 0 1 0-2.2 0zM395.04 178.95a1.1 1.1 0 1 0 2.2 0a1.1 1.1 0 1 0-2.2 0zM395.07 178.68a1.1 1.1 0 1 0 2.2 0a1.1 1.1 0 1 0-2.2 0zM395.11 178.86a1.1 1.1 0 1 0 2.2 0a1.1 1.1 0 1 0-2.2 0zM395.14 178.44a1.1 1.1 0 1 0 2.2 0a1.1 1.1 0 1 0-2.2 0zM395.18 178.37a1.1 1.1 0 1 0 2.2 0a1.1 1.1 0 1 0-2.2 0zM395.21 178.21a1.1 1.1 0 1 0 2.2 0a1.1 1.1 0 1 0-2.2 0zM395.24 179.12a1.1 1.1 0 1 0 2.2 0a1.1 1.1 0 1 0-2.2 0zM395.28 178.26a1.1 1.1 0 1 0 2.2 0a1.1 1.1 0 1 0-2.2 0zM395.31 179.19a1.1 1.1 0 1 0 2.2 0a1.1 1.1 0 1 0-2.2 0zM395.34 179.07a1.1 1.1 0 1 0 2.2 0a1.1 1.1 0 1 0-2.2 0zM395.38 179.08a1.1 1.1 0 1 0 2.2 0a1.1 1.1 0 1 0-2.2 0zM395.41 178.99a1.1 1.1 0 1 0 2.2 0a1.1 1.1 0 1 0-2.2 0zM395.44 178.81a1.1 1.1 0 1 0 2.2 0a1.1 1.1 0 1 0-2.2 0zM395.48 179.2a1.1 1.1 0 1 0 2.2 0a1.1 1.1 0 1 0-2.2 0zM395.51 179.05a1.1 1.1 0 1 0 2.2 0a1.1 1.1 0 1 0-2.2 0zM395.54 178.37a1.1 1.1 0 1 0 2.2 0a1.1 1.1 0 1 0-2.2 0zM395.58 178.78a1.1 1.1 0 1 0 2.2 0a1.1 1.1 0 1 0-2.2 0zM395.61 179.29a1.1 1.1 0 1 0 2.2 0a1.1 1.1 0 1 0-2.2 0zM395.64 178.76a1.1 1.1 0 1 0 2.2 0a1.1 1.1 0 1 0-2.2 0zM395.68 179.37a1.1 1.1 0 1 0 2.2 0a1.1 1.1 0 1 0-2.2 0zM395.71 179.49a1.1 1.1 0 1 0 2.2 0a1.1 1.1 0 1 0-2.2 0zM395.74 180.26a1.1 1.1 0 1 0 2.2 0a1.1 1.1 0 1 0-2.2 0zM395.78 179.55a1.1 1.1 0 1 0 2.2 0a1.1 1.1 0 1 0-2.2 0zM395.81 179.58a1.1 1.1 0 1 0 2.2 0a1.1 1.1 0 1 0-2.2 0zM395.84 180.09a1.1 1.1 0 1 0 2.2 0a1.1 1.1 0 1 0-2.2 0zM395.88 179.97a1.1 1.1 0 1 0 2.2 0a1.1 1.1 0 1 0-2.2 0zM395.91 179.5a1.1 1.1 0 1 0 2.2 0a1.1 1.1 0 1 0-2.2 0zM395.94 180.18a1.1 1.1 0 1 0 2.2 0a1.1 1.1 0 1 0-2.2 0zM395.98 179.46a1.1 1.1 0 1 0 2.2 0a1.1 1.1 0 1 0-2.2 0zM396.01 180.17a1.1 1.1 0 1 0 2.2 0a1.1 1.1 0 1 0-2.2 0zM396.04 180.79a1.1 1.1 0 1 0 2.2 0a1.1 1.1 0 1 0-2.2 0zM396.08 179.6a1.1 1.1 0 1 0 2.2 0a1.1 1.1 0 1 0-2.2 0zM396.11 180.38a1.1 1.1 0 1 0 2.2 0a1.1 1.1 0 1 0-2.2 0zM396.14 180.43a1.1 1.1 0 1 0 2.2 0a1.1 1.1 0 1 0-2.2 0zM396.17 180.45a1.1 1.1 0 1 0 2.2 0a1.1 1.1 0 1 0-2.2 0zM396.21 179.71a1.1 1.1 0 1 0 2.2 0a1.1 1.1 0 1 0-2.2 0zM396.24 180.46a1.1 1.1 0 1 0 2.2 0a1.1 1.1 0 1 0-2.2 0zM396.27 180.28a1.1 1.1 0 1 0 2.2 0a1.1 1.1 0 1 0-2.2 0zM396.31 180.06a1.1 1.1 0 1 0 2.2 0a1.1 1.1 0 1 0-2.2 0zM396.34 180.22a1.1 1.1 0 1 0 2.2 0a1.1 1.1 0 1 0-2.2 0zM396.37 180.18a1.1 1.1 0 1 0 2.2 0a1.1 1.1 0 1 0-2.2 0zM396.40 180.58a1.1 1.1 0 1 0 2.2 0a1.1 1.1 0 1 0-2.2 0zM396.44 180.59a1.1 1.1 0 1 0 2.2 0a1.1 1.1 0 1 0-2.2 0zM396.47 180.19a1.1 1.1 0 1 0 2.2 0a1.1 1.1 0 1 0-2.2 0zM396.50 180.37a1.1 1.1 0 1 0 2.2 0a1.1 1.1 0 1 0-2.2 0zM396.53 180.55a1.1 1.1 0 1 0 2.2 0a1.1 1.1 0 1 0-2.2 0zM396.57 180.97a1.1 1.1 0 1 0 2.2 0a1.1 1.1 0 1 0-2.2 0zM396.60 180.6a1.1 1.1 0 1 0 2.2 0a1.1 1.1 0 1 0-2.2 0zM396.63 180.43a1.1 1.1 0 1 0 2.2 0a1.1 1.1 0 1 0-2.2 0zM396.66 181.14a1.1 1.1 0 1 0 2.2 0a1.1 1.1 0 1 0-2.2 0zM396.70 180.63a1.1 1.1 0 1 0 2.2 0a1.1 1.1 0 1 0-2.2 0zM396.73 180.72a1.1 1.1 0 1 0 2.2 0a1.1 1.1 0 1 0-2.2 0zM396.76 180.81a1.1 1.1 0 1 0 2.2 0a1.1 1.1 0 1 0-2.2 0zM396.79 180.81a1.1 1.1 0 1 0 2.2 0a1.1 1.1 0 1 0-2.2 0zM396.83 180.67a1.1 1.1 0 1 0 2.2 0a1.1 1.1 0 1 0-2.2 0zM396.86 181.24a1.1 1.1 0 1 0 2.2 0a1.1 1.1 0 1 0-2.2 0zM396.89 180.86a1.1 1.1 0 1 0 2.2 0a1.1 1.1 0 1 0-2.2 0zM396.92 180.76a1.1 1.1 0 1 0 2.2 0a1.1 1.1 0 1 0-2.2 0zM396.96 181.66a1.1 1.1 0 1 0 2.2 0a1.1 1.1 0 1 0-2.2 0zM396.99 180.96a1.1 1.1 0 1 0 2.2 0a1.1 1.1 0 1 0-2.2 0zM397.02 181.11a1.1 1.1 0 1 0 2.2 0a1.1 1.1 0 1 0-2.2 0zM397.05 181.08a1.1 1.1 0 1 0 2.2 0a1.1 1.1 0 1 0-2.2 0zM397.09 181.72a1.1 1.1 0 1 0 2.2 0a1.1 1.1 0 1 0-2.2 0zM397.12 181.58a1.1 1.1 0 1 0 2.2 0a1.1 1.1 0 1 0-2.2 0zM397.15 181.73a1.1 1.1 0 1 0 2.2 0a1.1 1.1 0 1 0-2.2 0zM397.18 180.99a1.1 1.1 0 1 0 2.2 0a1.1 1.1 0 1 0-2.2 0zM397.21 181.33a1.1 1.1 0 1 0 2.2 0a1.1 1.1 0 1 0-2.2 0zM397.25 180.88a1.1 1.1 0 1 0 2.2 0a1.1 1.1 0 1 0-2.2 0zM397.28 181.77a1.1 1.1 0 1 0 2.2 0a1.1 1.1 0 1 0-2.2 0zM397.31 181.82a1.1 1.1 0 1 0 2.2 0a1.1 1.1 0 1 0-2.2 0zM397.34 182.13a1.1 1.1 0 1 0 2.2 0a1.1 1.1 0 1 0-2.2 0zM397.37 180.7a1.1 1.1 0 1 0 2.2 0a1.1 1.1 0 1 0-2.2 0zM397.41 181.66a1.1 1.1 0 1 0 2.2 0a1.1 1.1 0 1 0-2.2 0zM397.44 181.58a1.1 1.1 0 1 0 2.2 0a1.1 1.1 0 1 0-2.2 0zM397.47 181.28a1.1 1.1 0 1 0 2.2 0a1.1 1.1 0 1 0-2.2 0zM397.50 182.14a1.1 1.1 0 1 0 2.2 0a1.1 1.1 0 1 0-2.2 0zM397.53 181.79a1.1 1.1 0 1 0 2.2 0a1.1 1.1 0 1 0-2.2 0zM397.57 181.27a1.1 1.1 0 1 0 2.2 0a1.1 1.1 0 1 0-2.2 0zM397.60 181.88a1.1 1.1 0 1 0 2.2 0a1.1 1.1 0 1 0-2.2 0zM397.63 181.44a1.1 1.1 0 1 0 2.2 0a1.1 1.1 0 1 0-2.2 0zM397.66 181.31a1.1 1.1 0 1 0 2.2 0a1.1 1.1 0 1 0-2.2 0zM397.69 181.7a1.1 1.1 0 1 0 2.2 0a1.1 1.1 0 1 0-2.2 0zM397.73 182.18a1.1 1.1 0 1 0 2.2 0a1.1 1.1 0 1 0-2.2 0zM397.76 181.39a1.1 1.1 0 1 0 2.2 0a1.1 1.1 0 1 0-2.2 0zM397.79 182.07a1.1 1.1 0 1 0 2.2 0a1.1 1.1 0 1 0-2.2 0zM397.82 182.23a1.1 1.1 0 1 0 2.2 0a1.1 1.1 0 1 0-2.2 0zM397.85 182.61a1.1 1.1 0 1 0 2.2 0a1.1 1.1 0 1 0-2.2 0zM397.88 182.49a1.1 1.1 0 1 0 2.2 0a1.1 1.1 0 1 0-2.2 0zM397.92 183.01a1.1 1.1 0 1 0 2.2 0a1.1 1.1 0 1 0-2.2 0zM397.95 182.15a1.1 1.1 0 1 0 2.2 0a1.1 1.1 0 1 0-2.2 0zM397.98 181.86a1.1 1.1 0 1 0 2.2 0a1.1 1.1 0 1 0-2.2 0zM398.01 182.73a1.1 1.1 0 1 0 2.2 0a1.1 1.1 0 1 0-2.2 0zM398.04 182.18a1.1 1.1 0 1 0 2.2 0a1.1 1.1 0 1 0-2.2 0zM398.07 182.07a1.1 1.1 0 1 0 2.2 0a1.1 1.1 0 1 0-2.2 0zM398.10 183.61a1.1 1.1 0 1 0 2.2 0a1.1 1.1 0 1 0-2.2 0zM398.14 182.93a1.1 1.1 0 1 0 2.2 0a1.1 1.1 0 1 0-2.2 0zM398.17 183.1a1.1 1.1 0 1 0 2.2 0a1.1 1.1 0 1 0-2.2 0zM398.20 182.86a1.1 1.1 0 1 0 2.2 0a1.1 1.1 0 1 0-2.2 0zM398.23 182.63a1.1 1.1 0 1 0 2.2 0a1.1 1.1 0 1 0-2.2 0zM398.26 182.6a1.1 1.1 0 1 0 2.2 0a1.1 1.1 0 1 0-2.2 0zM398.29 182.29a1.1 1.1 0 1 0 2.2 0a1.1 1.1 0 1 0-2.2 0zM398.32 183.16a1.1 1.1 0 1 0 2.2 0a1.1 1.1 0 1 0-2.2 0zM398.36 183.67a1.1 1.1 0 1 0 2.2 0a1.1 1.1 0 1 0-2.2 0zM398.39 183.05a1.1 1.1 0 1 0 2.2 0a1.1 1.1 0 1 0-2.2 0zM398.42 182.8a1.1 1.1 0 1 0 2.2 0a1.1 1.1 0 1 0-2.2 0zM398.45 182.65a1.1 1.1 0 1 0 2.2 0a1.1 1.1 0 1 0-2.2 0zM398.48 183.08a1.1 1.1 0 1 0 2.2 0a1.1 1.1 0 1 0-2.2 0zM398.51 183.42a1.1 1.1 0 1 0 2.2 0a1.1 1.1 0 1 0-2.2 0zM398.54 183.24a1.1 1.1 0 1 0 2.2 0a1.1 1.1 0 1 0-2.2 0zM398.57 183.48a1.1 1.1 0 1 0 2.2 0a1.1 1.1 0 1 0-2.2 0zM398.61 183.52a1.1 1.1 0 1 0 2.2 0a1.1 1.1 0 1 0-2.2 0zM398.64 183.33a1.1 1.1 0 1 0 2.2 0a1.1 1.1 0 1 0-2.2 0zM398.67 183.94a1.1 1.1 0 1 0 2.2 0a1.1 1.1 0 1 0-2.2 0zM398.70 183.37a1.1 1.1 0 1 0 2.2 0a1.1 1.1 0 1 0-2.2 0zM398.73 182.94a1.1 1.1 0 1 0 2.2 0a1.1 1.1 0 1 0-2.2 0zM398.76 184.22a1.1 1.1 0 1 0 2.2 0a1.1 1.1 0 1 0-2.2 0zM398.79 183.38a1.1 1.1 0 1 0 2.2 0a1.1 1.1 0 1 0-2.2 0zM398.82 184.19a1.1 1.1 0 1 0 2.2 0a1.1 1.1 0 1 0-2.2 0zM398.85 183.9a1.1 1.1 0 1 0 2.2 0a1.1 1.1 0 1 0-2.2 0zM398.88 184.2a1.1 1.1 0 1 0 2.2 0a1.1 1.1 0 1 0-2.2 0zM398.92 184.53a1.1 1.1 0 1 0 2.2 0a1.1 1.1 0 1 0-2.2 0zM398.95 183.58a1.1 1.1 0 1 0 2.2 0a1.1 1.1 0 1 0-2.2 0zM398.98 184.03a1.1 1.1 0 1 0 2.2 0a1.1 1.1 0 1 0-2.2 0zM399.01 183.91a1.1 1.1 0 1 0 2.2 0a1.1 1.1 0 1 0-2.2 0zM399.04 184.25a1.1 1.1 0 1 0 2.2 0a1.1 1.1 0 1 0-2.2 0zM399.07 183.64a1.1 1.1 0 1 0 2.2 0a1.1 1.1 0 1 0-2.2 0zM399.10 182.75a1.1 1.1 0 1 0 2.2 0a1.1 1.1 0 1 0-2.2 0zM399.13 183.68a1.1 1.1 0 1 0 2.2 0a1.1 1.1 0 1 0-2.2 0zM399.16 183.37a1.1 1.1 0 1 0 2.2 0a1.1 1.1 0 1 0-2.2 0zM399.19 184.5a1.1 1.1 0 1 0 2.2 0a1.1 1.1 0 1 0-2.2 0zM399.22 184.02a1.1 1.1 0 1 0 2.2 0a1.1 1.1 0 1 0-2.2 0zM399.25 183.03a1.1 1.1 0 1 0 2.2 0a1.1 1.1 0 1 0-2.2 0zM399.29 184.02a1.1 1.1 0 1 0 2.2 0a1.1 1.1 0 1 0-2.2 0zM399.32 183.77a1.1 1.1 0 1 0 2.2 0a1.1 1.1 0 1 0-2.2 0zM399.35 184.09a1.1 1.1 0 1 0 2.2 0a1.1 1.1 0 1 0-2.2 0zM399.38 184.15a1.1 1.1 0 1 0 2.2 0a1.1 1.1 0 1 0-2.2 0zM399.41 184.58a1.1 1.1 0 1 0 2.2 0a1.1 1.1 0 1 0-2.2 0zM399.44 183.78a1.1 1.1 0 1 0 2.2 0a1.1 1.1 0 1 0-2.2 0zM399.47 184.18a1.1 1.1 0 1 0 2.2 0a1.1 1.1 0 1 0-2.2 0zM399.50 184.01a1.1 1.1 0 1 0 2.2 0a1.1 1.1 0 1 0-2.2 0zM399.53 184.82a1.1 1.1 0 1 0 2.2 0a1.1 1.1 0 1 0-2.2 0zM399.56 184.45a1.1 1.1 0 1 0 2.2 0a1.1 1.1 0 1 0-2.2 0zM399.59 184.21a1.1 1.1 0 1 0 2.2 0a1.1 1.1 0 1 0-2.2 0zM399.62 184.83a1.1 1.1 0 1 0 2.2 0a1.1 1.1 0 1 0-2.2 0zM399.65 184.52a1.1 1.1 0 1 0 2.2 0a1.1 1.1 0 1 0-2.2 0zM399.68 184.96a1.1 1.1 0 1 0 2.2 0a1.1 1.1 0 1 0-2.2 0zM399.71 184.5a1.1 1.1 0 1 0 2.2 0a1.1 1.1 0 1 0-2.2 0zM399.74 185.19a1.1 1.1 0 1 0 2.2 0a1.1 1.1 0 1 0-2.2 0zM399.77 184.53a1.1 1.1 0 1 0 2.2 0a1.1 1.1 0 1 0-2.2 0zM399.80 185.37a1.1 1.1 0 1 0 2.2 0a1.1 1.1 0 1 0-2.2 0zM399.83 184.6a1.1 1.1 0 1 0 2.2 0a1.1 1.1 0 1 0-2.2 0zM399.86 185.31a1.1 1.1 0 1 0 2.2 0a1.1 1.1 0 1 0-2.2 0zM399.89 185.23a1.1 1.1 0 1 0 2.2 0a1.1 1.1 0 1 0-2.2 0zM399.92 185.44a1.1 1.1 0 1 0 2.2 0a1.1 1.1 0 1 0-2.2 0zM399.95 185.18a1.1 1.1 0 1 0 2.2 0a1.1 1.1 0 1 0-2.2 0zM399.99 184.65a1.1 1.1 0 1 0 2.2 0a1.1 1.1 0 1 0-2.2 0zM400.02 185.15a1.1 1.1 0 1 0 2.2 0a1.1 1.1 0 1 0-2.2 0zM400.05 186.13a1.1 1.1 0 1 0 2.2 0a1.1 1.1 0 1 0-2.2 0zM400.08 185.56a1.1 1.1 0 1 0 2.2 0a1.1 1.1 0 1 0-2.2 0zM400.11 186.27a1.1 1.1 0 1 0 2.2 0a1.1 1.1 0 1 0-2.2 0zM400.14 185.53a1.1 1.1 0 1 0 2.2 0a1.1 1.1 0 1 0-2.2 0zM400.17 185.36a1.1 1.1 0 1 0 2.2 0a1.1 1.1 0 1 0-2.2 0zM400.20 185.26a1.1 1.1 0 1 0 2.2 0a1.1 1.1 0 1 0-2.2 0zM400.23 185.3a1.1 1.1 0 1 0 2.2 0a1.1 1.1 0 1 0-2.2 0zM400.26 185.76a1.1 1.1 0 1 0 2.2 0a1.1 1.1 0 1 0-2.2 0zM400.29 186.3a1.1 1.1 0 1 0 2.2 0a1.1 1.1 0 1 0-2.2 0zM400.32 185.68a1.1 1.1 0 1 0 2.2 0a1.1 1.1 0 1 0-2.2 0zM400.35 184.91a1.1 1.1 0 1 0 2.2 0a1.1 1.1 0 1 0-2.2 0zM400.38 185.57a1.1 1.1 0 1 0 2.2 0a1.1 1.1 0 1 0-2.2 0zM400.41 184.82a1.1 1.1 0 1 0 2.2 0a1.1 1.1 0 1 0-2.2 0zM400.44 185.52a1.1 1.1 0 1 0 2.2 0a1.1 1.1 0 1 0-2.2 0zM400.47 185.11a1.1 1.1 0 1 0 2.2 0a1.1 1.1 0 1 0-2.2 0zM400.50 186.45a1.1 1.1 0 1 0 2.2 0a1.1 1.1 0 1 0-2.2 0zM400.53 185.64a1.1 1.1 0 1 0 2.2 0a1.1 1.1 0 1 0-2.2 0zM400.55 185.57a1.1 1.1 0 1 0 2.2 0a1.1 1.1 0 1 0-2.2 0zM400.58 185.62a1.1 1.1 0 1 0 2.2 0a1.1 1.1 0 1 0-2.2 0zM400.61 185.45a1.1 1.1 0 1 0 2.2 0a1.1 1.1 0 1 0-2.2 0zM400.64 186.01a1.1 1.1 0 1 0 2.2 0a1.1 1.1 0 1 0-2.2 0zM400.67 186.46a1.1 1.1 0 1 0 2.2 0a1.1 1.1 0 1 0-2.2 0zM400.70 186.84a1.1 1.1 0 1 0 2.2 0a1.1 1.1 0 1 0-2.2 0zM400.73 186.54a1.1 1.1 0 1 0 2.2 0a1.1 1.1 0 1 0-2.2 0zM400.76 186.3a1.1 1.1 0 1 0 2.2 0a1.1 1.1 0 1 0-2.2 0zM400.79 186.83a1.1 1.1 0 1 0 2.2 0a1.1 1.1 0 1 0-2.2 0zM400.82 186.49a1.1 1.1 0 1 0 2.2 0a1.1 1.1 0 1 0-2.2 0zM400.85 186.24a1.1 1.1 0 1 0 2.2 0a1.1 1.1 0 1 0-2.2 0zM400.88 186.51a1.1 1.1 0 1 0 2.2 0a1.1 1.1 0 1 0-2.2 0zM400.91 186.7a1.1 1.1 0 1 0 2.2 0a1.1 1.1 0 1 0-2.2 0zM400.94 186.62a1.1 1.1 0 1 0 2.2 0a1.1 1.1 0 1 0-2.2 0zM400.97 186.73a1.1 1.1 0 1 0 2.2 0a1.1 1.1 0 1 0-2.2 0zM401.00 186.8a1.1 1.1 0 1 0 2.2 0a1.1 1.1 0 1 0-2.2 0zM401.03 187.18a1.1 1.1 0 1 0 2.2 0a1.1 1.1 0 1 0-2.2 0zM401.06 186.93a1.1 1.1 0 1 0 2.2 0a1.1 1.1 0 1 0-2.2 0zM401.09 186.43a1.1 1.1 0 1 0 2.2 0a1.1 1.1 0 1 0-2.2 0zM401.12 187.14a1.1 1.1 0 1 0 2.2 0a1.1 1.1 0 1 0-2.2 0zM401.15 185.99a1.1 1.1 0 1 0 2.2 0a1.1 1.1 0 1 0-2.2 0zM401.18 186.36a1.1 1.1 0 1 0 2.2 0a1.1 1.1 0 1 0-2.2 0zM401.21 186.64a1.1 1.1 0 1 0 2.2 0a1.1 1.1 0 1 0-2.2 0zM401.23 186.7a1.1 1.1 0 1 0 2.2 0a1.1 1.1 0 1 0-2.2 0zM401.26 186.49a1.1 1.1 0 1 0 2.2 0a1.1 1.1 0 1 0-2.2 0zM401.29 187.67a1.1 1.1 0 1 0 2.2 0a1.1 1.1 0 1 0-2.2 0zM401.32 187.98a1.1 1.1 0 1 0 2.2 0a1.1 1.1 0 1 0-2.2 0zM401.35 188.12a1.1 1.1 0 1 0 2.2 0a1.1 1.1 0 1 0-2.2 0zM401.38 187.07a1.1 1.1 0 1 0 2.2 0a1.1 1.1 0 1 0-2.2 0zM401.41 186.69a1.1 1.1 0 1 0 2.2 0a1.1 1.1 0 1 0-2.2 0zM401.44 187.65a1.1 1.1 0 1 0 2.2 0a1.1 1.1 0 1 0-2.2 0zM401.47 188.4a1.1 1.1 0 1 0 2.2 0a1.1 1.1 0 1 0-2.2 0zM401.50 186.84a1.1 1.1 0 1 0 2.2 0a1.1 1.1 0 1 0-2.2 0zM401.53 188.05a1.1 1.1 0 1 0 2.2 0a1.1 1.1 0 1 0-2.2 0zM401.56 186.68a1.1 1.1 0 1 0 2.2 0a1.1 1.1 0 1 0-2.2 0zM401.59 187.52a1.1 1.1 0 1 0 2.2 0a1.1 1.1 0 1 0-2.2 0zM401.61 187.32a1.1 1.1 0 1 0 2.2 0a1.1 1.1 0 1 0-2.2 0zM401.64 186.86a1.1 1.1 0 1 0 2.2 0a1.1 1.1 0 1 0-2.2 0zM401.67 187.67a1.1 1.1 0 1 0 2.2 0a1.1 1.1 0 1 0-2.2 0zM401.70 187.98a1.1 1.1 0 1 0 2.2 0a1.1 1.1 0 1 0-2.2 0zM401.73 188.53a1.1 1.1 0 1 0 2.2 0a1.1 1.1 0 1 0-2.2 0zM401.76 187.17a1.1 1.1 0 1 0 2.2 0a1.1 1.1 0 1 0-2.2 0zM401.79 187.02a1.1 1.1 0 1 0 2.2 0a1.1 1.1 0 1 0-2.2 0zM401.82 187.7a1.1 1.1 0 1 0 2.2 0a1.1 1.1 0 1 0-2.2 0zM401.85 188.48a1.1 1.1 0 1 0 2.2 0a1.1 1.1 0 1 0-2.2 0zM401.88 188.5a1.1 1.1 0 1 0 2.2 0a1.1 1.1 0 1 0-2.2 0zM401.90 187.61a1.1 1.1 0 1 0 2.2 0a1.1 1.1 0 1 0-2.2 0zM401.93 187.4a1.1 1.1 0 1 0 2.2 0a1.1 1.1 0 1 0-2.2 0zM401.96 188.64a1.1 1.1 0 1 0 2.2 0a1.1 1.1 0 1 0-2.2 0zM401.99 188.19a1.1 1.1 0 1 0 2.2 0a1.1 1.1 0 1 0-2.2 0zM402.02 188.14a1.1 1.1 0 1 0 2.2 0a1.1 1.1 0 1 0-2.2 0zM402.05 187.01a1.1 1.1 0 1 0 2.2 0a1.1 1.1 0 1 0-2.2 0zM402.08 187.62a1.1 1.1 0 1 0 2.2 0a1.1 1.1 0 1 0-2.2 0zM402.11 187.6a1.1 1.1 0 1 0 2.2 0a1.1 1.1 0 1 0-2.2 0zM402.14 188.72a1.1 1.1 0 1 0 2.2 0a1.1 1.1 0 1 0-2.2 0zM402.16 188.98a1.1 1.1 0 1 0 2.2 0a1.1 1.1 0 1 0-2.2 0zM402.19 188.82a1.1 1.1 0 1 0 2.2 0a1.1 1.1 0 1 0-2.2 0zM402.22 188.45a1.1 1.1 0 1 0 2.2 0a1.1 1.1 0 1 0-2.2 0zM402.25 188.27a1.1 1.1 0 1 0 2.2 0a1.1 1.1 0 1 0-2.2 0zM402.28 189.24a1.1 1.1 0 1 0 2.2 0a1.1 1.1 0 1 0-2.2 0zM402.31 188.69a1.1 1.1 0 1 0 2.2 0a1.1 1.1 0 1 0-2.2 0zM402.34 187.83a1.1 1.1 0 1 0 2.2 0a1.1 1.1 0 1 0-2.2 0zM402.36 188.55a1.1 1.1 0 1 0 2.2 0a1.1 1.1 0 1 0-2.2 0zM402.39 188.35a1.1 1.1 0 1 0 2.2 0a1.1 1.1 0 1 0-2.2 0zM402.42 189.57a1.1 1.1 0 1 0 2.2 0a1.1 1.1 0 1 0-2.2 0zM402.45 188.2a1.1 1.1 0 1 0 2.2 0a1.1 1.1 0 1 0-2.2 0zM402.48 189.16a1.1 1.1 0 1 0 2.2 0a1.1 1.1 0 1 0-2.2 0zM402.51 189.73a1.1 1.1 0 1 0 2.2 0a1.1 1.1 0 1 0-2.2 0zM402.54 189.17a1.1 1.1 0 1 0 2.2 0a1.1 1.1 0 1 0-2.2 0zM402.56 188.0a1.1 1.1 0 1 0 2.2 0a1.1 1.1 0 1 0-2.2 0zM402.59 189.04a1.1 1.1 0 1 0 2.2 0a1.1 1.1 0 1 0-2.2 0zM402.62 190.33a1.1 1.1 0 1 0 2.2 0a1.1 1.1 0 1 0-2.2 0zM402.65 188.83a1.1 1.1 0 1 0 2.2 0a1.1 1.1 0 1 0-2.2 0zM402.68 188.63a1.1 1.1 0 1 0 2.2 0a1.1 1.1 0 1 0-2.2 0zM402.71 190.34a1.1 1.1 0 1 0 2.2 0a1.1 1.1 0 1 0-2.2 0zM402.74 189.78a1.1 1.1 0 1 0 2.2 0a1.1 1.1 0 1 0-2.2 0zM402.76 189.93a1.1 1.1 0 1 0 2.2 0a1.1 1.1 0 1 0-2.2 0zM402.79 188.5a1.1 1.1 0 1 0 2.2 0a1.1 1.1 0 1 0-2.2 0zM402.82 189.55a1.1 1.1 0 1 0 2.2 0a1.1 1.1 0 1 0-2.2 0zM402.85 189.76a1.1 1.1 0 1 0 2.2 0a1.1 1.1 0 1 0-2.2 0zM402.88 190.28a1.1 1.1 0 1 0 2.2 0a1.1 1.1 0 1 0-2.2 0zM402.91 189.46a1.1 1.1 0 1 0 2.2 0a1.1 1.1 0 1 0-2.2 0zM402.93 189.38a1.1 1.1 0 1 0 2.2 0a1.1 1.1 0 1 0-2.2 0zM402.96 191.68a1.1 1.1 0 1 0 2.2 0a1.1 1.1 0 1 0-2.2 0zM402.99 189.53a1.1 1.1 0 1 0 2.2 0a1.1 1.1 0 1 0-2.2 0zM403.02 190.12a1.1 1.1 0 1 0 2.2 0a1.1 1.1 0 1 0-2.2 0zM403.05 189.5a1.1 1.1 0 1 0 2.2 0a1.1 1.1 0 1 0-2.2 0zM403.07 190.78a1.1 1.1 0 1 0 2.2 0a1.1 1.1 0 1 0-2.2 0zM403.10 190.2a1.1 1.1 0 1 0 2.2 0a1.1 1.1 0 1 0-2.2 0zM403.13 191.61a1.1 1.1 0 1 0 2.2 0a1.1 1.1 0 1 0-2.2 0zM403.16 190.58a1.1 1.1 0 1 0 2.2 0a1.1 1.1 0 1 0-2.2 0zM403.19 190.32a1.1 1.1 0 1 0 2.2 0a1.1 1.1 0 1 0-2.2 0zM403.21 191.76a1.1 1.1 0 1 0 2.2 0a1.1 1.1 0 1 0-2.2 0zM403.24 190.77a1.1 1.1 0 1 0 2.2 0a1.1 1.1 0 1 0-2.2 0zM403.27 190.11a1.1 1.1 0 1 0 2.2 0a1.1 1.1 0 1 0-2.2 0zM403.30 191.95a1.1 1.1 0 1 0 2.2 0a1.1 1.1 0 1 0-2.2 0zM403.33 190.78a1.1 1.1 0 1 0 2.2 0a1.1 1.1 0 1 0-2.2 0zM403.36 189.55a1.1 1.1 0 1 0 2.2 0a1.1 1.1 0 1 0-2.2 0zM403.38 190.22a1.1 1.1 0 1 0 2.2 0a1.1 1.1 0 1 0-2.2 0zM403.41 191.52a1.1 1.1 0 1 0 2.2 0a1.1 1.1 0 1 0-2.2 0zM403.44 192.22a1.1 1.1 0 1 0 2.2 0a1.1 1.1 0 1 0-2.2 0zM403.47 190.92a1.1 1.1 0 1 0 2.2 0a1.1 1.1 0 1 0-2.2 0zM403.49 192.22a1.1 1.1 0 1 0 2.2 0a1.1 1.1 0 1 0-2.2 0zM403.52 190.23a1.1 1.1 0 1 0 2.2 0a1.1 1.1 0 1 0-2.2 0zM403.55 193.22a1.1 1.1 0 1 0 2.2 0a1.1 1.1 0 1 0-2.2 0zM403.58 191.03a1.1 1.1 0 1 0 2.2 0a1.1 1.1 0 1 0-2.2 0zM403.61 191.67a1.1 1.1 0 1 0 2.2 0a1.1 1.1 0 1 0-2.2 0zM403.63 192.77a1.1 1.1 0 1 0 2.2 0a1.1 1.1 0 1 0-2.2 0zM403.66 192.44a1.1 1.1 0 1 0 2.2 0a1.1 1.1 0 1 0-2.2 0zM403.69 192.44a1.1 1.1 0 1 0 2.2 0a1.1 1.1 0 1 0-2.2 0zM403.72 192.95a1.1 1.1 0 1 0 2.2 0a1.1 1.1 0 1 0-2.2 0zM403.74 193.56a1.1 1.1 0 1 0 2.2 0a1.1 1.1 0 1 0-2.2 0zM403.77 192.06a1.1 1.1 0 1 0 2.2 0a1.1 1.1 0 1 0-2.2 0zM403.80 191.83a1.1 1.1 0 1 0 2.2 0a1.1 1.1 0 1 0-2.2 0zM403.83 192.0a1.1 1.1 0 1 0 2.2 0a1.1 1.1 0 1 0-2.2 0zM403.86 193.32a1.1 1.1 0 1 0 2.2 0a1.1 1.1 0 1 0-2.2 0zM403.88 193.26a1.1 1.1 0 1 0 2.2 0a1.1 1.1 0 1 0-2.2 0zM403.91 192.8a1.1 1.1 0 1 0 2.2 0a1.1 1.1 0 1 0-2.2 0zM403.94 192.49a1.1 1.1 0 1 0 2.2 0a1.1 1.1 0 1 0-2.2 0zM403.97 192.12a1.1 1.1 0 1 0 2.2 0a1.1 1.1 0 1 0-2.2 0zM403.99 194.29a1.1 1.1 0 1 0 2.2 0a1.1 1.1 0 1 0-2.2 0zM404.02 192.7a1.1 1.1 0 1 0 2.2 0a1.1 1.1 0 1 0-2.2 0zM404.05 193.35a1.1 1.1 0 1 0 2.2 0a1.1 1.1 0 1 0-2.2 0zM404.08 192.79a1.1 1.1 0 1 0 2.2 0a1.1 1.1 0 1 0-2.2 0zM404.10 194.66a1.1 1.1 0 1 0 2.2 0a1.1 1.1 0 1 0-2.2 0zM404.13 194.78a1.1 1.1 0 1 0 2.2 0a1.1 1.1 0 1 0-2.2 0zM404.16 194.45a1.1 1.1 0 1 0 2.2 0a1.1 1.1 0 1 0-2.2 0zM404.19 193.83a1.1 1.1 0 1 0 2.2 0a1.1 1.1 0 1 0-2.2 0zM404.21 194.07a1.1 1.1 0 1 0 2.2 0a1.1 1.1 0 1 0-2.2 0zM404.24 193.67a1.1 1.1 0 1 0 2.2 0a1.1 1.1 0 1 0-2.2 0zM404.27 192.97a1.1 1.1 0 1 0 2.2 0a1.1 1.1 0 1 0-2.2 0zM404.30 192.86a1.1 1.1 0 1 0 2.2 0a1.1 1.1 0 1 0-2.2 0zM404.32 192.99a1.1 1.1 0 1 0 2.2 0a1.1 1.1 0 1 0-2.2 0zM404.35 196.06a1.1 1.1 0 1 0 2.2 0a1.1 1.1 0 1 0-2.2 0zM404.38 192.0a1.1 1.1 0 1 0 2.2 0a1.1 1.1 0 1 0-2.2 0zM404.41 194.67a1.1 1.1 0 1 0 2.2 0a1.1 1.1 0 1 0-2.2 0zM404.43 193.39a1.1 1.1 0 1 0 2.2 0a1.1 1.1 0 1 0-2.2 0zM404.46 195.76a1.1 1.1 0 1 0 2.2 0a1.1 1.1 0 1 0-2.2 0zM404.49 196.1a1.1 1.1 0 1 0 2.2 0a1.1 1.1 0 1 0-2.2 0zM404.51 194.92a1.1 1.1 0 1 0 2.2 0a1.1 1.1 0 1 0-2.2 0zM404.54 195.68a1.1 1.1 0 1 0 2.2 0a1.1 1.1 0 1 0-2.2 0zM404.57 193.74a1.1 1.1 0 1 0 2.2 0a1.1 1.1 0 1 0-2.2 0zM404.60 193.58a1.1 1.1 0 1 0 2.2 0a1.1 1.1 0 1 0-2.2 0zM404.62 194.33a1.1 1.1 0 1 0 2.2 0a1.1 1.1 0 1 0-2.2 0zM404.65 196.79a1.1 1.1 0 1 0 2.2 0a1.1 1.1 0 1 0-2.2 0zM404.68 194.28a1.1 1.1 0 1 0 2.2 0a1.1 1.1 0 1 0-2.2 0zM404.71 197.3a1.1 1.1 0 1 0 2.2 0a1.1 1.1 0 1 0-2.2 0zM404.73 193.23a1.1 1.1 0 1 0 2.2 0a1.1 1.1 0 1 0-2.2 0zM404.76 196.08a1.1 1.1 0 1 0 2.2 0a1.1 1.1 0 1 0-2.2 0zM404.79 194.41a1.1 1.1 0 1 0 2.2 0a1.1 1.1 0 1 0-2.2 0zM404.81 196.34a1.1 1.1 0 1 0 2.2 0a1.1 1.1 0 1 0-2.2 0zM404.84 195.65a1.1 1.1 0 1 0 2.2 0a1.1 1.1 0 1 0-2.2 0zM404.87 195.07a1.1 1.1 0 1 0 2.2 0a1.1 1.1 0 1 0-2.2 0zM404.89 195.34a1.1 1.1 0 1 0 2.2 0a1.1 1.1 0 1 0-2.2 0zM404.92 195.48a1.1 1.1 0 1 0 2.2 0a1.1 1.1 0 1 0-2.2 0zM404.95 198.83a1.1 1.1 0 1 0 2.2 0a1.1 1.1 0 1 0-2.2 0zM404.98 197.48a1.1 1.1 0 1 0 2.2 0a1.1 1.1 0 1 0-2.2 0zM405.00 195.7a1.1 1.1 0 1 0 2.2 0a1.1 1.1 0 1 0-2.2 0zM405.03 196.44a1.1 1.1 0 1 0 2.2 0a1.1 1.1 0 1 0-2.2 0zM405.06 198.53a1.1 1.1 0 1 0 2.2 0a1.1 1.1 0 1 0-2.2 0zM405.08 197.98a1.1 1.1 0 1 0 2.2 0a1.1 1.1 0 1 0-2.2 0zM405.11 196.46a1.1 1.1 0 1 0 2.2 0a1.1 1.1 0 1 0-2.2 0zM405.14 198.83a1.1 1.1 0 1 0 2.2 0a1.1 1.1 0 1 0-2.2 0zM405.16 197.56a1.1 1.1 0 1 0 2.2 0a1.1 1.1 0 1 0-2.2 0zM405.19 196.54a1.1 1.1 0 1 0 2.2 0a1.1 1.1 0 1 0-2.2 0zM405.22 198.02a1.1 1.1 0 1 0 2.2 0a1.1 1.1 0 1 0-2.2 0zM405.24 197.83a1.1 1.1 0 1 0 2.2 0a1.1 1.1 0 1 0-2.2 0zM405.27 199.63a1.1 1.1 0 1 0 2.2 0a1.1 1.1 0 1 0-2.2 0zM405.30 196.13a1.1 1.1 0 1 0 2.2 0a1.1 1.1 0 1 0-2.2 0zM405.32 196.05a1.1 1.1 0 1 0 2.2 0a1.1 1.1 0 1 0-2.2 0zM405.35 199.09a1.1 1.1 0 1 0 2.2 0a1.1 1.1 0 1 0-2.2 0zM405.38 197.88a1.1 1.1 0 1 0 2.2 0a1.1 1.1 0 1 0-2.2 0zM405.41 195.96a1.1 1.1 0 1 0 2.2 0a1.1 1.1 0 1 0-2.2 0zM405.43 197.7a1.1 1.1 0 1 0 2.2 0a1.1 1.1 0 1 0-2.2 0zM405.46 197.32a1.1 1.1 0 1 0 2.2 0a1.1 1.1 0 1 0-2.2 0zM405.49 199.29a1.1 1.1 0 1 0 2.2 0a1.1 1.1 0 1 0-2.2 0zM405.51 197.09a1.1 1.1 0 1 0 2.2 0a1.1 1.1 0 1 0-2.2 0zM405.54 200.47a1.1 1.1 0 1 0 2.2 0a1.1 1.1 0 1 0-2.2 0zM405.57 199.92a1.1 1.1 0 1 0 2.2 0a1.1 1.1 0 1 0-2.2 0zM405.59 200.27a1.1 1.1 0 1 0 2.2 0a1.1 1.1 0 1 0-2.2 0zM405.62 197.35a1.1 1.1 0 1 0 2.2 0a1.1 1.1 0 1 0-2.2 0zM405.64 200.37a1.1 1.1 0 1 0 2.2 0a1.1 1.1 0 1 0-2.2 0zM405.67 199.31a1.1 1.1 0 1 0 2.2 0a1.1 1.1 0 1 0-2.2 0zM405.70 200.38a1.1 1.1 0 1 0 2.2 0a1.1 1.1 0 1 0-2.2 0zM405.72 196.57a1.1 1.1 0 1 0 2.2 0a1.1 1.1 0 1 0-2.2 0zM405.75 202.4a1.1 1.1 0 1 0 2.2 0a1.1 1.1 0 1 0-2.2 0zM405.78 200.57a1.1 1.1 0 1 0 2.2 0a1.1 1.1 0 1 0-2.2 0zM405.80 201.16a1.1 1.1 0 1 0 2.2 0a1.1 1.1 0 1 0-2.2 0zM405.83 201.28a1.1 1.1 0 1 0 2.2 0a1.1 1.1 0 1 0-2.2 0zM405.86 200.23a1.1 1.1 0 1 0 2.2 0a1.1 1.1 0 1 0-2.2 0zM405.88 198.9a1.1 1.1 0 1 0 2.2 0a1.1 1.1 0 1 0-2.2 0zM405.91 200.44a1.1 1.1 0 1 0 2.2 0a1.1 1.1 0 1 0-2.2 0zM405.94 200.37a1.1 1.1 0 1 0 2.2 0a1.1 1.1 0 1 0-2.2 0zM405.96 202.23a1.1 1.1 0 1 0 2.2 0a1.1 1.1 0 1 0-2.2 0zM405.99 199.11a1.1 1.1 0 1 0 2.2 0a1.1 1.1 0 1 0-2.2 0zM406.02 198.31a1.1 1.1 0 1 0 2.2 0a1.1 1.1 0 1 0-2.2 0zM406.04 203.01a1.1 1.1 0 1 0 2.2 0a1.1 1.1 0 1 0-2.2 0zM406.07 198.63a1.1 1.1 0 1 0 2.2 0a1.1 1.1 0 1 0-2.2 0zM406.09 204.04a1.1 1.1 0 1 0 2.2 0a1.1 1.1 0 1 0-2.2 0zM406.12 201.1a1.1 1.1 0 1 0 2.2 0a1.1 1.1 0 1 0-2.2 0zM406.15 203.24a1.1 1.1 0 1 0 2.2 0a1.1 1.1 0 1 0-2.2 0zM406.17 199.31a1.1 1.1 0 1 0 2.2 0a1.1 1.1 0 1 0-2.2 0zM406.20 202.53a1.1 1.1 0 1 0 2.2 0a1.1 1.1 0 1 0-2.2 0zM406.23 202.48a1.1 1.1 0 1 0 2.2 0a1.1 1.1 0 1 0-2.2 0zM406.25 199.33a1.1 1.1 0 1 0 2.2 0a1.1 1.1 0 1 0-2.2 0zM406.28 203.73a1.1 1.1 0 1 0 2.2 0a1.1 1.1 0 1 0-2.2 0zM406.30 201.12a1.1 1.1 0 1 0 2.2 0a1.1 1.1 0 1 0-2.2 0zM406.33 205.06a1.1 1.1 0 1 0 2.2 0a1.1 1.1 0 1 0-2.2 0zM406.36 202.26a1.1 1.1 0 1 0 2.2 0a1.1 1.1 0 1 0-2.2 0zM406.38 203.86a1.1 1.1 0 1 0 2.2 0a1.1 1.1 0 1 0-2.2 0zM406.41 204.12a1.1 1.1 0 1 0 2.2 0a1.1 1.1 0 1 0-2.2 0zM406.43 202.77a1.1 1.1 0 1 0 2.2 0a1.1 1.1 0 1 0-2.2 0zM406.46 205.17a1.1 1.1 0 1 0 2.2 0a1.1 1.1 0 1 0-2.2 0zM406.49 203.17a1.1 1.1 0 1 0 2.2 0a1.1 1.1 0 1 0-2.2 0zM406.51 202.4a1.1 1.1 0 1 0 2.2 0a1.1 1.1 0 1 0-2.2 0zM406.54 201.46a1.1 1.1 0 1 0 2.2 0a1.1 1.1 0 1 0-2.2 0zM406.57 201.97a1.1 1.1 0 1 0 2.2 0a1.1 1.1 0 1 0-2.2 0zM406.59 203.88a1.1 1.1 0 1 0 2.2 0a1.1 1.1 0 1 0-2.2 0zM406.62 207.02a1.1 1.1 0 1 0 2.2 0a1.1 1.1 0 1 0-2.2 0zM406.64 205.9a1.1 1.1 0 1 0 2.2 0a1.1 1.1 0 1 0-2.2 0zM406.67 203.49a1.1 1.1 0 1 0 2.2 0a1.1 1.1 0 1 0-2.2 0zM406.70 206.56a1.1 1.1 0 1 0 2.2 0a1.1 1.1 0 1 0-2.2 0zM406.72 208.03a1.1 1.1 0 1 0 2.2 0a1.1 1.1 0 1 0-2.2 0zM406.75 206.57a1.1 1.1 0 1 0 2.2 0a1.1 1.1 0 1 0-2.2 0zM406.77 206.65a1.1 1.1 0 1 0 2.2 0a1.1 1.1 0 1 0-2.2 0zM406.80 207.65a1.1 1.1 0 1 0 2.2 0a1.1 1.1 0 1 0-2.2 0zM406.82 206.23a1.1 1.1 0 1 0 2.2 0a1.1 1.1 0 1 0-2.2 0zM406.85 208.79a1.1 1.1 0 1 0 2.2 0a1.1 1.1 0 1 0-2.2 0zM406.88 209.44a1.1 1.1 0 1 0 2.2 0a1.1 1.1 0 1 0-2.2 0zM406.90 208.06a1.1 1.1 0 1 0 2.2 0a1.1 1.1 0 1 0-2.2 0zM406.93 211.46a1.1 1.1 0 1 0 2.2 0a1.1 1.1 0 1 0-2.2 0zM406.95 201.94a1.1 1.1 0 1 0 2.2 0a1.1 1.1 0 1 0-2.2 0zM406.98 210.2a1.1 1.1 0 1 0 2.2 0a1.1 1.1 0 1 0-2.2 0zM407.01 202.65a1.1 1.1 0 1 0 2.2 0a1.1 1.1 0 1 0-2.2 0zM407.03 209.58a1.1 1.1 0 1 0 2.2 0a1.1 1.1 0 1 0-2.2 0zM407.06 206.3a1.1 1.1 0 1 0 2.2 0a1.1 1.1 0 1 0-2.2 0zM407.08 202.72a1.1 1.1 0 1 0 2.2 0a1.1 1.1 0 1 0-2.2 0zM407.11 207.31a1.1 1.1 0 1 0 2.2 0a1.1 1.1 0 1 0-2.2 0zM407.13 208.34a1.1 1.1 0 1 0 2.2 0a1.1 1.1 0 1 0-2.2 0zM407.16 225.94a1.1 1.1 0 1 0 2.2 0a1.1 1.1 0 1 0-2.2 0zM407.19 213.02a1.1 1.1 0 1 0 2.2 0a1.1 1.1 0 1 0-2.2 0zM407.21 216.07a1.1 1.1 0 1 0 2.2 0a1.1 1.1 0 1 0-2.2 0zM407.24 228.13a1.1 1.1 0 1 0 2.2 0a1.1 1.1 0 1 0-2.2 0zM407.26 213.61a1.1 1.1 0 1 0 2.2 0a1.1 1.1 0 1 0-2.2 0zM407.29 214.3a1.1 1.1 0 1 0 2.2 0a1.1 1.1 0 1 0-2.2 0zM407.31 208.74a1.1 1.1 0 1 0 2.2 0a1.1 1.1 0 1 0-2.2 0zM407.34 224.74a1.1 1.1 0 1 0 2.2 0a1.1 1.1 0 1 0-2.2 0zM407.36 222.82a1.1 1.1 0 1 0 2.2 0a1.1 1.1 0 1 0-2.2 0zM407.39 204.14a1.1 1.1 0 1 0 2.2 0a1.1 1.1 0 1 0-2.2 0zM407.42 213.85a1.1 1.1 0 1 0 2.2 0a1.1 1.1 0 1 0-2.2 0zM407.44 215.64a1.1 1.1 0 1 0 2.2 0a1.1 1.1 0 1 0-2.2 0zM407.47 214.25a1.1 1.1 0 1 0 2.2 0a1.1 1.1 0 1 0-2.2 0zM407.49 230.25a1.1 1.1 0 1 0 2.2 0a1.1 1.1 0 1 0-2.2 0zM407.52 222.74a1.1 1.1 0 1 0 2.2 0a1.1 1.1 0 1 0-2.2 0zM407.54 217.94a1.1 1.1 0 1 0 2.2 0a1.1 1.1 0 1 0-2.2 0zM407.57 222.2a1.1 1.1 0 1 0 2.2 0a1.1 1.1 0 1 0-2.2 0zM407.59 226.15a1.1 1.1 0 1 0 2.2 0a1.1 1.1 0 1 0-2.2 0zM407.62 225.65a1.1 1.1 0 1 0 2.2 0a1.1 1.1 0 1 0-2.2 0zM407.64 220.75a1.1 1.1 0 1 0 2.2 0a1.1 1.1 0 1 0-2.2 0zM407.67 209.67a1.1 1.1 0 1 0 2.2 0a1.1 1.1 0 1 0-2.2 0zM407.70 207.09a1.1 1.1 0 1 0 2.2 0a1.1 1.1 0 1 0-2.2 0zM407.72 210.62a1.1 1.1 0 1 0 2.2 0a1.1 1.1 0 1 0-2.2 0zM407.75 223.04a1.1 1.1 0 1 0 2.2 0a1.1 1.1 0 1 0-2.2 0zM407.77 222.37a1.1 1.1 0 1 0 2.2 0a1.1 1.1 0 1 0-2.2 0zM407.80 229.45a1.1 1.1 0 1 0 2.2 0a1.1 1.1 0 1 0-2.2 0zM407.82 217.11a1.1 1.1 0 1 0 2.2 0a1.1 1.1 0 1 0-2.2 0zM407.85 226.45a1.1 1.1 0 1 0 2.2 0a1.1 1.1 0 1 0-2.2 0zM407.87 222.64a1.1 1.1 0 1 0 2.2 0a1.1 1.1 0 1 0-2.2 0zM407.90 214.16a1.1 1.1 0 1 0 2.2 0a1.1 1.1 0 1 0-2.2 0zM407.92 231.5a1.1 1.1 0 1 0 2.2 0a1.1 1.1 0 1 0-2.2 0zM407.95 228.98a1.1 1.1 0 1 0 2.2 0a1.1 1.1 0 1 0-2.2 0zM407.97 222.73a1.1 1.1 0 1 0 2.2 0a1.1 1.1 0 1 0-2.2 0zM408.00 210.65a1.1 1.1 0 1 0 2.2 0a1.1 1.1 0 1 0-2.2 0zM408.02 212.01a1.1 1.1 0 1 0 2.2 0a1.1 1.1 0 1 0-2.2 0zM408.05 226.62a1.1 1.1 0 1 0 2.2 0a1.1 1.1 0 1 0-2.2 0zM408.07 214.0a1.1 1.1 0 1 0 2.2 0a1.1 1.1 0 1 0-2.2 0zM408.10 211.59a1.1 1.1 0 1 0 2.2 0a1.1 1.1 0 1 0-2.2 0zM408.12 219.75a1.1 1.1 0 1 0 2.2 0a1.1 1.1 0 1 0-2.2 0zM408.15 214.4a1.1 1.1 0 1 0 2.2 0a1.1 1.1 0 1 0-2.2 0zM408.18 220.7a1.1 1.1 0 1 0 2.2 0a1.1 1.1 0 1 0-2.2 0zM408.20 217.61a1.1 1.1 0 1 0 2.2 0a1.1 1.1 0 1 0-2.2 0zM408.23 228.73a1.1 1.1 0 1 0 2.2 0a1.1 1.1 0 1 0-2.2 0zM408.25 233.2a1.1 1.1 0 1 0 2.2 0a1.1 1.1 0 1 0-2.2 0zM408.28 233.64a1.1 1.1 0 1 0 2.2 0a1.1 1.1 0 1 0-2.2 0zM408.30 221.03a1.1 1.1 0 1 0 2.2 0a1.1 1.1 0 1 0-2.2 0zM408.33 213.96a1.1 1.1 0 1 0 2.2 0a1.1 1.1 0 1 0-2.2 0zM408.35 222.18a1.1 1.1 0 1 0 2.2 0a1.1 1.1 0 1 0-2.2 0zM408.38 222.52a1.1 1.1 0 1 0 2.2 0a1.1 1.1 0 1 0-2.2 0zM408.40 212.45a1.1 1.1 0 1 0 2.2 0a1.1 1.1 0 1 0-2.2 0zM408.43 224.2a1.1 1.1 0 1 0 2.2 0a1.1 1.1 0 1 0-2.2 0zM408.45 227.23a1.1 1.1 0 1 0 2.2 0a1.1 1.1 0 1 0-2.2 0zM408.48 224.66a1.1 1.1 0 1 0 2.2 0a1.1 1.1 0 1 0-2.2 0zM408.50 230.71a1.1 1.1 0 1 0 2.2 0a1.1 1.1 0 1 0-2.2 0zM408.52 235.4a1.1 1.1 0 1 0 2.2 0a1.1 1.1 0 1 0-2.2 0zM408.55 217.49a1.1 1.1 0 1 0 2.2 0a1.1 1.1 0 1 0-2.2 0zM408.57 231.63a1.1 1.1 0 1 0 2.2 0a1.1 1.1 0 1 0-2.2 0zM408.60 231.35a1.1 1.1 0 1 0 2.2 0a1.1 1.1 0 1 0-2.2 0zM408.62 225.61a1.1 1.1 0 1 0 2.2 0a1.1 1.1 0 1 0-2.2 0zM408.65 228.23a1.1 1.1 0 1 0 2.2 0a1.1 1.1 0 1 0-2.2 0zM408.67 233.37a1.1 1.1 0 1 0 2.2 0a1.1 1.1 0 1 0-2.2 0zM408.70 231.58a1.1 1.1 0 1 0 2.2 0a1.1 1.1 0 1 0-2.2 0zM408.72 221.12a1.1 1.1 0 1 0 2.2 0a1.1 1.1 0 1 0-2.2 0zM408.75 217.91a1.1 1.1 0 1 0 2.2 0a1.1 1.1 0 1 0-2.2 0zM408.77 233.93a1.1 1.1 0 1 0 2.2 0a1.1 1.1 0 1 0-2.2 0zM408.80 236.45a1.1 1.1 0 1 0 2.2 0a1.1 1.1 0 1 0-2.2 0zM408.82 233.77a1.1 1.1 0 1 0 2.2 0a1.1 1.1 0 1 0-2.2 0zM408.85 227.64a1.1 1.1 0 1 0 2.2 0a1.1 1.1 0 1 0-2.2 0zM408.87 211.13a1.1 1.1 0 1 0 2.2 0a1.1 1.1 0 1 0-2.2 0zM408.90 231.81a1.1 1.1 0 1 0 2.2 0a1.1 1.1 0 1 0-2.2 0zM408.92 226.65a1.1 1.1 0 1 0 2.2 0a1.1 1.1 0 1 0-2.2 0zM408.95 230.25a1.1 1.1 0 1 0 2.2 0a1.1 1.1 0 1 0-2.2 0zM408.97 229.42a1.1 1.1 0 1 0 2.2 0a1.1 1.1 0 1 0-2.2 0zM409.00 225.41a1.1 1.1 0 1 0 2.2 0a1.1 1.1 0 1 0-2.2 0zM409.02 226.38a1.1 1.1 0 1 0 2.2 0a1.1 1.1 0 1 0-2.2 0zM409.04 214.5a1.1 1.1 0 1 0 2.2 0a1.1 1.1 0 1 0-2.2 0zM409.07 214.45a1.1 1.1 0 1 0 2.2 0a1.1 1.1 0 1 0-2.2 0zM409.09 215.95a1.1 1.1 0 1 0 2.2 0a1.1 1.1 0 1 0-2.2 0zM409.12 220.88a1.1 1.1 0 1 0 2.2 0a1.1 1.1 0 1 0-2.2 0zM409.14 217.1a1.1 1.1 0 1 0 2.2 0a1.1 1.1 0 1 0-2.2 0zM409.17 229.67a1.1 1.1 0 1 0 2.2 0a1.1 1.1 0 1 0-2.2 0zM409.19 219.98a1.1 1.1 0 1 0 2.2 0a1.1 1.1 0 1 0-2.2 0zM409.22 228.99a1.1 1.1 0 1 0 2.2 0a1.1 1.1 0 1 0-2.2 0zM409.24 221.71a1.1 1.1 0 1 0 2.2 0a1.1 1.1 0 1 0-2.2 0zM409.27 219.55a1.1 1.1 0 1 0 2.2 0a1.1 1.1 0 1 0-2.2 0zM409.29 235.83a1.1 1.1 0 1 0 2.2 0a1.1 1.1 0 1 0-2.2 0zM409.31 223.92a1.1 1.1 0 1 0 2.2 0a1.1 1.1 0 1 0-2.2 0zM409.34 213.57a1.1 1.1 0 1 0 2.2 0a1.1 1.1 0 1 0-2.2 0zM409.36 220.8a1.1 1.1 0 1 0 2.2 0a1.1 1.1 0 1 0-2.2 0zM409.39 235.82a1.1 1.1 0 1 0 2.2 0a1.1 1.1 0 1 0-2.2 0zM409.41 235.39a1.1 1.1 0 1 0 2.2 0a1.1 1.1 0 1 0-2.2 0zM409.44 229.75a1.1 1.1 0 1 0 2.2 0a1.1 1.1 0 1 0-2.2 0zM409.46 225.84a1.1 1.1 0 1 0 2.2 0a1.1 1.1 0 1 0-2.2 0zM409.49 233.44a1.1 1.1 0 1 0 2.2 0a1.1 1.1 0 1 0-2.2 0zM409.51 219.59a1.1 1.1 0 1 0 2.2 0a1.1 1.1 0 1 0-2.2 0zM409.53 231.13a1.1 1.1 0 1 0 2.2 0a1.1 1.1 0 1 0-2.2 0zM409.56 235.6a1.1 1.1 0 1 0 2.2 0a1.1 1.1 0 1 0-2.2 0zM409.58 238.29a1.1 1.1 0 1 0 2.2 0a1.1 1.1 0 1 0-2.2 0zM409.61 217.44a1.1 1.1 0 1 0 2.2 0a1.1 1.1 0 1 0-2.2 0zM409.63 226.32a1.1 1.1 0 1 0 2.2 0a1.1 1.1 0 1 0-2.2 0zM409.66 212.17a1.1 1.1 0 1 0 2.2 0a1.1 1.1 0 1 0-2.2 0zM409.68 230.98a1.1 1.1 0 1 0 2.2 0a1.1 1.1 0 1 0-2.2 0zM409.70 221.91a1.1 1.1 0 1 0 2.2 0a1.1 1.1 0 1 0-2.2 0zM409.73 225.89a1.1 1.1 0 1 0 2.2 0a1.1 1.1 0 1 0-2.2 0zM409.75 222.77a1.1 1.1 0 1 0 2.2 0a1.1 1.1 0 1 0-2.2 0zM409.78 222.18a1.1 1.1 0 1 0 2.2 0a1.1 1.1 0 1 0-2.2 0zM409.80 224.74a1.1 1.1 0 1 0 2.2 0a1.1 1.1 0 1 0-2.2 0zM409.83 224.33a1.1 1.1 0 1 0 2.2 0a1.1 1.1 0 1 0-2.2 0zM409.85 230.03a1.1 1.1 0 1 0 2.2 0a1.1 1.1 0 1 0-2.2 0zM409.87 224.13a1.1 1.1 0 1 0 2.2 0a1.1 1.1 0 1 0-2.2 0zM409.90 213.26a1.1 1.1 0 1 0 2.2 0a1.1 1.1 0 1 0-2.2 0zM409.92 237.94a1.1 1.1 0 1 0 2.2 0a1.1 1.1 0 1 0-2.2 0zM409.95 227.88a1.1 1.1 0 1 0 2.2 0a1.1 1.1 0 1 0-2.2 0zM409.97 218.43a1.1 1.1 0 1 0 2.2 0a1.1 1.1 0 1 0-2.2 0zM409.99 214.32a1.1 1.1 0 1 0 2.2 0a1.1 1.1 0 1 0-2.2 0zM410.02 222.14a1.1 1.1 0 1 0 2.2 0a1.1 1.1 0 1 0-2.2 0zM410.04 234.18a1.1 1.1 0 1 0 2.2 0a1.1 1.1 0 1 0-2.2 0zM410.07 222.0a1.1 1.1 0 1 0 2.2 0a1.1 1.1 0 1 0-2.2 0zM410.09 230.45a1.1 1.1 0 1 0 2.2 0a1.1 1.1 0 1 0-2.2 0zM410.11 233.86a1.1 1.1 0 1 0 2.2 0a1.1 1.1 0 1 0-2.2 0zM410.14 214.21a1.1 1.1 0 1 0 2.2 0a1.1 1.1 0 1 0-2.2 0zM410.16 229.76a1.1 1.1 0 1 0 2.2 0a1.1 1.1 0 1 0-2.2 0zM410.19 232.3a1.1 1.1 0 1 0 2.2 0a1.1 1.1 0 1 0-2.2 0zM410.21 229.59a1.1 1.1 0 1 0 2.2 0a1.1 1.1 0 1 0-2.2 0zM410.23 232.82a1.1 1.1 0 1 0 2.2 0a1.1 1.1 0 1 0-2.2 0zM410.26 238.16a1.1 1.1 0 1 0 2.2 0a1.1 1.1 0 1 0-2.2 0zM410.28 240.12a1.1 1.1 0 1 0 2.2 0a1.1 1.1 0 1 0-2.2 0zM410.31 222.0a1.1 1.1 0 1 0 2.2 0a1.1 1.1 0 1 0-2.2 0zM410.33 230.1a1.1 1.1 0 1 0 2.2 0a1.1 1.1 0 1 0-2.2 0zM410.35 231.88a1.1 1.1 0 1 0 2.2 0a1.1 1.1 0 1 0-2.2 0zM410.38 236.99a1.1 1.1 0 1 0 2.2 0a1.1 1.1 0 1 0-2.2 0zM410.40 219.74a1.1 1.1 0 1 0 2.2 0a1.1 1.1 0 1 0-2.2 0zM410.43 218.02a1.1 1.1 0 1 0 2.2 0a1.1 1.1 0 1 0-2.2 0zM410.45 241.56a1.1 1.1 0 1 0 2.2 0a1.1 1.1 0 1 0-2.2 0zM410.47 224.99a1.1 1.1 0 1 0 2.2 0a1.1 1.1 0 1 0-2.2 0zM410.50 216.74a1.1 1.1 0 1 0 2.2 0a1.1 1.1 0 1 0-2.2 0zM410.52 235.12a1.1 1.1 0 1 0 2.2 0a1.1 1.1 0 1 0-2.2 0zM410.54 231.9a1.1 1.1 0 1 0 2.2 0a1.1 1.1 0 1 0-2.2 0zM410.57 230.39a1.1 1.1 0 1 0 2.2 0a1.1 1.1 0 1 0-2.2 0zM410.59 219.93a1.1 1.1 0 1 0 2.2 0a1.1 1.1 0 1 0-2.2 0zM410.62 241.84a1.1 1.1 0 1 0 2.2 0a1.1 1.1 0 1 0-2.2 0zM410.64 234.88a1.1 1.1 0 1 0 2.2 0a1.1 1.1 0 1 0-2.2 0zM410.66 224.52a1.1 1.1 0 1 0 2.2 0a1.1 1.1 0 1 0-2.2 0zM410.69 214.37a1.1 1.1 0 1 0 2.2 0a1.1 1.1 0 1 0-2.2 0zM410.71 238.21a1.1 1.1 0 1 0 2.2 0a1.1 1.1 0 1 0-2.2 0zM410.73 234.42a1.1 1.1 0 1 0 2.2 0a1.1 1.1 0 1 0-2.2 0zM410.76 219.6a1.1 1.1 0 1 0 2.2 0a1.1 1.1 0 1 0-2.2 0zM410.78 222.12a1.1 1.1 0 1 0 2.2 0a1.1 1.1 0 1 0-2.2 0zM410.81 224.66a1.1 1.1 0 1 0 2.2 0a1.1 1.1 0 1 0-2.2 0zM410.83 243.88a1.1 1.1 0 1 0 2.2 0a1.1 1.1 0 1 0-2.2 0zM410.85 229.01a1.1 1.1 0 1 0 2.2 0a1.1 1.1 0 1 0-2.2 0zM410.88 233.77a1.1 1.1 0 1 0 2.2 0a1.1 1.1 0 1 0-2.2 0zM410.90 216.85a1.1 1.1 0 1 0 2.2 0a1.1 1.1 0 1 0-2.2 0zM410.92 242.69a1.1 1.1 0 1 0 2.2 0a1.1 1.1 0 1 0-2.2 0zM410.95 220.44a1.1 1.1 0 1 0 2.2 0a1.1 1.1 0 1 0-2.2 0zM410.97 228.47a1.1 1.1 0 1 0 2.2 0a1.1 1.1 0 1 0-2.2 0zM410.99 229.74a1.1 1.1 0 1 0 2.2 0a1.1 1.1 0 1 0-2.2 0zM411.02 220.37a1.1 1.1 0 1 0 2.2 0a1.1 1.1 0 1 0-2.2 0zM411.04 242.89a1.1 1.1 0 1 0 2.2 0a1.1 1.1 0 1 0-2.2 0zM411.07 225.33a1.1 1.1 0 1 0 2.2 0a1.1 1.1 0 1 0-2.2 0zM411.09 221.93a1.1 1.1 0 1 0 2.2 0a1.1 1.1 0 1 0-2.2 0zM411.11 243.62a1.1 1.1 0 1 0 2.2 0a1.1 1.1 0 1 0-2.2 0zM411.14 221.11a1.1 1.1 0 1 0 2.2 0a1.1 1.1 0 1 0-2.2 0zM411.16 222.76a1.1 1.1 0 1 0 2.2 0a1.1 1.1 0 1 0-2.2 0zM411.18 222.74a1.1 1.1 0 1 0 2.2 0a1.1 1.1 0 1 0-2.2 0zM411.21 223.87a1.1 1.1 0 1 0 2.2 0a1.1 1.1 0 1 0-2.2 0zM411.23 236.86a1.1 1.1 0 1 0 2.2 0a1.1 1.1 0 1 0-2.2 0zM411.25 227.8a1.1 1.1 0 1 0 2.2 0a1.1 1.1 0 1 0-2.2 0zM411.28 227.26a1.1 1.1 0 1 0 2.2 0a1.1 1.1 0 1 0-2.2 0zM411.30 226.71a1.1 1.1 0 1 0 2.2 0a1.1 1.1 0 1 0-2.2 0zM411.32 220.72a1.1 1.1 0 1 0 2.2 0a1.1 1.1 0 1 0-2.2 0zM411.35 226.46a1.1 1.1 0 1 0 2.2 0a1.1 1.1 0 1 0-2.2 0zM411.37 219.76a1.1 1.1 0 1 0 2.2 0a1.1 1.1 0 1 0-2.2 0zM411.39 217.6a1.1 1.1 0 1 0 2.2 0a1.1 1.1 0 1 0-2.2 0zM411.42 241.78a1.1 1.1 0 1 0 2.2 0a1.1 1.1 0 1 0-2.2 0zM411.44 222.89a1.1 1.1 0 1 0 2.2 0a1.1 1.1 0 1 0-2.2 0zM411.46 240.95a1.1 1.1 0 1 0 2.2 0a1.1 1.1 0 1 0-2.2 0zM411.49 244.48a1.1 1.1 0 1 0 2.2 0a1.1 1.1 0 1 0-2.2 0zM411.51 233.29a1.1 1.1 0 1 0 2.2 0a1.1 1.1 0 1 0-2.2 0zM411.53 233.42a1.1 1.1 0 1 0 2.2 0a1.1 1.1 0 1 0-2.2 0zM411.56 230.45a1.1 1.1 0 1 0 2.2 0a1.1 1.1 0 1 0-2.2 0zM411.58 244.91a1.1 1.1 0 1 0 2.2 0a1.1 1.1 0 1 0-2.2 0zM411.60 236.55a1.1 1.1 0 1 0 2.2 0a1.1 1.1 0 1 0-2.2 0zM411.63 244.42a1.1 1.1 0 1 0 2.2 0a1.1 1.1 0 1 0-2.2 0zM411.65 224.77a1.1 1.1 0 1 0 2.2 0a1.1 1.1 0 1 0-2.2 0zM411.67 233.48a1.1 1.1 0 1 0 2.2 0a1.1 1.1 0 1 0-2.2 0zM411.70 236.08a1.1 1.1 0 1 0 2.2 0a1.1 1.1 0 1 0-2.2 0zM411.72 241.5a1.1 1.1 0 1 0 2.2 0a1.1 1.1 0 1 0-2.2 0zM411.74 222.56a1.1 1.1 0 1 0 2.2 0a1.1 1.1 0 1 0-2.2 0zM411.77 224.01a1.1 1.1 0 1 0 2.2 0a1.1 1.1 0 1 0-2.2 0zM411.79 223.89a1.1 1.1 0 1 0 2.2 0a1.1 1.1 0 1 0-2.2 0zM411.81 237.29a1.1 1.1 0 1 0 2.2 0a1.1 1.1 0 1 0-2.2 0zM411.83 239.54a1.1 1.1 0 1 0 2.2 0a1.1 1.1 0 1 0-2.2 0zM411.86 227.57a1.1 1.1 0 1 0 2.2 0a1.1 1.1 0 1 0-2.2 0zM411.88 236.76a1.1 1.1 0 1 0 2.2 0a1.1 1.1 0 1 0-2.2 0zM409.80 245.6a1.1 1.1 0 1 0 2.2 0a1.1 1.1 0 1 0-2.2 0zM411.80 257.5a1.1 1.1 0 1 0 2.2 0a1.1 1.1 0 1 0-2.2 0zM411.20 263.8a1.1 1.1 0 1 0 2.2 0a1.1 1.1 0 1 0-2.2 0zM116.30 249.1a1.1 1.1 0 1 0 2.2 0a1.1 1.1 0 1 0-2.2 0z"/>
<path fill="#000000" stroke="#000000" stroke-width="0.3" d="M107.00 48.30h2.5l-1.25-2.4zM124.99 53.30h2.5l-1.25-2.4zM137.76 64.60h2.5l-1.25-2.4zM147.66 70.00h2.5l-1.25-2.4zM155.75 73.80h2.5l-1.25-2.4zM162.59 76.90h2.5l-1.25-2.4zM168.51 79.90h2.5l-1.25-2.4zM173.74 82.10h2.5l-1.25-2.4zM178.41 84.20h2.5l-1.25-2.4zM182.64 86.07h2.5l-1.25-2.4zM186.50 87.78h2.5l-1.25-2.4zM190.05 89.26h2.5l-1.25-2.4zM193.34 90.87h2.5l-1.25-2.4zM196.40 92.08h2.5l-1.25-2.4zM199.27 93.46h2.5l-1.25-2.4zM201.96 94.59h2.5l-1.25-2.4zM204.49 95.66h2.5l-1.25-2.4zM206.89 96.69h2.5l-1.25-2.4zM209.17 97.86h2.5l-1.25-2.4zM211.33 98.82h2.5l-1.25-2.4zM213.40 99.76h2.5l-1.25-2.4zM215.37 100.72h2.5l-1.25-2.4zM217.26 101.43h2.5l-1.25-2.4zM219.07 102.24h2.5l-1.25-2.4zM220.81 102.97h2.5l-1.25-2.4zM222.48 103.73h2.5l-1.25-2.4zM224.10 104.41h2.5l-1.25-2.4zM225.65 105.06h2.5l-1.25-2.4zM227.16 105.96h2.5l-1.25-2.4zM228.61 106.29h2.5l-1.25-2.4zM230.02 107.08h2.5l-1.25-2.4zM231.39 107.70h2.5l-1.25-2.4zM232.71 108.26h2.5l-1.25-2.4zM234.00 108.73h2.5l-1.25-2.4zM235.25 109.34h2.5l-1.25-2.4zM236.46 109.86h2.5l-1.25-2.4zM237.65 110.33h2.5l-1.25-2.4zM238.80 110.92h2.5l-1.25-2.4zM239.92 111.38h2.5l-1.25-2.4zM241.02 111.85h2.5l-1.25-2.4zM242.09 112.42h2.5l-1.25-2.4zM243.13 112.74h2.5l-1.25-2.4zM244.15 113.31h2.5l-1.25-2.4zM245.15 113.67h2.5l-1.25-2.4zM246.12 114.18h2.5l-1.25-2.4zM247.08 114.57h2.5l-1.25-2.4zM248.01 114.99h2.5l-1.25-2.4zM248.93 115.30h2.5l-1.25-2.4zM249.82 115.71h2.5l-1.25-2.4zM250.70 116.09h2.5l-1.25-2.4zM251.56 116.55h2.5l-1.25-2.4zM252.41 116.97h2.5l-1.25-2.4zM253.24 117.36h2.5l-1.25-2.4zM254.05 117.59h2.5l-1.25-2.4zM254.85 117.99h2.5l-1.25-2.4zM255.64 118.20h2.5l-1.25-2.4zM256.41 118.49h2.5l-1.25-2.4zM257.17 118.93h2.5l-1.25-2.4zM257.91 119.28h2.5l-1.25-2.4zM258.65 119.53h2.5l-1.25-2.4zM259.37 119.83h2.5l-1.25-2.4zM260.08 120.33h2.5l-1.25-2.4zM260.78 120.53h2.5l-1.25-2.4zM261.46 120.76h2.5l-1.25-2.4zM262.14 121.38h2.5l-1.25-2.4zM262.81 121.50h2.5l-1.25-2.4zM263.47 121.75h2.5l-1.25-2.4zM264.11 122.11h2.5l-1.25-2.4zM264.75 122.28h2.5l-1.25-2.4zM265.38 122.74h2.5l-1.25-2.4zM266.00 122.77h2.5l-1.25-2.4zM266.61 123.05h2.5l-1.25-2.4zM267.22 123.41h2.5l-1.25-2.4zM267.81 123.63h2.5l-1.25-2.4zM268.40 124.06h2.5l-1.25-2.4zM268.98 124.07h2.5l-1.25-2.4zM269.55 124.39h2.5l-1.25-2.4zM270.12 124.72h2.5l-1.25-2.4zM270.68 124.99h2.5l-1.25-2.4zM271.23 125.27h2.5l-1.25-2.4zM271.77 125.46h2.5l-1.25-2.4zM272.31 125.84h2.5l-1.25-2.4zM272.84 125.86h2.5l-1.25-2.4zM273.37 126.14h2.5l-1.25-2.4zM273.89 126.43h2.5l-1.25-2.4zM274.40 126.56h2.5l-1.25-2.4zM274.91 126.78h2.5l-1.25-2.4zM275.41 126.99h2.5l-1.25-2.4zM275.90 127.19h2.5l-1.25-2.4zM276.39 127.37h2.5l-1.25-2.4zM276.88 127.63h2.5l-1.25-2.4zM277.36 127.76h2.5l-1.25-2.4zM277.83 128.12h2.5l-1.25-2.4zM278.30 128.17h2.5l-1.25-2.4zM278.77 128.67h2.5l-1.25-2.4zM279.23 128.84h2.5l-1.25-2.4zM279.68 128.99h2.5l-1.25-2.4zM280.13 129.07h2.5l-1.25-2.4zM280.58 129.24h2.5l-1.25-2.4zM281.02 129.57h2.5l-1.25-2.4zM281.46 129.67h2.5l-1.25-2.4zM281.89 129.89h2.5l-1.25-2.4zM282.32 129.97h2.5l-1.25-2.4zM282.74 130.30h2.5l-1.25-2.4zM283.16 130.33h2.5l-1.25-2.4zM283.58 130.58h2.5l-1.25-2.4zM283.99 130.61h2.5l-1.25-2.4zM284.40 130.87h2.5l-1.25-2.4zM284.81 131.14h2.5l-1.25-2.4zM285.21 131.24h2.5l-1.25-2.4zM285.61 131.41h2.5l-1.25-2.4zM286.00 131.68h2.5l-1.25-2.4zM286.39 131.78h2.5l-1.25-2.4zM286.78 132.05h2.5l-1.25-2.4zM287.16 131.92h2.5l-1.25-2.4zM287.54 132.32h2.5l-1.25-2.4zM287.92 132.48h2.5l-1.25-2.4zM288.30 132.48h2.5l-1.25-2.4zM288.67 132.66h2.5l-1.25-2.4zM289.04 132.99h2.5l-1.25-2.4zM289.40 132.99h2.5l-1.25-2.4zM289.76 133.18h2.5l-1.25-2.4zM290.12 133.43h2.5l-1.25-2.4zM290.48 133.51h2.5l-1.25-2.4zM290.83 133.73h2.5l-1.25-2.4zM291.18 133.77h2.5l-1.25-2.4zM291.53 134.02h2.5l-1.25-2.4zM291.88 134.23h2.5l-1.25-2.4zM292.22 134.31h2.5l-1.25-2.4zM292.56 134.26h2.5l-1.25-2.4zM292.90 134.63h2.5l-1.25-2.4zM293.23 134.73h2.5l-1.25-2.4zM293.56 134.79h2.5l-1.25-2.4zM293.89 135.12h2.5l-1.25-2.4zM294.22 135.01h2.5l-1.25-2.4zM294.55 135.44h2.5l-1.25-2.4zM294.87 135.38h2.5l-1.25-2.4zM295.19 135.69h2.5l-1.25-2.4zM295.51 135.70h2.5l-1.25-2.4zM295.82 135.73h2.5l-1.25-2.4zM296.14 135.98h2.5l-1.25-2.4zM296.45 136.13h2.5l-1.25-2.4zM296.76 136.28h2.5l-1.25-2.4zM297.06 136.46h2.5l-1.25-2.4zM297.37 136.43h2.5l-1.25-2.4zM297.67 136.67h2.5l-1.25-2.4zM297.97 136.82h2.5l-1.25-2.4zM298.27 136.87h2.5l-1.25-2.4zM298.57 136.94h2.5l-1.25-2.4zM298.86 137.07h2.5l-1.25-2.4zM299.16 137.33h2.5l-1.25-2.4zM299.45 137.46h2.5l-1.25-2.4zM299.74 137.45h2.5l-1.25-2.4zM300.02 137.54h2.5l-1.25-2.4zM300.31 137.86h2.5l-1.25-2.4zM300.59 137.76h2.5l-1.25-2.4zM300.87 138.02h2.5l-1.25-2.4zM301.15 138.06h2.5l-1.25-2.4zM301.43 138.11h2.5l-1.25-2.4zM301.71 138.38h2.5l-1.25-2.4zM301.98 138.47h2.5l-1.25-2.4zM302.26 138.72h2.5l-1.25-2.4zM302.53 138.90h2.5l-1.25-2.4zM302.80 138.82h2.5l-1.25-2.4zM303.06 139.03h2.5l-1.25-2.4zM303.33 139.15h2.5l-1.25-2.4zM303.60 139.14h2.5l-1.25-2.4zM303.86 139.22h2.5l-1.25-2.4zM304.12 139.53h2.5l-1.25-2.4zM304.38 139.49h2.5l-1.25-2.4zM304.64 139.63h2.5l-1.25-2.4zM304.90 139.72h2.5l-1.25-2.4zM305.15 139.84h2.5l-1.25-2.4zM305.41 139.91h2.5l-1.25-2.4zM305.66 140.13h2.5l-1.25-2.4zM305.91 140.27h2.5l-1.25-2.4zM306.16 140.25h2.5l-1.25-2.4zM306.41 140.28h2.5l-1.25-2.4zM306.66 140.50h2.5l-1.25-2.4zM306.90 140.48h2.5l-1.25-2.4zM307.15 140.66h2.5l-1.25-2.4zM307.39 140.91h2.5l-1.25-2.4zM307.63 141.10h2.5l-1.25-2.4zM307.87 141.05h2.5l-1.25-2.4zM308.11 141.04h2.5l-1.25-2.4zM308.35 141.29h2.5l-1.25-2.4zM308.59 141.15h2.5l-1.25-2.4zM308.82 141.37h2.5l-1.25-2.4zM309.06 141.65h2.5l-1.25-2.4zM309.29 141.69h2.5l-1.25-2.4zM309.52 141.62h2.5l-1.25-2.4zM309.75 141.69h2.5l-1.25-2.4zM309.98 141.99h2.5l-1.25-2.4zM310.21 142.02h2.5l-1.25-2.4zM310.44 142.07h2.5l-1.25-2.4zM310.66 142.25h2.5l-1.25-2.4zM310.89 142.27h2.5l-1.25-2.4zM311.11 142.26h2.5l-1.25-2.4zM311.33 142.57h2.5l-1.25-2.4zM311.55 142.55h2.5l-1.25-2.4zM311.77 142.62h2.5l-1.25-2.4zM311.99 142.68h2.5l-1.25-2.4zM312.21 142.90h2.5l-1.25-2.4zM312.43 142.91h2.5l-1.25-2.4zM312.64 143.12h2.5l-1.25-2.4zM312.86 143.14h2.5l-1.25-2.4zM313.07 143.34h2.5l-1.25-2.4zM313.28 143.31h2.5l-1.25-2.4zM313.50 143.38h2.5l-1.25-2.4zM313.71 143.37h2.5l-1.25-2.4zM313.92 143.53h2.5l-1.25-2.4zM314.13 143.76h2.5l-1.25-2.4zM314.33 144.04h2.5l-1.25-2.4zM314.54 143.79h2.5l-1.25-2.4zM314.75 143.89h2.5l-1.25-2.4zM314.95 144.09h2.5l-1.25-2.4zM315.16 144.19h2.5l-1.25-2.4zM315.36 144.18h2.5l-1.25-2.4zM315.56 144.33h2.5l-1.25-2.4zM315.76 144.28h2.5l-1.25-2.4zM315.96 144.47h2.5l-1.25-2.4zM316.16 144.65h2.5l-1.25-2.4zM316.36 144.80h2.5l-1.25-2.4zM316.56 144.74h2.5l-1.25-2.4zM316.75 144.82h2.5l-1.25-2.4zM316.95 144.96h2.5l-1.25-2.4zM317.15 145.09h2.5l-1.25-2.4zM317.34 145.13h2.5l-1.25-2.4zM317.53 145.11h2.5l-1.25-2.4zM317.73 145.28h2.5l-1.25-2.4zM317.92 145.41h2.5l-1.25-2.4zM318.11 145.36h2.5l-1.25-2.4zM318.30 145.39h2.5l-1.25-2.4zM318.49 145.62h2.5l-1.25-2.4zM318.68 145.69h2.5l-1.25-2.4zM318.86 145.82h2.5l-1.25-2.4zM319.05 145.83h2.5l-1.25-2.4zM319.24 145.85h2.5l-1.25-2.4zM319.42 145.95h2.5l-1.25-2.4zM319.61 145.98h2.5l-1.25-2.4zM319.79 146.07h2.5l-1.25-2.4zM319.97 146.18h2.5l-1.25-2.4zM320.15 146.26h2.5l-1.25-2.4zM320.34 146.47h2.5l-1.25-2.4zM320.52 146.36h2.5l-1.25-2.4zM320.70 146.53h2.5l-1.25-2.4zM320.88 146.56h2.5l-1.25-2.4zM321.05 146.81h2.5l-1.25-2.4zM321.23 146.78h2.5l-1.25-2.4zM321.41 146.81h2.5l-1.25-2.4zM321.59 146.98h2.5l-1.25-2.4zM321.76 147.00h2.5l-1.25-2.4zM321.94 147.03h2.5l-1.25-2.4zM322.11 147.26h2.5l-1.25-2.4zM322.28 147.27h2.5l-1.25-2.4zM322.46 147.43h2.5l-1.25-2.4zM322.63 147.46h2.5l-1.25-2.4zM322.80 147.50h2.5l-1.25-2.4zM322.97 147.52h2.5l-1.25-2.4zM323.14 147.50h2.5l-1.25-2.4zM323.31 147.71h2.5l-1.25-2.4zM323.48 147.74h2.5l-1.25-2.4zM323.65 147.86h2.5l-1.25-2.4zM323.82 147.87h2.5l-1.25-2.4zM323.99 147.89h2.5l-1.25-2.4zM324.15 147.94h2.5l-1.25-2.4zM324.32 148.15h2.5l-1.25-2.4zM324.48 148.26h2.5l-1.25-2.4zM324.65 148.21h2.5l-1.25-2.4zM324.81 148.34h2.5l-1.25-2.4zM324.97 148.48h2.5l-1.25-2.4zM325.14 148.38h2.5l-1.25-2.4zM325.30 148.49h2.5l-1.25-2.4zM325.46 148.49h2.5l-1.25-2.4zM325.62 148.75h2.5l-1.25-2.4zM325.78 148.74h2.5l-1.25-2.4zM325.94 148.75h2.5l-1.25-2.4zM326.10 148.73h2.5l-1.25-2.4zM326.26 148.91h2.5l-1.25-2.4zM326.42 149.07h2.5l-1.25-2.4zM326.58 149.04h2.5l-1.25-2.4zM326.73 149.10h2.5l-1.25-2.4zM326.89 149.25h2.5l-1.25-2.4zM327.05 149.17h2.5l-1.25-2.4zM327.20 149.34h2.5l-1.25-2.4zM327.36 149.45h2.5l-1.25-2.4zM327.51 149.40h2.5l-1.25-2.4zM327.66 149.46h2.5l-1.25-2.4zM327.82 149.62h2.5l-1.25-2.4zM327.97 149.65h2.5l-1.25-2.4zM328.12 149.71h2.5l-1.25-2.4zM328.27 149.81h2.5l-1.25-2.4zM328.43 149.88h2.5l-1.25-2.4zM328.58 149.85h2.5l-1.25-2.4zM328.73 149.93h2.5l-1.25-2.4zM328.88 150.09h2.5l-1.25-2.4zM329.03 150.20h2.5l-1.25-2.4zM329.17 150.29h2.5l-1.25-2.4zM329.32 150.18h2.5l-1.25-2.4zM329.47 150.39h2.5l-1.25-2.4zM329.62 150.43h2.5l-1.25-2.4zM329.76 150.43h2.5l-1.25-2.4zM329.91 150.53h2.5l-1.25-2.4zM330.06 150.62h2.5l-1.25-2.4zM330.20 150.76h2.5l-1.25-2.4zM330.35 150.60h2.5l-1.25-2.4zM330.49 150.79h2.5l-1.25-2.4zM330.63 150.80h2.5l-1.25-2.4zM330.78 150.85h2.5l-1.25-2.4zM330.92 151.02h2.5l-1.25-2.4zM331.06 151.06h2.5l-1.25-2.4zM331.20 150.97h2.5l-1.25-2.4zM331.35 151.09h2.5l-1.25-2.4zM331.49 151.19h2.5l-1.25-2.4zM331.63 151.12h2.5l-1.25-2.4zM331.77 151.36h2.5l-1.25-2.4zM331.91 151.35h2.5l-1.25-2.4zM332.05 151.43h2.5l-1.25-2.4zM332.19 151.50h2.5l-1.25-2.4zM332.32 151.68h2.5l-1.25-2.4zM332.46 151.60h2.5l-1.25-2.4zM332.60 151.62h2.5l-1.25-2.4zM332.74 151.85h2.5l-1.25-2.4zM332.87 151.73h2.5l-1.25-2.4zM333.01 151.79h2.5l-1.25-2.4zM333.15 151.78h2.5l-1.25-2.4zM333.28 152.03h2.5l-1.25-2.4zM333.42 152.03h2.5l-1.25-2.4zM333.55 152.10h2.5l-1.25-2.4zM333.69 152.13h2.5l-1.25-2.4zM333.82 152.17h2.5l-1.25-2.4zM333.95 152.17h2.5l-1.25-2.4zM334.09 152.23h2.5l-1.25-2.4zM334.22 152.38h2.5l-1.25-2.4zM334.35 152.42h2.5l-1.25-2.4zM334.48 152.59h2.5l-1.25-2.4zM334.61 152.46h2.5l-1.25-2.4zM334.74 152.54h2.5l-1.25-2.4zM334.88 152.55h2.5l-1.25-2.4zM335.01 152.80h2.5l-1.25-2.4zM335.14 152.65h2.5l-1.25-2.4zM335.27 152.86h2.5l-1.25-2.4zM335.39 152.97h2.5l-1.25-2.4zM335.52 152.90h2.5l-1.25-2.4zM335.65 153.02h2.5l-1.25-2.4zM335.78 152.85h2.5l-1.25-2.4zM335.91 153.04h2.5l-1.25-2.4zM336.03 153.00h2.5l-1.25-2.4zM336.16 153.20h2.5l-1.25-2.4zM336.29 153.24h2.5l-1.25-2.4zM336.41 153.23h2.5l-1.25-2.4zM336.54 153.42h2.5l-1.25-2.4zM336.67 153.43h2.5l-1.25-2.4zM336.79 153.41h2.5l-1.25-2.4zM336.92 153.47h2.5l-1.25-2.4zM337.04 153.45h2.5l-1.25-2.4zM337.16 153.60h2.5l-1.25-2.4zM337.29 153.84h2.5l-1.25-2.4zM337.41 153.67h2.5l-1.25-2.4zM337.53 153.81h2.5l-1.25-2.4zM337.66 153.78h2.5l-1.25-2.4zM337.78 153.94h2.5l-1.25-2.4zM337.90 153.97h2.5l-1.25-2.4zM338.02 153.97h2.5l-1.25-2.4zM338.14 153.90h2.5l-1.25-2.4zM338.27 154.05h2.5l-1.25-2.4zM338.39 154.24h2.5l-1.25-2.4zM338.51 154.17h2.5l-1.25-2.4zM338.63 154.30h2.5l-1.25-2.4zM338.75 154.26h2.5l-1.25-2.4zM338.87 154.20h2.5l-1.25-2.4zM338.99 154.43h2.5l-1.25-2.4zM339.10 154.48h2.5l-1.25-2.4zM339.22 154.45h2.5l-1.25-2.4zM339.34 154.52h2.5l-1.25-2.4zM339.46 154.62h2.5l-1.25-2.4zM339.58 154.60h2.5l-1.25-2.4zM339.69 154.73h2.5l-1.25-2.4zM339.81 154.74h2.5l-1.25-2.4zM339.93 154.61h2.5l-1.25-2.4zM340.04 154.84h2.5l-1.25-2.4zM340.16 154.85h2.5l-1.25-2.4zM340.28 154.88h2.5l-1.25-2.4zM340.39 155.03h2.5l-1.25-2.4zM340.51 155.01h2.5l-1.25-2.4zM340.62 155.14h2.5l-1.25-2.4zM340.73 155.24h2.5l-1.25-2.4zM340.85 155.21h2.5l-1.25-2.4zM340.96 155.12h2.5l-1.25-2.4zM341.08 155.24h2.5l-1.25-2.4zM341.19 155.42h2.5l-1.25-2.4zM341.30 155.37h2.5l-1.25-2.4zM341.42 155.38h2.5l-1.25-2.4zM341.53 155.48h2.5l-1.25-2.4zM341.64 155.58h2.5l-1.25-2.4zM341.75 155.61h2.5l-1.25-2.4zM341.86 155.68h2.5l-1.25-2.4zM341.98 155.61h2.5l-1.25-2.4zM342.09 155.71h2.5l-1.25-2.4zM342.20 155.76h2.5l-1.25-2.4zM342.31 155.82h2.5l-1.25-2.4zM342.42 155.70h2.5l-1.25-2.4zM342.53 155.90h2.5l-1.25-2.4zM342.64 155.86h2.5l-1.25-2.4zM342.75 156.12h2.5l-1.25-2.4zM342.86 156.18h2.5l-1.25-2.4zM342.96 156.24h2.5l-1.25-2.4zM343.07 156.22h2.5l-1.25-2.4zM343.18 156.16h2.5l-1.25-2.4zM343.29 156.32h2.5l-1.25-2.4zM343.40 156.27h2.5l-1.25-2.4zM343.51 156.39h2.5l-1.25-2.4zM343.61 156.31h2.5l-1.25-2.4zM343.72 156.38h2.5l-1.25-2.4zM343.83 156.51h2.5l-1.25-2.4zM343.93 156.66h2.5l-1.25-2.4zM344.04 156.56h2.5l-1.25-2.4zM344.15 156.79h2.5l-1.25-2.4zM344.25 156.88h2.5l-1.25-2.4zM344.36 156.60h2.5l-1.25-2.4zM344.46 156.74h2.5l-1.25-2.4zM344.57 156.71h2.5l-1.25-2.4zM344.67 156.83h2.5l-1.25-2.4zM344.78 156.84h2.5l-1.25-2.4zM344.88 156.92h2.5l-1.25-2.4zM344.98 157.05h2.5l-1.25-2.4zM345.09 157.09h2.5l-1.25-2.4zM345.19 157.08h2.5l-1.25-2.4zM345.30 157.10h2.5l-1.25-2.4zM345.40 157.16h2.5l-1.25-2.4zM345.50 157.20h2.5l-1.25-2.4zM345.60 157.28h2.5l-1.25-2.4zM345.71 157.28h2.5l-1.25-2.4zM345.81 157.36h2.5l-1.25-2.4zM345.91 157.26h2.5l-1.25-2.4zM346.01 157.48h2.5l-1.25-2.4zM346.11 157.60h2.5l-1.25-2.4zM346.21 157.51h2.5l-1.25-2.4zM346.32 157.42h2.5l-1.25-2.4zM346.42 157.70h2.5l-1.25-2.4zM346.52 157.60h2.5l-1.25-2.4zM346.62 157.42h2.5l-1.25-2.4zM346.72 157.69h2.5l-1.25-2.4zM346.82 157.81h2.5l-1.25-2.4zM346.92 157.83h2.5l-1.25-2.4zM347.02 157.94h2.5l-1.25-2.4zM347.11 157.94h2.5l-1.25-2.4zM347.21 157.94h2.5l-1.25-2.4zM347.31 157.80h2.5l-1.25-2.4zM347.41 157.92h2.5l-1.25-2.4zM347.51 158.07h2.5l-1.25-2.4zM347.61 158.15h2.5l-1.25-2.4zM347.70 158.05h2.5l-1.25-2.4zM347.80 158.13h2.5l-1.25-2.4zM347.90 158.26h2.5l-1.25-2.4zM348.00 158.10h2.5l-1.25-2.4zM348.09 158.14h2.5l-1.25-2.4zM348.19 158.33h2.5l-1.25-2.4zM348.29 158.41h2.5l-1.25-2.4zM348.38 158.39h2.5l-1.25-2.4zM348.48 158.28h2.5l-1.25-2.4zM348.58 158.51h2.5l-1.25-2.4zM348.67 158.44h2.5l-1.25-2.4zM348.77 158.65h2.5l-1.25-2.4zM348.86 158.62h2.5l-1.25-2.4zM348.96 158.70h2.5l-1.25-2.4zM349.05 158.77h2.5l-1.25-2.4zM349.15 158.71h2.5l-1.25-2.4zM349.24 158.87h2.5l-1.25-2.4zM349.34 158.94h2.5l-1.25-2.4zM349.43 158.91h2.5l-1.25-2.4zM349.52 159.03h2.5l-1.25-2.4zM349.62 158.90h2.5l-1.25-2.4zM349.71 159.07h2.5l-1.25-2.4zM349.80 159.06h2.5l-1.25-2.4zM349.90 158.99h2.5l-1.25-2.4zM349.99 159.11h2.5l-1.25-2.4zM350.08 159.11h2.5l-1.25-2.4zM350.18 159.15h2.5l-1.25-2.4zM350.27 159.24h2.5l-1.25-2.4zM350.36 159.37h2.5l-1.25-2.4zM350.45 159.29h2.5l-1.25-2.4zM350.54 159.36h2.5l-1.25-2.4zM350.64 159.27h2.5l-1.25-2.4zM350.73 159.44h2.5l-1.25-2.4zM350.82 159.57h2.5l-1.25-2.4zM350.91 159.58h2.5l-1.25-2.4zM351.00 159.59h2.5l-1.25-2.4zM351.09 159.54h2.5l-1.25-2.4zM351.18 159.54h2.5l-1.25-2.4zM351.27 159.66h2.5l-1.25-2.4zM351.36 159.59h2.5l-1.25-2.4zM351.45 159.64h2.5l-1.25-2.4zM351.54 159.86h2.5l-1.25-2.4zM351.63 159.74h2.5l-1.25-2.4zM351.72 160.01h2.5l-1.25-2.4zM351.81 159.77h2.5l-1.25-2.4zM351.90 159.97h2.5l-1.25-2.4zM351.99 159.87h2.5l-1.25-2.4zM352.08 160.03h2.5l-1.25-2.4zM352.16 159.96h2.5l-1.25-2.4zM352.25 160.09h2.5l-1.25-2.4zM352.34 160.11h2.5l-1.25-2.4zM352.43 160.12h2.5l-1.25-2.4zM352.52 160.24h2.5l-1.25-2.4zM352.60 160.37h2.5l-1.25-2.4zM352.69 160.22h2.5l-1.25-2.4zM352.78 160.39h2.5l-1.25-2.4zM352.87 160.36h2.5l-1.25-2.4zM352.95 160.38h2.5l-1.25-2.4zM353.04 160.62h2.5l-1.25-2.4zM353.13 160.27h2.5l-1.25-2.4zM353.21 160.44h2.5l-1.25-2.4zM353.30 160.37h2.5l-1.25-2.4zM353.38 160.54h2.5l-1.25-2.4zM353.47 160.59h2.5l-1.25-2.4zM353.56 160.98h2.5l-1.25-2.4zM353.64 160.71h2.5l-1.25-2.4zM353.73 160.88h2.5l-1.25-2.4zM353.81 160.87h2.5l-1.25-2.4zM353.90 160.75h2.5l-1.25-2.4zM353.98 160.87h2.5l-1.25-2.4zM354.07 161.01h2.5l-1.25-2.4zM354.15 160.92h2.5l-1.25-2.4zM354.24 160.95h2.5l-1.25-2.4zM354.32 161.02h2.5l-1.25-2.4zM354.40 160.87h2.5l-1.25-2.4zM354.49 160.97h2.5l-1.25-2.4zM354.57 161.11h2.5l-1.25-2.4zM354.66 161.16h2.5l-1.25-2.4zM354.74 161.07h2.5l-1.25-2.4zM354.82 161.16h2.5l-1.25-2.4zM354.91 161.21h2.5l-1.25-2.4zM354.99 161.24h2.5l-1.25-2.4zM355.07 161.36h2.5l-1.25-2.4zM355.15 161.34h2.5l-1.25-2.4zM355.24 161.38h2.5l-1.25-2.4zM355.32 161.27h2.5l-1.25-2.4zM355.40 161.34h2.5l-1.25-2.4zM355.48 161.50h2.5l-1.25-2.4zM355.57 161.36h2.5l-1.25-2.4zM355.65 161.57h2.5l-1.25-2.4zM355.73 161.51h2.5l-1.25-2.4zM355.81 161.54h2.5l-1.25-2.4zM355.89 161.70h2.5l-1.25-2.4zM355.97 161.62h2.5l-1.25-2.4zM356.05 161.64h2.5l-1.25-2.4zM356.14 161.69h2.5l-1.25-2.4zM356.22 161.79h2.5l-1.25-2.4zM356.30 162.07h2.5l-1.25-2.4zM356.38 161.66h2.5l-1.25-2.4zM356.46 161.89h2.5l-1.25-2.4zM356.54 161.90h2.5l-1.25-2.4zM356.62 162.04h2.5l-1.25-2.4zM356.70 161.96h2.5l-1.25-2.4zM356.78 161.79h2.5l-1.25-2.4zM356.86 162.18h2.5l-1.25-2.4zM356.94 161.99h2.5l-1.25-2.4zM357.02 162.12h2.5l-1.25-2.4zM357.09 162.03h2.5l-1.25-2.4zM357.17 162.09h2.5l-1.25-2.4zM357.25 162.18h2.5l-1.25-2.4zM357.33 162.34h2.5l-1.25-2.4zM357.41 162.37h2.5l-1.25-2.4zM357.49 162.27h2.5l-1.25-2.4zM357.57 162.41h2.5l-1.25-2.4zM357.64 162.36h2.5l-1.25-2.4zM357.72 162.44h2.5l-1.25-2.4zM357.80 162.48h2.5l-1.25-2.4zM357.88 162.55h2.5l-1.25-2.4zM357.96 162.47h2.5l-1.25-2.4zM358.03 162.55h2.5l-1.25-2.4zM358.11 162.62h2.5l-1.25-2.4zM358.19 162.64h2.5l-1.25-2.4zM358.27 162.58h2.5l-1.25-2.4zM358.34 162.86h2.5l-1.25-2.4zM358.42 162.68h2.5l-1.25-2.4zM358.50 162.83h2.5l-1.25-2.4zM358.57 162.81h2.5l-1.25-2.4zM358.65 162.94h2.5l-1.25-2.4zM358.72 162.65h2.5l-1.25-2.4zM358.80 163.09h2.5l-1.25-2.4zM358.88 162.90h2.5l-1.25-2.4zM358.95 162.84h2.5l-1.25-2.4zM359.03 163.00h2.5l-1.25-2.4zM359.10 163.24h2.5l-1.25-2.4zM359.18 163.10h2.5l-1.25-2.4zM359.26 162.96h2.5l-1.25-2.4zM359.33 163.07h2.5l-1.25-2.4zM359.41 163.28h2.5l-1.25-2.4zM359.48 163.04h2.5l-1.25-2.4zM359.56 163.20h2.5l-1.25-2.4zM359.63 163.22h2.5l-1.25-2.4zM359.71 163.49h2.5l-1.25-2.4zM359.78 163.28h2.5l-1.25-2.4zM359.85 163.47h2.5l-1.25-2.4zM359.93 163.31h2.5l-1.25-2.4zM360.00 163.33h2.5l-1.25-2.4zM360.08 163.54h2.5l-1.25-2.4zM360.15 163.53h2.5l-1.25-2.4zM360.22 163.33h2.5l-1.25-2.4zM360.30 163.60h2.5l-1.25-2.4zM360.37 163.63h2.5l-1.25-2.4zM360.44 163.53h2.5l-1.25-2.4zM360.52 163.65h2.5l-1.25-2.4zM360.59 163.68h2.5l-1.25-2.4zM360.66 163.64h2.5l-1.25-2.4zM360.74 163.66h2.5l-1.25-2.4zM360.81 163.68h2.5l-1.25-2.4zM360.88 163.75h2.5l-1.25-2.4zM360.96 163.68h2.5l-1.25-2.4zM361.03 163.84h2.5l-1.25-2.4zM361.10 163.72h2.5l-1.25-2.4zM361.17 163.91h2.5l-1.25-2.4zM361.24 163.93h2.5l-1.25-2.4zM361.32 163.86h2.5l-1.25-2.4zM361.39 164.09h2.5l-1.25-2.4zM361.46 164.23h2.5l-1.25-2.4zM361.53 164.20h2.5l-1.25-2.4zM361.60 163.95h2.5l-1.25-2.4zM361.67 164.25h2.5l-1.25-2.4zM361.75 164.17h2.5l-1.25-2.4zM361.82 164.18h2.5l-1.25-2.4zM361.89 164.15h2.5l-1.25-2.4zM361.96 164.24h2.5l-1.25-2.4zM362.03 164.42h2.5l-1.25-2.4zM362.10 164.36h2.5l-1.25-2.4zM362.17 164.29h2.5l-1.25-2.4zM362.24 164.29h2.5l-1.25-2.4zM362.31 164.35h2.5l-1.25-2.4zM362.38 164.49h2.5l-1.25-2.4zM362.45 164.65h2.5l-1.25-2.4zM362.52 164.37h2.5l-1.25-2.4zM362.59 164.51h2.5l-1.25-2.4zM362.66 164.50h2.5l-1.25-2.4zM362.73 164.49h2.5l-1.25-2.4zM362.80 164.65h2.5l-1.25-2.4zM362.87 164.69h2.5l-1.25-2.4zM362.94 164.51h2.5l-1.25-2.4zM363.01 164.58h2.5l-1.25-2.4zM363.08 164.85h2.5l-1.25-2.4zM363.15 164.79h2.5l-1.25-2.4zM363.22 164.84h2.5l-1.25-2.4zM363.29 164.76h2.5l-1.25-2.4zM363.35 164.80h2.5l-1.25-2.4zM363.42 164.92h2.5l-1.25-2.4zM363.49 164.85h2.5l-1.25-2.4zM363.56 164.81h2.5l-1.25-2.4zM363.63 164.96h2.5l-1.25-2.4zM363.70 165.08h2.5l-1.25-2.4zM363.76 164.91h2.5l-1.25-2.4zM363.83 165.16h2.5l-1.25-2.4zM363.90 165.15h2.5l-1.25-2.4zM363.97 165.01h2.5l-1.25-2.4zM364.04 165.13h2.5l-1.25-2.4zM364.10 165.16h2.5l-1.25-2.4zM364.17 165.26h2.5l-1.25-2.4zM364.24 165.29h2.5l-1.25-2.4zM364.31 165.11h2.5l-1.25-2.4zM364.37 165.13h2.5l-1.25-2.4zM364.44 165.42h2.5l-1.25-2.4zM364.51 165.35h2.5l-1.25-2.4zM364.57 165.41h2.5l-1.25-2.4zM364.64 165.43h2.5l-1.25-2.4zM364.71 165.59h2.5l-1.25-2.4zM364.77 165.32h2.5l-1.25-2.4zM364.84 165.60h2.5l-1.25-2.4zM364.91 165.42h2.5l-1.25-2.4zM364.97 165.62h2.5l-1.25-2.4zM365.04 165.71h2.5l-1.25-2.4zM365.10 165.44h2.5l-1.25-2.4zM365.17 165.66h2.5l-1.25-2.4zM365.24 165.62h2.5l-1.25-2.4zM365.30 165.64h2.5l-1.25-2.4zM365.37 165.71h2.5l-1.25-2.4zM365.43 165.61h2.5l-1.25-2.4zM365.50 165.65h2.5l-1.25-2.4zM365.56 165.86h2.5l-1.25-2.4zM365.63 165.91h2.5l-1.25-2.4zM365.69 165.78h2.5l-1.25-2.4zM365.76 165.71h2.5l-1.25-2.4zM365.83 166.16h2.5l-1.25-2.4zM365.89 166.05h2.5l-1.25-2.4zM365.95 166.00h2.5l-1.25-2.4zM366.02 165.87h2.5l-1.25-2.4zM366.08 165.94h2.5l-1.25-2.4zM366.15 166.07h2.5l-1.25-2.4zM366.21 165.96h2.5l-1.25-2.4zM366.28 166.28h2.5l-1.25-2.4zM366.34 166.14h2.5l-1.25-2.4zM366.41 166.19h2.5l-1.25-2.4zM366.47 166.06h2.5l-1.25-2.4zM366.53 166.10h2.5l-1.25-2.4zM366.60 166.14h2.5l-1.25-2.4zM366.66 166.29h2.5l-1.25-2.4zM366.73 166.25h2.5l-1.25-2.4zM366.79 166.28h2.5l-1.25-2.4zM366.85 166.38h2.5l-1.25-2.4zM366.92 166.39h2.5l-1.25-2.4zM366.98 166.57h2.5l-1.25-2.4zM367.04 166.40h2.5l-1.25-2.4zM367.11 166.33h2.5l-1.25-2.4zM367.17 166.47h2.5l-1.25-2.4zM367.23 166.67h2.5l-1.25-2.4zM367.29 166.46h2.5l-1.25-2.4zM367.36 166.56h2.5l-1.25-2.4zM367.42 166.54h2.5l-1.25-2.4zM367.48 166.66h2.5l-1.25-2.4zM367.55 166.67h2.5l-1.25-2.4zM367.61 166.57h2.5l-1.25-2.4zM367.67 166.66h2.5l-1.25-2.4zM367.73 166.83h2.5l-1.25-2.4zM367.79 166.87h2.5l-1.25-2.4zM367.86 166.88h2.5l-1.25-2.4zM367.92 166.90h2.5l-1.25-2.4zM367.98 166.78h2.5l-1.25-2.4zM368.04 166.81h2.5l-1.25-2.4zM368.10 166.99h2.5l-1.25-2.4zM368.17 166.76h2.5l-1.25-2.4zM368.23 166.92h2.5l-1.25-2.4zM368.29 166.73h2.5l-1.25-2.4zM368.35 166.94h2.5l-1.25-2.4zM368.41 166.92h2.5l-1.25-2.4zM368.47 166.89h2.5l-1.25-2.4zM368.53 167.13h2.5l-1.25-2.4zM368.60 167.00h2.5l-1.25-2.4zM368.66 167.07h2.5l-1.25-2.4zM368.72 167.11h2.5l-1.25-2.4zM368.78 167.07h2.5l-1.25-2.4zM368.84 167.37h2.5l-1.25-2.4zM368.90 167.16h2.5l-1.25-2.4zM368.96 167.27h2.5l-1.25-2.4zM369.02 167.11h2.5l-1.25-2.4zM369.08 167.24h2.5l-1.25-2.4zM369.14 167.28h2.5l-1.25-2.4zM369.20 167.31h2.5l-1.25-2.4zM369.26 167.30h2.5l-1.25-2.4zM369.32 167.42h2.5l-1.25-2.4zM369.38 167.62h2.5l-1.25-2.4zM369.44 167.43h2.5l-1.25-2.4zM369.50 167.46h2.5l-1.25-2.4zM369.56 167.45h2.5l-1.25-2.4zM369.62 167.84h2.5l-1.25-2.4zM369.68 167.75h2.5l-1.25-2.4zM369.74 167.65h2.5l-1.25-2.4zM369.80 167.69h2.5l-1.25-2.4zM369.86 167.54h2.5l-1.25-2.4zM369.92 167.63h2.5l-1.25-2.4zM369.98 167.71h2.5l-1.25-2.4zM370.04 167.72h2.5l-1.25-2.4zM370.10 167.62h2.5l-1.25-2.4zM370.15 167.66h2.5l-1.25-2.4zM370.21 167.85h2.5l-1.25-2.4zM370.27 167.85h2.5l-1.25-2.4zM370.33 167.56h2.5l-1.25-2.4zM370.39 167.87h2.5l-1.25-2.4zM370.45 168.04h2.5l-1.25-2.4zM370.51 167.82h2.5l-1.25-2.4zM370.56 167.96h2.5l-1.25-2.4zM370.62 167.77h2.5l-1.25-2.4zM370.68 168.09h2.5l-1.25-2.4zM370.74 167.86h2.5l-1.25-2.4zM370.80 167.87h2.5l-1.25-2.4zM370.86 168.01h2.5l-1.25-2.4zM370.91 168.39h2.5l-1.25-2.4zM370.97 168.03h2.5l-1.25-2.4zM371.03 167.96h2.5l-1.25-2.4zM371.09 168.22h2.5l-1.25-2.4zM371.14 168.21h2.5l-1.25-2.4zM371.20 168.42h2.5l-1.25-2.4zM371.26 168.06h2.5l-1.25-2.4zM371.32 168.04h2.5l-1.25-2.4zM371.37 168.24h2.5l-1.25-2.4zM371.43 168.35h2.5l-1.25-2.4zM371.49 168.37h2.5l-1.25-2.4zM371.55 168.50h2.5l-1.25-2.4zM371.60 168.18h2.5l-1.25-2.4zM371.66 168.29h2.5l-1.25-2.4zM371.72 168.41h2.5l-1.25-2.4zM371.77 168.56h2.5l-1.25-2.4zM371.83 168.54h2.5l-1.25-2.4zM371.89 168.44h2.5l-1.25-2.4zM371.94 168.38h2.5l-1.25-2.4zM372.00 168.67h2.5l-1.25-2.4zM372.06 168.70h2.5l-1.25-2.4zM372.11 168.96h2.5l-1.25-2.4zM372.17 168.59h2.5l-1.25-2.4zM372.23 168.86h2.5l-1.25-2.4zM372.28 168.50h2.5l-1.25-2.4zM372.34 168.62h2.5l-1.25-2.4zM372.39 168.62h2.5l-1.25-2.4zM372.45 168.68h2.5l-1.25-2.4zM372.51 168.64h2.5l-1.25-2.4zM372.56 168.71h2.5l-1.25-2.4zM372.62 168.80h2.5l-1.25-2.4zM372.67 168.77h2.5l-1.25-2.4zM372.73 168.95h2.5l-1.25-2.4zM372.79 168.87h2.5l-1.25-2.4zM372.84 168.91h2.5l-1.25-2.4zM372.90 169.13h2.5l-1.25-2.4zM372.95 169.00h2.5l-1.25-2.4zM373.01 169.00h2.5l-1.25-2.4zM373.06 169.00h2.5l-1.25-2.4zM373.12 169.03h2.5l-1.25-2.4zM373.17 169.13h2.5l-1.25-2.4zM373.23 168.96h2.5l-1.25-2.4zM373.28 169.26h2.5l-1.25-2.4zM373.34 169.34h2.5l-1.25-2.4zM373.39 169.31h2.5l-1.25-2.4zM373.45 169.10h2.5l-1.25-2.4zM373.50 168.96h2.5l-1.25-2.4zM373.56 169.15h2.5l-1.25-2.4zM373.61 169.26h2.5l-1.25-2.4zM373.66 169.38h2.5l-1.25-2.4zM373.72 169.26h2.5l-1.25-2.4zM373.77 169.26h2.5l-1.25-2.4zM373.83 169.55h2.5l-1.25-2.4zM373.88 169.25h2.5l-1.25-2.4zM373.94 169.52h2.5l-1.25-2.4zM373.99 169.52h2.5l-1.25-2.4zM374.04 169.22h2.5l-1.25-2.4zM374.10 169.48h2.5l-1.25-2.4zM374.15 169.38h2.5l-1.25-2.4zM374.21 169.34h2.5l-1.25-2.4zM374.26 169.23h2.5l-1.25-2.4zM374.31 169.29h2.5l-1.25-2.4zM374.37 169.60h2.5l-1.25-2.4zM374.42 169.51h2.5l-1.25-2.4zM374.47 169.63h2.5l-1.25-2.4zM374.53 169.45h2.5l-1.25-2.4zM374.58 169.58h2.5l-1.25-2.4zM374.63 169.61h2.5l-1.25-2.4zM374.69 169.44h2.5l-1.25-2.4zM374.74 169.45h2.5l-1.25-2.4zM374.79 169.78h2.5l-1.25-2.4zM374.85 169.76h2.5l-1.25-2.4zM374.90 169.62h2.5l-1.25-2.4zM374.95 169.76h2.5l-1.25-2.4zM375.01 169.90h2.5l-1.25-2.4zM375.06 170.09h2.5l-1.25-2.4zM375.11 169.71h2.5l-1.25-2.4zM375.16 169.95h2.5l-1.25-2.4zM375.22 170.20h2.5l-1.25-2.4zM375.27 169.91h2.5l-1.25-2.4zM375.32 170.15h2.5l-1.25-2.4zM375.37 169.55h2.5l-1.25-2.4zM375.43 170.19h2.5l-1.25-2.4zM375.48 169.99h2.5l-1.25-2.4zM375.53 169.72h2.5l-1.25-2.4zM375.58 170.15h2.5l-1.25-2.4zM375.63 170.21h2.5l-1.25-2.4zM375.69 170.26h2.5l-1.25-2.4zM375.74 170.28h2.5l-1.25-2.4zM375.79 170.11h2.5l-1.25-2.4zM375.84 170.02h2.5l-1.25-2.4zM375.89 170.08h2.5l-1.25-2.4zM375.95 170.17h2.5l-1.25-2.4zM376.00 170.26h2.5l-1.25-2.4zM376.05 170.14h2.5l-1.25-2.4zM376.10 170.24h2.5l-1.25-2.4zM376.15 170.39h2.5l-1.25-2.4zM376.20 170.33h2.5l-1.25-2.4zM376.26 170.66h2.5l-1.25-2.4zM376.31 170.66h2.5l-1.25-2.4zM376.36 170.16h2.5l-1.25-2.4zM376.41 170.27h2.5l-1.25-2.4zM376.46 170.17h2.5l-1.25-2.4zM376.51 170.22h2.5l-1.25-2.4zM376.56 170.51h2.5l-1.25-2.4zM376.61 170.28h2.5l-1.25-2.4zM376.66 170.29h2.5l-1.25-2.4zM376.72 170.44h2.5l-1.25-2.4zM376.77 170.63h2.5l-1.25-2.4zM376.82 170.47h2.5l-1.25-2.4zM376.87 170.48h2.5l-1.25-2.4zM376.92 170.71h2.5l-1.25-2.4zM376.97 170.66h2.5l-1.25-2.4zM377.02 170.68h2.5l-1.25-2.4zM377.07 170.78h2.5l-1.25-2.4zM377.12 170.48h2.5l-1.25-2.4zM377.17 170.70h2.5l-1.25-2.4zM377.22 170.58h2.5l-1.25-2.4zM377.27 170.87h2.5l-1.25-2.4zM377.32 170.86h2.5l-1.25-2.4zM377.37 170.57h2.5l-1.25-2.4zM377.42 170.98h2.5l-1.25-2.4zM377.47 170.59h2.5l-1.25-2.4zM377.52 171.00h2.5l-1.25-2.4zM377.57 170.86h2.5l-1.25-2.4zM377.62 170.70h2.5l-1.25-2.4zM377.67 170.68h2.5l-1.25-2.4zM377.72 170.83h2.5l-1.25-2.4zM377.77 170.90h2.5l-1.25-2.4zM377.82 170.80h2.5l-1.25-2.4zM377.87 171.04h2.5l-1.25-2.4zM377.92 170.73h2.5l-1.25-2.4zM377.97 170.98h2.5l-1.25-2.4zM378.02 171.00h2.5l-1.25-2.4zM378.07 170.71h2.5l-1.25-2.4zM378.12 171.09h2.5l-1.25-2.4zM378.17 170.85h2.5l-1.25-2.4zM378.21 170.66h2.5l-1.25-2.4zM378.26 171.00h2.5l-1.25-2.4zM378.31 171.08h2.5l-1.25-2.4zM378.36 171.29h2.5l-1.25-2.4zM378.41 171.08h2.5l-1.25-2.4zM378.46 171.43h2.5l-1.25-2.4zM378.51 171.44h2.5l-1.25-2.4zM378.56 171.40h2.5l-1.25-2.4zM378.61 171.46h2.5l-1.25-2.4zM378.65 171.32h2.5l-1.25-2.4zM378.70 171.18h2.5l-1.25-2.4zM378.75 171.41h2.5l-1.25-2.4zM378.80 171.48h2.5l-1.25-2.4zM378.85 171.38h2.5l-1.25-2.4zM378.90 171.31h2.5l-1.25-2.4zM378.95 171.10h2.5l-1.25-2.4zM378.99 171.51h2.5l-1.25-2.4zM379.04 171.47h2.5l-1.25-2.4zM379.09 171.20h2.5l-1.25-2.4zM379.14 171.47h2.5l-1.25-2.4zM379.19 171.60h2.5l-1.25-2.4zM379.23 171.47h2.5l-1.25-2.4zM379.28 171.65h2.5l-1.25-2.4zM379.33 171.66h2.5l-1.25-2.4zM379.38 171.29h2.5l-1.25-2.4zM379.43 171.51h2.5l-1.25-2.4zM379.47 171.67h2.5l-1.25-2.4zM379.52 171.77h2.5l-1.25-2.4zM379.57 171.87h2.5l-1.25-2.4zM379.62 171.30h2.5l-1.25-2.4zM379.66 171.65h2.5l-1.25-2.4zM379.71 171.81h2.5l-1.25-2.4zM379.76 171.92h2.5l-1.25-2.4zM379.81 172.02h2.5l-1.25-2.4zM379.85 171.57h2.5l-1.25-2.4zM379.90 171.69h2.5l-1.25-2.4zM379.95 171.58h2.5l-1.25-2.4zM380.00 171.94h2.5l-1.25-2.4zM380.04 171.57h2.5l-1.25-2.4zM380.09 172.05h2.5l-1.25-2.4zM380.14 172.02h2.5l-1.25-2.4zM380.18 171.96h2.5l-1.25-2.4zM380.23 171.49h2.5l-1.25-2.4zM380.28 171.78h2.5l-1.25-2.4zM380.33 172.06h2.5l-1.25-2.4zM380.37 171.68h2.5l-1.25-2.4zM380.42 171.92h2.5l-1.25-2.4zM380.47 171.96h2.5l-1.25-2.4zM380.51 172.16h2.5l-1.25-2.4zM380.56 172.07h2.5l-1.25-2.4zM380.61 172.09h2.5l-1.25-2.4zM380.65 171.97h2.5l-1.25-2.4zM380.70 172.07h2.5l-1.25-2.4zM380.74 172.07h2.5l-1.25-2.4zM380.79 172.25h2.5l-1.25-2.4zM380.84 172.10h2.5l-1.25-2.4zM380.88 172.34h2.5l-1.25-2.4zM380.93 171.85h2.5l-1.25-2.4zM380.98 172.41h2.5l-1.25-2.4zM381.02 172.17h2.5l-1.25-2.4zM381.07 172.43h2.5l-1.25-2.4zM381.11 172.26h2.5l-1.25-2.4zM381.16 172.42h2.5l-1.25-2.4zM381.21 172.56h2.5l-1.25-2.4zM381.25 172.19h2.5l-1.25-2.4zM381.30 172.33h2.5l-1.25-2.4zM381.34 172.30h2.5l-1.25-2.4zM381.39 172.39h2.5l-1.25-2.4zM381.44 172.06h2.5l-1.25-2.4zM381.48 172.35h2.5l-1.25-2.4zM381.53 172.36h2.5l-1.25-2.4zM381.57 172.27h2.5l-1.25-2.4zM381.62 172.40h2.5l-1.25-2.4zM381.66 172.16h2.5l-1.25-2.4zM381.71 172.75h2.5l-1.25-2.4zM381.75 172.58h2.5l-1.25-2.4zM381.80 172.88h2.5l-1.25-2.4zM381.84 172.36h2.5l-1.25-2.4zM381.89 172.32h2.5l-1.25-2.4zM381.94 172.62h2.5l-1.25-2.4zM381.98 172.26h2.5l-1.25-2.4zM382.03 172.65h2.5l-1.25-2.4zM382.07 172.48h2.5l-1.25-2.4zM382.12 172.57h2.5l-1.25-2.4zM382.16 172.71h2.5l-1.25-2.4zM382.21 172.68h2.5l-1.25-2.4zM382.25 173.06h2.5l-1.25-2.4zM382.30 172.84h2.5l-1.25-2.4zM382.34 172.47h2.5l-1.25-2.4zM382.38 172.94h2.5l-1.25-2.4zM382.43 172.50h2.5l-1.25-2.4zM382.47 172.80h2.5l-1.25-2.4zM382.52 172.55h2.5l-1.25-2.4zM382.56 172.65h2.5l-1.25-2.4zM382.61 173.10h2.5l-1.25-2.4zM382.65 172.74h2.5l-1.25-2.4zM382.70 172.74h2.5l-1.25-2.4zM382.74 172.78h2.5l-1.25-2.4zM382.79 172.84h2.5l-1.25-2.4zM382.83 173.22h2.5l-1.25-2.4zM382.87 172.70h2.5l-1.25-2.4zM382.92 172.71h2.5l-1.25-2.4zM382.96 173.10h2.5l-1.25-2.4zM383.01 172.67h2.5l-1.25-2.4zM383.05 172.94h2.5l-1.25-2.4zM383.09 173.26h2.5l-1.25-2.4zM383.14 173.05h2.5l-1.25-2.4zM383.18 172.97h2.5l-1.25-2.4zM383.23 172.94h2.5l-1.25-2.4zM383.27 172.91h2.5l-1.25-2.4zM383.31 173.00h2.5l-1.25-2.4zM383.36 173.16h2.5l-1.25-2.4zM383.40 173.41h2.5l-1.25-2.4zM383.45 173.37h2.5l-1.25-2.4zM383.49 173.07h2.5l-1.25-2.4zM383.53 173.05h2.5l-1.25-2.4zM383.58 173.37h2.5l-1.25-2.4zM383.62 172.86h2.5l-1.25-2.4zM383.66 173.16h2.5l-1.25-2.4zM383.71 173.21h2.5l-1.25-2.4zM383.75 173.06h2.5l-1.25-2.4zM383.79 173.10h2.5l-1.25-2.4zM383.84 173.40h2.5l-1.25-2.4zM383.88 172.99h2.5l-1.25-2.4zM383.92 173.17h2.5l-1.25-2.4zM383.97 173.24h2.5l-1.25-2.4zM384.01 173.41h2.5l-1.25-2.4zM384.05 173.12h2.5l-1.25-2.4zM384.10 173.66h2.5l-1.25-2.4zM384.14 173.38h2.5l-1.25-2.4zM384.18 173.41h2.5l-1.25-2.4zM384.22 173.40h2.5l-1.25-2.4zM384.27 173.35h2.5l-1.25-2.4zM384.31 173.30h2.5l-1.25-2.4zM384.35 173.77h2.5l-1.25-2.4zM384.40 173.59h2.5l-1.25-2.4zM384.44 173.54h2.5l-1.25-2.4zM384.48 173.79h2.5l-1.25-2.4zM384.52 173.44h2.5l-1.25-2.4zM384.57 173.75h2.5l-1.25-2.4zM384.61 173.63h2.5l-1.25-2.4zM384.65 173.45h2.5l-1.25-2.4zM384.69 173.83h2.5l-1.25-2.4zM384.74 173.36h2.5l-1.25-2.4zM384.78 173.84h2.5l-1.25-2.4zM384.82 173.52h2.5l-1.25-2.4zM384.86 173.82h2.5l-1.25-2.4zM384.91 174.05h2.5l-1.25-2.4zM384.95 173.89h2.5l-1.25-2.4zM384.99 173.65h2.5l-1.25-2.4zM385.03 173.79h2.5l-1.25-2.4zM385.07 173.73h2.5l-1.25-2.4zM385.12 173.57h2.5l-1.25-2.4zM385.16 173.60h2.5l-1.25-2.4zM385.20 173.87h2.5l-1.25-2.4zM385.24 174.00h2.5l-1.25-2.4zM385.28 173.51h2.5l-1.25-2.4zM385.33 173.90h2.5l-1.25-2.4zM385.37 174.04h2.5l-1.25-2.4zM385.41 173.97h2.5l-1.25-2.4zM385.45 173.74h2.5l-1.25-2.4zM385.49 174.21h2.5l-1.25-2.4zM385.54 173.72h2.5l-1.25-2.4zM385.58 174.16h2.5l-1.25-2.4zM385.62 174.39h2.5l-1.25-2.4zM385.66 173.59h2.5l-1.25-2.4zM385.70 174.12h2.5l-1.25-2.4zM385.74 174.15h2.5l-1.25-2.4zM385.78 174.15h2.5l-1.25-2.4zM385.83 173.94h2.5l-1.25-2.4zM385.87 174.06h2.5l-1.25-2.4zM385.91 173.83h2.5l-1.25-2.4zM385.95 174.19h2.5l-1.25-2.4zM385.99 174.30h2.5l-1.25-2.4zM386.03 174.04h2.5l-1.25-2.4zM386.07 174.00h2.5l-1.25-2.4zM386.11 174.12h2.5l-1.25-2.4zM386.16 174.24h2.5l-1.25-2.4zM386.20 174.27h2.5l-1.25-2.4zM386.24 174.25h2.5l-1.25-2.4zM386.28 174.31h2.5l-1.25-2.4zM386.32 174.00h2.5l-1.25-2.4zM386.36 173.69h2.5l-1.25-2.4zM386.40 174.48h2.5l-1.25-2.4zM386.44 174.68h2.5l-1.25-2.4zM386.48 174.04h2.5l-1.25-2.4zM386.52 174.23h2.5l-1.25-2.4zM386.56 174.47h2.5l-1.25-2.4zM386.61 174.64h2.5l-1.25-2.4zM386.65 174.59h2.5l-1.25-2.4zM386.69 174.75h2.5l-1.25-2.4zM386.73 174.46h2.5l-1.25-2.4zM386.77 174.58h2.5l-1.25-2.4zM386.81 174.60h2.5l-1.25-2.4zM386.85 174.41h2.5l-1.25-2.4zM386.89 174.82h2.5l-1.25-2.4zM386.93 174.70h2.5l-1.25-2.4zM386.97 174.80h2.5l-1.25-2.4zM387.01 174.49h2.5l-1.25-2.4zM387.05 174.84h2.5l-1.25-2.4zM387.09 174.36h2.5l-1.25-2.4zM387.13 174.72h2.5l-1.25-2.4zM387.17 174.02h2.5l-1.25-2.4zM387.21 174.42h2.5l-1.25-2.4zM387.25 174.85h2.5l-1.25-2.4zM387.29 174.58h2.5l-1.25-2.4zM387.33 174.75h2.5l-1.25-2.4zM387.37 174.34h2.5l-1.25-2.4zM387.41 175.11h2.5l-1.25-2.4zM387.45 174.90h2.5l-1.25-2.4zM387.49 174.77h2.5l-1.25-2.4zM387.53 174.89h2.5l-1.25-2.4zM387.57 174.88h2.5l-1.25-2.4zM387.61 175.16h2.5l-1.25-2.4zM387.65 174.89h2.5l-1.25-2.4zM387.69 174.49h2.5l-1.25-2.4zM387.73 174.80h2.5l-1.25-2.4zM387.77 175.20h2.5l-1.25-2.4zM387.81 175.04h2.5l-1.25-2.4zM387.85 174.81h2.5l-1.25-2.4zM387.89 175.08h2.5l-1.25-2.4zM387.93 174.97h2.5l-1.25-2.4zM387.97 175.11h2.5l-1.25-2.4zM388.01 174.59h2.5l-1.25-2.4zM388.05 174.77h2.5l-1.25-2.4zM388.09 175.17h2.5l-1.25-2.4zM388.12 174.97h2.5l-1.25-2.4zM388.16 175.13h2.5l-1.25-2.4zM388.20 175.54h2.5l-1.25-2.4zM388.24 174.99h2.5l-1.25-2.4zM388.28 175.15h2.5l-1.25-2.4zM388.32 174.96h2.5l-1.25-2.4zM388.36 174.96h2.5l-1.25-2.4zM388.40 175.12h2.5l-1.25-2.4zM388.44 174.79h2.5l-1.25-2.4zM388.48 174.64h2.5l-1.25-2.4zM388.52 175.52h2.5l-1.25-2.4zM388.55 175.17h2.5l-1.25-2.4zM388.59 175.49h2.5l-1.25-2.4zM388.63 175.26h2.5l-1.25-2.4zM388.67 175.28h2.5l-1.25-2.4zM388.71 175.43h2.5l-1.25-2.4zM388.75 175.46h2.5l-1.25-2.4zM388.79 174.98h2.5l-1.25-2.4zM388.83 175.61h2.5l-1.25-2.4zM388.87 175.07h2.5l-1.25-2.4zM388.90 175.39h2.5l-1.25-2.4zM388.94 176.00h2.5l-1.25-2.4zM388.98 175.39h2.5l-1.25-2.4zM389.02 175.81h2.5l-1.25-2.4zM389.06 175.31h2.5l-1.25-2.4zM389.10 175.57h2.5l-1.25-2.4zM389.13 175.44h2.5l-1.25-2.4zM389.17 175.55h2.5l-1.25-2.4zM389.21 175.24h2.5l-1.25-2.4zM389.25 175.24h2.5l-1.25-2.4zM389.29 175.58h2.5l-1.25-2.4zM389.33 175.10h2.5l-1.25-2.4zM389.36 175.30h2.5l-1.25-2.4zM389.40 175.70h2.5l-1.25-2.4zM389.44 175.39h2.5l-1.25-2.4zM389.48 175.33h2.5l-1.25-2.4zM389.52 175.29h2.5l-1.25-2.4zM389.56 175.63h2.5l-1.25-2.4zM389.59 175.52h2.5l-1.25-2.4zM389.63 175.67h2.5l-1.25-2.4zM389.67 175.59h2.5l-1.25-2.4zM389.71 176.14h2.5l-1.25-2.4zM389.75 175.56h2.5l-1.25-2.4zM389.78 175.17h2.5l-1.25-2.4zM389.82 175.73h2.5l-1.25-2.4zM389.86 175.72h2.5l-1.25-2.4zM389.90 175.77h2.5l-1.25-2.4zM389.93 175.32h2.5l-1.25-2.4zM389.97 176.06h2.5l-1.25-2.4zM390.01 175.77h2.5l-1.25-2.4zM390.05 175.78h2.5l-1.25-2.4zM390.09 175.38h2.5l-1.25-2.4zM390.12 175.95h2.5l-1.25-2.4zM390.16 175.82h2.5l-1.25-2.4zM390.20 176.21h2.5l-1.25-2.4zM390.24 175.76h2.5l-1.25-2.4zM390.27 175.55h2.5l-1.25-2.4zM390.31 175.93h2.5l-1.25-2.4zM390.35 175.67h2.5l-1.25-2.4zM390.38 176.04h2.5l-1.25-2.4zM390.42 175.65h2.5l-1.25-2.4zM390.46 175.92h2.5l-1.25-2.4zM390.50 175.91h2.5l-1.25-2.4zM390.53 175.98h2.5l-1.25-2.4zM390.57 175.86h2.5l-1.25-2.4zM390.61 175.80h2.5l-1.25-2.4zM390.65 176.01h2.5l-1.25-2.4zM390.68 175.89h2.5l-1.25-2.4zM390.72 176.10h2.5l-1.25-2.4zM390.76 176.00h2.5l-1.25-2.4zM390.79 175.47h2.5l-1.25-2.4zM390.83 176.09h2.5l-1.25-2.4zM390.87 176.50h2.5l-1.25-2.4zM390.90 176.22h2.5l-1.25-2.4zM390.94 176.31h2.5l-1.25-2.4zM390.98 176.29h2.5l-1.25-2.4zM391.02 176.05h2.5l-1.25-2.4zM391.05 175.82h2.5l-1.25-2.4zM391.09 176.43h2.5l-1.25-2.4zM391.13 176.51h2.5l-1.25-2.4zM391.16 176.39h2.5l-1.25-2.4zM391.20 176.37h2.5l-1.25-2.4zM391.24 176.38h2.5l-1.25-2.4zM391.27 176.27h2.5l-1.25-2.4zM391.31 176.37h2.5l-1.25-2.4zM391.35 176.31h2.5l-1.25-2.4zM391.38 176.42h2.5l-1.25-2.4zM391.42 176.07h2.5l-1.25-2.4zM391.45 176.18h2.5l-1.25-2.4zM391.49 176.53h2.5l-1.25-2.4zM391.53 176.29h2.5l-1.25-2.4zM391.56 175.72h2.5l-1.25-2.4zM391.60 176.45h2.5l-1.25-2.4zM391.64 175.78h2.5l-1.25-2.4zM391.67 176.98h2.5l-1.25-2.4zM391.71 176.66h2.5l-1.25-2.4zM391.75 176.66h2.5l-1.25-2.4zM391.78 176.30h2.5l-1.25-2.4zM391.82 176.18h2.5l-1.25-2.4zM391.85 176.45h2.5l-1.25-2.4zM391.89 176.53h2.5l-1.25-2.4zM391.93 176.32h2.5l-1.25-2.4zM391.96 176.60h2.5l-1.25-2.4zM392.00 176.77h2.5l-1.25-2.4zM392.03 176.76h2.5l-1.25-2.4zM392.07 176.30h2.5l-1.25-2.4zM392.11 176.00h2.5l-1.25-2.4zM392.14 176.63h2.5l-1.25-2.4zM392.18 176.45h2.5l-1.25-2.4zM392.21 176.79h2.5l-1.25-2.4zM392.25 177.14h2.5l-1.25-2.4zM392.29 177.16h2.5l-1.25-2.4zM392.32 176.78h2.5l-1.25-2.4zM392.36 177.04h2.5l-1.25-2.4zM392.39 177.20h2.5l-1.25-2.4zM392.43 176.76h2.5l-1.25-2.4zM392.46 176.84h2.5l-1.25-2.4zM392.50 177.02h2.5l-1.25-2.4zM392.54 176.78h2.5l-1.25-2.4zM392.57 176.66h2.5l-1.25-2.4zM392.61 176.60h2.5l-1.25-2.4zM392.64 176.83h2.5l-1.25-2.4zM392.68 176.66h2.5l-1.25-2.4zM392.71 177.09h2.5l-1.25-2.4zM392.75 176.78h2.5l-1.25-2.4zM392.78 177.32h2.5l-1.25-2.4zM392.82 177.26h2.5l-1.25-2.4zM392.85 176.55h2.5l-1.25-2.4zM392.89 177.25h2.5l-1.25-2.4zM392.93 176.83h2.5l-1.25-2.4zM392.96 177.36h2.5l-1.25-2.4zM393.00 177.12h2.5l-1.25-2.4zM393.03 176.97h2.5l-1.25-2.4zM393.07 177.20h2.5l-1.25-2.4zM393.10 176.85h2.5l-1.25-2.4zM393.14 177.13h2.5l-1.25-2.4zM393.17 177.16h2.5l-1.25-2.4zM393.21 177.01h2.5l-1.25-2.4zM393.24 177.19h2.5l-1.25-2.4zM393.28 176.79h2.5l-1.25-2.4zM393.31 177.27h2.5l-1.25-2.4zM393.35 176.75h2.5l-1.25-2.4zM393.38 177.32h2.5l-1.25-2.4zM393.42 177.28h2.5l-1.25-2.4zM393.45 177.37h2.5l-1.25-2.4zM393.49 177.00h2.5l-1.25-2.4zM393.52 178.10h2.5l-1.25-2.4zM393.56 177.13h2.5l-1.25-2.4zM393.59 177.26h2.5l-1.25-2.4zM393.62 177.00h2.5l-1.25-2.4zM393.66 177.67h2.5l-1.25-2.4zM393.69 177.11h2.5l-1.25-2.4zM393.73 177.57h2.5l-1.25-2.4zM393.76 177.00h2.5l-1.25-2.4zM393.80 177.39h2.5l-1.25-2.4zM393.83 177.20h2.5l-1.25-2.4zM393.87 177.61h2.5l-1.25-2.4zM393.90 177.25h2.5l-1.25-2.4zM393.94 177.09h2.5l-1.25-2.4zM393.97 177.51h2.5l-1.25-2.4zM394.01 177.02h2.5l-1.25-2.4zM394.04 177.10h2.5l-1.25-2.4zM394.07 177.65h2.5l-1.25-2.4zM394.11 176.85h2.5l-1.25-2.4zM394.14 177.67h2.5l-1.25-2.4zM394.18 177.33h2.5l-1.25-2.4zM394.21 177.19h2.5l-1.25-2.4zM394.25 177.56h2.5l-1.25-2.4zM394.28 177.69h2.5l-1.25-2.4zM394.31 177.33h2.5l-1.25-2.4zM394.35 177.47h2.5l-1.25-2.4zM394.38 177.78h2.5l-1.25-2.4zM394.42 177.78h2.5l-1.25-2.4zM394.45 177.55h2.5l-1.25-2.4zM394.48 177.34h2.5l-1.25-2.4zM394.52 177.30h2.5l-1.25-2.4zM394.55 177.42h2.5l-1.25-2.4zM394.59 177.83h2.5l-1.25-2.4zM394.62 177.81h2.5l-1.25-2.4zM394.65 177.74h2.5l-1.25-2.4zM394.69 178.10h2.5l-1.25-2.4zM394.72 177.58h2.5l-1.25-2.4zM394.76 177.57h2.5l-1.25-2.4zM394.79 177.58h2.5l-1.25-2.4zM394.82 178.32h2.5l-1.25-2.4zM394.86 177.08h2.5l-1.25-2.4zM394.89 177.84h2.5l-1.25-2.4zM394.92 177.90h2.5l-1.25-2.4zM394.96 177.79h2.5l-1.25-2.4zM394.99 178.52h2.5l-1.25-2.4zM395.03 178.17h2.5l-1.25-2.4zM395.06 178.06h2.5l-1.25-2.4zM395.09 177.54h2.5l-1.25-2.4zM395.13 178.00h2.5l-1.25-2.4zM395.16 177.74h2.5l-1.25-2.4zM395.19 177.88h2.5l-1.25-2.4zM395.23 177.95h2.5l-1.25-2.4zM395.26 177.74h2.5l-1.25-2.4zM395.29 178.11h2.5l-1.25-2.4zM395.33 178.44h2.5l-1.25-2.4zM395.36 178.27h2.5l-1.25-2.4zM395.39 178.02h2.5l-1.25-2.4zM395.43 177.34h2.5l-1.25-2.4zM395.46 178.33h2.5l-1.25-2.4zM395.49 178.34h2.5l-1.25-2.4zM395.53 177.94h2.5l-1.25-2.4zM395.56 177.86h2.5l-1.25-2.4zM395.59 178.24h2.5l-1.25-2.4zM395.63 177.78h2.5l-1.25-2.4zM395.66 178.32h2.5l-1.25-2.4zM395.69 177.72h2.5l-1.25-2.4zM395.73 177.79h2.5l-1.25-2.4zM395.76 178.10h2.5l-1.25-2.4zM395.79 177.64h2.5l-1.25-2.4zM395.83 178.13h2.5l-1.25-2.4zM395.86 178.31h2.5l-1.25-2.4zM395.89 177.72h2.5l-1.25-2.4zM395.93 178.47h2.5l-1.25-2.4zM395.96 177.99h2.5l-1.25-2.4zM395.99 178.37h2.5l-1.25-2.4zM396.02 178.28h2.5l-1.25-2.4zM396.06 178.07h2.5l-1.25-2.4zM396.09 178.06h2.5l-1.25-2.4zM396.12 177.68h2.5l-1.25-2.4zM396.16 178.03h2.5l-1.25-2.4zM396.19 178.02h2.5l-1.25-2.4zM396.22 178.83h2.5l-1.25-2.4zM396.25 178.64h2.5l-1.25-2.4zM396.29 177.86h2.5l-1.25-2.4zM396.32 178.59h2.5l-1.25-2.4zM396.35 178.41h2.5l-1.25-2.4zM396.38 178.22h2.5l-1.25-2.4zM396.42 178.52h2.5l-1.25-2.4zM396.45 178.64h2.5l-1.25-2.4zM396.48 178.20h2.5l-1.25-2.4zM396.51 178.31h2.5l-1.25-2.4zM396.55 178.47h2.5l-1.25-2.4zM396.58 178.10h2.5l-1.25-2.4zM396.61 178.50h2.5l-1.25-2.4zM396.64 178.43h2.5l-1.25-2.4zM396.68 178.24h2.5l-1.25-2.4zM396.71 178.20h2.5l-1.25-2.4zM396.74 178.60h2.5l-1.25-2.4zM396.77 178.80h2.5l-1.25-2.4zM396.81 178.63h2.5l-1.25-2.4zM396.84 178.24h2.5l-1.25-2.4zM396.87 178.80h2.5l-1.25-2.4zM396.90 178.62h2.5l-1.25-2.4zM396.94 178.77h2.5l-1.25-2.4zM396.97 178.98h2.5l-1.25-2.4zM397.00 178.29h2.5l-1.25-2.4zM397.03 178.56h2.5l-1.25-2.4zM397.06 178.42h2.5l-1.25-2.4zM397.10 178.34h2.5l-1.25-2.4zM397.13 179.34h2.5l-1.25-2.4zM397.16 178.98h2.5l-1.25-2.4zM397.19 178.07h2.5l-1.25-2.4zM397.22 178.84h2.5l-1.25-2.4zM397.26 178.51h2.5l-1.25-2.4zM397.29 179.11h2.5l-1.25-2.4zM397.32 178.76h2.5l-1.25-2.4zM397.35 178.68h2.5l-1.25-2.4zM397.38 178.80h2.5l-1.25-2.4zM397.42 178.90h2.5l-1.25-2.4zM397.45 178.79h2.5l-1.25-2.4zM397.48 178.72h2.5l-1.25-2.4zM397.51 178.76h2.5l-1.25-2.4zM397.54 178.99h2.5l-1.25-2.4zM397.58 178.44h2.5l-1.25-2.4zM397.61 178.84h2.5l-1.25-2.4zM397.64 178.81h2.5l-1.25-2.4zM397.67 178.70h2.5l-1.25-2.4zM397.70 179.14h2.5l-1.25-2.4zM397.73 178.44h2.5l-1.25-2.4zM397.77 178.78h2.5l-1.25-2.4zM397.80 178.62h2.5l-1.25-2.4zM397.83 179.12h2.5l-1.25-2.4zM397.86 178.78h2.5l-1.25-2.4zM397.89 178.97h2.5l-1.25-2.4zM397.92 179.10h2.5l-1.25-2.4zM397.95 178.42h2.5l-1.25-2.4zM397.99 179.15h2.5l-1.25-2.4zM398.02 178.74h2.5l-1.25-2.4zM398.05 178.93h2.5l-1.25-2.4zM398.08 178.99h2.5l-1.25-2.4zM398.11 179.33h2.5l-1.25-2.4zM398.14 179.32h2.5l-1.25-2.4zM398.17 179.70h2.5l-1.25-2.4zM398.21 179.15h2.5l-1.25-2.4zM398.24 178.92h2.5l-1.25-2.4zM398.27 178.93h2.5l-1.25-2.4zM398.30 179.35h2.5l-1.25-2.4zM398.33 179.71h2.5l-1.25-2.4zM398.36 179.27h2.5l-1.25-2.4zM398.39 178.95h2.5l-1.25-2.4zM398.42 179.27h2.5l-1.25-2.4zM398.46 179.27h2.5l-1.25-2.4zM398.49 179.21h2.5l-1.25-2.4zM398.52 178.94h2.5l-1.25-2.4zM398.55 178.30h2.5l-1.25-2.4zM398.58 179.04h2.5l-1.25-2.4zM398.61 179.63h2.5l-1.25-2.4zM398.64 179.33h2.5l-1.25-2.4zM398.67 178.47h2.5l-1.25-2.4zM398.70 179.28h2.5l-1.25-2.4zM398.73 178.62h2.5l-1.25-2.4zM398.77 180.03h2.5l-1.25-2.4zM398.80 179.39h2.5l-1.25-2.4zM398.83 178.89h2.5l-1.25-2.4zM398.86 179.63h2.5l-1.25-2.4zM398.89 179.07h2.5l-1.25-2.4zM398.92 179.57h2.5l-1.25-2.4zM398.95 179.39h2.5l-1.25-2.4zM398.98 178.95h2.5l-1.25-2.4zM399.01 179.65h2.5l-1.25-2.4zM399.04 178.92h2.5l-1.25-2.4zM399.07 179.92h2.5l-1.25-2.4zM399.10 179.46h2.5l-1.25-2.4zM399.14 179.07h2.5l-1.25-2.4zM399.17 178.79h2.5l-1.25-2.4zM399.20 180.07h2.5l-1.25-2.4zM399.23 180.02h2.5l-1.25-2.4zM399.26 179.03h2.5l-1.25-2.4zM399.29 180.12h2.5l-1.25-2.4zM399.32 179.58h2.5l-1.25-2.4zM399.35 179.45h2.5l-1.25-2.4zM399.38 179.51h2.5l-1.25-2.4zM399.41 179.45h2.5l-1.25-2.4zM399.44 180.10h2.5l-1.25-2.4zM399.47 179.63h2.5l-1.25-2.4zM399.50 178.90h2.5l-1.25-2.4zM399.53 180.39h2.5l-1.25-2.4zM399.56 179.94h2.5l-1.25-2.4zM399.59 179.21h2.5l-1.25-2.4zM399.62 179.50h2.5l-1.25-2.4zM399.65 179.30h2.5l-1.25-2.4zM399.68 179.68h2.5l-1.25-2.4zM399.71 179.82h2.5l-1.25-2.4zM399.74 179.77h2.5l-1.25-2.4zM399.77 179.47h2.5l-1.25-2.4zM399.80 179.40h2.5l-1.25-2.4zM399.84 180.04h2.5l-1.25-2.4zM399.87 179.69h2.5l-1.25-2.4zM399.90 180.60h2.5l-1.25-2.4zM399.93 179.44h2.5l-1.25-2.4zM399.96 180.06h2.5l-1.25-2.4zM399.99 179.79h2.5l-1.25-2.4zM400.02 179.49h2.5l-1.25-2.4zM400.05 180.32h2.5l-1.25-2.4zM400.08 179.86h2.5l-1.25-2.4zM400.11 179.48h2.5l-1.25-2.4zM400.14 179.71h2.5l-1.25-2.4zM400.17 180.24h2.5l-1.25-2.4zM400.20 179.38h2.5l-1.25-2.4zM400.23 180.40h2.5l-1.25-2.4zM400.26 180.14h2.5l-1.25-2.4zM400.29 179.78h2.5l-1.25-2.4zM400.32 180.43h2.5l-1.25-2.4zM400.35 180.59h2.5l-1.25-2.4zM400.38 180.16h2.5l-1.25-2.4zM400.40 180.00h2.5l-1.25-2.4zM400.43 180.67h2.5l-1.25-2.4zM400.46 180.54h2.5l-1.25-2.4zM400.49 179.61h2.5l-1.25-2.4zM400.52 179.90h2.5l-1.25-2.4zM400.55 179.91h2.5l-1.25-2.4zM400.58 179.84h2.5l-1.25-2.4zM400.61 179.42h2.5l-1.25-2.4zM400.64 180.38h2.5l-1.25-2.4zM400.67 180.07h2.5l-1.25-2.4zM400.70 180.09h2.5l-1.25-2.4zM400.73 180.62h2.5l-1.25-2.4zM400.76 179.85h2.5l-1.25-2.4zM400.79 180.06h2.5l-1.25-2.4zM400.82 180.20h2.5l-1.25-2.4zM400.85 179.93h2.5l-1.25-2.4zM400.88 180.07h2.5l-1.25-2.4zM400.91 180.43h2.5l-1.25-2.4zM400.94 180.14h2.5l-1.25-2.4zM400.97 180.68h2.5l-1.25-2.4zM401.00 179.86h2.5l-1.25-2.4zM401.03 180.25h2.5l-1.25-2.4zM401.06 179.61h2.5l-1.25-2.4zM401.08 180.15h2.5l-1.25-2.4zM401.11 179.92h2.5l-1.25-2.4zM401.14 180.77h2.5l-1.25-2.4zM401.17 180.53h2.5l-1.25-2.4zM401.20 180.45h2.5l-1.25-2.4zM401.23 181.00h2.5l-1.25-2.4zM401.26 180.85h2.5l-1.25-2.4zM401.29 180.57h2.5l-1.25-2.4zM401.32 180.00h2.5l-1.25-2.4zM401.35 179.71h2.5l-1.25-2.4zM401.38 180.30h2.5l-1.25-2.4zM401.41 180.17h2.5l-1.25-2.4zM401.44 180.06h2.5l-1.25-2.4zM401.46 180.22h2.5l-1.25-2.4zM401.49 179.67h2.5l-1.25-2.4zM401.52 180.98h2.5l-1.25-2.4zM401.55 179.90h2.5l-1.25-2.4zM401.58 180.11h2.5l-1.25-2.4zM401.61 180.63h2.5l-1.25-2.4zM401.64 179.73h2.5l-1.25-2.4zM401.67 180.80h2.5l-1.25-2.4zM401.70 180.82h2.5l-1.25-2.4zM401.73 180.31h2.5l-1.25-2.4zM401.75 180.00h2.5l-1.25-2.4zM401.78 180.27h2.5l-1.25-2.4zM401.81 179.70h2.5l-1.25-2.4zM401.84 181.06h2.5l-1.25-2.4zM401.87 180.52h2.5l-1.25-2.4zM401.90 180.20h2.5l-1.25-2.4zM401.93 180.14h2.5l-1.25-2.4zM401.96 180.77h2.5l-1.25-2.4zM401.99 181.17h2.5l-1.25-2.4zM402.01 180.02h2.5l-1.25-2.4zM402.04 180.32h2.5l-1.25-2.4zM402.07 179.83h2.5l-1.25-2.4zM402.10 180.87h2.5l-1.25-2.4zM402.13 180.66h2.5l-1.25-2.4zM402.16 181.56h2.5l-1.25-2.4zM402.19 180.57h2.5l-1.25-2.4zM402.21 180.44h2.5l-1.25-2.4zM402.24 180.34h2.5l-1.25-2.4zM402.27 181.01h2.5l-1.25-2.4zM402.30 179.97h2.5l-1.25-2.4zM402.33 180.99h2.5l-1.25-2.4zM402.36 180.79h2.5l-1.25-2.4zM402.39 180.48h2.5l-1.25-2.4zM402.41 180.32h2.5l-1.25-2.4zM402.44 181.17h2.5l-1.25-2.4zM402.47 181.53h2.5l-1.25-2.4zM402.50 180.55h2.5l-1.25-2.4zM402.53 180.98h2.5l-1.25-2.4zM402.56 181.51h2.5l-1.25-2.4zM402.59 180.50h2.5l-1.25-2.4zM402.61 180.67h2.5l-1.25-2.4zM402.64 180.26h2.5l-1.25-2.4zM402.67 180.74h2.5l-1.25-2.4zM402.70 180.78h2.5l-1.25-2.4zM402.73 180.64h2.5l-1.25-2.4zM402.76 180.51h2.5l-1.25-2.4zM402.78 180.16h2.5l-1.25-2.4zM402.81 180.27h2.5l-1.25-2.4zM402.84 180.44h2.5l-1.25-2.4zM402.87 181.16h2.5l-1.25-2.4zM402.90 180.67h2.5l-1.25-2.4zM402.92 180.53h2.5l-1.25-2.4zM402.95 181.20h2.5l-1.25-2.4zM402.98 181.17h2.5l-1.25-2.4zM403.01 180.60h2.5l-1.25-2.4zM403.04 180.67h2.5l-1.25-2.4zM403.06 181.25h2.5l-1.25-2.4zM403.09 181.13h2.5l-1.25-2.4zM403.12 180.61h2.5l-1.25-2.4zM403.15 181.09h2.5l-1.25-2.4zM403.18 180.98h2.5l-1.25-2.4zM403.21 181.50h2.5l-1.25-2.4zM403.23 180.63h2.5l-1.25-2.4zM403.26 181.42h2.5l-1.25-2.4zM403.29 181.23h2.5l-1.25-2.4zM403.32 180.60h2.5l-1.25-2.4zM403.34 181.53h2.5l-1.25-2.4zM403.37 181.48h2.5l-1.25-2.4zM403.40 180.49h2.5l-1.25-2.4zM403.43 181.98h2.5l-1.25-2.4zM403.46 180.59h2.5l-1.25-2.4zM403.48 180.70h2.5l-1.25-2.4zM403.51 180.98h2.5l-1.25-2.4zM403.54 181.48h2.5l-1.25-2.4zM403.57 181.41h2.5l-1.25-2.4zM403.59 181.11h2.5l-1.25-2.4zM403.62 181.79h2.5l-1.25-2.4zM403.65 181.36h2.5l-1.25-2.4zM403.68 181.82h2.5l-1.25-2.4zM403.71 182.48h2.5l-1.25-2.4zM403.73 181.30h2.5l-1.25-2.4zM403.76 180.04h2.5l-1.25-2.4zM403.79 181.02h2.5l-1.25-2.4zM403.82 180.75h2.5l-1.25-2.4zM403.84 181.29h2.5l-1.25-2.4zM403.87 181.31h2.5l-1.25-2.4zM403.90 180.71h2.5l-1.25-2.4zM403.93 180.75h2.5l-1.25-2.4zM403.95 181.17h2.5l-1.25-2.4zM403.98 181.21h2.5l-1.25-2.4zM404.01 180.11h2.5l-1.25-2.4zM404.04 181.78h2.5l-1.25-2.4zM404.06 181.35h2.5l-1.25-2.4zM404.09 181.34h2.5l-1.25-2.4zM404.12 181.50h2.5l-1.25-2.4zM404.15 180.89h2.5l-1.25-2.4zM404.17 181.36h2.5l-1.25-2.4zM404.20 181.88h2.5l-1.25-2.4zM404.23 181.91h2.5l-1.25-2.4zM404.26 181.63h2.5l-1.25-2.4zM404.28 181.29h2.5l-1.25-2.4zM404.31 181.04h2.5l-1.25-2.4zM404.34 182.07h2.5l-1.25-2.4zM404.36 181.70h2.5l-1.25-2.4zM404.39 181.26h2.5l-1.25-2.4zM404.42 180.44h2.5l-1.25-2.4zM404.45 181.07h2.5l-1.25-2.4zM404.47 180.57h2.5l-1.25-2.4zM404.50 182.10h2.5l-1.25-2.4zM404.53 181.60h2.5l-1.25-2.4zM404.56 181.17h2.5l-1.25-2.4zM404.58 181.40h2.5l-1.25-2.4zM404.61 182.80h2.5l-1.25-2.4zM404.64 182.14h2.5l-1.25-2.4zM404.66 180.92h2.5l-1.25-2.4zM404.69 181.51h2.5l-1.25-2.4zM404.72 180.99h2.5l-1.25-2.4zM404.74 180.76h2.5l-1.25-2.4zM404.77 181.69h2.5l-1.25-2.4zM404.80 182.79h2.5l-1.25-2.4zM404.83 182.39h2.5l-1.25-2.4zM404.85 181.66h2.5l-1.25-2.4zM404.88 181.47h2.5l-1.25-2.4zM404.91 181.76h2.5l-1.25-2.4zM404.93 182.18h2.5l-1.25-2.4zM404.96 180.96h2.5l-1.25-2.4zM404.99 180.77h2.5l-1.25-2.4zM405.01 182.63h2.5l-1.25-2.4zM405.04 181.85h2.5l-1.25-2.4zM405.07 182.52h2.5l-1.25-2.4zM405.09 181.85h2.5l-1.25-2.4zM405.12 182.47h2.5l-1.25-2.4zM405.15 181.45h2.5l-1.25-2.4zM405.17 182.01h2.5l-1.25-2.4zM405.20 182.55h2.5l-1.25-2.4zM405.23 182.29h2.5l-1.25-2.4zM405.26 181.56h2.5l-1.25-2.4zM405.28 182.25h2.5l-1.25-2.4zM405.31 181.48h2.5l-1.25-2.4zM405.34 181.11h2.5l-1.25-2.4zM405.36 182.10h2.5l-1.25-2.4zM405.39 182.55h2.5l-1.25-2.4zM405.42 182.28h2.5l-1.25-2.4zM405.44 181.23h2.5l-1.25-2.4zM405.47 182.31h2.5l-1.25-2.4zM405.49 182.23h2.5l-1.25-2.4zM405.52 181.66h2.5l-1.25-2.4zM405.55 180.64h2.5l-1.25-2.4zM405.57 182.43h2.5l-1.25-2.4zM405.60 182.38h2.5l-1.25-2.4zM405.63 182.19h2.5l-1.25-2.4zM405.65 181.06h2.5l-1.25-2.4zM405.68 181.19h2.5l-1.25-2.4zM405.71 182.49h2.5l-1.25-2.4zM405.73 182.39h2.5l-1.25-2.4zM405.76 182.24h2.5l-1.25-2.4zM405.79 181.87h2.5l-1.25-2.4zM405.81 182.21h2.5l-1.25-2.4zM405.84 181.74h2.5l-1.25-2.4zM405.87 181.87h2.5l-1.25-2.4zM405.89 181.59h2.5l-1.25-2.4zM405.92 182.18h2.5l-1.25-2.4zM405.94 181.84h2.5l-1.25-2.4zM405.97 182.56h2.5l-1.25-2.4zM406.00 182.45h2.5l-1.25-2.4zM406.02 181.67h2.5l-1.25-2.4zM406.05 183.05h2.5l-1.25-2.4zM406.08 181.52h2.5l-1.25-2.4zM406.10 182.35h2.5l-1.25-2.4zM406.13 182.69h2.5l-1.25-2.4zM406.15 182.81h2.5l-1.25-2.4zM406.18 180.99h2.5l-1.25-2.4zM406.21 182.68h2.5l-1.25-2.4zM406.23 182.81h2.5l-1.25-2.4zM406.26 182.94h2.5l-1.25-2.4zM406.28 181.02h2.5l-1.25-2.4zM406.31 181.84h2.5l-1.25-2.4zM406.34 182.16h2.5l-1.25-2.4zM406.36 181.98h2.5l-1.25-2.4zM406.39 182.94h2.5l-1.25-2.4zM406.42 181.88h2.5l-1.25-2.4zM406.44 182.90h2.5l-1.25-2.4zM406.47 182.56h2.5l-1.25-2.4zM406.49 181.49h2.5l-1.25-2.4zM406.52 181.75h2.5l-1.25-2.4zM406.55 182.04h2.5l-1.25-2.4zM406.57 182.35h2.5l-1.25-2.4zM406.60 182.84h2.5l-1.25-2.4zM406.62 182.22h2.5l-1.25-2.4zM406.65 182.82h2.5l-1.25-2.4zM406.67 181.49h2.5l-1.25-2.4zM406.70 180.71h2.5l-1.25-2.4zM406.73 182.18h2.5l-1.25-2.4zM406.75 182.61h2.5l-1.25-2.4zM406.78 182.18h2.5l-1.25-2.4zM406.80 181.84h2.5l-1.25-2.4zM406.83 182.63h2.5l-1.25-2.4zM406.86 183.45h2.5l-1.25-2.4zM406.88 182.36h2.5l-1.25-2.4zM406.91 182.03h2.5l-1.25-2.4zM406.93 181.98h2.5l-1.25-2.4zM406.96 183.51h2.5l-1.25-2.4zM406.98 182.43h2.5l-1.25-2.4zM407.01 182.80h2.5l-1.25-2.4zM407.04 183.14h2.5l-1.25-2.4zM407.06 183.07h2.5l-1.25-2.4zM407.09 181.99h2.5l-1.25-2.4zM407.11 183.03h2.5l-1.25-2.4zM407.14 182.98h2.5l-1.25-2.4zM407.16 182.79h2.5l-1.25-2.4zM407.19 183.09h2.5l-1.25-2.4zM407.21 182.24h2.5l-1.25-2.4zM407.24 182.51h2.5l-1.25-2.4zM407.27 182.28h2.5l-1.25-2.4zM407.29 182.99h2.5l-1.25-2.4zM407.32 182.22h2.5l-1.25-2.4zM407.34 182.81h2.5l-1.25-2.4zM407.37 182.00h2.5l-1.25-2.4zM407.39 182.55h2.5l-1.25-2.4zM407.42 182.42h2.5l-1.25-2.4zM407.44 182.57h2.5l-1.25-2.4zM407.47 182.72h2.5l-1.25-2.4zM407.49 182.55h2.5l-1.25-2.4zM407.52 182.54h2.5l-1.25-2.4zM407.55 181.52h2.5l-1.25-2.4zM407.57 183.30h2.5l-1.25-2.4zM407.60 182.34h2.5l-1.25-2.4zM407.62 182.56h2.5l-1.25-2.4zM407.65 182.25h2.5l-1.25-2.4zM407.67 183.28h2.5l-1.25-2.4zM407.70 182.22h2.5l-1.25-2.4zM407.72 183.02h2.5l-1.25-2.4zM407.75 183.41h2.5l-1.25-2.4zM407.77 183.68h2.5l-1.25-2.4zM407.80 183.44h2.5l-1.25-2.4zM407.82 183.13h2.5l-1.25-2.4zM407.85 182.11h2.5l-1.25-2.4zM407.87 183.52h2.5l-1.25-2.4zM407.90 183.48h2.5l-1.25-2.4zM407.92 183.29h2.5l-1.25-2.4zM407.95 183.28h2.5l-1.25-2.4zM407.97 182.88h2.5l-1.25-2.4zM408.00 182.56h2.5l-1.25-2.4zM408.03 183.47h2.5l-1.25-2.4zM408.05 183.59h2.5l-1.25-2.4zM408.08 182.29h2.5l-1.25-2.4zM408.10 183.41h2.5l-1.25-2.4zM408.13 183.04h2.5l-1.25-2.4zM408.15 183.41h2.5l-1.25-2.4zM408.18 183.07h2.5l-1.25-2.4zM408.20 183.56h2.5l-1.25-2.4zM408.23 183.52h2.5l-1.25-2.4zM408.25 183.45h2.5l-1.25-2.4zM408.28 182.17h2.5l-1.25-2.4zM408.30 183.44h2.5l-1.25-2.4zM408.33 183.01h2.5l-1.25-2.4zM408.35 182.34h2.5l-1.25-2.4zM408.37 183.40h2.5l-1.25-2.4zM408.40 182.22h2.5l-1.25-2.4zM408.42 183.53h2.5l-1.25-2.4zM408.45 184.00h2.5l-1.25-2.4zM408.47 182.75h2.5l-1.25-2.4zM408.50 183.57h2.5l-1.25-2.4zM408.52 183.32h2.5l-1.25-2.4zM408.55 183.44h2.5l-1.25-2.4zM408.57 182.30h2.5l-1.25-2.4zM408.60 183.44h2.5l-1.25-2.4zM408.62 183.17h2.5l-1.25-2.4zM408.65 183.53h2.5l-1.25-2.4zM408.67 183.12h2.5l-1.25-2.4zM408.70 183.76h2.5l-1.25-2.4zM408.72 183.29h2.5l-1.25-2.4zM408.75 183.54h2.5l-1.25-2.4zM408.77 183.95h2.5l-1.25-2.4zM408.80 183.27h2.5l-1.25-2.4zM408.82 183.75h2.5l-1.25-2.4zM408.85 183.32h2.5l-1.25-2.4zM408.87 183.50h2.5l-1.25-2.4zM408.89 182.90h2.5l-1.25-2.4zM408.92 183.66h2.5l-1.25-2.4zM408.94 183.94h2.5l-1.25-2.4zM408.97 183.19h2.5l-1.25-2.4zM408.99 183.71h2.5l-1.25-2.4zM409.02 183.50h2.5l-1.25-2.4zM409.04 182.62h2.5l-1.25-2.4zM409.07 183.48h2.5l-1.25-2.4zM409.09 184.05h2.5l-1.25-2.4zM409.12 183.01h2.5l-1.25-2.4zM409.14 182.26h2.5l-1.25-2.4zM409.16 183.43h2.5l-1.25-2.4zM409.19 182.94h2.5l-1.25-2.4zM409.21 184.44h2.5l-1.25-2.4zM409.24 183.32h2.5l-1.25-2.4zM409.26 183.35h2.5l-1.25-2.4zM409.29 182.99h2.5l-1.25-2.4zM409.31 183.51h2.5l-1.25-2.4zM409.34 183.05h2.5l-1.25-2.4zM409.36 182.86h2.5l-1.25-2.4zM409.38 183.36h2.5l-1.25-2.4zM409.41 182.93h2.5l-1.25-2.4zM409.43 184.19h2.5l-1.25-2.4zM409.46 182.74h2.5l-1.25-2.4zM409.48 183.39h2.5l-1.25-2.4zM409.51 183.04h2.5l-1.25-2.4zM409.53 182.64h2.5l-1.25-2.4zM409.55 184.45h2.5l-1.25-2.4zM409.58 182.23h2.5l-1.25-2.4zM409.60 184.34h2.5l-1.25-2.4zM409.63 182.65h2.5l-1.25-2.4zM409.65 183.55h2.5l-1.25-2.4zM409.68 184.85h2.5l-1.25-2.4zM409.70 182.26h2.5l-1.25-2.4zM409.72 182.71h2.5l-1.25-2.4zM409.75 184.32h2.5l-1.25-2.4zM409.77 183.65h2.5l-1.25-2.4zM409.80 183.23h2.5l-1.25-2.4zM409.82 183.55h2.5l-1.25-2.4zM409.84 183.00h2.5l-1.25-2.4zM409.87 183.66h2.5l-1.25-2.4zM409.89 184.49h2.5l-1.25-2.4zM409.92 183.37h2.5l-1.25-2.4zM409.94 183.69h2.5l-1.25-2.4zM409.96 184.34h2.5l-1.25-2.4zM409.99 184.82h2.5l-1.25-2.4zM410.01 183.29h2.5l-1.25-2.4zM410.04 183.83h2.5l-1.25-2.4zM410.06 183.32h2.5l-1.25-2.4zM410.08 183.28h2.5l-1.25-2.4zM410.11 183.43h2.5l-1.25-2.4zM410.13 183.30h2.5l-1.25-2.4zM410.16 182.65h2.5l-1.25-2.4zM410.18 182.50h2.5l-1.25-2.4zM410.20 183.27h2.5l-1.25-2.4zM410.23 183.80h2.5l-1.25-2.4zM410.25 184.47h2.5l-1.25-2.4zM410.28 183.42h2.5l-1.25-2.4zM410.30 183.65h2.5l-1.25-2.4zM410.32 184.16h2.5l-1.25-2.4zM410.35 184.22h2.5l-1.25-2.4zM410.37 183.71h2.5l-1.25-2.4zM410.39 183.75h2.5l-1.25-2.4zM410.42 184.94h2.5l-1.25-2.4zM410.44 183.60h2.5l-1.25-2.4zM410.47 183.51h2.5l-1.25-2.4zM410.49 182.83h2.5l-1.25-2.4zM410.51 184.10h2.5l-1.25-2.4zM410.54 183.68h2.5l-1.25-2.4zM410.56 185.02h2.5l-1.25-2.4zM410.58 183.65h2.5l-1.25-2.4zM410.61 184.37h2.5l-1.25-2.4zM410.63 184.45h2.5l-1.25-2.4zM410.66 184.90h2.5l-1.25-2.4zM410.68 183.09h2.5l-1.25-2.4zM410.70 184.87h2.5l-1.25-2.4zM410.73 183.92h2.5l-1.25-2.4zM410.75 183.86h2.5l-1.25-2.4zM410.77 183.74h2.5l-1.25-2.4zM410.80 183.70h2.5l-1.25-2.4zM410.82 183.74h2.5l-1.25-2.4zM410.84 182.51h2.5l-1.25-2.4zM410.87 184.28h2.5l-1.25-2.4zM410.89 184.02h2.5l-1.25-2.4zM410.92 183.40h2.5l-1.25-2.4zM410.94 183.96h2.5l-1.25-2.4zM410.96 185.43h2.5l-1.25-2.4zM410.99 184.25h2.5l-1.25-2.4zM411.01 183.78h2.5l-1.25-2.4zM411.03 185.10h2.5l-1.25-2.4zM411.06 183.86h2.5l-1.25-2.4zM411.08 183.83h2.5l-1.25-2.4zM411.10 184.14h2.5l-1.25-2.4zM411.13 183.90h2.5l-1.25-2.4zM411.15 183.81h2.5l-1.25-2.4zM411.17 183.67h2.5l-1.25-2.4zM411.20 183.95h2.5l-1.25-2.4zM411.22 184.12h2.5l-1.25-2.4zM411.24 183.63h2.5l-1.25-2.4zM411.27 183.76h2.5l-1.25-2.4zM411.29 183.99h2.5l-1.25-2.4zM411.31 183.63h2.5l-1.25-2.4zM411.34 184.27h2.5l-1.25-2.4zM411.36 184.30h2.5l-1.25-2.4zM411.38 183.91h2.5l-1.25-2.4zM411.41 184.87h2.5l-1.25-2.4zM411.43 184.29h2.5l-1.25-2.4zM411.45 184.16h2.5l-1.25-2.4zM411.48 184.13h2.5l-1.25-2.4zM411.50 184.37h2.5l-1.25-2.4zM411.52 184.51h2.5l-1.25-2.4zM411.55 184.15h2.5l-1.25-2.4zM411.57 184.89h2.5l-1.25-2.4zM411.59 184.01h2.5l-1.25-2.4zM411.62 183.82h2.5l-1.25-2.4zM411.64 183.77h2.5l-1.25-2.4zM411.66 183.87h2.5l-1.25-2.4zM411.68 183.97h2.5l-1.25-2.4zM411.71 183.96h2.5l-1.25-2.4zM411.73 183.79h2.5l-1.25-2.4zM411.75 184.29h2.5l-1.25-2.4zM411.78 183.61h2.5l-1.25-2.4zM411.80 183.62h2.5l-1.25-2.4zM411.82 184.01h2.5l-1.25-2.4zM411.85 183.92h2.5l-1.25-2.4zM411.87 183.76h2.5l-1.25-2.4zM411.89 184.79h2.5l-1.25-2.4zM411.91 183.97h2.5l-1.25-2.4zM411.94 184.20h2.5l-1.25-2.4zM411.96 183.68h2.5l-1.25-2.4zM411.98 185.16h2.5l-1.25-2.4zM412.01 183.95h2.5l-1.25-2.4zM412.03 184.34h2.5l-1.25-2.4zM412.05 184.20h2.5l-1.25-2.4zM412.08 184.28h2.5l-1.25-2.4zM412.10 183.91h2.5l-1.25-2.4zM412.12 183.33h2.5l-1.25-2.4zM412.14 183.55h2.5l-1.25-2.4zM412.17 184.73h2.5l-1.25-2.4zM412.19 184.34h2.5l-1.25-2.4zM412.21 184.37h2.5l-1.25-2.4zM412.24 183.87h2.5l-1.25-2.4zM412.26 184.01h2.5l-1.25-2.4zM412.28 183.96h2.5l-1.25-2.4zM412.30 183.71h2.5l-1.25-2.4zM412.33 184.39h2.5l-1.25-2.4zM412.35 183.93h2.5l-1.25-2.4zM412.37 183.63h2.5l-1.25-2.4zM412.40 184.23h2.5l-1.25-2.4zM412.42 184.09h2.5l-1.25-2.4zM412.44 183.94h2.5l-1.25-2.4zM412.46 184.31h2.5l-1.25-2.4zM412.49 184.34h2.5l-1.25-2.4zM412.51 184.52h2.5l-1.25-2.4zM412.53 184.00h2.5l-1.25-2.4zM412.55 184.03h2.5l-1.25-2.4zM412.58 184.54h2.5l-1.25-2.4zM412.60 184.32h2.5l-1.25-2.4zM412.62 184.03h2.5l-1.25-2.4zM412.64 184.51h2.5l-1.25-2.4zM412.67 184.69h2.5l-1.25-2.4zM412.69 184.54h2.5l-1.25-2.4zM412.71 184.01h2.5l-1.25-2.4zM412.73 183.43h2.5l-1.25-2.4zM412.76 184.50h2.5l-1.25-2.4zM412.78 184.26h2.5l-1.25-2.4zM412.80 184.19h2.5l-1.25-2.4zM412.83 184.96h2.5l-1.25-2.4zM412.85 184.57h2.5l-1.25-2.4zM412.87 184.46h2.5l-1.25-2.4zM412.89 184.40h2.5l-1.25-2.4zM412.92 183.71h2.5l-1.25-2.4zM412.94 184.44h2.5l-1.25-2.4zM412.96 184.23h2.5l-1.25-2.4zM412.98 184.43h2.5l-1.25-2.4zM413.00 184.81h2.5l-1.25-2.4zM413.03 184.04h2.5l-1.25-2.4zM413.05 184.47h2.5l-1.25-2.4zM413.07 183.71h2.5l-1.25-2.4zM413.09 183.66h2.5l-1.25-2.4zM413.12 184.57h2.5l-1.25-2.4zM413.14 184.61h2.5l-1.25-2.4zM413.16 184.11h2.5l-1.25-2.4zM413.18 184.81h2.5l-1.25-2.4zM413.21 184.42h2.5l-1.25-2.4zM413.23 184.82h2.5l-1.25-2.4zM413.25 184.08h2.5l-1.25-2.4zM413.27 184.23h2.5l-1.25-2.4zM413.30 184.90h2.5l-1.25-2.4zM413.32 184.86h2.5l-1.25-2.4zM413.34 184.21h2.5l-1.25-2.4zM413.36 185.01h2.5l-1.25-2.4zM413.38 183.96h2.5l-1.25-2.4zM413.41 184.75h2.5l-1.25-2.4zM413.43 184.10h2.5l-1.25-2.4zM413.45 184.13h2.5l-1.25-2.4zM413.47 184.58h2.5l-1.25-2.4zM413.50 184.48h2.5l-1.25-2.4zM413.52 184.82h2.5l-1.25-2.4zM413.54 184.42h2.5l-1.25-2.4zM413.56 183.97h2.5l-1.25-2.4zM413.58 184.94h2.5l-1.25-2.4zM413.61 185.34h2.5l-1.25-2.4zM413.63 183.88h2.5l-1.25-2.4zM413.65 185.01h2.5l-1.25-2.4zM413.67 184.12h2.5l-1.25-2.4zM413.69 184.77h2.5l-1.25-2.4zM413.72 184.39h2.5l-1.25-2.4zM413.74 184.26h2.5l-1.25-2.4zM413.76 184.77h2.5l-1.25-2.4zM413.78 184.47h2.5l-1.25-2.4zM413.81 185.34h2.5l-1.25-2.4zM413.83 184.70h2.5l-1.25-2.4zM413.85 184.72h2.5l-1.25-2.4zM413.87 184.62h2.5l-1.25-2.4zM413.89 185.08h2.5l-1.25-2.4zM413.92 184.35h2.5l-1.25-2.4zM413.94 185.27h2.5l-1.25-2.4zM413.96 184.82h2.5l-1.25-2.4zM413.98 184.91h2.5l-1.25-2.4zM414.00 184.67h2.5l-1.25-2.4zM414.02 184.89h2.5l-1.25-2.4zM414.05 184.68h2.5l-1.25-2.4zM414.07 184.64h2.5l-1.25-2.4zM414.09 184.68h2.5l-1.25-2.4zM414.11 184.85h2.5l-1.25-2.4zM414.13 185.12h2.5l-1.25-2.4zM414.16 184.85h2.5l-1.25-2.4zM414.18 184.82h2.5l-1.25-2.4zM414.20 185.07h2.5l-1.25-2.4zM414.22 185.04h2.5l-1.25-2.4zM414.24 184.93h2.5l-1.25-2.4zM414.27 185.40h2.5l-1.25-2.4zM414.29 184.97h2.5l-1.25-2.4zM414.31 184.97h2.5l-1.25-2.4zM414.33 184.80h2.5l-1.25-2.4zM414.35 184.54h2.5l-1.25-2.4zM414.37 184.90h2.5l-1.25-2.4zM414.40 184.88h2.5l-1.25-2.4zM414.42 185.29h2.5l-1.25-2.4zM414.44 184.72h2.5l-1.25-2.4zM414.46 185.10h2.5l-1.25-2.4zM414.48 185.60h2.5l-1.25-2.4zM414.50 185.27h2.5l-1.25-2.4zM414.53 185.38h2.5l-1.25-2.4zM414.55 184.63h2.5l-1.25-2.4zM414.57 184.55h2.5l-1.25-2.4zM414.59 184.78h2.5l-1.25-2.4zM414.61 185.37h2.5l-1.25-2.4zM414.63 184.64h2.5l-1.25-2.4zM414.66 184.98h2.5l-1.25-2.4zM414.68 185.55h2.5l-1.25-2.4zM414.70 184.81h2.5l-1.25-2.4zM414.72 184.99h2.5l-1.25-2.4zM414.74 185.40h2.5l-1.25-2.4zM414.76 184.42h2.5l-1.25-2.4zM414.79 185.53h2.5l-1.25-2.4zM414.81 184.98h2.5l-1.25-2.4zM414.83 185.07h2.5l-1.25-2.4zM414.85 184.65h2.5l-1.25-2.4zM414.87 184.81h2.5l-1.25-2.4zM414.89 184.20h2.5l-1.25-2.4zM414.91 185.58h2.5l-1.25-2.4zM414.94 185.79h2.5l-1.25-2.4zM414.96 185.04h2.5l-1.25-2.4zM414.98 185.54h2.5l-1.25-2.4zM415.00 185.45h2.5l-1.25-2.4zM415.02 184.93h2.5l-1.25-2.4zM415.04 184.93h2.5l-1.25-2.4zM415.06 184.51h2.5l-1.25-2.4zM415.09 184.86h2.5l-1.25-2.4zM415.11 184.74h2.5l-1.25-2.4zM415.13 185.60h2.5l-1.25-2.4zM415.15 185.87h2.5l-1.25-2.4zM415.17 185.42h2.5l-1.25-2.4zM415.19 184.76h2.5l-1.25-2.4zM415.21 185.08h2.5l-1.25-2.4zM415.24 185.39h2.5l-1.25-2.4zM415.26 184.84h2.5l-1.25-2.4zM415.28 185.02h2.5l-1.25-2.4zM415.30 185.57h2.5l-1.25-2.4zM415.32 185.10h2.5l-1.25-2.4zM415.34 185.01h2.5l-1.25-2.4zM415.36 184.84h2.5l-1.25-2.4zM415.38 185.82h2.5l-1.25-2.4zM415.41 185.44h2.5l-1.25-2.4zM415.43 186.20h2.5l-1.25-2.4zM415.45 185.08h2.5l-1.25-2.4zM415.47 185.78h2.5l-1.25-2.4zM415.49 185.79h2.5l-1.25-2.4zM415.51 185.56h2.5l-1.25-2.4zM415.53 185.36h2.5l-1.25-2.4zM415.55 185.23h2.5l-1.25-2.4zM415.58 185.37h2.5l-1.25-2.4zM415.60 184.67h2.5l-1.25-2.4zM415.62 185.71h2.5l-1.25-2.4zM415.64 185.55h2.5l-1.25-2.4zM415.66 185.28h2.5l-1.25-2.4zM415.68 185.48h2.5l-1.25-2.4zM415.70 185.54h2.5l-1.25-2.4zM415.72 185.56h2.5l-1.25-2.4zM415.74 185.62h2.5l-1.25-2.4zM415.77 185.20h2.5l-1.25-2.4zM415.79 185.23h2.5l-1.25-2.4zM415.81 185.69h2.5l-1.25-2.4zM415.83 185.52h2.5l-1.25-2.4zM415.85 186.22h2.5l-1.25-2.4zM415.87 185.37h2.5l-1.25-2.4zM415.89 185.37h2.5l-1.25-2.4zM415.91 185.62h2.5l-1.25-2.4zM415.93 185.10h2.5l-1.25-2.4zM415.96 185.81h2.5l-1.25-2.4zM415.98 185.48h2.5l-1.25-2.4zM416.00 185.65h2.5l-1.25-2.4zM416.02 185.52h2.5l-1.25-2.4zM416.04 185.56h2.5l-1.25-2.4zM416.06 185.91h2.5l-1.25-2.4zM416.08 184.82h2.5l-1.25-2.4zM416.10 185.79h2.5l-1.25-2.4zM416.12 185.76h2.5l-1.25-2.4zM416.14 185.53h2.5l-1.25-2.4zM416.16 185.78h2.5l-1.25-2.4zM416.19 186.36h2.5l-1.25-2.4zM416.21 185.61h2.5l-1.25-2.4zM416.23 186.10h2.5l-1.25-2.4zM416.25 185.46h2.5l-1.25-2.4zM416.27 186.36h2.5l-1.25-2.4zM416.29 185.31h2.5l-1.25-2.4zM416.31 186.03h2.5l-1.25-2.4zM416.33 185.59h2.5l-1.25-2.4zM416.35 185.90h2.5l-1.25-2.4zM416.37 185.82h2.5l-1.25-2.4zM416.39 186.17h2.5l-1.25-2.4zM416.41 185.58h2.5l-1.25-2.4zM416.44 185.44h2.5l-1.25-2.4zM416.46 186.09h2.5l-1.25-2.4zM416.48 185.97h2.5l-1.25-2.4zM416.50 185.09h2.5l-1.25-2.4zM416.52 186.55h2.5l-1.25-2.4zM416.54 186.00h2.5l-1.25-2.4zM416.56 185.83h2.5l-1.25-2.4zM416.58 185.41h2.5l-1.25-2.4zM416.60 186.09h2.5l-1.25-2.4zM416.62 186.02h2.5l-1.25-2.4zM416.64 186.15h2.5l-1.25-2.4zM416.66 185.74h2.5l-1.25-2.4zM416.68 187.16h2.5l-1.25-2.4zM416.70 186.26h2.5l-1.25-2.4zM416.73 186.39h2.5l-1.25-2.4zM416.75 186.91h2.5l-1.25-2.4zM416.77 186.05h2.5l-1.25-2.4zM416.79 186.07h2.5l-1.25-2.4zM416.81 185.37h2.5l-1.25-2.4zM416.83 185.39h2.5l-1.25-2.4zM416.85 185.98h2.5l-1.25-2.4zM416.87 186.25h2.5l-1.25-2.4zM416.89 186.21h2.5l-1.25-2.4zM416.91 185.96h2.5l-1.25-2.4zM416.93 186.41h2.5l-1.25-2.4zM416.95 186.52h2.5l-1.25-2.4zM416.97 186.26h2.5l-1.25-2.4zM416.99 186.23h2.5l-1.25-2.4zM417.01 186.46h2.5l-1.25-2.4zM417.03 186.43h2.5l-1.25-2.4zM417.05 185.76h2.5l-1.25-2.4zM417.07 186.18h2.5l-1.25-2.4zM417.09 186.27h2.5l-1.25-2.4zM417.12 186.82h2.5l-1.25-2.4zM417.14 186.18h2.5l-1.25-2.4zM417.16 186.36h2.5l-1.25-2.4zM417.18 186.35h2.5l-1.25-2.4zM417.20 186.31h2.5l-1.25-2.4zM417.22 185.74h2.5l-1.25-2.4zM417.24 186.89h2.5l-1.25-2.4zM417.26 186.31h2.5l-1.25-2.4zM417.28 186.63h2.5l-1.25-2.4zM417.30 186.64h2.5l-1.25-2.4zM417.32 186.18h2.5l-1.25-2.4zM417.34 187.42h2.5l-1.25-2.4zM417.36 185.90h2.5l-1.25-2.4zM417.38 186.60h2.5l-1.25-2.4zM417.40 187.00h2.5l-1.25-2.4zM417.42 186.16h2.5l-1.25-2.4zM417.44 186.62h2.5l-1.25-2.4zM417.46 186.65h2.5l-1.25-2.4zM417.48 186.30h2.5l-1.25-2.4zM417.50 186.34h2.5l-1.25-2.4zM417.52 186.92h2.5l-1.25-2.4zM417.54 186.45h2.5l-1.25-2.4zM417.56 187.29h2.5l-1.25-2.4zM417.58 186.82h2.5l-1.25-2.4zM417.60 187.22h2.5l-1.25-2.4zM417.62 186.88h2.5l-1.25-2.4zM417.64 186.45h2.5l-1.25-2.4zM417.66 186.47h2.5l-1.25-2.4zM417.68 186.57h2.5l-1.25-2.4zM417.70 186.78h2.5l-1.25-2.4zM417.72 186.14h2.5l-1.25-2.4zM417.74 187.07h2.5l-1.25-2.4zM417.76 186.71h2.5l-1.25-2.4zM417.78 186.55h2.5l-1.25-2.4zM417.81 186.31h2.5l-1.25-2.4zM417.83 187.14h2.5l-1.25-2.4zM417.85 186.55h2.5l-1.25-2.4zM417.87 186.58h2.5l-1.25-2.4zM417.89 185.87h2.5l-1.25-2.4zM417.91 187.12h2.5l-1.25-2.4zM417.93 187.27h2.5l-1.25-2.4zM417.95 187.30h2.5l-1.25-2.4zM417.97 186.26h2.5l-1.25-2.4zM417.99 187.14h2.5l-1.25-2.4zM418.01 186.74h2.5l-1.25-2.4zM418.03 186.81h2.5l-1.25-2.4zM418.05 186.86h2.5l-1.25-2.4zM418.07 187.25h2.5l-1.25-2.4zM418.09 187.38h2.5l-1.25-2.4zM418.11 186.95h2.5l-1.25-2.4zM418.13 186.85h2.5l-1.25-2.4zM418.15 187.34h2.5l-1.25-2.4zM418.17 187.04h2.5l-1.25-2.4zM418.19 186.98h2.5l-1.25-2.4zM418.21 186.68h2.5l-1.25-2.4zM418.23 187.08h2.5l-1.25-2.4zM418.25 187.15h2.5l-1.25-2.4zM418.27 186.66h2.5l-1.25-2.4zM418.29 186.60h2.5l-1.25-2.4zM418.31 187.05h2.5l-1.25-2.4zM418.33 186.65h2.5l-1.25-2.4zM418.35 187.08h2.5l-1.25-2.4zM418.37 187.35h2.5l-1.25-2.4zM418.39 186.88h2.5l-1.25-2.4zM418.40 186.27h2.5l-1.25-2.4zM418.42 186.73h2.5l-1.25-2.4zM418.44 187.14h2.5l-1.25-2.4zM418.46 187.22h2.5l-1.25-2.4zM418.48 186.95h2.5l-1.25-2.4zM418.50 188.27h2.5l-1.25-2.4zM418.52 187.64h2.5l-1.25-2.4zM418.54 187.06h2.5l-1.25-2.4zM418.56 187.75h2.5l-1.25-2.4zM418.58 187.52h2.5l-1.25-2.4zM418.60 188.01h2.5l-1.25-2.4zM418.62 187.36h2.5l-1.25-2.4zM418.64 187.65h2.5l-1.25-2.4zM418.66 186.91h2.5l-1.25-2.4zM418.68 187.26h2.5l-1.25-2.4zM418.70 187.12h2.5l-1.25-2.4zM418.72 187.89h2.5l-1.25-2.4zM418.74 187.47h2.5l-1.25-2.4zM418.76 188.11h2.5l-1.25-2.4zM418.78 187.37h2.5l-1.25-2.4zM418.80 188.67h2.5l-1.25-2.4zM418.82 187.28h2.5l-1.25-2.4zM418.84 187.12h2.5l-1.25-2.4zM418.86 186.86h2.5l-1.25-2.4zM418.88 187.09h2.5l-1.25-2.4zM418.90 187.76h2.5l-1.25-2.4zM418.92 187.31h2.5l-1.25-2.4zM418.94 187.88h2.5l-1.25-2.4zM418.96 187.38h2.5l-1.25-2.4zM418.98 187.81h2.5l-1.25-2.4zM419.00 187.89h2.5l-1.25-2.4zM419.02 187.29h2.5l-1.25-2.4zM419.04 188.90h2.5l-1.25-2.4zM419.06 187.77h2.5l-1.25-2.4zM419.08 187.79h2.5l-1.25-2.4zM419.09 187.63h2.5l-1.25-2.4zM419.11 188.54h2.5l-1.25-2.4zM419.13 188.34h2.5l-1.25-2.4zM419.15 187.96h2.5l-1.25-2.4zM419.17 187.67h2.5l-1.25-2.4zM419.19 187.58h2.5l-1.25-2.4zM419.21 188.48h2.5l-1.25-2.4zM419.23 188.09h2.5l-1.25-2.4zM419.25 188.71h2.5l-1.25-2.4zM419.27 188.43h2.5l-1.25-2.4zM419.29 188.57h2.5l-1.25-2.4zM419.31 186.94h2.5l-1.25-2.4zM419.33 188.78h2.5l-1.25-2.4zM419.35 187.66h2.5l-1.25-2.4zM419.37 187.76h2.5l-1.25-2.4zM419.39 188.48h2.5l-1.25-2.4zM419.41 188.48h2.5l-1.25-2.4zM419.43 188.55h2.5l-1.25-2.4zM419.45 188.94h2.5l-1.25-2.4zM419.46 188.99h2.5l-1.25-2.4zM419.48 188.20h2.5l-1.25-2.4zM419.50 188.84h2.5l-1.25-2.4zM419.52 188.38h2.5l-1.25-2.4zM419.54 188.13h2.5l-1.25-2.4zM419.56 187.70h2.5l-1.25-2.4zM419.58 187.79h2.5l-1.25-2.4zM419.60 188.57h2.5l-1.25-2.4zM419.62 188.80h2.5l-1.25-2.4zM419.64 188.98h2.5l-1.25-2.4zM419.66 189.24h2.5l-1.25-2.4zM419.68 188.54h2.5l-1.25-2.4zM419.70 188.24h2.5l-1.25-2.4zM419.72 188.49h2.5l-1.25-2.4zM419.74 189.57h2.5l-1.25-2.4zM419.75 188.29h2.5l-1.25-2.4zM419.77 188.49h2.5l-1.25-2.4zM419.79 188.96h2.5l-1.25-2.4zM419.81 189.56h2.5l-1.25-2.4zM419.83 188.97h2.5l-1.25-2.4zM419.85 188.34h2.5l-1.25-2.4zM419.87 189.15h2.5l-1.25-2.4zM419.89 188.98h2.5l-1.25-2.4zM419.91 188.93h2.5l-1.25-2.4zM419.93 190.06h2.5l-1.25-2.4zM419.95 190.07h2.5l-1.25-2.4zM419.97 189.07h2.5l-1.25-2.4zM419.99 188.42h2.5l-1.25-2.4zM420.00 188.55h2.5l-1.25-2.4zM420.02 189.02h2.5l-1.25-2.4zM420.04 188.53h2.5l-1.25-2.4zM420.06 189.29h2.5l-1.25-2.4zM420.08 189.80h2.5l-1.25-2.4zM420.10 189.81h2.5l-1.25-2.4zM420.12 189.11h2.5l-1.25-2.4zM420.14 189.01h2.5l-1.25-2.4zM420.16 190.37h2.5l-1.25-2.4zM420.18 188.57h2.5l-1.25-2.4zM420.20 189.58h2.5l-1.25-2.4zM420.21 189.17h2.5l-1.25-2.4zM420.23 189.84h2.5l-1.25-2.4zM420.25 188.74h2.5l-1.25-2.4zM420.27 189.68h2.5l-1.25-2.4zM420.29 190.48h2.5l-1.25-2.4zM420.31 190.65h2.5l-1.25-2.4zM420.33 189.23h2.5l-1.25-2.4zM420.35 191.16h2.5l-1.25-2.4zM420.37 189.45h2.5l-1.25-2.4zM420.39 191.73h2.5l-1.25-2.4zM420.40 189.13h2.5l-1.25-2.4zM420.42 190.83h2.5l-1.25-2.4zM420.44 191.45h2.5l-1.25-2.4zM420.46 190.59h2.5l-1.25-2.4zM420.48 192.45h2.5l-1.25-2.4zM420.50 192.29h2.5l-1.25-2.4zM420.52 191.93h2.5l-1.25-2.4zM420.54 190.04h2.5l-1.25-2.4zM420.56 191.12h2.5l-1.25-2.4zM420.58 189.59h2.5l-1.25-2.4zM420.59 189.82h2.5l-1.25-2.4zM420.61 192.69h2.5l-1.25-2.4zM420.63 193.46h2.5l-1.25-2.4zM420.65 191.30h2.5l-1.25-2.4zM420.67 189.81h2.5l-1.25-2.4zM420.69 191.18h2.5l-1.25-2.4zM420.71 192.73h2.5l-1.25-2.4zM420.73 192.26h2.5l-1.25-2.4zM420.75 192.31h2.5l-1.25-2.4zM420.76 193.40h2.5l-1.25-2.4zM420.78 191.86h2.5l-1.25-2.4zM420.80 189.95h2.5l-1.25-2.4zM420.82 191.85h2.5l-1.25-2.4zM420.84 193.24h2.5l-1.25-2.4zM420.86 190.49h2.5l-1.25-2.4zM420.88 193.12h2.5l-1.25-2.4zM420.90 193.84h2.5l-1.25-2.4zM420.91 193.54h2.5l-1.25-2.4zM420.93 192.01h2.5l-1.25-2.4zM420.95 192.29h2.5l-1.25-2.4zM420.97 192.44h2.5l-1.25-2.4zM420.99 194.38h2.5l-1.25-2.4zM421.01 191.25h2.5l-1.25-2.4zM421.03 193.80h2.5l-1.25-2.4zM421.05 191.73h2.5l-1.25-2.4zM421.06 193.07h2.5l-1.25-2.4zM421.08 190.96h2.5l-1.25-2.4zM421.10 194.15h2.5l-1.25-2.4zM421.12 192.24h2.5l-1.25-2.4zM421.14 194.93h2.5l-1.25-2.4zM421.16 192.01h2.5l-1.25-2.4zM421.18 193.19h2.5l-1.25-2.4zM421.20 191.65h2.5l-1.25-2.4zM421.21 193.82h2.5l-1.25-2.4zM421.23 191.48h2.5l-1.25-2.4zM421.25 195.02h2.5l-1.25-2.4zM421.27 191.32h2.5l-1.25-2.4zM421.29 191.10h2.5l-1.25-2.4zM421.31 195.00h2.5l-1.25-2.4zM421.33 192.47h2.5l-1.25-2.4zM421.34 192.26h2.5l-1.25-2.4zM421.36 192.98h2.5l-1.25-2.4zM421.38 192.39h2.5l-1.25-2.4zM421.40 194.72h2.5l-1.25-2.4zM421.42 194.04h2.5l-1.25-2.4zM421.44 194.40h2.5l-1.25-2.4zM421.46 194.87h2.5l-1.25-2.4zM421.47 195.99h2.5l-1.25-2.4zM421.49 191.86h2.5l-1.25-2.4zM421.51 193.27h2.5l-1.25-2.4zM421.53 194.44h2.5l-1.25-2.4zM421.55 194.01h2.5l-1.25-2.4zM421.57 193.53h2.5l-1.25-2.4zM421.59 192.96h2.5l-1.25-2.4zM421.60 192.49h2.5l-1.25-2.4zM421.62 191.85h2.5l-1.25-2.4zM421.64 193.34h2.5l-1.25-2.4zM421.66 192.97h2.5l-1.25-2.4zM421.68 196.07h2.5l-1.25-2.4zM421.70 192.55h2.5l-1.25-2.4zM421.71 195.01h2.5l-1.25-2.4zM421.73 196.78h2.5l-1.25-2.4zM421.75 194.11h2.5l-1.25-2.4zM421.77 194.73h2.5l-1.25-2.4zM421.79 196.12h2.5l-1.25-2.4zM421.81 192.56h2.5l-1.25-2.4zM421.82 193.44h2.5l-1.25-2.4zM421.84 193.77h2.5l-1.25-2.4zM421.86 193.12h2.5l-1.25-2.4zM421.88 197.00h2.5l-1.25-2.4zM421.90 194.51h2.5l-1.25-2.4zM421.92 193.61h2.5l-1.25-2.4zM421.93 197.64h2.5l-1.25-2.4zM421.95 195.54h2.5l-1.25-2.4zM421.97 196.24h2.5l-1.25-2.4zM421.99 196.61h2.5l-1.25-2.4zM422.01 197.66h2.5l-1.25-2.4zM422.03 195.68h2.5l-1.25-2.4zM422.04 194.11h2.5l-1.25-2.4zM422.06 197.02h2.5l-1.25-2.4zM422.08 197.43h2.5l-1.25-2.4zM422.10 193.80h2.5l-1.25-2.4zM422.12 197.17h2.5l-1.25-2.4zM422.14 195.81h2.5l-1.25-2.4zM422.15 195.66h2.5l-1.25-2.4zM422.17 193.69h2.5l-1.25-2.4zM422.19 194.45h2.5l-1.25-2.4zM422.21 197.39h2.5l-1.25-2.4zM422.23 197.12h2.5l-1.25-2.4zM422.25 198.79h2.5l-1.25-2.4zM422.26 196.71h2.5l-1.25-2.4zM422.28 197.78h2.5l-1.25-2.4zM422.30 194.68h2.5l-1.25-2.4zM422.32 197.97h2.5l-1.25-2.4zM422.34 197.98h2.5l-1.25-2.4zM422.35 196.83h2.5l-1.25-2.4zM422.37 198.11h2.5l-1.25-2.4zM422.39 195.48h2.5l-1.25-2.4zM422.41 196.10h2.5l-1.25-2.4zM422.43 197.05h2.5l-1.25-2.4zM422.45 196.29h2.5l-1.25-2.4zM422.46 198.70h2.5l-1.25-2.4zM422.48 194.93h2.5l-1.25-2.4zM422.50 195.36h2.5l-1.25-2.4zM422.52 196.78h2.5l-1.25-2.4zM422.54 194.32h2.5l-1.25-2.4zM422.55 195.08h2.5l-1.25-2.4zM422.57 197.18h2.5l-1.25-2.4zM422.59 196.34h2.5l-1.25-2.4zM422.61 199.22h2.5l-1.25-2.4zM422.63 196.74h2.5l-1.25-2.4zM422.64 196.21h2.5l-1.25-2.4zM422.66 199.32h2.5l-1.25-2.4zM422.68 199.16h2.5l-1.25-2.4zM422.70 197.33h2.5l-1.25-2.4zM422.72 198.09h2.5l-1.25-2.4zM422.73 195.99h2.5l-1.25-2.4zM422.75 195.45h2.5l-1.25-2.4zM422.77 199.34h2.5l-1.25-2.4zM422.79 199.82h2.5l-1.25-2.4zM422.81 197.24h2.5l-1.25-2.4zM422.82 195.90h2.5l-1.25-2.4zM422.84 198.89h2.5l-1.25-2.4zM422.86 195.11h2.5l-1.25-2.4zM422.88 199.17h2.5l-1.25-2.4zM422.90 197.50h2.5l-1.25-2.4zM422.91 197.47h2.5l-1.25-2.4zM422.93 197.62h2.5l-1.25-2.4zM422.95 196.92h2.5l-1.25-2.4zM422.97 196.58h2.5l-1.25-2.4zM422.99 198.53h2.5l-1.25-2.4zM423.00 196.57h2.5l-1.25-2.4zM423.02 198.58h2.5l-1.25-2.4zM423.04 198.53h2.5l-1.25-2.4zM423.06 197.42h2.5l-1.25-2.4zM423.08 198.16h2.5l-1.25-2.4zM423.09 197.45h2.5l-1.25-2.4zM423.11 197.80h2.5l-1.25-2.4zM423.13 197.81h2.5l-1.25-2.4zM423.15 199.04h2.5l-1.25-2.4zM423.17 200.09h2.5l-1.25-2.4zM423.18 196.23h2.5l-1.25-2.4zM423.20 197.05h2.5l-1.25-2.4zM423.22 195.93h2.5l-1.25-2.4zM423.24 197.33h2.5l-1.25-2.4zM423.25 196.51h2.5l-1.25-2.4zM423.27 200.41h2.5l-1.25-2.4zM423.29 198.47h2.5l-1.25-2.4zM423.31 199.70h2.5l-1.25-2.4zM423.33 198.30h2.5l-1.25-2.4zM423.34 198.71h2.5l-1.25-2.4zM423.36 201.14h2.5l-1.25-2.4zM423.38 197.55h2.5l-1.25-2.4zM423.40 197.27h2.5l-1.25-2.4zM423.41 197.41h2.5l-1.25-2.4zM423.43 197.07h2.5l-1.25-2.4zM423.45 201.46h2.5l-1.25-2.4zM423.47 197.47h2.5l-1.25-2.4zM423.48 199.86h2.5l-1.25-2.4zM423.50 199.33h2.5l-1.25-2.4zM423.52 200.13h2.5l-1.25-2.4zM423.54 200.83h2.5l-1.25-2.4zM423.56 200.56h2.5l-1.25-2.4zM423.57 197.33h2.5l-1.25-2.4zM423.59 198.80h2.5l-1.25-2.4zM423.61 197.95h2.5l-1.25-2.4zM423.63 199.46h2.5l-1.25-2.4zM423.64 200.46h2.5l-1.25-2.4zM423.66 197.55h2.5l-1.25-2.4zM423.68 201.39h2.5l-1.25-2.4zM423.70 201.05h2.5l-1.25-2.4zM423.71 200.39h2.5l-1.25-2.4zM423.73 201.00h2.5l-1.25-2.4zM423.75 199.60h2.5l-1.25-2.4zM423.77 198.99h2.5l-1.25-2.4zM423.79 200.28h2.5l-1.25-2.4zM423.80 201.95h2.5l-1.25-2.4zM423.82 200.83h2.5l-1.25-2.4zM423.84 198.88h2.5l-1.25-2.4zM423.86 198.15h2.5l-1.25-2.4zM423.87 198.36h2.5l-1.25-2.4zM423.89 199.88h2.5l-1.25-2.4zM423.91 199.59h2.5l-1.25-2.4zM423.93 200.24h2.5l-1.25-2.4zM423.94 198.34h2.5l-1.25-2.4zM423.96 201.45h2.5l-1.25-2.4zM423.98 199.11h2.5l-1.25-2.4zM424.00 202.22h2.5l-1.25-2.4zM424.01 199.41h2.5l-1.25-2.4zM424.03 198.85h2.5l-1.25-2.4zM424.05 202.50h2.5l-1.25-2.4zM424.07 202.51h2.5l-1.25-2.4zM424.08 198.25h2.5l-1.25-2.4zM424.10 199.40h2.5l-1.25-2.4zM424.12 202.40h2.5l-1.25-2.4zM424.14 199.40h2.5l-1.25-2.4zM424.15 198.86h2.5l-1.25-2.4zM424.17 201.97h2.5l-1.25-2.4zM424.19 201.41h2.5l-1.25-2.4zM424.21 203.16h2.5l-1.25-2.4zM424.22 201.41h2.5l-1.25-2.4zM424.24 199.47h2.5l-1.25-2.4zM424.26 200.27h2.5l-1.25-2.4zM424.27 200.89h2.5l-1.25-2.4zM424.29 202.78h2.5l-1.25-2.4zM424.31 203.30h2.5l-1.25-2.4zM424.33 202.38h2.5l-1.25-2.4zM424.34 202.14h2.5l-1.25-2.4zM424.36 200.27h2.5l-1.25-2.4zM424.38 199.23h2.5l-1.25-2.4zM424.40 200.70h2.5l-1.25-2.4zM424.41 199.57h2.5l-1.25-2.4zM424.43 202.23h2.5l-1.25-2.4zM424.45 203.34h2.5l-1.25-2.4zM424.47 202.83h2.5l-1.25-2.4zM424.48 203.36h2.5l-1.25-2.4zM424.50 203.52h2.5l-1.25-2.4zM424.52 204.08h2.5l-1.25-2.4zM424.54 203.35h2.5l-1.25-2.4zM424.55 203.04h2.5l-1.25-2.4zM424.57 200.80h2.5l-1.25-2.4zM424.59 203.07h2.5l-1.25-2.4zM424.60 203.90h2.5l-1.25-2.4zM424.62 199.90h2.5l-1.25-2.4zM424.64 203.64h2.5l-1.25-2.4zM424.66 204.29h2.5l-1.25-2.4zM424.67 203.62h2.5l-1.25-2.4zM424.69 201.96h2.5l-1.25-2.4zM424.71 201.79h2.5l-1.25-2.4zM424.73 202.65h2.5l-1.25-2.4zM424.74 200.64h2.5l-1.25-2.4zM424.76 201.80h2.5l-1.25-2.4zM424.78 201.66h2.5l-1.25-2.4zM424.79 204.32h2.5l-1.25-2.4zM424.81 203.49h2.5l-1.25-2.4zM424.83 203.19h2.5l-1.25-2.4zM424.85 204.13h2.5l-1.25-2.4zM424.86 203.00h2.5l-1.25-2.4zM424.88 204.17h2.5l-1.25-2.4zM424.90 202.44h2.5l-1.25-2.4zM424.91 202.70h2.5l-1.25-2.4zM424.93 200.77h2.5l-1.25-2.4zM424.95 201.62h2.5l-1.25-2.4zM424.97 202.14h2.5l-1.25-2.4zM424.98 203.47h2.5l-1.25-2.4zM425.00 205.11h2.5l-1.25-2.4zM425.02 204.64h2.5l-1.25-2.4zM425.03 202.89h2.5l-1.25-2.4zM425.05 201.83h2.5l-1.25-2.4zM425.07 205.10h2.5l-1.25-2.4zM425.09 202.59h2.5l-1.25-2.4zM425.10 204.94h2.5l-1.25-2.4zM425.12 201.33h2.5l-1.25-2.4zM425.14 204.18h2.5l-1.25-2.4zM425.15 203.92h2.5l-1.25-2.4zM425.17 201.46h2.5l-1.25-2.4zM425.19 204.53h2.5l-1.25-2.4zM425.20 203.25h2.5l-1.25-2.4zM425.22 202.92h2.5l-1.25-2.4zM425.24 202.16h2.5l-1.25-2.4zM425.26 206.78h2.5l-1.25-2.4zM425.27 202.75h2.5l-1.25-2.4zM425.29 203.45h2.5l-1.25-2.4zM425.31 203.03h2.5l-1.25-2.4zM425.32 202.20h2.5l-1.25-2.4zM425.34 204.93h2.5l-1.25-2.4zM425.36 203.06h2.5l-1.25-2.4zM425.37 205.38h2.5l-1.25-2.4zM425.39 204.32h2.5l-1.25-2.4zM425.41 204.87h2.5l-1.25-2.4zM425.43 204.31h2.5l-1.25-2.4zM425.44 203.18h2.5l-1.25-2.4zM425.46 205.44h2.5l-1.25-2.4zM425.48 202.86h2.5l-1.25-2.4zM425.49 206.78h2.5l-1.25-2.4zM425.51 205.34h2.5l-1.25-2.4zM425.53 202.61h2.5l-1.25-2.4zM425.54 203.22h2.5l-1.25-2.4zM425.56 205.02h2.5l-1.25-2.4zM425.58 203.39h2.5l-1.25-2.4zM425.59 203.33h2.5l-1.25-2.4zM425.61 203.96h2.5l-1.25-2.4zM425.63 206.07h2.5l-1.25-2.4zM425.65 203.33h2.5l-1.25-2.4zM425.66 203.33h2.5l-1.25-2.4zM425.68 205.85h2.5l-1.25-2.4zM425.70 205.67h2.5l-1.25-2.4zM425.71 203.18h2.5l-1.25-2.4zM425.73 205.71h2.5l-1.25-2.4zM425.75 203.55h2.5l-1.25-2.4zM425.76 204.70h2.5l-1.25-2.4zM425.78 208.12h2.5l-1.25-2.4zM425.80 204.85h2.5l-1.25-2.4zM425.81 208.06h2.5l-1.25-2.4zM425.83 205.72h2.5l-1.25-2.4zM425.85 205.79h2.5l-1.25-2.4zM425.86 209.43h2.5l-1.25-2.4zM425.88 205.27h2.5l-1.25-2.4zM425.90 208.85h2.5l-1.25-2.4zM425.91 206.95h2.5l-1.25-2.4zM425.93 207.12h2.5l-1.25-2.4zM425.95 208.30h2.5l-1.25-2.4zM425.96 208.99h2.5l-1.25-2.4zM425.98 207.46h2.5l-1.25-2.4zM426.00 208.21h2.5l-1.25-2.4zM426.02 207.38h2.5l-1.25-2.4zM426.03 205.13h2.5l-1.25-2.4zM426.05 209.46h2.5l-1.25-2.4zM426.07 204.20h2.5l-1.25-2.4zM426.08 208.90h2.5l-1.25-2.4zM426.10 209.87h2.5l-1.25-2.4zM426.12 205.10h2.5l-1.25-2.4zM426.13 208.39h2.5l-1.25-2.4zM426.15 206.46h2.5l-1.25-2.4zM426.17 209.26h2.5l-1.25-2.4zM426.18 209.42h2.5l-1.25-2.4zM426.20 206.16h2.5l-1.25-2.4zM426.22 208.47h2.5l-1.25-2.4zM426.23 204.22h2.5l-1.25-2.4zM426.25 209.02h2.5l-1.25-2.4zM426.27 207.56h2.5l-1.25-2.4zM426.28 205.39h2.5l-1.25-2.4zM426.30 206.58h2.5l-1.25-2.4zM426.32 205.97h2.5l-1.25-2.4zM426.33 207.15h2.5l-1.25-2.4zM426.35 205.47h2.5l-1.25-2.4zM426.37 206.67h2.5l-1.25-2.4zM426.38 205.88h2.5l-1.25-2.4zM426.40 207.07h2.5l-1.25-2.4zM426.41 207.89h2.5l-1.25-2.4zM426.43 205.92h2.5l-1.25-2.4zM426.45 209.30h2.5l-1.25-2.4zM426.46 210.36h2.5l-1.25-2.4zM426.48 206.63h2.5l-1.25-2.4zM426.50 209.69h2.5l-1.25-2.4zM426.51 208.77h2.5l-1.25-2.4zM426.53 208.52h2.5l-1.25-2.4zM426.55 207.04h2.5l-1.25-2.4zM426.56 210.90h2.5l-1.25-2.4zM426.58 211.61h2.5l-1.25-2.4zM426.60 211.71h2.5l-1.25-2.4zM426.61 210.10h2.5l-1.25-2.4zM426.63 206.94h2.5l-1.25-2.4zM426.65 208.71h2.5l-1.25-2.4zM426.66 208.93h2.5l-1.25-2.4zM426.68 212.78h2.5l-1.25-2.4zM426.70 210.56h2.5l-1.25-2.4zM426.71 212.78h2.5l-1.25-2.4zM426.73 212.04h2.5l-1.25-2.4zM426.75 210.22h2.5l-1.25-2.4zM426.76 206.96h2.5l-1.25-2.4zM426.78 212.43h2.5l-1.25-2.4zM426.79 212.93h2.5l-1.25-2.4zM426.81 206.80h2.5l-1.25-2.4zM426.83 207.65h2.5l-1.25-2.4zM426.84 210.54h2.5l-1.25-2.4zM426.86 207.68h2.5l-1.25-2.4zM426.88 206.85h2.5l-1.25-2.4zM426.89 210.57h2.5l-1.25-2.4zM426.91 206.70h2.5l-1.25-2.4zM426.93 209.63h2.5l-1.25-2.4zM426.94 209.09h2.5l-1.25-2.4zM426.96 210.13h2.5l-1.25-2.4zM426.98 210.47h2.5l-1.25-2.4zM426.99 211.01h2.5l-1.25-2.4zM427.01 210.51h2.5l-1.25-2.4zM427.02 209.26h2.5l-1.25-2.4zM427.04 210.71h2.5l-1.25-2.4zM427.06 208.43h2.5l-1.25-2.4zM427.07 210.65h2.5l-1.25-2.4zM427.09 211.76h2.5l-1.25-2.4zM427.11 208.69h2.5l-1.25-2.4zM427.12 210.93h2.5l-1.25-2.4zM427.14 208.40h2.5l-1.25-2.4zM427.15 209.50h2.5l-1.25-2.4zM427.17 207.44h2.5l-1.25-2.4zM427.19 210.83h2.5l-1.25-2.4zM427.20 214.12h2.5l-1.25-2.4zM427.22 209.66h2.5l-1.25-2.4zM427.24 209.84h2.5l-1.25-2.4zM427.25 214.23h2.5l-1.25-2.4zM427.27 215.50h2.5l-1.25-2.4zM427.29 209.29h2.5l-1.25-2.4zM427.30 209.23h2.5l-1.25-2.4zM427.32 208.85h2.5l-1.25-2.4zM427.33 209.43h2.5l-1.25-2.4zM427.35 213.29h2.5l-1.25-2.4zM427.37 209.11h2.5l-1.25-2.4zM427.38 214.45h2.5l-1.25-2.4zM427.40 209.72h2.5l-1.25-2.4zM427.41 212.31h2.5l-1.25-2.4zM427.43 215.24h2.5l-1.25-2.4zM427.45 215.44h2.5l-1.25-2.4zM427.46 213.54h2.5l-1.25-2.4zM427.48 212.99h2.5l-1.25-2.4zM427.50 214.98h2.5l-1.25-2.4zM427.51 213.66h2.5l-1.25-2.4zM427.53 210.12h2.5l-1.25-2.4zM427.54 210.23h2.5l-1.25-2.4zM427.56 215.40h2.5l-1.25-2.4zM427.58 212.23h2.5l-1.25-2.4zM427.59 211.47h2.5l-1.25-2.4zM427.61 216.60h2.5l-1.25-2.4zM427.63 214.06h2.5l-1.25-2.4zM427.64 217.05h2.5l-1.25-2.4zM427.66 212.78h2.5l-1.25-2.4zM427.67 214.61h2.5l-1.25-2.4zM427.69 214.92h2.5l-1.25-2.4zM427.71 216.09h2.5l-1.25-2.4zM427.72 213.16h2.5l-1.25-2.4zM427.74 209.75h2.5l-1.25-2.4zM427.75 212.78h2.5l-1.25-2.4zM427.77 212.79h2.5l-1.25-2.4zM427.79 216.39h2.5l-1.25-2.4zM427.80 218.66h2.5l-1.25-2.4zM427.82 217.32h2.5l-1.25-2.4zM427.83 210.65h2.5l-1.25-2.4zM427.85 217.95h2.5l-1.25-2.4zM427.87 216.51h2.5l-1.25-2.4zM427.88 218.13h2.5l-1.25-2.4zM427.90 214.02h2.5l-1.25-2.4zM427.91 213.78h2.5l-1.25-2.4zM427.93 213.12h2.5l-1.25-2.4zM427.95 217.93h2.5l-1.25-2.4zM427.96 212.63h2.5l-1.25-2.4zM427.98 215.66h2.5l-1.25-2.4zM427.99 217.28h2.5l-1.25-2.4zM428.01 214.28h2.5l-1.25-2.4zM428.03 214.41h2.5l-1.25-2.4zM428.04 211.69h2.5l-1.25-2.4zM428.06 215.07h2.5l-1.25-2.4zM428.07 218.19h2.5l-1.25-2.4zM428.09 218.57h2.5l-1.25-2.4zM428.11 216.05h2.5l-1.25-2.4zM428.12 215.56h2.5l-1.25-2.4zM428.14 218.29h2.5l-1.25-2.4zM428.15 214.93h2.5l-1.25-2.4zM428.17 216.65h2.5l-1.25-2.4zM428.19 217.31h2.5l-1.25-2.4zM428.20 219.78h2.5l-1.25-2.4zM428.22 212.70h2.5l-1.25-2.4zM428.23 217.77h2.5l-1.25-2.4zM428.25 218.81h2.5l-1.25-2.4zM428.27 219.38h2.5l-1.25-2.4zM428.28 218.88h2.5l-1.25-2.4zM428.30 217.95h2.5l-1.25-2.4zM428.31 215.81h2.5l-1.25-2.4zM428.33 219.40h2.5l-1.25-2.4zM428.35 217.56h2.5l-1.25-2.4zM428.36 220.35h2.5l-1.25-2.4zM428.38 213.17h2.5l-1.25-2.4zM428.39 216.54h2.5l-1.25-2.4zM428.41 213.41h2.5l-1.25-2.4zM428.42 213.07h2.5l-1.25-2.4zM428.44 216.59h2.5l-1.25-2.4zM428.46 220.93h2.5l-1.25-2.4zM428.47 216.62h2.5l-1.25-2.4zM428.49 221.14h2.5l-1.25-2.4zM428.50 217.96h2.5l-1.25-2.4zM428.52 216.41h2.5l-1.25-2.4zM428.54 219.80h2.5l-1.25-2.4zM428.55 221.65h2.5l-1.25-2.4zM428.57 221.77h2.5l-1.25-2.4zM428.58 215.21h2.5l-1.25-2.4zM428.60 222.95h2.5l-1.25-2.4zM428.61 217.94h2.5l-1.25-2.4zM428.63 222.14h2.5l-1.25-2.4zM428.65 218.98h2.5l-1.25-2.4zM428.66 214.53h2.5l-1.25-2.4zM428.68 222.39h2.5l-1.25-2.4zM428.69 216.94h2.5l-1.25-2.4zM428.71 219.57h2.5l-1.25-2.4zM428.72 217.33h2.5l-1.25-2.4zM428.74 218.52h2.5l-1.25-2.4zM428.76 219.03h2.5l-1.25-2.4zM428.77 222.44h2.5l-1.25-2.4zM428.79 215.91h2.5l-1.25-2.4zM428.80 224.35h2.5l-1.25-2.4zM428.82 222.53h2.5l-1.25-2.4zM428.83 222.59h2.5l-1.25-2.4zM428.85 222.52h2.5l-1.25-2.4zM428.87 215.71h2.5l-1.25-2.4zM428.88 216.17h2.5l-1.25-2.4zM428.90 224.40h2.5l-1.25-2.4zM428.91 215.38h2.5l-1.25-2.4zM428.93 221.74h2.5l-1.25-2.4zM428.94 226.67h2.5l-1.25-2.4zM428.96 221.83h2.5l-1.25-2.4zM428.98 224.01h2.5l-1.25-2.4zM428.99 224.60h2.5l-1.25-2.4zM429.01 219.97h2.5l-1.25-2.4zM429.02 217.24h2.5l-1.25-2.4zM429.04 226.10h2.5l-1.25-2.4zM429.05 217.77h2.5l-1.25-2.4zM429.07 219.36h2.5l-1.25-2.4zM429.09 220.62h2.5l-1.25-2.4zM429.10 228.03h2.5l-1.25-2.4zM429.12 218.96h2.5l-1.25-2.4zM429.13 222.48h2.5l-1.25-2.4zM429.15 226.43h2.5l-1.25-2.4zM429.16 228.46h2.5l-1.25-2.4zM429.18 226.90h2.5l-1.25-2.4zM429.19 227.77h2.5l-1.25-2.4zM429.21 224.65h2.5l-1.25-2.4zM429.23 222.20h2.5l-1.25-2.4zM429.24 220.52h2.5l-1.25-2.4zM429.26 224.43h2.5l-1.25-2.4zM429.27 228.91h2.5l-1.25-2.4zM429.29 225.04h2.5l-1.25-2.4zM429.30 227.68h2.5l-1.25-2.4zM429.32 226.85h2.5l-1.25-2.4zM429.33 225.15h2.5l-1.25-2.4zM429.35 228.42h2.5l-1.25-2.4zM429.37 224.71h2.5l-1.25-2.4zM429.38 228.04h2.5l-1.25-2.4zM429.40 226.56h2.5l-1.25-2.4zM429.41 223.49h2.5l-1.25-2.4zM429.43 223.53h2.5l-1.25-2.4zM429.44 219.31h2.5l-1.25-2.4zM429.46 218.80h2.5l-1.25-2.4zM429.47 223.95h2.5l-1.25-2.4zM429.49 227.21h2.5l-1.25-2.4zM429.50 232.65h2.5l-1.25-2.4zM429.52 219.13h2.5l-1.25-2.4zM429.54 229.77h2.5l-1.25-2.4zM429.55 234.56h2.5l-1.25-2.4zM429.57 218.03h2.5l-1.25-2.4zM429.58 225.58h2.5l-1.25-2.4zM429.60 229.25h2.5l-1.25-2.4zM429.61 228.87h2.5l-1.25-2.4zM429.63 221.91h2.5l-1.25-2.4zM429.64 221.70h2.5l-1.25-2.4zM429.66 224.32h2.5l-1.25-2.4zM429.67 233.82h2.5l-1.25-2.4zM429.69 220.32h2.5l-1.25-2.4zM429.71 227.07h2.5l-1.25-2.4zM429.72 221.43h2.5l-1.25-2.4zM429.74 226.95h2.5l-1.25-2.4zM429.75 233.48h2.5l-1.25-2.4zM429.77 236.06h2.5l-1.25-2.4zM429.78 231.52h2.5l-1.25-2.4zM429.80 226.33h2.5l-1.25-2.4zM429.81 231.23h2.5l-1.25-2.4zM429.83 224.45h2.5l-1.25-2.4zM429.84 232.68h2.5l-1.25-2.4zM429.86 234.85h2.5l-1.25-2.4zM429.87 223.22h2.5l-1.25-2.4zM429.89 239.99h2.5l-1.25-2.4zM429.91 239.13h2.5l-1.25-2.4zM429.92 254.24h2.5l-1.25-2.4zM429.94 247.91h2.5l-1.25-2.4zM429.95 238.23h2.5l-1.25-2.4zM429.97 237.42h2.5l-1.25-2.4zM429.98 222.92h2.5l-1.25-2.4zM430.00 242.69h2.5l-1.25-2.4zM430.01 241.05h2.5l-1.25-2.4zM430.03 249.27h2.5l-1.25-2.4zM430.04 220.69h2.5l-1.25-2.4zM430.06 255.11h2.5l-1.25-2.4zM430.07 253.76h2.5l-1.25-2.4zM430.09 230.70h2.5l-1.25-2.4zM430.10 236.16h2.5l-1.25-2.4zM430.12 232.28h2.5l-1.25-2.4zM430.13 244.97h2.5l-1.25-2.4zM430.15 245.76h2.5l-1.25-2.4zM430.16 246.07h2.5l-1.25-2.4zM430.18 229.79h2.5l-1.25-2.4zM430.20 254.37h2.5l-1.25-2.4zM430.21 243.25h2.5l-1.25-2.4zM430.23 243.28h2.5l-1.25-2.4zM430.24 239.91h2.5l-1.25-2.4zM430.26 224.68h2.5l-1.25-2.4zM430.27 248.65h2.5l-1.25-2.4zM430.29 222.95h2.5l-1.25-2.4zM430.30 247.80h2.5l-1.25-2.4zM430.32 230.27h2.5l-1.25-2.4zM430.33 237.53h2.5l-1.25-2.4zM430.35 244.23h2.5l-1.25-2.4zM430.36 249.84h2.5l-1.25-2.4zM430.38 237.53h2.5l-1.25-2.4zM430.39 253.06h2.5l-1.25-2.4zM430.41 234.08h2.5l-1.25-2.4zM430.42 235.13h2.5l-1.25-2.4zM430.44 249.21h2.5l-1.25-2.4zM430.45 239.00h2.5l-1.25-2.4zM430.47 241.35h2.5l-1.25-2.4zM430.48 225.15h2.5l-1.25-2.4zM430.50 251.23h2.5l-1.25-2.4zM430.51 230.61h2.5l-1.25-2.4zM430.53 225.83h2.5l-1.25-2.4zM430.54 251.93h2.5l-1.25-2.4zM430.56 230.94h2.5l-1.25-2.4zM430.57 228.78h2.5l-1.25-2.4zM430.59 246.68h2.5l-1.25-2.4zM430.60 253.40h2.5l-1.25-2.4zM430.62 233.73h2.5l-1.25-2.4zM430.63 233.56h2.5l-1.25-2.4zM430.65 230.33h2.5l-1.25-2.4zM430.66 229.17h2.5l-1.25-2.4zM430.68 248.74h2.5l-1.25-2.4zM430.69 241.68h2.5l-1.25-2.4zM430.71 244.87h2.5l-1.25-2.4zM430.73 236.28h2.5l-1.25-2.4zM430.74 232.27h2.5l-1.25-2.4zM430.76 233.68h2.5l-1.25-2.4zM430.77 231.29h2.5l-1.25-2.4zM430.79 236.05h2.5l-1.25-2.4zM430.80 235.75h2.5l-1.25-2.4zM430.82 247.74h2.5l-1.25-2.4zM430.83 237.73h2.5l-1.25-2.4zM430.85 249.46h2.5l-1.25-2.4zM430.86 236.80h2.5l-1.25-2.4zM430.88 253.91h2.5l-1.25-2.4zM430.89 228.80h2.5l-1.25-2.4zM430.91 227.49h2.5l-1.25-2.4zM430.92 247.46h2.5l-1.25-2.4zM430.94 244.58h2.5l-1.25-2.4zM430.95 245.27h2.5l-1.25-2.4zM430.97 243.89h2.5l-1.25-2.4zM430.98 240.18h2.5l-1.25-2.4zM431.00 240.25h2.5l-1.25-2.4zM431.01 251.58h2.5l-1.25-2.4zM431.02 232.58h2.5l-1.25-2.4zM431.04 236.80h2.5l-1.25-2.4zM431.05 232.81h2.5l-1.25-2.4zM431.07 239.72h2.5l-1.25-2.4zM431.08 240.29h2.5l-1.25-2.4zM431.10 231.51h2.5l-1.25-2.4zM431.11 254.46h2.5l-1.25-2.4zM431.13 241.79h2.5l-1.25-2.4zM431.14 243.89h2.5l-1.25-2.4zM431.16 255.09h2.5l-1.25-2.4zM431.17 252.61h2.5l-1.25-2.4zM431.19 253.82h2.5l-1.25-2.4zM431.20 244.39h2.5l-1.25-2.4zM431.22 239.95h2.5l-1.25-2.4zM431.23 232.41h2.5l-1.25-2.4zM431.25 243.33h2.5l-1.25-2.4zM431.26 235.17h2.5l-1.25-2.4zM431.28 244.78h2.5l-1.25-2.4zM431.29 232.06h2.5l-1.25-2.4zM431.31 250.16h2.5l-1.25-2.4zM431.32 249.18h2.5l-1.25-2.4zM431.34 252.82h2.5l-1.25-2.4zM431.35 241.54h2.5l-1.25-2.4zM431.37 240.90h2.5l-1.25-2.4zM431.38 243.22h2.5l-1.25-2.4zM431.40 244.59h2.5l-1.25-2.4zM431.41 242.62h2.5l-1.25-2.4zM431.43 246.38h2.5l-1.25-2.4zM431.44 246.18h2.5l-1.25-2.4zM431.46 251.05h2.5l-1.25-2.4zM431.47 245.53h2.5l-1.25-2.4zM431.49 240.94h2.5l-1.25-2.4zM431.50 242.18h2.5l-1.25-2.4zM431.52 242.48h2.5l-1.25-2.4zM431.53 244.08h2.5l-1.25-2.4zM431.54 247.15h2.5l-1.25-2.4zM431.56 249.92h2.5l-1.25-2.4zM431.57 253.99h2.5l-1.25-2.4zM431.59 247.19h2.5l-1.25-2.4zM431.60 249.94h2.5l-1.25-2.4zM431.62 243.49h2.5l-1.25-2.4zM431.63 254.25h2.5l-1.25-2.4zM431.65 247.67h2.5l-1.25-2.4zM431.66 245.77h2.5l-1.25-2.4zM431.68 253.94h2.5l-1.25-2.4zM431.69 244.61h2.5l-1.25-2.4zM431.71 249.26h2.5l-1.25-2.4zM431.72 251.76h2.5l-1.25-2.4zM431.74 249.28h2.5l-1.25-2.4zM431.75 252.56h2.5l-1.25-2.4zM431.77 248.09h2.5l-1.25-2.4zM431.78 252.12h2.5l-1.25-2.4zM431.80 253.48h2.5l-1.25-2.4zM431.81 254.05h2.5l-1.25-2.4zM431.82 252.31h2.5l-1.25-2.4zM431.84 254.92h2.5l-1.25-2.4zM431.85 254.58h2.5l-1.25-2.4zM431.87 252.98h2.5l-1.25-2.4zM431.88 254.09h2.5l-1.25-2.4zM431.90 254.70h2.5l-1.25-2.4zM431.91 252.83h2.5l-1.25-2.4zM431.93 253.45h2.5l-1.25-2.4zM431.94 255.06h2.5l-1.25-2.4zM431.96 252.24h2.5l-1.25-2.4zM431.97 253.72h2.5l-1.25-2.4zM431.99 253.59h2.5l-1.25-2.4zM432.00 254.19h2.5l-1.25-2.4zM432.02 254.64h2.5l-1.25-2.4zM432.03 255.28h2.5l-1.25-2.4zM432.04 255.22h2.5l-1.25-2.4zM432.06 254.37h2.5l-1.25-2.4zM432.07 254.71h2.5l-1.25-2.4zM432.09 254.15h2.5l-1.25-2.4zM429.85 258.50h2.5l-1.25-2.4zM431.45 259.60h2.5l-1.25-2.4zM430.95 261.70h2.5l-1.25-2.4zM431.45 264.80h2.5l-1.25-2.4zM429.65 271.50h2.5l-1.25-2.4zM430.35 256.60h2.5l-1.25-2.4zM431.85 257.30h2.5l-1.25-2.4zM430.65 263.30h2.5l-1.25-2.4zM116.15 269.10h2.5l-1.25-2.4z"/>
</g>
<line x1="77.5" y1="25.6" x2="445.5" y2="182.95" stroke="#000" stroke-width="0.6"/>
<path d="M108.25 281.4v-2.2M108.25 19.3v2.2M126.24 281.4v-2.2M126.24 19.3v2.2M139.01 281.4v-2.2M139.01 19.3v2.2M148.91 281.4v-2.2M148.91 19.3v2.2M157.00 281.4v-2.2M157.00 19.3v2.2M163.84 281.4v-2.2M163.84 19.3v2.2M169.76 281.4v-2.2M169.76 19.3v2.2M174.99 281.4v-2.2M174.99 19.3v2.2M179.66 281.4v-4.4M179.66 19.3v4.4M210.42 281.4v-2.2M210.42 19.3v2.2M228.41 281.4v-2.2M228.41 19.3v2.2M241.17 281.4v-2.2M241.17 19.3v2.2M251.07 281.4v-2.2M251.07 19.3v2.2M259.16 281.4v-2.2M259.16 19.3v2.2M266.00 281.4v-2.2M266.00 19.3v2.2M271.93 281.4v-2.2M271.93 19.3v2.2M277.15 281.4v-2.2M277.15 19.3v2.2M281.83 281.4v-4.4M281.83 19.3v4.4M312.58 281.4v-2.2M312.58 19.3v2.2M330.57 281.4v-2.2M330.57 19.3v2.2M343.34 281.4v-2.2M343.34 19.3v2.2M353.24 281.4v-2.2M353.24 19.3v2.2M361.33 281.4v-2.2M361.33 19.3v2.2M368.17 281.4v-2.2M368.17 19.3v2.2M374.09 281.4v-2.2M374.09 19.3v2.2M379.32 281.4v-2.2M379.32 19.3v2.2M383.99 281.4v-4.4M383.99 19.3v4.4M414.75 281.4v-2.2M414.75 19.3v2.2M432.74 281.4v-2.2M432.74 19.3v2.2M445.50 281.4v-2.2M445.50 19.3v2.2M77.5 19.30h4.4M445.5 19.30h-4.4M77.5 41.14h2.2M445.5 41.14h-2.2M77.5 62.98h4.4M445.5 62.98h-4.4M77.5 84.82h2.2M445.5 84.82h-2.2M77.5 106.67h4.4M445.5 106.67h-4.4M77.5 128.51h2.2M445.5 128.51h-2.2M77.5 150.35h4.4M445.5 150.35h-4.4M77.5 172.19h2.2M445.5 172.19h-2.2M77.5 194.03h4.4M445.5 194.03h-4.4M77.5 215.88h2.2M445.5 215.88h-2.2M77.5 237.72h4.4M445.5 237.72h-4.4M77.5 259.56h2.2M445.5 259.56h-2.2M77.5 281.40h4.4M445.5 281.40h-4.4" stroke="#000" stroke-width="0.7" fill="none"/>
<rect x="77.5" y="19.3" width="368.0" height="262.10" fill="none" stroke="#000" stroke-width="1.1"/>
<g style="filter:opacity(1)">
<text transform="translate(67.80,25.70) scale(0.95,1)" text-anchor="end" font-size="16.0">10<tspan font-size="12.80" dy="-8.00">0</tspan></text>
<text transform="translate(67.80,69.38) scale(0.95,1)" text-anchor="end" font-size="16.0">10<tspan font-size="12.80" dy="-8.00">-2</tspan></text>
<text transform="translate(67.80,113.07) scale(0.95,1)" text-anchor="end" font-size="16.0">10<tspan font-size="12.80" dy="-8.00">-4</tspan></text>
<text transform="translate(67.80,156.75) scale(0.95,1)" text-anchor="end" font-size="16.0">10<tspan font-size="12.80" dy="-8.00">-6</tspan></text>
<text transform="translate(67.80,200.43) scale(0.95,1)" text-anchor="end" font-size="16.0">10<tspan font-size="12.80" dy="-8.00">-8</tspan></text>
<text transform="translate(67.80,244.12) scale(0.95,1)" text-anchor="end" font-size="16.0">10<tspan font-size="12.80" dy="-8.00">-10</tspan></text>
<text transform="translate(67.80,287.80) scale(0.95,1)" text-anchor="end" font-size="16.0">10<tspan font-size="12.80" dy="-8.00">-12</tspan></text>
<text transform="translate(77.70,303.80) scale(0.95,1)" text-anchor="middle" font-size="16.0">10<tspan font-size="12.80" dy="-8.00">0</tspan></text>
<text transform="translate(179.86,303.80) scale(0.95,1)" text-anchor="middle" font-size="16.0">10<tspan font-size="12.80" dy="-8.00">1</tspan></text>
<text transform="translate(282.03,303.80) scale(0.95,1)" text-anchor="middle" font-size="16.0">10<tspan font-size="12.80" dy="-8.00">2</tspan></text>
<text transform="translate(384.19,303.80) scale(0.95,1)" text-anchor="middle" font-size="16.0">10<tspan font-size="12.80" dy="-8.00">3</tspan></text>
<text transform="translate(106.00,141.90) scale(1.0,1)" text-anchor="end" font-size="16">2<tspan font-size="13.20" dy="-7.90">8</tspan></text>
<text transform="translate(106.00,160.90) scale(1.0,1)" text-anchor="end" font-size="16">2<tspan font-size="13.20" dy="-7.90">9</tspan></text>
<text transform="translate(106.00,179.90) scale(1.0,1)" text-anchor="end" font-size="16">2<tspan font-size="13.20" dy="-7.90">10</tspan></text>
<text transform="translate(106.00,198.90) scale(1.0,1)" text-anchor="end" font-size="16">2<tspan font-size="13.20" dy="-7.90">11</tspan></text>
<text transform="translate(106.00,217.90) scale(1.0,1)" text-anchor="end" font-size="16">2<tspan font-size="13.20" dy="-7.90">12</tspan></text>
<text transform="translate(106.00,236.90) scale(1.0,1)" text-anchor="end" font-size="16">2<tspan font-size="13.20" dy="-7.90">13</tspan></text>
<text transform="translate(106.00,255.90) scale(1.0,1)" text-anchor="end" font-size="16">2<tspan font-size="13.20" dy="-7.90">14</tspan></text>
<text transform="translate(106.00,274.90) scale(1.0,1)" text-anchor="end" font-size="16">2<tspan font-size="13.20" dy="-7.90">15</tspan></text>
<text transform="translate(353.00,137.30) scale(0.95,1)" text-anchor="start" font-size="20.0">s<tspan font-size="14.80" dy="-9.50">-2</tspan></text>
<text transform="translate(261.6,327.8) scale(0.95,1)" text-anchor="middle" font-size="20.0">s</text>
<text transform="translate(19,150.4) rotate(-90) scale(0.94,1)" text-anchor="middle" font-size="20.0">P(s)</text>
</g>
</svg>
</body></html>
